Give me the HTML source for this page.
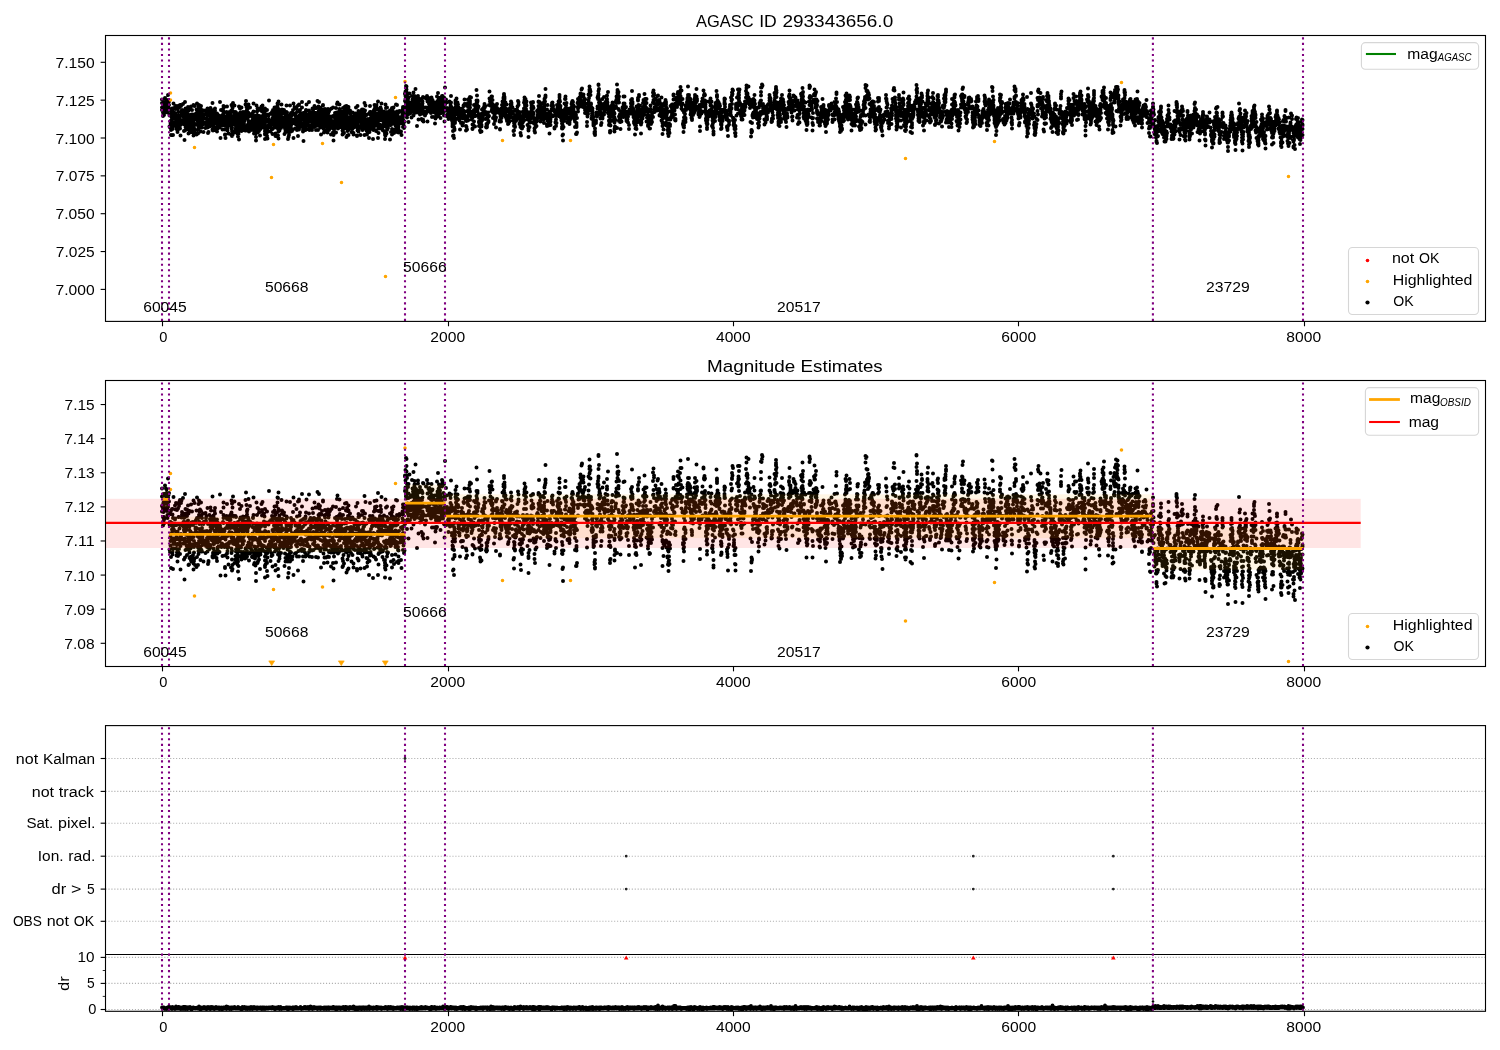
<!DOCTYPE html><html><head><meta charset="utf-8"><style>html,body{margin:0;padding:0;background:#fff;overflow:hidden}svg{display:block;will-change:transform}text{font-family:"Liberation Sans",sans-serif}</style></head><body>
<svg width="1500" height="1050" viewBox="0 0 1500 1050">
<rect width="1500" height="1050" fill="#fff"/>
<defs>
<clipPath id="ct"><rect x="105.5" y="35.5" width="1380" height="285.9"/></clipPath>
<clipPath id="cm"><rect x="105.5" y="380.5" width="1380" height="286"/></clipPath>
<clipPath id="cb"><rect x="105.5" y="725.6" width="1380" height="285.7"/></clipPath>
</defs>
<text x="696.03" y="26.9" font-size="16.67" textLength="57.56" lengthAdjust="spacingAndGlyphs">AGASC</text>
<text x="759.17" y="26.9" font-size="16.67" textLength="17.59" lengthAdjust="spacingAndGlyphs">ID</text>
<text x="782.48" y="26.9" font-size="16.67" textLength="110.71" lengthAdjust="spacingAndGlyphs">293343656.0</text>
<text x="707.03" y="372" font-size="16.67" textLength="88.16" lengthAdjust="spacingAndGlyphs">Magnitude</text>
<text x="800.64" y="372" font-size="16.67" textLength="82.06" lengthAdjust="spacingAndGlyphs">Estimates</text>
<path clip-path="url(#ct)" d="M162 103h0M162 110h0M162 107.5h0M162 99.5h0M162.5 107.5h0M162.5 107h0M162.5 107h0M163 112.5h0M163 116h0M163 109h0M163.5 110h0M163.5 106h0M163.5 102h0M163.5 114.5h0M163.5 112.5h0M164 106.5h0M164 113.5h0M164 115h0M164 112h0M164 108h0M164.5 102h0M164.5 105.5h0M164.5 106h0M164.5 105.5h0M165 98h0M165.5 106h0M165.5 105.5h0M165.5 103h0M165.5 105h0M165.5 105h0M165.5 109h0M165.5 104.5h0M165.5 106h0M166 99.5h0M166 101.5h0M166 104.5h0M166.5 101.5h0M166.5 106h0M166.5 100h0M166.5 104.5h0M166.5 102h0M167 109.5h0M167 103h0M167.5 111.5h0M167.5 112.5h0M167.5 105.5h0M167.5 108h0M168 103.5h0M168 95h0M168 108h0M168 107h0M168 103.5h0M168.5 102.5h0M168.5 105h0M169 105h0M169 101.5h0M169 109.5h0M169.5 126.5h0M169.5 115.5h0M170 110h0M170 127.5h0M170.5 114.5h0M170.5 125h0M170.5 111h0M170.5 121h0M170.5 123h0M171 130h0M171 135h0M171 116h0M171 109h0M172 115.5h0M172 108.5h0M172 122h0M172 119h0M172 118h0M172 115h0M172.5 129h0M172.5 111h0M172.5 108.5h0M172.5 126.5h0M172.5 127.5h0M172.5 115.5h0M173 123h0M173 135h0M173 112.5h0M173 117.5h0M173.5 122h0M173.5 103.5h0M173.5 117.5h0M173.5 124h0M174 118h0M174 126h0M174 124h0M174 116h0M174.5 123h0M174.5 122h0M175 107h0M175 113h0M175 113.5h0M175 115.5h0M175.5 115.5h0M175.5 109h0M176 119.5h0M176 106h0M176 126h0M176.5 121h0M176.5 129h0M176.5 122h0M176.5 115.5h0M177 109h0M177 124h0M177 119.5h0M177 122h0M177 124.5h0M177 128h0M177 119h0M177.5 132h0M177.5 118.5h0M177.5 119.5h0M177.5 124h0M177.5 127h0M178 129.5h0M178 106h0M178 129h0M178 108.5h0M178.5 115.5h0M178.5 122h0M178.5 128h0M178.5 112h0M179 107.5h0M179 126.5h0M179 122h0M179 112h0M179.5 117.5h0M179.5 105.5h0M180 124h0M180 116h0M180 128.5h0M180 105h0M180.5 125h0M180.5 135.5h0M180.5 120.5h0M181 121h0M181 106h0M181 122h0M181 120h0M181.5 115.5h0M181.5 105h0M181.5 112.5h0M182 111h0M182 110h0M182.5 112h0M182.5 115.5h0M182.5 112h0M182.5 116h0M182.5 111h0M182.5 122h0M183 104h0M183 112h0M183.5 115.5h0M183.5 124h0M183.5 116h0M183.5 116.5h0M183.5 114.5h0M184 118h0M184 113h0M184 124h0M184 118h0M184 131h0M184.5 114.5h0M184.5 119h0M184.5 123h0M184.5 111.5h0M184.5 115h0M184.5 140h0M184.5 119.5h0M185 130.5h0M185 112h0M185 102h0M185 123.5h0M185 119.5h0M185 121.5h0M185.5 117.5h0M185.5 115.5h0M185.5 110.5h0M185.5 127h0M185.5 108.5h0M186.5 126.5h0M186.5 118h0M186.5 111.5h0M186.5 115h0M186.5 126.5h0M186.5 125h0M187 123h0M187 120h0M187 111.5h0M187 129h0M187 116.5h0M187 115.5h0M187.5 116h0M187.5 116.5h0M187.5 109h0M188 116.5h0M188 114h0M188 116h0M188 107h0M188.5 133.5h0M188.5 110.5h0M188.5 121.5h0M189 122h0M189 127h0M189 133h0M189 122.5h0M189 125h0M189.5 116.5h0M189.5 130.5h0M189.5 109.5h0M189.5 118h0M189.5 121.5h0M189.5 125h0M189.5 125.5h0M189.5 128h0M189.5 124h0M190 120h0M190 121h0M190.5 130h0M190.5 122h0M190.5 126.5h0M190.5 118.5h0M191 106.5h0M191 115.5h0M191 122h0M191 131.5h0M191 130h0M191.5 132h0M191.5 114.5h0M191.5 125.5h0M192 119.5h0M192 124.5h0M192 119h0M192 110h0M192.5 125h0M192.5 130.5h0M192.5 130h0M193 114.5h0M193 129h0M193 115.5h0M193 125h0M193.5 133h0M193.5 121h0M193.5 105h0M193.5 135.5h0M194 125.5h0M194 123h0M194 128h0M194 131.5h0M194.5 130.5h0M194.5 125h0M194.5 106h0M195 133.5h0M195.5 117h0M195.5 117.5h0M195.5 124h0M195.5 119h0M196 113.5h0M196 119h0M196 117h0M196 115h0M196.5 134.5h0M196.5 109.5h0M197 103.5h0M197 113h0M197 112.5h0M197 130h0M197.5 120.5h0M198 125.5h0M198 124h0M198 113h0M198 125.5h0M198 121h0M198 133.5h0M198.5 121h0M198.5 119h0M198.5 125h0M198.5 125h0M198.5 106.5h0M198.5 128.5h0M198.5 127.5h0M199 125.5h0M199 111.5h0M199 105h0M199 117.5h0M199 125h0M199 123h0M199.5 112.5h0M199.5 126.5h0M199.5 109.5h0M199.5 110h0M199.5 119.5h0M199.5 115.5h0M199.5 114.5h0M200 109h0M200 127.5h0M200 111.5h0M200 122.5h0M200.5 125.5h0M200.5 119h0M200.5 121.5h0M200.5 127h0M200.5 131.5h0M201 126.5h0M201 109.5h0M201 106h0M201.5 115h0M201.5 111.5h0M201.5 123.5h0M201.5 120.5h0M201.5 118h0M201.5 127.5h0M201.5 127h0M201.5 119h0M201.5 122h0M202 127.5h0M202 117h0M202 122h0M202 112.5h0M202.5 120h0M202.5 122h0M202.5 119h0M202.5 121h0M202.5 124.5h0M203 123h0M203.5 114.5h0M203.5 115.5h0M203.5 110.5h0M203.5 132h0M204 122.5h0M204 123h0M204 118.5h0M205 123h0M205 123.5h0M205 114.5h0M205.5 118.5h0M205.5 128h0M205.5 110.5h0M206 113h0M206 124h0M206 114h0M206 125h0M206.5 112h0M207 121.5h0M207 125.5h0M207 122.5h0M207 125.5h0M207 118.5h0M207 118.5h0M207 119.5h0M207 124h0M207.5 108.5h0M207.5 127.5h0M208 123.5h0M208 121h0M208 115.5h0M208 133h0M208 124h0M208 124.5h0M208 133h0M208.5 132h0M208.5 132h0M209.5 126.5h0M209.5 111.5h0M209.5 120h0M210 113h0M210 121.5h0M210 119.5h0M210 121h0M210.5 116.5h0M210.5 114h0M210.5 118h0M210.5 124.5h0M210.5 125.5h0M210.5 108h0M211 122h0M211 122h0M211 109.5h0M211.5 112h0M211.5 116h0M212 122.5h0M212.5 103h0M212.5 117h0M212.5 116h0M212.5 121h0M212.5 130h0M212.5 129.5h0M212.5 117h0M212.5 117h0M213 121.5h0M213 128.5h0M213 130h0M213 122h0M213 130.5h0M213 113.5h0M213.5 111.5h0M213.5 112.5h0M213.5 113.5h0M213.5 124h0M213.5 126h0M213.5 128h0M214 124h0M214 121h0M214 113h0M214 115.5h0M214 115.5h0M214.5 118.5h0M214.5 115h0M214.5 109.5h0M215 127.5h0M215 123h0M215 130h0M215 108.5h0M215 110.5h0M215.5 114.5h0M215.5 128.5h0M215.5 118.5h0M215.5 121.5h0M215.5 119.5h0M215.5 121h0M215.5 116h0M215.5 122.5h0M216 114h0M216 118h0M216 122h0M216.5 120.5h0M216.5 123h0M216.5 114h0M216.5 122h0M216.5 118h0M216.5 122.5h0M216.5 130.5h0M217 113.5h0M217 127.5h0M217 115h0M217 117h0M217 131.5h0M217.5 126.5h0M217.5 123.5h0M217.5 126h0M217.5 128.5h0M217.5 114.5h0M218 121.5h0M218 117h0M218.5 123h0M218.5 117.5h0M218.5 125.5h0M218.5 120h0M219 115.5h0M219 119.5h0M219.5 123h0M219.5 127.5h0M219.5 118.5h0M219.5 117.5h0M219.5 121.5h0M220 125.5h0M220 116h0M220 102h0M220.5 122h0M220.5 117.5h0M220.5 117h0M220.5 138h0M221 119h0M221 125h0M221 110h0M221 121.5h0M221.5 125.5h0M221.5 121.5h0M221.5 118.5h0M222 124h0M222.5 120.5h0M222.5 129.5h0M223 121.5h0M223 114.5h0M223.5 106h0M223.5 115h0M223.5 118h0M223.5 111.5h0M223.5 112.5h0M223.5 108h0M224 112h0M224 120.5h0M224 118h0M224 118.5h0M224 117.5h0M224.5 118.5h0M224.5 125.5h0M225 135h0M225 124.5h0M225 134.5h0M225 129.5h0M225.5 122h0M225.5 138h0M226 117h0M226 121h0M226.5 124.5h0M226.5 112h0M227 106.5h0M227 128.5h0M227 112.5h0M227 116.5h0M227 117h0M227 113h0M227 125h0M227 124h0M227.5 126h0M227.5 125.5h0M227.5 120.5h0M227.5 130.5h0M227.5 127.5h0M227.5 116h0M228 120.5h0M228 117h0M228.5 133.5h0M228.5 125.5h0M228.5 124h0M228.5 119.5h0M229 124h0M229 113h0M229 120.5h0M229 120h0M229.5 120h0M229.5 115h0M229.5 123.5h0M229.5 112h0M229.5 116.5h0M229.5 119h0M229.5 119.5h0M230 116h0M230 112.5h0M230 113h0M230.5 117h0M230.5 113.5h0M230.5 119h0M231 111h0M231 120h0M231 134.5h0M231.5 110.5h0M231.5 119h0M231.5 128.5h0M231.5 121.5h0M231.5 126h0M231.5 105h0M231.5 116.5h0M232 131h0M232 116h0M232 122.5h0M232 106h0M232 127.5h0M232 136h0M232 119.5h0M232.5 122.5h0M232.5 123h0M232.5 135h0M232.5 117h0M232.5 108h0M232.5 133.5h0M233 111.5h0M233 124h0M233 103h0M233.5 117h0M233.5 121h0M233.5 112h0M234 116h0M234 124h0M234.5 115h0M234.5 123.5h0M234.5 132.5h0M234.5 105.5h0M235 122.5h0M235 124h0M235 117.5h0M235.5 131h0M235.5 129.5h0M235.5 123.5h0M235.5 123.5h0M235.5 119.5h0M235.5 112h0M236 123.5h0M236 116.5h0M236 115.5h0M236 127.5h0M236 118.5h0M236 126.5h0M236 112.5h0M236.5 116.5h0M237 120h0M237 129.5h0M237 119h0M237 125.5h0M237 117.5h0M237.5 133.5h0M237.5 128h0M237.5 126h0M237.5 127h0M237.5 131.5h0M237.5 118h0M237.5 122h0M238 136.5h0M238 125.5h0M238 130h0M238 132h0M238 121.5h0M238 118h0M238 114.5h0M238 123h0M238 124.5h0M238.5 134h0M238.5 121.5h0M238.5 121.5h0M238.5 126h0M239 106.5h0M239 118.5h0M239 139.5h0M239 120h0M239 127.5h0M239 129.5h0M239 116h0M239.5 125.5h0M239.5 118.5h0M239.5 123h0M239.5 115.5h0M240 108.5h0M240 120h0M240 113h0M240.5 125h0M240.5 122.5h0M240.5 112.5h0M240.5 117h0M241 129.5h0M241 117.5h0M241 121h0M241 125.5h0M241 117h0M241.5 123h0M241.5 131h0M241.5 128h0M241.5 107.5h0M241.5 130.5h0M242 118.5h0M242 115.5h0M242.5 115.5h0M242.5 128.5h0M242.5 122h0M242.5 119h0M242.5 114h0M242.5 124.5h0M243 128h0M243 112.5h0M243 112h0M243 117h0M243 124h0M243 117h0M243.5 119h0M243.5 114h0M243.5 129h0M243.5 119h0M243.5 121h0M243.5 128h0M244 118.5h0M244 119.5h0M244 123h0M244 117h0M244 130h0M244.5 120.5h0M244.5 117h0M245 118h0M245 112h0M245 128.5h0M245 130.5h0M245 118h0M245.5 116.5h0M245.5 104.5h0M245.5 115.5h0M245.5 126h0M246 114h0M246 126h0M246 130.5h0M246 101h0M246 117.5h0M246 115h0M246.5 116h0M246.5 107h0M246.5 118h0M247 111h0M247 127h0M247 130h0M247 109.5h0M247 109.5h0M247 116h0M247.5 118.5h0M247.5 118.5h0M247.5 125h0M247.5 109h0M247.5 115h0M248 116.5h0M248 117h0M248 112.5h0M248 116.5h0M248 114.5h0M248 128h0M248 116h0M248.5 104.5h0M248.5 123.5h0M248.5 121h0M248.5 113.5h0M248.5 113h0M249 115.5h0M249 131.5h0M249 116.5h0M249.5 128.5h0M249.5 126h0M249.5 116h0M250 122h0M250 114h0M250 107.5h0M250 114.5h0M250.5 114.5h0M251 126.5h0M251 124.5h0M251 127.5h0M251.5 123.5h0M251.5 127.5h0M251.5 124.5h0M251.5 121.5h0M252 127h0M252 130h0M252.5 129.5h0M252.5 116.5h0M252.5 119.5h0M253 112.5h0M253 112.5h0M253 122.5h0M253 115h0M253.5 130h0M253.5 103.5h0M253.5 111.5h0M254 121.5h0M254 128h0M254 117h0M254 133.5h0M254.5 129.5h0M254.5 118h0M254.5 125.5h0M254.5 132.5h0M255 116.5h0M255 128h0M255 130.5h0M255.5 126h0M255.5 133.5h0M255.5 121.5h0M256 137h0M256 122h0M256 140.5h0M256.5 105.5h0M256.5 127.5h0M256.5 115.5h0M256.5 128.5h0M256.5 129.5h0M257 119h0M257 115h0M257 129h0M257 111.5h0M257 125.5h0M257 119h0M257 117h0M257.5 115.5h0M257.5 132.5h0M257.5 108.5h0M258 116h0M258 123h0M258 127h0M258 132h0M258.5 129.5h0M258.5 116h0M258.5 122.5h0M258.5 128h0M258.5 123.5h0M258.5 108.5h0M259 122.5h0M259 124h0M259 110h0M259 116.5h0M259 119.5h0M259 124h0M259 131h0M259.5 128.5h0M259.5 123.5h0M259.5 121.5h0M259.5 117.5h0M259.5 116h0M259.5 118.5h0M259.5 118.5h0M260 127h0M260 135.5h0M260 123.5h0M260 126.5h0M260 124.5h0M260.5 122h0M260.5 129h0M260.5 128h0M260.5 120.5h0M260.5 119h0M261 124.5h0M261 116.5h0M261.5 121.5h0M261.5 127h0M261.5 119.5h0M261.5 106.5h0M262 124.5h0M262 111.5h0M262 110h0M262 109h0M262.5 126h0M262.5 105.5h0M262.5 119h0M262.5 121.5h0M263 121.5h0M263 115.5h0M263.5 119.5h0M264 121h0M264 110.5h0M264 125h0M264 127.5h0M264 114h0M264.5 115h0M264.5 112h0M265 133.5h0M265 123h0M265 116.5h0M265 118.5h0M265 108.5h0M265 130h0M265 131.5h0M265 134.5h0M265 139h0M265.5 129.5h0M265.5 127.5h0M265.5 133.5h0M265.5 118.5h0M266 115.5h0M266 121.5h0M266 128.5h0M266 132h0M266.5 126h0M267 136h0M267 132.5h0M267 114.5h0M267 110h0M267.5 128h0M267.5 138.5h0M267.5 130.5h0M268 127h0M268 121h0M268.5 115.5h0M268.5 121h0M268.5 125h0M268.5 119h0M268.5 127h0M269 120h0M269 124.5h0M269 100.5h0M270 114h0M270 126h0M270 127h0M270 123h0M270.5 131.5h0M270.5 125h0M270.5 125h0M271 113.5h0M271 123h0M271 125.5h0M271.5 129.5h0M271.5 128.5h0M271.5 120.5h0M271.5 121.5h0M272 112h0M272 124.5h0M272.5 112.5h0M272.5 118h0M272.5 120h0M272.5 134h0M272.5 129h0M273 114.5h0M273 110h0M273 118.5h0M273 114.5h0M273 123h0M273.5 122.5h0M273.5 124.5h0M273.5 113h0M274 117.5h0M274 121.5h0M274 122h0M274 116h0M274.5 117.5h0M274.5 126h0M274.5 107.5h0M274.5 118h0M274.5 120h0M274.5 109.5h0M275 112.5h0M275 120.5h0M275 116h0M275 127.5h0M275.5 124.5h0M275.5 136h0M275.5 111h0M275.5 133.5h0M276 115h0M276 126h0M276 127h0M276 121.5h0M276 118h0M276.5 115.5h0M276.5 107h0M276.5 117.5h0M276.5 113.5h0M276.5 115.5h0M277 110h0M277 118.5h0M277 122h0M277 114.5h0M277 118h0M277 115.5h0M277.5 116h0M277.5 106h0M277.5 122h0M277.5 103.5h0M278 129h0M278 123h0M278 104h0M278 135.5h0M278 115.5h0M278 113h0M278.5 131.5h0M278.5 101.5h0M278.5 138.5h0M278.5 109.5h0M278.5 109h0M278.5 113.5h0M278.5 121.5h0M278.5 117.5h0M279 126.5h0M279 114h0M279 128h0M279 122h0M279 113h0M279 128h0M279 122.5h0M279 118.5h0M279.5 129.5h0M279.5 111.5h0M279.5 117.5h0M279.5 130.5h0M280 120h0M280 125.5h0M280 124.5h0M280 119.5h0M280 125h0M280 113h0M280 125h0M280 113h0M280.5 120h0M280.5 114h0M281 124h0M281 123.5h0M281 128h0M281 116h0M281.5 113h0M281.5 104.5h0M282 110.5h0M282 118h0M282 121.5h0M282 117h0M282 120h0M282 109.5h0M282.5 113h0M283.5 126h0M283.5 125h0M284 110h0M284 117.5h0M284 121.5h0M284 111.5h0M284.5 122.5h0M284.5 122h0M284.5 123h0M284.5 134h0M284.5 113.5h0M285 128.5h0M285 124h0M285 125h0M285.5 114.5h0M285.5 120.5h0M285.5 120h0M285.5 132h0M285.5 120.5h0M285.5 130.5h0M286 117.5h0M286 117.5h0M286.5 120h0M286.5 105.5h0M286.5 116h0M286.5 115.5h0M286.5 119h0M286.5 121.5h0M286.5 113h0M286.5 112h0M287 129h0M287 112.5h0M287 130.5h0M287.5 125.5h0M287.5 126.5h0M287.5 131h0M288 132h0M288 116h0M288 125.5h0M288 124h0M288 123h0M288 123h0M288 120.5h0M288 139h0M288.5 137h0M288.5 118h0M288.5 120h0M288.5 121.5h0M289 118h0M289 115.5h0M289 135h0M289 122h0M289 126h0M289.5 128.5h0M289.5 124h0M289.5 121h0M289.5 122h0M290 130.5h0M290 123.5h0M290 105.5h0M290 127.5h0M290 132h0M290.5 118h0M290.5 115.5h0M291 116.5h0M291 128h0M291 113h0M291 125.5h0M291 128h0M291 124h0M291.5 120.5h0M291.5 115h0M291.5 115.5h0M291.5 120h0M292 113h0M292 119.5h0M292 113.5h0M292 130h0M292 131h0M292 114.5h0M292.5 130h0M292.5 122h0M292.5 120.5h0M292.5 123.5h0M293 123h0M293 110h0M293.5 138h0M293.5 113.5h0M293.5 103.5h0M294 119.5h0M294.5 120h0M294.5 114.5h0M294.5 107h0M295 128.5h0M295 119.5h0M295 121h0M295.5 116h0M295.5 119h0M295.5 115h0M295.5 123h0M295.5 119.5h0M296 124.5h0M296 124.5h0M296 121h0M296 121h0M296 128.5h0M296.5 108.5h0M296.5 121h0M297 130h0M297 112h0M297 125h0M297 116.5h0M297 120h0M297 118h0M297.5 118.5h0M298 124h0M298 119.5h0M298 105.5h0M298 136h0M298.5 119.5h0M298.5 117h0M298.5 127.5h0M299 129.5h0M299 104.5h0M299 122.5h0M299 105h0M299 116h0M299 119.5h0M299.5 116.5h0M299.5 115.5h0M299.5 111.5h0M300 117h0M300 119h0M300 118.5h0M300 110h0M300.5 114h0M300.5 127h0M300.5 124.5h0M301 117.5h0M301 124.5h0M301 122.5h0M301 126.5h0M301 122h0M301.5 117h0M302 113.5h0M302 127h0M302 107.5h0M302 127h0M302 102h0M302 126.5h0M302 117h0M303 130h0M303 119h0M303 131.5h0M303 123.5h0M303 116.5h0M303.5 141h0M303.5 113h0M304 126.5h0M304 119h0M304 124.5h0M304.5 119h0M304.5 122.5h0M304.5 115h0M304.5 119h0M305 128h0M305 113h0M305 115h0M305 115.5h0M305.5 112.5h0M305.5 112h0M305.5 120h0M305.5 129.5h0M305.5 130h0M306 110h0M306 115h0M306 119h0M306.5 123h0M306.5 119.5h0M306.5 119.5h0M306.5 122.5h0M306.5 125h0M306.5 104.5h0M307 118.5h0M307.5 124h0M307.5 129h0M307.5 125h0M308 114.5h0M308 114.5h0M308 121.5h0M308.5 119.5h0M308.5 122h0M309 128h0M309 110.5h0M309 117h0M309 102h0M309.5 125.5h0M309.5 121h0M309.5 113.5h0M309.5 121.5h0M309.5 130h0M310 126.5h0M310 119h0M310 117.5h0M310 120.5h0M310.5 112.5h0M310.5 113h0M310.5 117.5h0M311 119.5h0M311 121.5h0M311 116h0M311 113.5h0M311 119.5h0M311.5 116.5h0M311.5 122h0M312 130h0M312 127h0M312 114.5h0M312.5 116.5h0M312.5 108.5h0M312.5 119.5h0M313 113.5h0M313 110.5h0M313 113h0M313 124h0M313.5 121h0M313.5 119h0M313.5 127h0M314 116.5h0M314 112.5h0M314.5 123.5h0M314.5 106h0M314.5 122h0M315 121.5h0M315 121.5h0M315 125h0M315 117h0M315.5 119.5h0M315.5 108h0M315.5 115.5h0M315.5 116h0M315.5 121.5h0M316 130h0M316 120.5h0M316 126h0M316 113h0M316 120h0M316.5 108h0M316.5 114.5h0M317 114h0M317 118h0M317 118.5h0M317 115h0M317.5 113.5h0M317.5 125h0M317.5 116.5h0M317.5 101h0M318 120.5h0M318 121.5h0M318 125h0M318 130h0M318.5 111.5h0M318.5 119.5h0M318.5 118h0M318.5 106.5h0M319 102h0M319 126h0M319 112.5h0M319 115.5h0M319 117h0M319 116.5h0M319 120h0M319.5 108.5h0M319.5 115.5h0M319.5 117.5h0M319.5 111h0M320 113.5h0M320 116.5h0M320 117.5h0M320 107.5h0M320 116h0M320.5 120.5h0M320.5 126h0M320.5 122.5h0M320.5 127.5h0M321 119h0M321 118h0M321 134.5h0M321 119.5h0M321.5 115h0M321.5 113.5h0M321.5 111h0M322 109.5h0M322.5 123h0M322.5 116.5h0M322.5 122.5h0M322.5 117h0M323 105h0M323 105.5h0M323.5 116h0M323.5 128.5h0M323.5 124.5h0M324 126.5h0M324 121h0M324 132.5h0M324 119h0M324 115.5h0M324 121h0M324 116.5h0M324.5 126.5h0M324.5 130.5h0M324.5 124.5h0M324.5 111.5h0M325 112.5h0M325 123h0M325 111.5h0M325 122h0M325 109h0M325 116.5h0M325.5 123h0M325.5 114h0M325.5 125.5h0M326 126.5h0M326 130.5h0M326 118h0M326 120.5h0M326 120.5h0M326 123h0M326.5 109.5h0M327 123h0M327 125h0M327 111h0M327 109.5h0M327.5 117.5h0M327.5 132.5h0M327.5 124h0M328 115.5h0M328 120h0M328 109h0M328 129.5h0M328 115h0M328.5 124.5h0M328.5 110.5h0M328.5 120.5h0M328.5 112.5h0M329 124.5h0M329 130h0M329 128h0M329 124h0M329 127h0M329 111.5h0M329 110.5h0M329 118h0M329.5 127.5h0M329.5 120.5h0M330 125h0M330 109.5h0M330 117.5h0M330 116.5h0M330 122.5h0M331 134.5h0M331 125.5h0M331 128h0M331 117h0M331 119h0M331 125.5h0M331.5 122.5h0M331.5 108.5h0M332.5 126.5h0M332.5 126.5h0M332.5 121.5h0M332.5 125h0M332.5 123h0M333 116h0M333 107.5h0M333 132.5h0M333 122.5h0M333 122.5h0M333.5 135h0M333.5 124.5h0M333.5 128h0M333.5 123.5h0M333.5 140.5h0M334 129.5h0M334 125.5h0M334 123h0M334 128h0M335 113h0M335 120h0M335 118.5h0M335 120.5h0M335 127h0M335 126h0M335 127.5h0M335.5 118.5h0M335.5 125h0M336 127.5h0M336 118h0M336 116h0M336 132.5h0M336 108h0M336 119.5h0M336 120.5h0M336.5 112.5h0M337 119.5h0M337 124h0M337 104h0M337 127.5h0M337 120.5h0M337 114h0M337 127.5h0M337.5 120.5h0M337.5 117h0M337.5 102.5h0M337.5 126.5h0M337.5 120h0M338 115h0M338 119.5h0M338 128.5h0M338.5 117h0M338.5 119h0M338.5 116.5h0M338.5 112h0M339 112.5h0M339 117h0M339 117.5h0M339 127.5h0M339 121h0M339 118.5h0M339 123h0M339 119h0M339 126h0M339.5 109h0M339.5 104.5h0M339.5 122.5h0M340 117h0M340 121.5h0M340 111h0M340 117h0M340.5 119.5h0M340.5 121.5h0M340.5 119h0M341 127h0M341 115h0M341 125h0M341 116h0M341 119h0M341.5 112h0M341.5 120h0M341.5 112.5h0M341.5 126.5h0M341.5 115.5h0M342 121.5h0M342 118.5h0M342 119.5h0M342 113h0M342.5 134.5h0M342.5 117.5h0M342.5 130.5h0M343 111.5h0M343 134h0M343 127h0M343 132h0M343 108h0M343.5 129h0M343.5 119h0M344 123.5h0M344 133h0M344.5 122.5h0M344.5 115h0M344.5 121h0M345 113h0M345 122.5h0M345 120h0M345 122.5h0M345 117.5h0M345 106.5h0M345.5 117.5h0M345.5 118.5h0M345.5 124.5h0M346 125.5h0M346 109.5h0M346 128h0M346 126.5h0M346 120.5h0M346 123h0M346.5 106h0M346.5 137h0M346.5 117.5h0M346.5 115h0M347 128h0M347 124.5h0M347 117h0M347 108h0M347 126.5h0M347.5 131h0M347.5 113h0M347.5 109h0M347.5 122.5h0M347.5 135.5h0M347.5 109.5h0M348 121.5h0M348 112h0M348 120h0M348 122.5h0M348 123h0M348.5 109.5h0M348.5 109.5h0M348.5 135h0M348.5 126.5h0M348.5 107h0M348.5 122.5h0M348.5 129.5h0M348.5 120h0M348.5 120.5h0M349 120.5h0M349 123.5h0M349.5 122h0M349.5 123h0M349.5 117.5h0M349.5 125.5h0M349.5 122h0M350 121h0M350 110.5h0M350 117h0M350 127.5h0M350 117h0M350.5 123h0M350.5 112.5h0M350.5 126h0M350.5 118.5h0M350.5 113.5h0M351 123h0M351 124h0M351 116.5h0M351 128h0M351 124h0M351.5 132h0M352 120.5h0M352 118.5h0M352 125h0M352 123.5h0M352.5 129h0M352.5 112.5h0M352.5 123.5h0M353 117h0M353 117h0M353.5 125.5h0M353.5 124h0M353.5 134.5h0M353.5 126.5h0M353.5 133h0M353.5 117h0M353.5 119.5h0M354 113.5h0M354.5 117.5h0M354.5 124.5h0M354.5 117.5h0M354.5 122.5h0M354.5 115.5h0M355 117.5h0M355 127h0M355.5 120h0M355.5 119.5h0M355.5 122h0M355.5 113.5h0M356 107.5h0M356.5 122.5h0M357 122.5h0M357 136h0M357 121h0M357 123h0M357 135.5h0M357 118h0M357 115.5h0M357 125h0M357.5 122.5h0M357.5 127h0M357.5 114.5h0M357.5 130.5h0M357.5 122h0M357.5 106h0M358 119.5h0M358 116.5h0M358 121h0M358 128.5h0M358 120h0M358 117h0M358.5 127h0M358.5 117.5h0M358.5 111h0M358.5 112h0M358.5 131h0M358.5 127h0M358.5 131.5h0M359 112h0M359 115.5h0M359 115h0M359.5 126h0M359.5 128h0M359.5 119.5h0M359.5 119h0M359.5 126h0M359.5 119h0M360 115.5h0M360 118.5h0M360.5 127.5h0M360.5 135h0M360.5 121.5h0M360.5 118.5h0M361 122h0M361 123h0M361 125h0M361.5 115h0M361.5 120.5h0M361.5 119h0M362 127h0M362 124.5h0M362 118.5h0M362 127h0M362 129h0M362 122h0M362 111.5h0M362 118.5h0M362 109.5h0M362 121h0M362.5 122h0M362.5 130h0M362.5 124h0M363 109.5h0M363 117.5h0M363 114.5h0M363 115h0M363 120h0M363 121.5h0M363.5 119h0M363.5 115h0M363.5 116.5h0M364 116.5h0M364 119h0M364 125.5h0M364 122h0M364 126.5h0M364.5 112.5h0M364.5 135h0M364.5 121.5h0M364.5 103h0M365 122.5h0M365 128h0M365 120h0M365 110.5h0M365 121h0M365 115.5h0M365.5 119h0M365.5 122.5h0M365.5 105.5h0M365.5 119.5h0M366 124.5h0M366 126.5h0M366 121h0M366 123h0M366.5 115h0M366.5 124.5h0M366.5 130.5h0M367 119.5h0M367 128h0M367 124h0M367 134.5h0M367.5 124.5h0M367.5 130.5h0M367.5 120h0M367.5 132.5h0M368 119.5h0M368 119h0M368.5 128h0M368.5 124.5h0M369 126h0M369 113.5h0M369 138h0M369 122.5h0M369.5 132h0M369.5 123h0M369.5 114h0M370 124.5h0M370 119h0M370 126h0M370 106h0M370 113.5h0M370 112h0M370 129.5h0M370.5 128h0M370.5 112h0M370.5 121.5h0M370.5 121.5h0M371 117.5h0M371 129h0M371.5 114.5h0M371.5 120h0M372 116.5h0M372 124.5h0M372 116h0M372 125h0M372.5 113h0M372.5 112h0M372.5 113.5h0M372.5 116h0M373 115.5h0M373 139h0M373 114h0M373 122h0M373.5 119h0M373.5 122h0M373.5 130h0M373.5 123.5h0M374 115h0M374 110h0M374 124.5h0M374 126.5h0M374.5 109.5h0M374.5 126h0M374.5 105h0M374.5 119.5h0M374.5 126h0M375 113h0M375 108h0M375 130h0M375 109h0M375.5 122h0M376 109.5h0M376 122.5h0M376 131h0M376 116.5h0M376.5 113.5h0M376.5 105h0M376.5 107.5h0M376.5 115h0M377 121.5h0M377 123.5h0M377.5 122h0M377.5 126h0M377.5 122h0M378 138h0M378 118.5h0M378 120h0M378 101.5h0M378 114.5h0M378 123.5h0M378.5 116h0M378.5 128.5h0M378.5 124h0M378.5 133h0M378.5 109.5h0M378.5 115.5h0M379 128.5h0M379 120.5h0M379 113h0M379 116.5h0M379 117h0M379.5 126h0M379.5 124.5h0M379.5 119h0M380 113.5h0M380 126h0M380 128h0M380 111.5h0M380 126.5h0M380 112h0M380.5 118h0M380.5 113.5h0M380.5 107.5h0M380.5 115h0M381 114.5h0M381 126.5h0M381 125h0M381 115.5h0M381 109h0M381 110h0M381.5 103.5h0M381.5 117.5h0M381.5 118.5h0M381.5 112.5h0M381.5 120h0M382 120.5h0M382 127.5h0M382.5 113h0M382.5 127.5h0M382.5 116h0M382.5 130h0M383 112h0M383 127h0M383 114h0M384 131h0M384 123h0M384 111.5h0M384.5 125.5h0M384.5 119.5h0M385 131.5h0M385 139h0M385 118.5h0M385 126h0M385 132.5h0M385 116h0M385 133.5h0M385 132.5h0M385 124h0M385 135h0M385.5 104.5h0M385.5 133.5h0M385.5 116.5h0M385.5 115h0M385.5 135.5h0M386 108h0M386 123.5h0M386 124h0M386 123h0M386.5 122.5h0M386.5 126h0M386.5 133.5h0M386.5 125.5h0M386.5 124h0M387 128h0M387 120h0M387 118h0M387 130h0M387 107.5h0M387 112h0M387.5 114h0M387.5 128.5h0M387.5 123h0M388 124h0M388 123h0M388 128h0M388 117h0M388.5 118.5h0M389 117.5h0M389 123.5h0M390 110.5h0M390 118.5h0M390 139.5h0M390 124.5h0M390 120.5h0M390 113h0M390 122h0M390 121.5h0M390.5 124.5h0M390.5 115h0M390.5 123h0M390.5 124h0M390.5 125h0M390.5 116h0M391 123.5h0M391 132h0M391 115.5h0M391 125h0M391.5 117.5h0M391.5 117h0M391.5 111.5h0M391.5 112.5h0M391.5 124h0M392 121h0M392 129h0M392 108h0M392 116.5h0M392 110h0M392 122h0M392 134.5h0M392.5 109h0M392.5 119h0M392.5 119h0M392.5 119.5h0M393 115.5h0M393 116h0M393.5 131.5h0M393.5 112h0M393.5 123.5h0M393.5 123h0M393.5 107.5h0M393.5 113.5h0M394 122.5h0M394 133h0M394 118.5h0M394.5 116h0M395 120.5h0M395.5 129h0M395.5 125.5h0M395.5 129h0M395.5 118.5h0M395.5 114h0M395.5 112.5h0M395.5 125h0M395.5 118h0M396 116h0M396 123.5h0M396 121h0M396 104.5h0M396 118.5h0M396 113.5h0M396 123h0M396.5 119.5h0M397 132h0M397 120h0M397 111.5h0M397 105h0M397 111.5h0M397 115h0M397 119.5h0M397 124h0M397.5 121h0M397.5 115.5h0M398 125.5h0M398 113h0M398 127h0M398.5 132.5h0M398.5 127h0M398.5 132h0M398.5 129.5h0M399 112h0M399 121.5h0M399 118.5h0M399.5 111.5h0M399.5 111h0M399.5 123.5h0M400 121.5h0M400 123.5h0M400.5 122.5h0M401 117h0M401 131.5h0M401 131.5h0M401.5 135h0M402 120h0M402 122.5h0M402.5 121h0M402.5 113h0M402.5 110h0M402.5 114.5h0M402.5 111h0M402.5 123h0M402.5 122h0M402.5 117.5h0M403 122h0M403 123.5h0M403 108h0M403 121.5h0M403 127h0M403 116.5h0M403 107h0M403 119.5h0M403 111h0M403.5 123h0M403.5 123.5h0M403.5 125h0M403.5 121h0M404 107h0M404 128h0M404 108h0M404.5 127h0M404.5 121.5h0M405 114h0M405 115.5h0M405 108.5h0M405 94h0M405.5 96h0M405.5 99h0M406 102h0M406 103h0M406 110h0M406 107.5h0M406.5 100.5h0M406.5 104h0M407 97.5h0M407 117.5h0M407 94h0M407.5 108.5h0M407.5 107h0M407.5 109.5h0M407.5 106h0M407.5 113.5h0M408 99h0M408 111h0M408 114.5h0M408 108h0M408 113.5h0M408.5 97.5h0M408.5 122h0M408.5 111.5h0M408.5 103.5h0M408.5 108.5h0M408.5 102h0M409 107h0M409.5 109.5h0M409.5 93.5h0M410 108h0M410 107.5h0M410 113.5h0M410.5 111.5h0M410.5 103h0M410.5 103.5h0M410.5 107h0M411 111h0M411 102.5h0M411.5 117.5h0M411.5 109h0M411.5 108.5h0M411.5 112h0M411.5 106h0M412 111h0M412 112h0M412 96h0M412 102.5h0M412.5 99.5h0M413 106.5h0M413 101h0M413 102h0M413 99.5h0M413.5 92.5h0M413.5 108.5h0M413.5 105.5h0M413.5 107.5h0M413.5 103h0M413.5 115.5h0M414 107h0M414 103h0M414 110.5h0M414 100h0M414 99h0M414.5 109.5h0M414.5 98h0M414.5 96h0M414.5 104h0M414.5 113h0M414.5 98h0M414.5 108h0M414.5 109.5h0M414.5 106h0M414.5 110.5h0M415 100.5h0M415 102h0M415 99.5h0M415 103.5h0M415.5 112h0M415.5 108h0M415.5 101.5h0M415.5 109.5h0M415.5 89h0M416 108.5h0M416 110.5h0M416 100h0M416 102.5h0M416 107h0M416 108.5h0M416 104.5h0M416.5 102h0M416.5 102h0M416.5 109h0M416.5 104.5h0M417 101.5h0M417 102h0M417 126h0M417 112.5h0M417 111.5h0M417 108.5h0M417 106h0M417.5 101.5h0M417.5 103h0M417.5 107.5h0M418 107h0M418 96h0M418 110.5h0M418 105h0M418 97.5h0M418.5 105h0M418.5 119.5h0M418.5 104.5h0M418.5 109.5h0M418.5 107.5h0M418.5 100.5h0M419 104h0M419 108.5h0M419 101.5h0M419 104.5h0M419 106.5h0M419 105h0M419.5 105.5h0M419.5 109h0M419.5 110h0M420 107h0M420 113h0M420 114.5h0M420 99h0M420 108.5h0M420.5 107h0M420.5 108h0M421 107h0M421 107h0M421 106.5h0M421 112h0M421.5 101h0M421.5 111h0M421.5 100.5h0M421.5 119h0M422 113.5h0M422 101h0M422 108h0M422 111h0M422 104.5h0M422.5 113.5h0M422.5 106.5h0M422.5 120.5h0M422.5 110h0M422.5 111h0M422.5 103.5h0M422.5 101.5h0M422.5 112h0M423 97h0M423 110.5h0M423 119.5h0M423.5 121.5h0M423.5 97.5h0M424 107.5h0M425 115.5h0M426 111.5h0M426 113.5h0M426 98.5h0M426 107.5h0M427 96h0M427 108h0M427.5 121.5h0M427.5 101.5h0M427.5 109h0M428 108.5h0M428 97.5h0M428.5 108.5h0M428.5 100h0M429 107h0M429 111.5h0M429 104h0M429 110.5h0M429.5 99.5h0M429.5 101h0M429.5 106.5h0M430 103h0M430 103.5h0M430 108.5h0M430.5 101.5h0M430.5 108.5h0M430.5 103h0M431 113h0M431 106.5h0M431 104.5h0M431 112h0M431 109.5h0M431 110h0M431.5 102.5h0M431.5 111.5h0M431.5 104h0M431.5 97.5h0M432 104.5h0M432 117h0M432 106h0M432 100.5h0M432.5 108.5h0M432.5 100h0M433 103h0M433 104.5h0M433 108.5h0M433 110h0M433 108.5h0M433 106.5h0M433.5 103.5h0M433.5 104.5h0M433.5 109h0M434 106.5h0M434 104.5h0M434 117h0M434 111.5h0M434 112h0M434 108h0M434.5 108.5h0M434.5 108.5h0M434.5 112.5h0M434.5 102.5h0M435 110h0M435 123.5h0M435 111h0M435.5 118.5h0M435.5 107h0M436 117.5h0M436 117h0M436 116.5h0M436 113h0M436 113.5h0M436 107h0M436 106h0M436.5 105.5h0M436.5 109h0M437 116.5h0M437 96.5h0M437.5 102.5h0M437.5 101h0M437.5 112h0M437.5 102h0M437.5 104.5h0M438 110h0M438 93h0M438 103.5h0M438.5 108.5h0M438.5 105.5h0M438.5 101h0M438.5 100h0M438.5 103.5h0M439 99.5h0M439 98h0M439 114.5h0M439.5 110h0M439.5 112.5h0M439.5 106h0M439.5 98h0M439.5 103h0M439.5 113.5h0M440 108.5h0M440 100.5h0M440 110h0M440 107.5h0M440.5 105h0M440.5 118h0M440.5 102h0M441 104.5h0M441.5 103.5h0M441.5 113h0M441.5 111.5h0M441.5 110.5h0M441.5 105.5h0M441.5 106.5h0M441.5 106h0M442 96h0M442 99h0M442 111.5h0M442 111h0M442.5 96h0M442.5 109h0M442.5 98.5h0M442.5 97h0M442.5 110h0M442.5 108.5h0M443 106.5h0M443 112h0M443 113h0M443.5 109.5h0M443.5 101.5h0M444 109.5h0M444 108h0M444 109.5h0M444 115.5h0M444 97.5h0M444.5 121.5h0M444.5 111h0M444.5 103.5h0M444.5 115.5h0M444.5 103h0M445 104.5h0M445 87.5h0M445 104.5h0M446 99.5h0M446 108.5h0M446.5 109.5h0M446.5 116h0M446.5 102.5h0M446.5 110h0M447 108h0M447 115h0M448 111.5h0M448 113.5h0M448 115.5h0M448 111h0M448.5 112h0M448.5 113h0M448.5 119h0M448.5 113h0M448.5 108.5h0M448.5 114h0M449 109h0M449 111h0M449 115.5h0M449 114.5h0M449 113.5h0M449.5 110.5h0M449.5 110h0M449.5 101.5h0M449.5 112.5h0M450 116.5h0M450 102.5h0M450.5 106h0M450.5 104h0M451 96h0M451 102.5h0M451 107.5h0M451.5 107h0M451.5 112h0M451.5 108h0M451.5 116h0M452 119.5h0M452 119.5h0M452 109.5h0M452 109.5h0M452 120.5h0M452 112.5h0M452 119.5h0M452.5 115.5h0M452.5 123h0M452.5 119.5h0M452.5 125h0M452.5 126.5h0M453 125h0M453 126.5h0M453 131h0M453 136h0M453.5 121.5h0M453.5 135.5h0M453.5 122.5h0M454 108.5h0M454 138h0M454 127h0M454 116.5h0M454.5 129h0M454.5 122.5h0M454.5 130h0M454.5 115h0M454.5 118h0M454.5 117.5h0M454.5 112h0M455 109h0M455 111h0M455 118.5h0M455 122h0M455 120.5h0M455 123h0M455.5 102h0M455.5 112h0M455.5 110h0M455.5 109.5h0M455.5 100.5h0M455.5 113h0M455.5 103.5h0M456 104h0M456 106h0M456.5 112.5h0M456.5 98.5h0M456.5 107h0M457 107h0M457 104h0M457 105h0M457.5 102.5h0M457.5 111.5h0M457.5 108h0M458 108h0M458 110h0M458 107h0M458 112h0M458 104.5h0M458 115h0M458.5 119h0M458.5 112h0M458.5 107.5h0M458.5 116h0M458.5 117h0M459 117.5h0M459 116h0M459.5 119h0M459.5 120.5h0M460 129.5h0M460 113.5h0M460.5 117.5h0M461 123h0M461.5 111h0M461.5 115h0M461.5 110h0M461.5 123h0M462 108.5h0M462.5 115h0M462.5 125.5h0M462.5 111h0M463 115.5h0M463 118.5h0M463 114.5h0M463 123h0M463 110h0M463 114h0M463.5 114h0M463.5 105.5h0M463.5 112.5h0M463.5 115.5h0M463.5 117h0M463.5 112h0M464 106h0M464 114h0M464 116h0M464.5 99.5h0M464.5 104h0M465 111.5h0M465.5 104h0M466 126h0M466 120.5h0M466 130.5h0M466.5 127h0M466.5 121h0M466.5 117.5h0M467 129.5h0M467 117.5h0M467 116h0M467 118.5h0M467.5 105.5h0M467.5 117.5h0M467.5 118.5h0M467.5 111h0M468 120.5h0M468 103h0M468 105h0M468 111.5h0M468 106.5h0M468 107h0M468 99.5h0M468.5 110.5h0M468.5 113h0M468.5 116h0M469 103.5h0M469 109.5h0M469.5 99.5h0M469.5 98h0M469.5 103.5h0M470 107.5h0M470 97h0M470 104.5h0M470 103h0M470 101h0M470.5 115h0M471 114h0M471 97.5h0M471 111.5h0M471 116h0M471 113.5h0M471.5 116h0M471.5 119.5h0M471.5 116.5h0M472 117h0M472 118.5h0M472 116.5h0M472.5 129h0M472.5 128.5h0M472.5 117.5h0M472.5 124.5h0M472.5 116.5h0M473.5 116.5h0M473.5 125h0M473.5 115h0M474 121.5h0M474 115h0M474 110h0M474 105h0M474 116h0M474.5 111.5h0M474.5 112.5h0M475 110h0M475 126.5h0M475 115.5h0M475 112h0M475 111h0M475.5 116h0M475.5 107.5h0M475.5 105.5h0M476 110h0M476 111h0M476 111.5h0M476.5 108.5h0M476.5 103h0M476.5 90h0M476.5 100.5h0M477 104.5h0M477 104h0M477 95.5h0M477 101h0M477.5 101.5h0M477.5 100.5h0M477.5 101.5h0M477.5 106h0M477.5 111.5h0M477.5 109.5h0M478 108h0M478 108h0M478.5 114.5h0M478.5 115h0M478.5 106.5h0M478.5 116h0M479 114h0M479 118h0M479 122.5h0M479 126h0M479 121.5h0M479.5 123h0M480 120.5h0M480 130.5h0M480.5 132h0M480.5 127h0M480.5 131h0M481 122.5h0M481.5 120h0M481.5 131.5h0M481.5 125h0M481.5 126.5h0M482 113.5h0M482 120.5h0M482 116.5h0M482 109.5h0M482.5 118.5h0M482.5 116.5h0M482.5 114h0M482.5 117h0M482.5 109h0M483 109.5h0M483 109h0M483.5 111h0M484 107h0M484 107.5h0M484 108.5h0M484 115h0M484.5 105.5h0M484.5 104h0M484.5 108h0M485 113h0M485.5 113h0M485.5 112h0M485.5 112h0M485.5 106h0M485.5 119h0M486 127h0M486.5 124h0M486.5 126h0M486.5 127.5h0M487 127h0M487 125h0M487.5 117.5h0M487.5 113.5h0M487.5 123.5h0M487.5 118h0M487.5 116h0M487.5 113h0M488 116h0M488 115h0M488 112.5h0M488 122.5h0M488 115h0M488.5 121h0M488.5 122h0M488.5 116.5h0M489 116h0M489 105h0M489.5 91.5h0M489.5 98.5h0M489.5 98.5h0M490 100h0M490 101.5h0M490.5 99.5h0M490.5 99h0M490.5 103h0M491 106h0M491 105h0M491 99h0M491 105h0M491.5 96.5h0M491.5 105.5h0M491.5 98.5h0M491.5 111h0M492 109h0M492 104h0M492 104h0M492 107h0M492 96.5h0M492 106.5h0M492.5 106h0M492.5 111h0M492.5 100h0M492.5 104h0M492.5 106.5h0M493 118h0M493 108.5h0M493 112.5h0M493.5 109.5h0M494 117h0M494 124h0M494.5 118.5h0M494.5 115h0M494.5 117.5h0M495 118.5h0M495 121h0M495 118.5h0M495 121h0M495.5 109h0M495.5 113h0M495.5 119.5h0M495.5 112.5h0M495.5 118.5h0M496 127.5h0M496 105.5h0M496 105h0M496 117.5h0M497 109.5h0M497 104h0M497 108h0M497 111h0M497.5 110h0M497.5 110h0M498 112.5h0M498 109h0M498 111.5h0M499.5 121.5h0M500 120.5h0M500 129h0M500 113.5h0M500 129.5h0M500 121.5h0M500 120h0M500.5 115.5h0M500.5 116.5h0M501 110.5h0M501 121.5h0M501.5 115.5h0M501.5 114h0M501.5 117h0M501.5 117.5h0M501.5 108.5h0M501.5 118h0M501.5 116.5h0M501.5 115h0M501.5 114.5h0M501.5 112.5h0M501.5 114.5h0M502 111h0M502 111.5h0M502 109.5h0M502 105h0M502 115.5h0M502.5 101.5h0M502.5 111.5h0M502.5 105.5h0M502.5 107.5h0M503 108h0M503.5 115h0M503.5 97.5h0M503.5 107.5h0M503.5 108h0M503.5 98.5h0M504 103h0M504 94h0M504 95h0M504 98.5h0M504 100.5h0M504.5 97h0M504.5 106.5h0M504.5 99h0M504.5 98.5h0M504.5 101.5h0M504.5 98h0M505 113h0M505.5 104.5h0M505.5 102.5h0M505.5 116.5h0M506 110h0M506 104.5h0M506 110h0M506 117.5h0M506.5 118h0M506.5 109h0M506.5 104.5h0M506.5 119h0M507 115.5h0M507 121h0M507 118.5h0M507.5 116.5h0M507.5 118h0M508 124h0M508 111.5h0M508.5 123.5h0M508.5 117.5h0M508.5 111h0M508.5 116h0M509 116.5h0M509 110.5h0M509 119h0M509.5 110.5h0M509.5 109h0M509.5 110.5h0M509.5 114.5h0M509.5 113.5h0M509.5 121.5h0M509.5 114h0M509.5 111.5h0M510 108h0M510 111.5h0M510 113h0M510 115h0M510 111.5h0M510.5 110h0M510.5 104.5h0M510.5 110h0M511 111.5h0M511 101.5h0M511 104.5h0M511 104.5h0M511 115h0M511.5 112.5h0M511.5 111.5h0M511.5 105h0M511.5 108h0M511.5 107.5h0M511.5 103h0M512 117.5h0M512.5 107.5h0M512.5 111.5h0M513 120.5h0M513 113h0M513.5 131h0M514 130.5h0M514 126h0M514 123h0M514 126h0M514 135h0M514.5 124.5h0M514.5 123.5h0M515 110h0M515 115.5h0M515 121.5h0M515 127h0M515 120h0M515 126.5h0M515 120h0M515.5 118h0M515.5 121h0M516 118h0M516 120h0M516 121h0M516 110.5h0M516 115h0M516.5 118h0M516.5 119.5h0M517 114h0M517 112h0M517 109.5h0M517.5 106.5h0M517.5 111.5h0M518 116.5h0M518 101h0M518.5 104.5h0M518.5 105h0M518.5 102h0M519.5 118.5h0M519.5 114.5h0M519.5 119h0M519.5 112h0M519.5 124h0M520 122.5h0M520 117.5h0M520.5 127h0M520.5 133h0M520.5 124.5h0M521 135.5h0M521 127h0M521.5 127h0M521.5 123.5h0M521.5 126h0M521.5 128h0M522 122.5h0M522 128.5h0M522 119.5h0M522 123.5h0M522.5 116.5h0M522.5 122.5h0M522.5 122h0M523 116h0M523 111.5h0M523 126.5h0M523 115.5h0M523 112.5h0M523 122h0M523.5 117.5h0M524 108.5h0M524 115.5h0M524 114h0M524 102.5h0M524 114.5h0M524 114h0M524 120.5h0M524 114h0M524.5 114.5h0M524.5 100h0M524.5 101h0M524.5 113h0M524.5 97.5h0M524.5 102.5h0M525 106h0M525 101h0M525 102.5h0M525 99.5h0M525 104.5h0M525.5 101h0M525.5 99h0M526 103.5h0M526 109h0M526.5 101.5h0M526.5 112h0M526.5 105.5h0M527 113.5h0M527 111.5h0M527 117.5h0M527 113.5h0M527.5 119.5h0M527.5 125h0M527.5 118h0M527.5 118.5h0M528 116h0M528 118.5h0M528.5 130.5h0M528.5 128.5h0M528.5 137h0M528.5 130h0M528.5 118h0M529 115.5h0M529 118.5h0M529.5 119.5h0M529.5 116.5h0M529.5 117h0M529.5 127h0M529.5 122.5h0M530 112.5h0M530 112.5h0M530 116.5h0M530 119h0M530 118h0M530.5 118h0M530.5 119h0M530.5 122.5h0M531 111.5h0M531 114h0M531 113h0M531 102.5h0M531.5 107.5h0M531.5 113.5h0M531.5 107.5h0M531.5 117h0M531.5 105h0M531.5 108.5h0M532 108.5h0M533 106.5h0M533 102.5h0M533 112h0M533 115.5h0M533 102h0M533.5 113.5h0M533.5 108h0M533.5 122h0M534 118h0M534 123.5h0M534 118.5h0M534.5 128.5h0M534.5 131h0M534.5 122.5h0M534.5 123.5h0M535 132.5h0M535.5 123.5h0M535.5 126.5h0M535.5 127h0M536 122h0M536 121.5h0M536 119h0M536.5 121.5h0M536.5 126h0M536.5 118.5h0M537 111h0M537 121h0M537.5 110.5h0M537.5 111h0M537.5 115h0M537.5 110.5h0M537.5 115.5h0M538 112.5h0M538 114h0M538.5 106h0M538.5 101.5h0M538.5 111.5h0M538.5 102h0M538.5 118h0M538.5 111.5h0M538.5 109h0M539 96h0M539 107h0M539.5 102h0M539.5 116.5h0M540 107h0M540 105h0M540 108.5h0M540.5 121.5h0M540.5 108h0M540.5 105h0M540.5 103.5h0M540.5 108h0M541 119h0M541.5 112.5h0M541.5 107.5h0M541.5 116h0M541.5 109.5h0M541.5 114.5h0M542.5 114.5h0M542.5 111.5h0M542.5 119h0M543 103h0M543 116h0M543 115.5h0M543.5 119h0M543.5 113.5h0M543.5 114.5h0M543.5 119.5h0M543.5 119h0M543.5 109.5h0M544 111h0M544 123h0M544 117.5h0M544 108.5h0M544 107h0M544 103.5h0M544 112.5h0M544 103.5h0M544 107.5h0M544 108h0M544.5 106h0M544.5 99h0M544.5 101h0M544.5 99h0M545 101.5h0M545 98h0M545 101.5h0M545.5 97h0M545.5 96h0M545.5 95.5h0M545.5 89h0M545.5 116.5h0M546 115h0M546 118h0M546.5 113.5h0M546.5 118h0M546.5 114h0M546.5 116.5h0M546.5 115.5h0M547 119h0M547 125h0M547 126h0M547 109.5h0M547 117h0M547.5 117h0M547.5 119.5h0M547.5 121h0M547.5 105h0M547.5 124.5h0M548 119.5h0M548 119.5h0M548.5 124.5h0M548.5 125.5h0M549 122.5h0M549 121h0M549 121.5h0M549 115h0M549 125h0M549.5 117h0M549.5 112h0M549.5 115h0M549.5 125h0M549.5 133.5h0M549.5 115h0M550 117h0M550 122h0M550 113h0M550.5 121.5h0M550.5 119h0M550.5 125h0M550.5 118h0M551 117h0M551.5 115h0M551.5 106h0M551.5 109.5h0M552 115.5h0M552 104.5h0M552 103h0M552 110.5h0M552.5 105.5h0M552.5 102.5h0M553 106.5h0M553 105.5h0M553.5 109.5h0M553.5 116h0M554 109.5h0M554.5 128.5h0M554.5 127.5h0M554.5 115.5h0M555 112.5h0M555.5 122h0M555.5 122.5h0M556 126h0M556 115h0M556 119.5h0M556.5 123h0M556.5 116h0M556.5 111h0M556.5 114.5h0M557 105h0M557 110.5h0M557 113h0M557.5 114h0M557.5 110.5h0M557.5 107.5h0M558 108h0M558 106.5h0M558.5 110h0M558.5 107h0M558.5 104h0M558.5 110.5h0M558.5 116h0M558.5 101.5h0M558.5 106.5h0M558.5 111h0M559 107.5h0M559 110h0M559 116h0M559 108.5h0M559 104h0M559.5 97h0M559.5 99.5h0M559.5 95h0M559.5 101.5h0M560 101.5h0M560 106h0M560.5 109h0M560.5 117h0M560.5 106h0M561 111h0M561 116h0M561 112.5h0M561 115.5h0M561 118h0M561.5 114.5h0M561.5 110.5h0M561.5 120.5h0M562 127h0M562 123.5h0M562 112.5h0M562 128.5h0M562.5 120.5h0M562.5 128.5h0M562.5 124.5h0M562.5 135.5h0M563 140.5h0M563 134.5h0M563 117.5h0M563.5 127h0M564 118.5h0M564 121h0M564 119.5h0M564 115.5h0M564.5 112h0M564.5 103.5h0M564.5 113.5h0M564.5 113.5h0M564.5 115h0M564.5 116h0M565 109h0M565 99h0M565.5 111.5h0M565.5 96.5h0M565.5 99h0M565.5 104.5h0M566 111h0M566 105.5h0M566 107.5h0M566.5 103h0M566.5 112h0M566.5 112.5h0M567 112h0M567 114h0M567 116.5h0M567.5 122.5h0M567.5 122h0M567.5 119h0M568 119h0M568 113.5h0M568.5 109.5h0M568.5 113.5h0M569 120h0M569 112h0M569 121.5h0M569.5 122.5h0M569.5 108.5h0M569.5 124h0M570 120h0M570 118.5h0M570 109.5h0M570 118.5h0M570.5 112h0M570.5 117h0M570.5 119h0M571 110h0M571 110h0M571 116h0M571 114h0M571.5 112.5h0M571.5 104h0M572 103.5h0M572 104h0M572 102h0M572 106.5h0M572.5 101h0M572.5 106.5h0M572.5 111h0M572.5 108.5h0M572.5 104.5h0M573 106h0M573 102h0M573 116h0M573.5 110h0M573.5 107.5h0M573.5 114.5h0M573.5 108.5h0M573.5 112h0M573.5 116h0M573.5 105.5h0M574 118h0M574 106.5h0M574 113.5h0M574 116h0M574.5 118.5h0M574.5 119.5h0M575 121.5h0M575 116h0M575 127h0M575 112.5h0M576 117.5h0M576 115h0M576 126.5h0M576 134h0M576.5 127h0M576.5 125h0M576.5 123h0M576.5 127h0M576.5 126h0M576.5 125h0M576.5 134h0M577 118h0M577 132.5h0M577.5 107h0M577.5 103h0M578 111.5h0M578 107h0M578 99h0M578 108.5h0M578 102h0M578.5 104.5h0M579 103.5h0M579 100h0M579.5 104h0M579.5 103.5h0M579.5 97.5h0M579.5 100.5h0M580 98.5h0M580 106.5h0M580 100h0M580.5 93.5h0M580.5 95h0M580.5 97h0M581 100.5h0M581 100.5h0M581.5 94h0M581.5 89.5h0M581.5 96h0M582 88.5h0M582 96h0M582 88.5h0M582 101h0M582.5 96.5h0M582.5 103h0M582.5 95h0M583 95.5h0M583 104h0M583 103h0M583 102h0M583 107h0M583.5 104.5h0M583.5 104.5h0M583.5 97h0M583.5 94.5h0M583.5 103.5h0M583.5 103.5h0M583.5 101h0M583.5 104.5h0M584 105h0M584.5 100h0M584.5 103h0M584.5 105h0M584.5 107.5h0M585 99h0M585 110h0M585 106.5h0M585 113h0M585.5 112h0M586 109.5h0M586 112.5h0M586.5 110.5h0M587 114h0M587 122h0M587 126h0M587 109.5h0M587.5 116.5h0M587.5 103.5h0M588 110h0M588 114h0M588 107h0M588 111h0M588 109.5h0M588.5 110.5h0M588.5 102.5h0M588.5 100.5h0M588.5 106.5h0M588.5 94.5h0M589 105h0M589 98h0M589.5 106h0M589.5 107h0M589.5 86.5h0M589.5 89.5h0M589.5 91h0M589.5 104.5h0M589.5 95h0M589.5 93h0M590 91.5h0M590 89.5h0M590.5 95h0M590.5 91.5h0M590.5 110h0M591 108h0M591 104.5h0M591 110.5h0M591 108h0M591 109h0M591 107h0M591 103.5h0M591.5 107.5h0M591.5 108h0M591.5 118.5h0M592 113.5h0M592 108h0M592 117h0M592 115.5h0M592 119h0M592.5 108.5h0M592.5 117h0M592.5 118.5h0M592.5 113h0M592.5 111h0M592.5 114h0M592.5 112.5h0M593 118h0M593.5 122h0M593.5 124h0M593.5 124.5h0M593.5 125.5h0M593.5 121h0M593.5 123.5h0M593.5 122.5h0M594 121.5h0M594 125h0M594.5 133.5h0M594.5 132h0M595 135h0M595 123h0M595 128.5h0M595 134.5h0M595 133h0M595 131.5h0M595.5 121h0M596 123h0M596 116h0M596 120.5h0M596 121h0M596.5 114.5h0M596.5 113h0M596.5 112.5h0M597 116.5h0M597 113h0M597 116h0M597.5 108.5h0M597.5 106.5h0M597.5 97.5h0M598 96h0M598 99h0M598 97.5h0M598.5 98h0M598.5 85h0M598.5 91h0M598.5 84.5h0M598.5 95h0M598.5 94h0M599 89h0M599 102.5h0M599.5 102h0M599.5 109.5h0M599.5 100h0M599.5 104h0M599.5 101h0M599.5 107h0M599.5 114.5h0M599.5 104h0M600 102h0M600 115h0M600 114h0M600 111h0M600 111.5h0M600.5 118.5h0M600.5 103h0M600.5 107h0M601 117.5h0M601 125h0M601 115h0M601 108h0M601.5 114h0M601.5 113h0M601.5 123h0M602 108.5h0M602 116.5h0M602.5 99h0M602.5 106h0M602.5 118.5h0M602.5 117h0M603 105.5h0M603.5 106.5h0M603.5 109h0M603.5 104h0M604 97h0M604 104h0M604 114.5h0M604.5 106.5h0M604.5 112h0M604.5 109.5h0M604.5 104h0M604.5 106h0M604.5 110.5h0M605 105h0M605 108.5h0M605.5 102h0M605.5 105h0M607 95.5h0M607 99h0M607 95.5h0M607 100h0M607 99.5h0M607.5 105h0M607.5 102.5h0M608 113h0M608 92h0M608 109h0M608 106.5h0M608 110h0M608.5 113.5h0M609 111.5h0M609 116.5h0M609 116.5h0M609 121h0M609 120.5h0M609 125h0M609.5 123h0M610 132.5h0M610 131h0M610 125h0M610 117.5h0M610.5 131h0M610.5 125.5h0M611 116h0M611 114.5h0M611 121h0M611.5 120.5h0M611.5 116.5h0M611.5 107.5h0M611.5 111h0M611.5 106h0M611.5 109.5h0M611.5 109h0M612 105h0M612.5 102.5h0M613 105.5h0M613 111.5h0M613.5 114.5h0M613.5 109.5h0M614 114.5h0M614 119h0M614 112.5h0M614 114h0M614.5 117.5h0M614.5 122h0M614.5 122.5h0M614.5 113.5h0M614.5 129h0M614.5 131.5h0M615 127h0M615 126.5h0M615 127h0M615.5 120h0M615.5 108h0M615.5 107.5h0M616 101h0M616 103h0M616 106.5h0M616.5 96.5h0M616.5 102.5h0M616.5 99.5h0M616.5 103h0M617 128h0M617 84.5h0M617.5 92.5h0M617.5 93h0M617.5 93h0M617.5 92h0M617.5 90h0M617.5 95h0M618 93.5h0M618 102.5h0M618 101.5h0M618.5 109h0M618.5 92h0M618.5 96h0M618.5 99.5h0M618.5 98.5h0M619 96.5h0M619 102.5h0M619 116.5h0M619 110h0M619 121h0M619.5 115.5h0M619.5 119h0M620 116h0M620 114h0M620 122h0M620 120h0M620 117h0M620.5 122h0M620.5 118.5h0M620.5 129h0M620.5 119.5h0M621 113h0M621 115h0M621.5 121.5h0M621.5 115.5h0M621.5 112h0M622 116h0M622.5 107.5h0M622.5 113.5h0M622.5 111h0M623 109.5h0M623.5 96.5h0M623.5 109h0M623.5 110h0M623.5 103.5h0M623.5 109h0M623.5 105.5h0M623.5 117h0M624 104h0M624 105.5h0M624.5 110h0M624.5 96.5h0M624.5 104h0M624.5 103.5h0M625.5 115h0M625.5 116.5h0M625.5 112h0M625.5 117h0M625.5 107.5h0M626 107h0M626.5 116h0M626.5 121h0M626.5 115.5h0M626.5 119.5h0M627 114h0M627 115h0M627.5 119.5h0M627.5 117.5h0M628 114h0M628 111.5h0M628 122.5h0M628 116.5h0M629 125h0M629 129h0M629.5 109.5h0M629.5 112.5h0M630 113.5h0M630 111h0M630.5 112h0M631 113.5h0M631 100h0M631 103.5h0M631 106.5h0M631 103h0M631.5 101h0M631.5 108h0M631.5 104h0M631.5 107.5h0M632 99h0M632 103.5h0M632 91h0M632 107h0M632.5 103.5h0M632.5 104h0M632.5 108h0M632.5 102h0M633 109h0M633.5 115h0M633.5 113h0M633.5 117h0M633.5 109h0M633.5 112.5h0M634 111h0M634 123h0M634 115.5h0M634 121.5h0M634 118h0M634.5 114.5h0M635 122.5h0M635 125h0M635 119h0M635 120h0M635 116h0M635 134.5h0M635 124.5h0M635.5 128.5h0M636 128h0M636 120h0M636 125.5h0M636.5 129h0M636.5 120h0M636.5 117h0M636.5 106.5h0M637 117h0M637 119h0M637 122.5h0M637 114h0M637.5 111h0M637.5 109h0M637.5 116h0M637.5 112h0M637.5 119h0M637.5 106.5h0M637.5 114.5h0M637.5 119h0M638 98h0M638 99.5h0M638 100.5h0M638 100h0M638.5 105h0M639 96.5h0M639 107h0M639 95h0M640 111h0M640 121.5h0M640 110h0M640 105.5h0M640.5 117h0M640.5 113.5h0M640.5 120.5h0M640.5 123h0M641 133.5h0M641 116h0M641 124.5h0M641 115.5h0M641.5 122.5h0M641.5 119.5h0M642 109.5h0M642 115.5h0M642.5 115h0M642.5 118.5h0M642.5 111h0M643 107.5h0M643 113.5h0M643 111h0M643 116h0M643 103h0M643.5 112.5h0M643.5 109.5h0M643.5 100h0M643.5 109h0M644 114.5h0M644 105.5h0M644.5 104h0M644.5 94h0M644.5 102.5h0M645 105h0M645 101.5h0M645 99h0M645.5 110h0M645.5 99.5h0M645.5 102.5h0M646 107.5h0M646.5 121.5h0M646.5 109h0M646.5 103h0M646.5 111.5h0M646.5 99h0M647 112h0M647 117.5h0M647 110.5h0M647 112h0M647.5 110h0M647.5 115.5h0M647.5 109h0M648 118.5h0M648 115h0M648 122h0M648 120h0M648 115h0M648 126h0M648 125h0M648.5 123.5h0M648.5 121h0M648.5 118h0M649 118h0M649 116h0M649 120h0M649.5 123.5h0M649.5 128.5h0M649.5 122h0M649.5 124h0M649.5 128.5h0M650 111.5h0M650 128.5h0M650 117.5h0M650.5 116h0M650.5 119.5h0M650.5 105.5h0M650.5 118h0M650.5 121.5h0M650.5 109h0M651 121h0M651 124h0M651.5 121h0M651.5 119h0M652 115h0M652 113h0M652 122h0M652.5 112.5h0M653 102.5h0M653 117h0M653 96h0M653 92.5h0M653.5 90.5h0M653.5 100h0M653.5 102.5h0M654 103.5h0M654 93.5h0M654 94.5h0M654 110h0M654.5 112h0M654.5 107.5h0M655 109.5h0M655 107.5h0M655.5 107h0M655.5 98.5h0M655.5 104h0M656.5 105h0M656.5 100h0M656.5 109h0M657 110.5h0M657.5 101.5h0M657.5 96h0M657.5 108.5h0M658 95.5h0M658 95.5h0M658 102h0M658 102h0M658 104.5h0M658.5 103h0M659 100.5h0M659 108.5h0M659 100h0M659.5 101.5h0M659.5 101h0M659.5 115.5h0M659.5 115h0M660 103h0M660 109.5h0M660 110.5h0M660.5 112h0M660.5 115h0M661 110.5h0M661 112.5h0M661 112.5h0M661 107h0M661.5 115.5h0M661.5 104h0M661.5 120.5h0M661.5 97.5h0M661.5 116.5h0M662 108h0M662 106.5h0M662 111h0M662.5 122.5h0M662.5 126h0M662.5 134h0M662.5 123h0M662.5 119h0M663.5 124h0M663.5 129.5h0M663.5 123.5h0M663.5 118h0M664 117h0M664 111.5h0M664.5 113h0M664.5 113h0M664.5 124.5h0M664.5 103h0M664.5 113.5h0M664.5 109.5h0M665 114.5h0M665 113.5h0M665 112h0M665 104h0M665 104.5h0M665 109h0M665.5 100h0M665.5 110.5h0M665.5 105.5h0M666 112.5h0M666 104.5h0M666 111h0M666 106.5h0M666 103h0M666 122.5h0M666 102h0M666.5 111.5h0M666.5 115h0M666.5 123.5h0M666.5 115.5h0M666.5 125.5h0M666.5 114h0M666.5 116h0M667 108.5h0M667 119.5h0M667 113.5h0M667 113.5h0M667.5 111.5h0M667.5 123.5h0M667.5 118.5h0M667.5 130h0M667.5 130h0M668 127h0M668 126h0M668 133.5h0M668 129.5h0M668.5 127.5h0M668.5 133.5h0M668.5 132h0M668.5 136h0M669 125.5h0M669 123.5h0M669 131.5h0M669 133h0M669 119h0M669 124.5h0M669 129.5h0M669.5 133h0M670 126h0M670 111.5h0M670 124.5h0M670.5 106h0M670.5 119.5h0M671 117h0M672 104.5h0M672 112h0M672 108h0M672 114.5h0M672 115.5h0M672 113h0M672 108.5h0M672.5 111.5h0M672.5 117h0M672.5 104.5h0M672.5 107h0M672.5 107.5h0M672.5 109h0M673 116h0M673.5 94.5h0M673.5 104.5h0M673.5 99.5h0M673.5 95.5h0M673.5 99.5h0M674 108h0M674 110h0M674.5 110.5h0M674.5 110h0M675 114.5h0M675 120h0M675.5 119h0M675.5 120.5h0M675.5 103.5h0M676 105.5h0M676 98h0M676 104h0M676.5 100h0M677 103h0M677 106h0M677 107h0M677.5 102h0M677.5 98h0M677.5 94h0M677.5 100.5h0M678 101.5h0M678 101h0M678 92h0M678.5 97.5h0M678.5 100.5h0M678.5 94h0M678.5 104h0M679 95h0M680 93h0M680 92.5h0M680.5 100h0M680.5 90.5h0M680.5 87h0M680.5 102.5h0M680.5 96h0M681 98h0M681.5 90.5h0M681.5 105.5h0M681.5 108.5h0M681.5 104h0M682.5 99h0M682.5 110h0M682.5 110h0M682.5 103.5h0M683 123.5h0M683 124.5h0M683 110h0M683.5 121h0M683.5 132h0M683.5 122h0M683.5 124h0M683.5 122h0M683.5 126.5h0M684 123.5h0M684 125.5h0M684 121h0M684 122h0M684 112.5h0M684 117.5h0M684 127.5h0M684.5 117h0M684.5 111.5h0M684.5 117h0M685 110h0M685 114h0M685 110.5h0M685.5 118h0M685.5 109h0M685.5 119h0M685.5 105.5h0M685.5 119.5h0M685.5 122h0M686 106.5h0M686 110h0M686 108h0M687 102h0M687 103h0M687.5 106h0M687.5 99.5h0M687.5 98.5h0M687.5 98h0M688 86.5h0M688 100h0M688 97h0M688 95h0M688 100h0M688.5 105h0M688.5 102h0M689 95h0M689 102h0M689 97.5h0M689 104.5h0M689.5 100.5h0M689.5 107h0M689.5 108.5h0M690 104.5h0M690 105.5h0M690 98.5h0M690.5 114.5h0M690.5 104.5h0M690.5 99.5h0M690.5 101h0M690.5 110h0M691 112.5h0M691.5 113.5h0M691.5 109.5h0M691.5 111h0M691.5 110.5h0M691.5 109.5h0M691.5 118h0M692 118.5h0M692 119h0M692 120h0M692 114h0M692 113.5h0M692 102.5h0M692.5 111.5h0M692.5 113.5h0M692.5 105.5h0M693 115h0M693 109h0M693 105.5h0M693.5 104h0M693.5 105.5h0M694 109h0M694 113h0M694 107h0M694 108.5h0M694.5 101.5h0M694.5 105.5h0M694.5 102h0M694.5 112h0M694.5 99h0M694.5 108h0M695 109.5h0M695 108h0M695 103.5h0M695 95h0M695 97h0M695.5 106h0M695.5 99.5h0M695.5 99.5h0M695.5 106h0M696 102.5h0M696 108h0M696 101.5h0M696 110h0M696 101h0M696 101.5h0M696 100.5h0M696 100.5h0M696.5 89h0M696.5 96.5h0M697 101h0M697 99h0M697 99h0M697 100.5h0M697.5 107h0M698.5 114.5h0M698.5 113.5h0M699 114.5h0M699 112.5h0M699 113.5h0M699 108h0M699 114h0M699.5 105h0M699.5 109.5h0M699.5 117h0M699.5 112h0M700 131h0M700 109.5h0M700 115h0M700 115.5h0M700 126.5h0M700 106h0M700.5 113.5h0M701 112.5h0M701 106h0M701 112.5h0M701.5 113.5h0M701.5 106h0M702 112.5h0M702 103.5h0M702 106.5h0M702 101.5h0M702.5 111.5h0M702.5 98.5h0M703 101.5h0M703.5 90.5h0M703.5 103.5h0M703.5 90.5h0M704 95.5h0M704 95h0M704 101.5h0M704.5 94h0M704.5 95.5h0M704.5 103h0M704.5 105.5h0M704.5 104h0M705 95h0M705 102.5h0M705 100.5h0M705.5 107h0M705.5 108h0M705.5 108h0M705.5 112h0M705.5 104.5h0M705.5 110.5h0M706 112h0M706 120.5h0M706 114h0M706 119h0M706 118.5h0M706.5 112h0M706.5 123h0M706.5 119h0M706.5 116h0M706.5 114.5h0M707 122h0M707 117.5h0M707 117.5h0M707 124.5h0M707 129h0M707 127.5h0M707 115h0M707 117h0M707.5 124h0M707.5 120h0M708 117h0M708.5 115h0M708.5 113h0M708.5 101.5h0M708.5 116.5h0M708.5 111.5h0M709 115.5h0M709 113.5h0M709 114.5h0M709.5 110.5h0M710 110.5h0M710.5 103.5h0M710.5 105.5h0M710.5 111h0M710.5 98.5h0M710.5 114h0M711 109.5h0M711.5 101.5h0M711.5 116h0M711.5 106h0M711.5 109h0M711.5 114.5h0M712 126h0M712 111h0M712.5 120.5h0M712.5 125h0M712.5 116h0M712.5 126.5h0M712.5 117.5h0M713 128h0M713 123h0M713.5 133.5h0M713.5 131.5h0M713.5 134.5h0M714 118h0M714 113.5h0M714 115h0M714.5 112.5h0M714.5 107h0M714.5 113h0M715 121h0M715 113h0M715.5 110.5h0M715.5 105.5h0M715.5 105h0M715.5 105.5h0M715.5 111h0M715.5 106.5h0M715.5 117h0M715.5 103h0M716 107h0M716 106.5h0M716 110h0M716.5 107.5h0M716.5 111h0M716.5 104.5h0M716.5 114h0M716.5 102.5h0M716.5 91h0M716.5 111h0M717 95.5h0M717 96.5h0M717 95h0M717 96h0M717 97h0M717 102.5h0M717.5 104h0M717.5 101.5h0M717.5 100.5h0M717.5 105.5h0M718 107.5h0M718 103h0M718.5 102h0M718.5 107h0M718.5 102.5h0M719 104h0M719.5 106.5h0M719.5 112.5h0M719.5 112.5h0M719.5 120h0M719.5 114.5h0M719.5 108.5h0M719.5 116.5h0M719.5 104.5h0M719.5 104h0M719.5 113.5h0M719.5 108.5h0M720 120.5h0M720 118.5h0M720 116h0M720 115h0M720 116h0M720 119.5h0M720 106h0M720.5 115.5h0M720.5 116h0M720.5 114h0M720.5 117h0M721 123h0M721 124.5h0M721 129h0M721 113.5h0M721.5 125h0M721.5 128.5h0M721.5 124h0M721.5 128h0M721.5 110h0M721.5 118h0M721.5 112.5h0M721.5 112h0M722 116h0M722 116h0M722.5 121h0M722.5 117.5h0M722.5 120h0M722.5 116.5h0M722.5 120h0M723 110h0M723 112h0M724.5 103h0M724.5 110.5h0M724.5 99h0M724.5 98.5h0M724.5 104h0M724.5 110h0M724.5 102h0M724.5 100h0M725 116h0M725 104h0M725 116h0M725 107h0M725 99h0M725.5 113h0M726 112.5h0M726 118h0M726.5 119.5h0M726.5 111h0M727 118h0M727 126.5h0M727 127.5h0M727.5 129h0M727.5 120h0M727.5 130h0M728 126h0M728 136h0M728 114h0M728.5 114.5h0M728.5 120.5h0M729 122h0M729 121.5h0M729 121h0M729 120.5h0M729 124.5h0M729 110h0M729.5 114h0M729.5 109h0M730 114h0M730 110h0M730 111h0M730 105h0M730 106.5h0M730 109h0M730 113h0M730.5 115h0M730.5 112.5h0M730.5 111.5h0M730.5 110.5h0M730.5 114h0M731 97.5h0M731 104.5h0M731 115.5h0M731.5 108h0M731.5 108.5h0M731.5 100.5h0M732 95h0M732 104h0M732 95.5h0M732 99.5h0M732 92.5h0M732.5 89.5h0M732.5 94h0M733 90.5h0M733 118h0M733 120.5h0M733.5 125h0M733.5 118h0M734 122.5h0M734 124.5h0M734 123.5h0M734 124h0M734.5 129h0M734.5 127h0M734.5 120h0M734.5 127h0M735 120h0M735 133h0M735.5 136h0M735.5 129h0M735.5 126h0M735.5 133h0M736 107h0M736 105h0M736 104h0M736 109h0M736 109h0M736.5 115.5h0M737 105h0M737 103.5h0M737 97.5h0M737.5 109h0M737.5 107h0M737.5 107h0M738 96.5h0M738 113.5h0M738 105.5h0M738 89.5h0M738.5 95.5h0M738.5 105h0M738.5 98.5h0M738.5 94h0M738.5 95h0M739 98h0M739 100.5h0M739 92h0M739 95h0M739.5 89.5h0M739.5 105h0M740 110.5h0M740 103h0M740.5 112.5h0M741 110.5h0M741 116h0M741 114.5h0M741 116h0M741.5 119.5h0M741.5 117h0M741.5 112h0M742 107.5h0M742 108.5h0M742.5 115.5h0M742.5 107h0M742.5 112h0M742.5 105h0M742.5 119.5h0M742.5 106h0M743 115.5h0M743 106.5h0M743.5 113h0M743.5 105.5h0M743.5 110h0M744.5 115h0M744.5 110.5h0M744.5 105.5h0M744.5 104.5h0M744.5 115h0M744.5 110h0M745 106.5h0M745 103.5h0M745 101.5h0M745.5 104h0M745.5 107h0M746 97.5h0M746 91h0M746.5 85.5h0M746.5 94h0M746.5 88h0M747 96.5h0M747 93h0M747.5 95h0M747.5 93.5h0M747.5 100.5h0M747.5 97h0M747.5 101h0M748 100h0M748.5 97.5h0M748.5 86.5h0M748.5 101.5h0M748.5 98.5h0M749 103.5h0M749.5 101h0M749.5 104.5h0M750 103.5h0M750 108h0M750 99.5h0M750.5 105h0M750.5 122h0M751 136.5h0M751.5 132h0M751.5 102h0M751.5 132.5h0M751.5 130h0M752 131h0M752 123h0M752 131.5h0M752.5 115h0M752.5 115h0M752.5 116h0M753 117.5h0M753 113.5h0M753.5 112.5h0M753.5 104h0M753.5 106.5h0M753.5 99h0M754 107.5h0M754.5 95h0M754.5 104h0M754.5 100.5h0M754.5 103h0M755 108h0M755 111.5h0M755 108h0M755 104h0M755 112h0M755 110h0M755 107.5h0M755 112h0M755.5 115h0M755.5 110.5h0M756 111h0M756 110h0M756 110h0M756 117.5h0M756 112h0M756.5 109h0M756.5 117.5h0M756.5 114h0M757 119h0M757 115h0M757 108h0M757.5 117h0M758 123.5h0M758.5 118h0M758.5 119.5h0M758.5 115h0M758.5 127.5h0M759 125.5h0M759 114.5h0M759 122h0M759 107.5h0M759 122h0M759 116h0M759.5 118.5h0M759.5 113h0M759.5 105.5h0M759.5 105.5h0M759.5 103h0M760 104.5h0M760 115.5h0M760 104h0M760.5 112h0M760.5 102.5h0M760.5 101h0M761 100.5h0M761 95.5h0M761 100.5h0M761 87.5h0M761 92h0M761.5 87.5h0M762 86.5h0M762 84.5h0M762.5 85.5h0M762.5 113.5h0M763 110.5h0M763 104h0M763 106.5h0M763 108h0M763.5 107h0M763.5 113h0M764 106.5h0M764 107.5h0M764 111h0M764 108h0M764.5 119.5h0M764.5 124.5h0M765 119.5h0M765.5 121h0M765.5 110.5h0M765.5 122.5h0M766 114h0M766.5 114.5h0M766.5 107.5h0M766.5 117h0M766.5 114h0M767 116.5h0M767 119.5h0M767 119h0M767 118h0M767.5 105h0M768 109h0M768 111h0M768 110h0M768 112.5h0M768 109.5h0M768 109.5h0M768.5 104h0M769.5 98h0M769.5 110.5h0M769.5 100.5h0M769.5 95h0M769.5 105h0M770 97.5h0M770 97.5h0M770.5 98.5h0M770.5 101.5h0M770.5 106.5h0M771 106.5h0M771 105h0M771 108.5h0M771 102.5h0M771.5 110h0M771.5 122h0M771.5 121.5h0M772 118.5h0M772 120h0M772 119h0M772 121.5h0M772.5 109.5h0M772.5 112.5h0M772.5 108.5h0M773 118.5h0M773 115.5h0M773.5 106h0M774.5 103h0M774.5 100.5h0M774.5 100.5h0M774.5 104.5h0M774.5 93h0M775 95.5h0M775 108h0M775 101.5h0M775 98h0M775.5 94h0M775.5 97h0M775.5 103h0M776 89h0M776 94h0M776 87h0M776 91h0M776 88.5h0M776 89.5h0M776.5 90.5h0M776.5 97h0M776.5 92.5h0M777 102.5h0M777 109.5h0M777.5 107.5h0M777.5 107.5h0M777.5 104.5h0M777.5 105.5h0M777.5 115h0M778 107.5h0M778 112.5h0M778 118h0M778 110h0M778.5 123h0M778.5 125h0M778.5 114.5h0M778.5 114h0M778.5 121.5h0M778.5 113h0M779 112.5h0M779 118.5h0M779 106.5h0M779.5 115h0M779.5 113.5h0M779.5 126h0M779.5 111h0M780 115.5h0M780 110h0M780 120h0M780.5 104.5h0M780.5 101.5h0M781 98.5h0M781 122h0M781 104h0M781.5 102.5h0M781.5 119h0M782 107h0M782 102.5h0M782 95h0M782.5 104.5h0M782.5 99h0M783 103.5h0M783 102h0M783 106h0M783 99.5h0M783 99.5h0M783.5 113.5h0M783.5 102h0M783.5 111.5h0M783.5 109h0M784 105h0M784 110.5h0M784 108.5h0M784.5 108.5h0M784.5 109.5h0M784.5 116.5h0M784.5 118.5h0M784.5 111h0M785 112.5h0M785 115.5h0M785.5 120h0M786 118.5h0M786 122h0M786.5 127h0M787 115h0M787 113.5h0M787.5 109.5h0M787.5 117.5h0M787.5 116.5h0M788 108h0M788.5 109.5h0M788.5 107.5h0M788.5 102h0M789 104h0M789 96.5h0M789 104h0M789 96h0M789.5 98h0M789.5 90.5h0M789.5 102h0M789.5 101.5h0M789.5 94.5h0M790.5 99.5h0M790.5 100.5h0M790.5 98.5h0M790.5 98h0M790.5 107h0M790.5 100.5h0M790.5 103h0M790.5 102.5h0M791 106.5h0M791 110h0M791.5 108.5h0M791.5 112.5h0M792 117h0M792 117h0M792.5 116.5h0M792.5 120.5h0M793 101.5h0M793 107.5h0M793 105.5h0M793.5 95.5h0M793.5 105h0M794 96.5h0M794 100.5h0M794 106h0M794 110.5h0M794 100.5h0M794.5 106h0M794.5 105.5h0M794.5 110.5h0M794.5 96.5h0M795.5 99.5h0M795.5 99.5h0M795.5 97.5h0M796 101h0M796.5 102.5h0M796.5 102h0M796.5 106h0M797 117.5h0M797 102h0M797 104.5h0M797 107h0M797.5 100.5h0M797.5 115h0M798 124h0M798 103.5h0M798 109.5h0M799 122h0M799 118h0M799.5 113.5h0M799.5 122.5h0M799.5 114h0M799.5 107h0M799.5 110.5h0M799.5 107h0M800 103.5h0M800 109.5h0M800.5 104h0M800.5 106h0M801 108h0M801 109.5h0M801 94h0M801 102.5h0M801 107.5h0M801 104h0M801.5 94.5h0M801.5 93.5h0M801.5 104h0M801.5 99.5h0M801.5 96h0M802 100.5h0M802 104.5h0M802 103.5h0M802 98.5h0M802 102h0M802.5 104.5h0M802.5 99h0M802.5 93.5h0M802.5 94.5h0M802.5 98.5h0M802.5 88h0M803 100h0M803 96.5h0M803 102.5h0M803 92h0M803.5 109.5h0M803.5 117h0M803.5 113h0M804 101.5h0M804 106.5h0M804 110h0M804 106.5h0M804 118.5h0M804 115.5h0M804.5 118.5h0M804.5 116.5h0M804.5 115h0M804.5 110.5h0M805.5 110h0M805.5 110.5h0M805.5 102.5h0M805.5 118h0M805.5 116h0M805.5 113.5h0M805.5 120.5h0M805.5 118h0M806 114.5h0M806 121.5h0M806 115h0M806 112h0M806.5 123.5h0M806.5 130h0M806.5 119.5h0M807 125h0M807 119.5h0M807 122.5h0M807 119h0M807 115.5h0M807 117h0M807.5 114.5h0M807.5 118h0M807.5 124h0M807.5 122h0M808 114.5h0M808 109.5h0M808 113h0M808 112.5h0M808 117.5h0M808.5 115.5h0M808.5 114.5h0M809 101.5h0M809.5 110.5h0M809.5 97.5h0M809.5 105h0M809.5 86h0M809.5 88h0M809.5 85.5h0M810 86.5h0M810 96h0M810 98h0M810.5 97h0M810.5 101.5h0M811 97h0M811 103.5h0M811.5 105.5h0M811.5 104.5h0M811.5 109.5h0M811.5 102.5h0M811.5 117.5h0M811.5 108h0M812 109.5h0M812.5 118.5h0M812.5 118.5h0M812.5 118h0M812.5 123h0M812.5 130.5h0M813 125h0M813 113h0M813 118h0M813.5 101.5h0M813.5 100h0M814 102h0M814 94.5h0M814 100h0M814.5 95h0M814.5 95.5h0M814.5 89.5h0M814.5 94h0M815 93.5h0M815 95.5h0M815.5 93.5h0M815.5 106.5h0M815.5 107.5h0M815.5 103.5h0M815.5 100.5h0M816 99.5h0M816 100.5h0M816 92h0M816.5 100.5h0M816.5 101.5h0M816.5 107h0M816.5 101.5h0M816.5 102h0M816.5 102h0M816.5 106.5h0M816.5 103.5h0M816.5 99.5h0M817 111.5h0M817 118.5h0M817 105h0M817 105.5h0M817 110.5h0M817 113h0M817.5 101h0M818 118.5h0M818 122h0M818 119h0M818 114.5h0M818 120h0M818 119h0M818.5 120h0M819 122.5h0M819 120h0M819.5 120.5h0M819.5 125.5h0M819.5 119.5h0M820 123h0M820 113h0M820 122h0M820 118.5h0M820 125.5h0M820.5 117.5h0M821 120.5h0M821 107h0M821 114h0M821.5 110h0M821.5 121h0M821.5 117.5h0M821.5 112h0M822 117.5h0M822.5 99h0M822.5 107h0M823 106h0M823 106.5h0M823 109h0M823.5 106h0M823.5 113.5h0M823.5 109h0M823.5 105h0M824 110.5h0M824 111.5h0M824 114h0M824 112.5h0M824 110h0M824 114.5h0M824.5 122h0M824.5 114h0M824.5 116.5h0M825 114h0M825 117h0M825 109.5h0M825 124h0M825 123.5h0M825.5 116.5h0M825.5 126h0M825.5 119.5h0M826 121.5h0M826 132h0M826.5 121.5h0M826.5 118.5h0M826.5 124h0M826.5 124h0M826.5 113.5h0M827 122h0M827 117h0M827 114h0M827 119.5h0M827 123.5h0M827 116h0M827.5 115.5h0M827.5 119.5h0M827.5 118.5h0M827.5 111h0M827.5 115h0M827.5 117h0M827.5 117.5h0M827.5 113.5h0M828 113.5h0M828 114.5h0M828 119.5h0M828.5 114h0M828.5 115h0M828.5 111h0M829 105h0M829 106h0M829.5 106h0M829.5 108.5h0M830 110h0M830 106.5h0M830 110h0M830 109h0M830.5 110.5h0M831.5 103.5h0M831.5 106.5h0M832.5 108.5h0M832.5 115h0M832.5 119.5h0M832.5 114.5h0M832.5 122h0M834 115.5h0M834.5 112.5h0M834.5 102h0M834.5 119.5h0M835 112.5h0M835 111.5h0M835 108.5h0M835 105.5h0M835.5 113h0M835.5 111h0M835.5 105h0M836 98.5h0M836 106h0M836.5 107h0M836.5 92.5h0M836.5 94h0M837 102h0M837.5 115h0M838 112h0M838 110h0M838 109h0M838 114h0M838 114h0M838.5 109.5h0M838.5 117.5h0M838.5 118.5h0M838.5 118h0M838.5 119h0M839 116.5h0M839 118.5h0M839 119.5h0M839 111.5h0M839 117h0M839 121h0M839.5 114h0M839.5 122.5h0M839.5 121.5h0M839.5 122h0M840 126h0M840 126.5h0M840 124.5h0M840 132h0M840.5 128h0M840.5 125h0M840.5 125h0M840.5 125.5h0M840.5 117h0M840.5 125.5h0M840.5 129h0M841 130.5h0M841 131h0M841.5 125.5h0M841.5 128h0M841.5 118.5h0M842 129.5h0M842 121.5h0M842 121h0M842 128.5h0M842 119.5h0M842.5 119.5h0M843 121.5h0M843 107h0M843 114.5h0M843 118.5h0M843 118.5h0M843.5 118.5h0M843.5 114h0M843.5 114.5h0M843.5 121h0M843.5 119h0M843.5 117.5h0M843.5 115.5h0M844 115h0M844 116h0M844 109h0M844 107h0M844 110.5h0M844 120.5h0M844.5 111h0M844.5 107.5h0M844.5 109.5h0M844.5 106.5h0M845 107h0M845 113h0M845 117h0M845 102h0M845 107h0M845.5 102h0M845.5 105h0M845.5 104.5h0M845.5 95.5h0M845.5 107h0M846 101.5h0M846 106h0M846 100h0M846 96.5h0M846 96h0M846 99.5h0M846 107h0M846.5 101h0M846.5 98h0M846.5 98.5h0M846.5 93.5h0M846.5 101.5h0M846.5 110h0M847 110.5h0M847 109h0M847 105h0M847.5 116h0M847.5 107.5h0M847.5 110h0M847.5 117h0M847.5 111.5h0M848 118.5h0M848 117h0M848 119.5h0M848.5 107.5h0M848.5 114h0M848.5 106h0M849 118h0M849 110h0M849 110.5h0M849 100h0M849 104.5h0M849.5 109h0M849.5 111h0M849.5 106h0M849.5 108.5h0M849.5 95.5h0M850 118.5h0M850 105h0M850 116.5h0M850 100h0M850 108h0M850 97h0M850.5 106.5h0M850.5 110.5h0M851 114.5h0M851 110h0M851 116h0M851.5 130.5h0M851.5 120h0M851.5 124h0M851.5 113h0M852 115h0M852 118h0M852 116h0M852 117h0M852.5 121h0M852.5 109.5h0M852.5 117.5h0M852.5 119.5h0M853 125.5h0M853 122.5h0M853.5 120h0M854 123h0M854 123h0M854.5 120h0M854.5 125h0M854.5 118.5h0M855 125.5h0M855 121.5h0M855 120.5h0M855 113h0M855 114.5h0M855 116h0M855 121.5h0M855.5 117.5h0M855.5 112h0M855.5 109.5h0M855.5 121.5h0M855.5 116h0M855.5 113.5h0M855.5 112.5h0M855.5 113.5h0M856 110h0M856 119h0M856 104.5h0M856 116.5h0M856.5 110.5h0M856.5 107h0M857 103h0M857 104h0M857 104h0M857 102h0M857 107.5h0M857.5 102.5h0M857.5 98.5h0M857.5 109h0M857.5 112h0M857.5 109h0M857.5 98h0M858 97.5h0M858 104.5h0M858.5 107.5h0M858.5 107h0M859 111.5h0M859 126.5h0M859 121.5h0M859.5 121h0M859.5 120h0M859.5 121.5h0M860 130h0M860 128.5h0M860.5 110.5h0M860.5 117h0M860.5 125.5h0M860.5 124.5h0M861 129.5h0M861 124.5h0M861 115h0M861 116h0M861 123.5h0M861.5 128h0M861.5 121h0M862 121.5h0M862 115h0M862.5 122h0M863 115h0M863 112h0M863 113.5h0M863.5 105h0M863.5 115h0M863.5 115.5h0M863.5 110h0M864 103.5h0M864 107.5h0M864 108.5h0M864 101.5h0M864 104h0M864 107.5h0M864.5 104h0M864.5 104.5h0M864.5 100.5h0M864.5 101.5h0M864.5 106h0M864.5 104.5h0M865 102.5h0M865 98.5h0M865 97h0M865.5 88h0M865.5 85h0M865.5 108h0M865.5 124.5h0M865.5 115.5h0M865.5 97.5h0M866 86h0M866.5 85.5h0M866.5 91h0M867 95.5h0M867 91h0M867.5 91h0M868 93.5h0M868 94.5h0M868 97h0M868 99.5h0M868 97.5h0M868.5 95h0M868.5 93h0M868.5 114.5h0M868.5 96h0M869 95h0M869 95h0M869 99h0M869.5 98.5h0M869.5 104h0M869.5 121.5h0M869.5 116.5h0M870 122h0M870 120h0M870.5 111.5h0M870.5 117h0M870.5 109.5h0M871 112.5h0M871 103h0M871.5 102.5h0M871.5 103.5h0M871.5 106h0M872 104.5h0M872 115h0M872 106.5h0M872.5 105h0M872.5 101.5h0M873 110h0M873 109h0M873 102h0M873 101.5h0M873 112h0M873 105.5h0M873.5 106h0M873.5 109h0M873.5 117h0M873.5 116.5h0M873.5 110h0M874 102h0M874 114.5h0M874 107.5h0M874 106h0M874.5 121.5h0M874.5 119h0M874.5 111h0M875 114.5h0M875 116.5h0M875 119.5h0M875 117.5h0M875 124h0M875 109.5h0M875.5 127.5h0M875.5 130.5h0M875.5 122.5h0M876 121h0M876 129.5h0M876 125h0M877 124.5h0M877 119h0M877 121.5h0M877 121.5h0M877 122.5h0M877 118h0M878 101.5h0M878 109.5h0M878 108h0M878 98h0M878 110.5h0M878.5 110.5h0M878.5 99.5h0M879 107h0M879 98h0M879 101h0M879 111.5h0M879 109.5h0M879 99h0M880 117h0M880 116h0M880 111.5h0M880 115h0M880 120h0M880.5 109.5h0M880.5 120h0M880.5 118.5h0M881 122.5h0M881 122h0M881 127.5h0M881 117h0M881 123.5h0M881 115.5h0M881 127.5h0M881 126h0M881 122h0M881.5 126h0M881.5 129.5h0M881.5 126.5h0M882 131h0M882.5 123h0M882.5 135.5h0M883 122h0M883 116h0M883.5 116.5h0M884 114.5h0M884 120h0M884 115.5h0M884.5 119.5h0M885.5 115h0M885.5 114.5h0M885.5 112h0M886 95h0M886 98.5h0M886.5 99h0M886.5 107.5h0M886.5 101h0M887 103h0M887 116h0M887 115.5h0M887 107.5h0M887.5 113.5h0M887.5 111.5h0M887.5 114.5h0M887.5 104.5h0M888 123h0M888 121h0M888.5 120.5h0M889 126.5h0M889 123.5h0M889 122h0M889 128.5h0M889 121h0M889.5 117h0M889.5 119h0M889.5 115h0M890 118h0M890 123.5h0M890 114h0M890.5 116.5h0M891 108.5h0M891 117.5h0M891.5 124h0M891.5 119h0M891.5 112.5h0M891.5 110.5h0M891.5 113h0M892 106h0M892 115.5h0M892 113.5h0M892 105.5h0M892.5 106.5h0M892.5 106h0M892.5 99h0M893 99.5h0M893 108h0M893 102h0M893.5 109.5h0M893.5 100.5h0M893.5 90h0M893.5 100.5h0M894 88h0M894.5 90.5h0M894.5 98h0M895 100h0M895 97.5h0M895 106.5h0M895.5 103h0M895.5 106h0M896 118.5h0M896 116h0M896 114.5h0M896 107h0M896 112h0M896 108h0M896.5 126.5h0M896.5 129.5h0M896.5 113.5h0M896.5 110h0M896.5 121h0M897 123.5h0M897 116h0M897 126h0M897 121.5h0M897.5 127h0M897.5 118h0M897.5 119h0M897.5 122h0M897.5 122.5h0M897.5 125.5h0M897.5 122h0M897.5 112.5h0M898 120h0M898 111h0M898.5 120h0M899 113.5h0M899 115.5h0M899 99.5h0M899 95h0M899 110h0M899 97.5h0M899.5 99h0M899.5 103.5h0M899.5 103.5h0M899.5 106.5h0M900 107.5h0M900 110.5h0M900.5 115h0M900.5 111.5h0M900.5 110h0M900.5 113.5h0M901 116h0M901 115.5h0M901 120.5h0M901 120.5h0M901 127.5h0M901.5 107h0M902 101h0M902 107h0M902.5 108.5h0M902.5 99.5h0M902.5 103h0M903 102h0M903 100h0M903 98.5h0M903 102h0M903.5 105h0M903.5 92.5h0M903.5 100h0M903.5 104h0M903.5 117h0M904 112.5h0M904 125h0M904 112.5h0M904 119.5h0M904.5 110h0M904.5 116.5h0M904.5 120h0M904.5 114h0M904.5 114h0M905 121.5h0M905 118.5h0M905 122.5h0M905 116h0M905 126.5h0M905 121h0M905 130.5h0M905.5 118h0M905.5 131h0M905.5 126h0M906 120.5h0M906 123.5h0M906 124h0M906 126.5h0M906 124.5h0M906 130h0M906 120.5h0M906.5 119h0M906.5 119h0M906.5 123h0M906.5 117.5h0M907 113h0M907 109.5h0M907.5 110h0M907.5 110.5h0M908 113h0M908 121.5h0M908 106h0M908 108.5h0M908 98.5h0M908 116h0M908 103h0M908.5 110.5h0M908.5 106h0M908.5 108h0M909 101.5h0M909 103h0M909 96.5h0M909.5 99.5h0M910 109h0M910 105.5h0M910 109.5h0M910 114.5h0M910.5 110h0M910.5 116.5h0M910.5 115h0M910.5 119h0M910.5 121h0M910.5 132h0M911 118.5h0M911 127h0M911 118.5h0M911.5 117.5h0M912 133h0M912 123h0M912 127.5h0M912 118.5h0M912 125h0M912 119h0M912.5 117.5h0M912.5 111h0M912.5 107h0M912.5 115.5h0M912.5 118h0M912.5 106h0M913 116.5h0M913 116h0M913 115h0M913 113h0M913 112h0M913 117h0M913 115h0M913 105.5h0M913 106.5h0M913 111.5h0M913 112.5h0M913 114.5h0M913 108.5h0M913.5 115h0M913.5 111h0M913.5 113.5h0M913.5 113h0M914 107.5h0M914.5 107h0M914.5 108.5h0M915 103.5h0M915 102h0M915.5 103.5h0M916 100h0M916.5 96.5h0M916.5 85h0M916.5 85h0M916.5 90h0M917 93h0M917 92h0M917 91.5h0M917 88.5h0M917 101h0M917.5 98.5h0M917.5 101h0M917.5 100.5h0M917.5 109.5h0M917.5 102.5h0M917.5 110h0M918 109.5h0M918 100h0M918 103h0M918 112h0M918 115h0M918 114.5h0M918.5 120.5h0M918.5 118.5h0M918.5 116h0M918.5 121h0M918.5 112.5h0M918.5 116.5h0M919 120h0M919 111.5h0M919 116.5h0M919 119h0M919 110.5h0M919.5 112h0M919.5 120.5h0M919.5 115.5h0M919.5 118.5h0M919.5 122h0M919.5 106h0M920 107h0M920 116.5h0M920 108h0M920.5 116.5h0M920.5 101.5h0M920.5 106h0M920.5 107h0M920.5 99h0M921 103.5h0M921 104h0M921 97.5h0M921.5 98h0M921.5 93.5h0M921.5 98h0M922 95.5h0M922 97.5h0M922 97.5h0M922 109h0M922 96h0M922.5 108h0M922.5 101.5h0M922.5 113.5h0M922.5 112h0M923 115h0M923 108.5h0M923 116.5h0M923 112.5h0M923 125.5h0M923.5 122h0M924 121.5h0M924 122.5h0M924 130.5h0M924 118h0M924.5 123h0M925 107.5h0M925 116.5h0M925.5 103.5h0M925.5 111h0M925.5 111.5h0M925.5 115.5h0M926 113h0M926 110h0M926 120.5h0M926 106h0M926.5 115h0M926.5 110h0M926.5 120.5h0M927 105.5h0M927 103.5h0M927 105.5h0M927.5 95.5h0M927.5 99h0M927.5 96.5h0M927.5 93h0M927.5 100.5h0M927.5 96.5h0M927.5 95.5h0M927.5 100.5h0M928 99.5h0M928 99.5h0M928 103.5h0M928 90.5h0M928 104.5h0M928.5 97.5h0M928.5 101h0M929 116.5h0M929.5 110.5h0M929.5 108h0M929.5 109h0M929.5 117.5h0M930 114.5h0M930 122.5h0M930 121.5h0M930.5 119h0M931 121h0M931 114.5h0M931 108.5h0M931.5 103.5h0M931.5 114h0M931.5 112.5h0M932 109h0M932 97.5h0M932 112h0M932 112.5h0M932 105h0M932.5 97h0M933 109.5h0M933 102h0M933 107.5h0M933 93h0M933.5 98.5h0M933.5 102.5h0M934 105h0M934 107.5h0M934 107.5h0M934 111.5h0M934.5 114.5h0M934.5 116h0M934.5 111h0M934.5 117h0M934.5 109h0M935 124.5h0M935 112h0M935 112.5h0M935 111h0M935 118h0M935 125h0M935.5 124h0M935.5 116h0M936 121h0M936 121h0M936 120.5h0M936 116.5h0M936.5 115h0M936.5 120h0M936.5 115.5h0M936.5 107.5h0M936.5 105.5h0M936.5 112.5h0M937 113h0M937 103.5h0M937 109.5h0M937.5 112h0M937.5 106h0M937.5 100h0M937.5 96h0M938 102h0M938 97h0M938 101.5h0M938 95h0M938.5 100.5h0M938.5 101h0M938.5 107h0M938.5 104.5h0M938.5 105h0M939 123.5h0M939 103h0M939.5 108.5h0M939.5 110h0M939.5 111h0M939.5 109.5h0M939.5 108.5h0M940 117.5h0M940 111h0M940 111.5h0M940.5 114h0M940.5 121.5h0M940.5 115.5h0M940.5 121.5h0M940.5 114h0M941 111.5h0M941 114h0M941 120.5h0M941 121.5h0M941.5 120h0M941.5 115h0M941.5 119h0M942 117.5h0M942 126.5h0M942 118.5h0M942 117h0M942.5 115.5h0M942.5 106.5h0M942.5 117.5h0M943 116h0M943 105.5h0M943.5 112h0M943.5 108h0M943.5 106h0M943.5 105.5h0M944 107.5h0M944 98.5h0M944.5 95h0M944.5 105.5h0M944.5 101.5h0M944.5 95.5h0M945 100.5h0M945 102.5h0M945.5 99.5h0M945.5 93.5h0M945.5 102h0M945.5 95.5h0M945.5 94h0M945.5 98.5h0M946 92h0M946 91h0M946 89.5h0M946 111.5h0M946 122.5h0M946 111.5h0M946.5 113h0M946.5 111.5h0M946.5 120h0M946.5 112h0M946.5 114.5h0M946.5 122h0M947 111h0M947 120.5h0M947 121.5h0M947 115h0M947 120h0M947 115.5h0M947 118.5h0M947.5 116h0M947.5 114h0M948 118.5h0M948 114h0M948 114.5h0M948 122.5h0M948.5 115h0M948.5 116.5h0M948.5 119h0M948.5 114.5h0M949 112h0M949 116.5h0M949 127h0M949 118h0M949 121h0M949.5 121.5h0M950 119.5h0M950 122.5h0M950 114h0M950.5 120.5h0M950.5 120.5h0M951 116h0M951 115h0M951 113.5h0M951 116h0M951 118.5h0M951 117.5h0M951.5 127h0M951.5 123.5h0M951.5 110h0M952 116h0M952 104.5h0M952 104.5h0M952 119h0M952 111h0M952 99h0M952.5 115.5h0M952.5 109.5h0M952.5 112h0M953 109.5h0M953.5 108.5h0M953.5 106.5h0M953.5 103h0M953.5 109.5h0M953.5 103h0M953.5 108h0M954 102h0M954 102.5h0M954 106.5h0M954.5 101.5h0M954.5 105.5h0M954.5 106h0M954.5 95h0M954.5 108.5h0M954.5 97.5h0M954.5 96.5h0M955 102.5h0M955 94.5h0M955 102.5h0M955.5 114h0M955.5 105.5h0M955.5 105.5h0M955.5 111.5h0M955.5 105.5h0M955.5 105h0M955.5 112.5h0M956.5 121h0M957 111.5h0M957 117h0M957 122h0M957.5 116h0M957.5 125.5h0M958 118h0M958 110h0M958.5 130.5h0M958.5 115h0M958.5 121.5h0M958.5 119.5h0M959 123.5h0M959 116.5h0M959 119.5h0M959 123.5h0M959.5 127h0M959.5 121h0M960 112.5h0M960 123.5h0M960 115.5h0M960.5 112.5h0M960.5 119.5h0M961 104.5h0M961 107.5h0M961 96h0M961.5 97.5h0M961.5 106.5h0M961.5 104.5h0M962 106h0M962 107h0M962 96.5h0M962 101h0M962 101h0M962 99.5h0M962 94.5h0M962.5 89h0M962.5 94.5h0M962.5 96.5h0M962.5 95.5h0M963 87.5h0M963 107.5h0M963 104h0M963.5 97h0M963.5 101.5h0M964 96.5h0M964 97.5h0M964.5 96h0M964.5 109h0M964.5 104.5h0M964.5 109h0M965 105h0M965 110h0M965.5 108.5h0M965.5 116.5h0M965.5 112.5h0M966 117h0M966 117h0M966 118h0M966.5 123h0M966.5 111h0M966.5 114.5h0M966.5 110.5h0M967 119.5h0M967 122h0M968 112h0M968 109h0M968 104.5h0M968 102.5h0M968.5 100.5h0M968.5 98h0M968.5 102h0M968.5 104.5h0M969 106h0M969.5 97.5h0M970 99.5h0M970 101.5h0M970.5 99h0M971 101.5h0M971 99h0M971 108.5h0M971.5 101h0M972 107.5h0M972.5 112.5h0M972.5 115.5h0M972.5 117.5h0M972.5 119.5h0M972.5 106.5h0M973 127.5h0M973 118h0M973 121.5h0M973 122.5h0M973 122h0M973.5 120h0M973.5 115h0M973.5 116h0M973.5 118.5h0M973.5 125h0M974 126.5h0M974 108.5h0M974 122.5h0M974 124.5h0M974 112h0M974 124h0M974.5 113h0M974.5 112h0M974.5 115h0M974.5 111.5h0M975 121.5h0M975 120.5h0M975 115.5h0M975 114.5h0M975 115h0M975 112h0M975 117.5h0M975.5 124h0M975.5 111.5h0M975.5 114h0M976 108h0M976 101.5h0M976.5 110h0M976.5 108h0M976.5 114.5h0M976.5 105.5h0M977 108h0M977 99h0M977 97h0M977 107h0M977.5 100h0M977.5 100.5h0M977.5 97.5h0M977.5 114h0M977.5 106.5h0M978 96h0M978 110h0M978 110.5h0M978.5 101h0M978.5 99h0M978.5 110.5h0M978.5 115h0M979 116.5h0M979 117.5h0M979.5 120.5h0M979.5 122h0M979.5 118h0M979.5 118.5h0M979.5 116.5h0M979.5 119h0M979.5 125h0M980 117.5h0M980 120h0M980 124h0M980.5 126h0M980.5 124h0M980.5 123h0M981 122.5h0M981 118h0M981 116.5h0M981.5 121.5h0M981.5 120.5h0M982 123h0M982.5 117h0M982.5 113h0M982.5 111h0M982.5 114h0M982.5 115h0M982.5 118h0M983 111.5h0M983 117.5h0M983.5 111h0M983.5 110.5h0M983.5 115h0M983.5 109h0M984 111h0M984.5 95.5h0M984.5 101.5h0M985 99h0M985 97.5h0M985 104h0M985.5 105.5h0M986 114h0M986 113h0M986.5 123h0M986.5 117.5h0M986.5 123h0M987 119h0M987 130h0M987 125.5h0M987 114.5h0M987.5 113h0M987.5 122.5h0M987.5 116.5h0M987.5 102h0M988 110h0M988 113h0M988.5 125.5h0M988.5 117h0M988.5 110h0M988.5 111h0M988.5 110h0M989 107.5h0M989 111h0M989 107.5h0M989 120h0M989 99.5h0M989 113h0M989 114.5h0M989 104h0M989 108h0M989.5 105.5h0M990 112h0M990 108h0M990 105.5h0M990 114.5h0M990 110h0M990.5 110h0M990.5 110h0M991 111h0M991 113.5h0M991 105.5h0M991 106.5h0M991 101.5h0M991.5 106.5h0M991.5 109.5h0M992 112.5h0M992 105h0M992 107h0M992 87h0M992.5 87.5h0M992.5 91h0M992.5 105h0M993 108h0M993 102.5h0M993 107h0M993 96.5h0M993 104.5h0M993.5 108h0M993.5 106h0M993.5 100h0M993.5 111.5h0M993.5 105.5h0M994 116h0M994 111h0M994 116h0M994.5 112h0M994.5 113.5h0M994.5 110h0M994.5 112.5h0M994.5 119h0M994.5 123h0M994.5 120.5h0M994.5 119h0M995 120.5h0M995 123.5h0M995.5 116.5h0M995.5 117.5h0M995.5 124h0M995.5 125.5h0M995.5 124.5h0M996 126h0M996 127h0M996 135h0M996.5 124.5h0M996.5 131h0M996.5 121h0M996.5 118h0M997 125h0M997 118.5h0M997 122h0M997 122.5h0M997 110h0M997.5 114.5h0M997.5 116h0M997.5 120.5h0M997.5 116h0M997.5 118.5h0M997.5 115.5h0M998 121h0M998 117h0M998 118.5h0M998 123h0M998 108h0M998 112h0M998.5 119h0M998.5 122h0M998.5 117.5h0M999 117.5h0M999 116h0M999 119.5h0M999.5 115h0M999.5 111h0M999.5 109h0M999.5 120.5h0M1000 110.5h0M1000 115h0M1000 101h0M1000 98h0M1000 100h0M1000 94.5h0M1000.5 97.5h0M1001 103.5h0M1001 106h0M1001 95h0M1001 95h0M1001 103h0M1001.5 108h0M1001.5 103.5h0M1002 102h0M1002 111.5h0M1002 102.5h0M1002 113h0M1003 111.5h0M1003 120.5h0M1003 119h0M1003.5 122h0M1003.5 122.5h0M1004 120.5h0M1004.5 124.5h0M1005 120.5h0M1005 116h0M1005 121h0M1005.5 107.5h0M1005.5 123h0M1005.5 104h0M1005.5 119h0M1006 109.5h0M1006 106.5h0M1006.5 111h0M1006.5 120.5h0M1006.5 115h0M1006.5 113h0M1006.5 110.5h0M1007 106h0M1007 105.5h0M1007 103.5h0M1007 115h0M1007 105.5h0M1007.5 118h0M1007.5 109h0M1007.5 115h0M1007.5 118h0M1007.5 105h0M1007.5 108.5h0M1008 103h0M1008 114h0M1008.5 112.5h0M1008.5 106.5h0M1008.5 108h0M1009 103.5h0M1009.5 103.5h0M1009.5 103.5h0M1010 110h0M1010 99.5h0M1010 108.5h0M1010 113.5h0M1010.5 109.5h0M1010.5 111h0M1011 113.5h0M1011.5 117.5h0M1011.5 122.5h0M1012 120h0M1012 128.5h0M1012 124.5h0M1012 123h0M1012.5 113.5h0M1013 106.5h0M1013 112h0M1013.5 110h0M1013.5 102.5h0M1013.5 109.5h0M1013.5 104.5h0M1013.5 105h0M1013.5 113.5h0M1013.5 105.5h0M1014 104.5h0M1014 108.5h0M1014.5 97h0M1014.5 98.5h0M1014.5 86.5h0M1014.5 111h0M1014.5 90h0M1015 89h0M1015 103.5h0M1015.5 91.5h0M1015.5 89h0M1015.5 91h0M1016 104.5h0M1016 95.5h0M1016 102h0M1016 96h0M1016 105h0M1017 106h0M1017 109.5h0M1017 104.5h0M1017 107.5h0M1017.5 103h0M1017.5 105.5h0M1018 109h0M1018 112.5h0M1018 114h0M1018 113h0M1018 109.5h0M1018.5 113.5h0M1018.5 112.5h0M1018.5 115h0M1018.5 115.5h0M1018.5 118.5h0M1019 125.5h0M1019 114.5h0M1019 115h0M1019 125h0M1019 111h0M1019.5 123h0M1020 112h0M1020 115h0M1020 114h0M1020 110h0M1020 111h0M1020.5 113h0M1020.5 117h0M1020.5 117.5h0M1021 110.5h0M1021 103h0M1021 106h0M1021 109.5h0M1021 108h0M1021.5 105.5h0M1021.5 100h0M1022 108h0M1022.5 99.5h0M1022.5 100.5h0M1022.5 105h0M1022.5 106h0M1023 94.5h0M1023 98h0M1023 100.5h0M1023 103.5h0M1023.5 100h0M1023.5 104.5h0M1023.5 99h0M1023.5 108.5h0M1023.5 111.5h0M1024 109h0M1024.5 116h0M1024.5 113.5h0M1024.5 106.5h0M1024.5 104h0M1024.5 109.5h0M1024.5 113h0M1025 121.5h0M1025 122.5h0M1025.5 116.5h0M1025.5 118h0M1025.5 122h0M1025.5 121.5h0M1025.5 112h0M1025.5 116h0M1026 121.5h0M1026 121h0M1026 116.5h0M1026.5 124h0M1026.5 126h0M1027 136.5h0M1027 118h0M1027 97h0M1027.5 109h0M1027.5 133h0M1027.5 131h0M1027.5 128.5h0M1028 133.5h0M1028 119.5h0M1028.5 121h0M1028.5 128h0M1028.5 113h0M1028.5 113h0M1028.5 122h0M1028.5 109.5h0M1028.5 118h0M1029 120.5h0M1029 118h0M1029 124h0M1029 114.5h0M1030.5 111h0M1031 93h0M1031 103.5h0M1031 112h0M1031.5 105h0M1032 117.5h0M1032 109h0M1032 107.5h0M1032 111h0M1032.5 118.5h0M1032.5 114h0M1032.5 115.5h0M1033 115h0M1033 109h0M1033 108.5h0M1034 113.5h0M1034 125h0M1034.5 126.5h0M1034.5 123h0M1034.5 122.5h0M1034.5 134.5h0M1034.5 128h0M1034.5 116.5h0M1035 132h0M1035 129.5h0M1035 129.5h0M1035 123.5h0M1035 127h0M1035 128.5h0M1035 135h0M1035 125h0M1035.5 129h0M1035.5 133h0M1035.5 130h0M1036 127h0M1036 127.5h0M1036.5 124h0M1036.5 119h0M1037.5 111h0M1037.5 120h0M1037.5 106.5h0M1037.5 98h0M1037.5 105h0M1038 98h0M1038 114.5h0M1038 100h0M1038 91h0M1038.5 89.5h0M1038.5 98.5h0M1038.5 99.5h0M1038.5 92h0M1039.5 102h0M1039.5 98.5h0M1039.5 105h0M1039.5 97.5h0M1040.5 100.5h0M1040.5 93h0M1040.5 99h0M1041 105h0M1041 102h0M1041 108.5h0M1041 102h0M1042 106h0M1042 104h0M1042 101.5h0M1042 116.5h0M1042.5 105.5h0M1042.5 103.5h0M1042.5 114h0M1042.5 99h0M1042.5 111.5h0M1043 97h0M1043 105.5h0M1043 105h0M1043 108.5h0M1043 105h0M1043.5 115.5h0M1043.5 129.5h0M1044 131.5h0M1044.5 118.5h0M1044.5 123.5h0M1045 114.5h0M1045 115h0M1045 124h0M1045 113.5h0M1045 115.5h0M1045 115.5h0M1045 113h0M1045.5 113.5h0M1045.5 113h0M1045.5 107h0M1045.5 117h0M1046 117.5h0M1046 115h0M1046 106h0M1046 112.5h0M1046 100h0M1046 123.5h0M1046.5 110.5h0M1047 106.5h0M1047 101.5h0M1047 96h0M1047.5 102h0M1047.5 106h0M1047.5 96.5h0M1047.5 93h0M1048 107.5h0M1048.5 96h0M1048.5 98h0M1049 105h0M1049 104h0M1049 101h0M1049 103h0M1049.5 106.5h0M1049.5 111.5h0M1049.5 105.5h0M1050 112h0M1050 109h0M1050 112.5h0M1050.5 110h0M1050.5 108.5h0M1050.5 111h0M1050.5 109h0M1050.5 119h0M1050.5 110.5h0M1051 112h0M1051 117h0M1051 115h0M1051 128h0M1051 114.5h0M1051 117.5h0M1051.5 127h0M1051.5 114h0M1051.5 121.5h0M1051.5 117.5h0M1052 123h0M1052 119.5h0M1052 121.5h0M1052 123h0M1052 119h0M1052 117.5h0M1052.5 132h0M1052.5 120.5h0M1053 122.5h0M1053 124.5h0M1053 112.5h0M1053 114h0M1053 123.5h0M1053 124h0M1053.5 114.5h0M1053.5 121.5h0M1053.5 119.5h0M1054 125.5h0M1054.5 116h0M1054.5 109h0M1054.5 116.5h0M1054.5 114.5h0M1055 105h0M1055 109h0M1055 103.5h0M1055 107.5h0M1055 105h0M1055.5 119h0M1055.5 117h0M1055.5 122h0M1056 105.5h0M1056 116.5h0M1056 118.5h0M1056.5 122h0M1056.5 123.5h0M1056.5 132.5h0M1056.5 109.5h0M1056.5 120.5h0M1056.5 120h0M1056.5 127.5h0M1056.5 121.5h0M1057 120.5h0M1057 123.5h0M1057 120h0M1057 129h0M1057.5 124.5h0M1057.5 122h0M1057.5 124h0M1057.5 126h0M1058 129.5h0M1058 134h0M1058 127h0M1058 133h0M1058.5 124h0M1058.5 119h0M1058.5 130.5h0M1059 122.5h0M1059.5 113h0M1059.5 112h0M1059.5 118h0M1059.5 113.5h0M1060 109h0M1060 111h0M1060 114h0M1060.5 106h0M1060.5 106h0M1060.5 106h0M1061 98.5h0M1061 94h0M1061 98h0M1061 96.5h0M1061.5 91.5h0M1062 112h0M1062 112.5h0M1062 115.5h0M1062 113.5h0M1062.5 124h0M1062.5 118.5h0M1063 121.5h0M1063 132h0M1063 133h0M1063.5 133.5h0M1063.5 126h0M1063.5 131h0M1063.5 128.5h0M1063.5 127.5h0M1064.5 126h0M1064.5 118h0M1064.5 114h0M1065 130.5h0M1065 124h0M1065 118.5h0M1065.5 124h0M1065.5 121h0M1065.5 117.5h0M1065.5 111.5h0M1065.5 112.5h0M1065.5 119.5h0M1065.5 117h0M1066 119h0M1066 117.5h0M1066 122h0M1066.5 123.5h0M1066.5 116.5h0M1067 108h0M1067.5 108.5h0M1067.5 121h0M1067.5 113h0M1067.5 114.5h0M1068.5 100.5h0M1068.5 107.5h0M1068.5 98.5h0M1068.5 104h0M1068.5 101h0M1069 100h0M1069 114h0M1069 106.5h0M1069.5 100h0M1069.5 109h0M1070 104.5h0M1070 108h0M1070 113h0M1070.5 112h0M1070.5 108.5h0M1070.5 107.5h0M1070.5 107.5h0M1070.5 120h0M1070.5 111h0M1071 122.5h0M1071 116.5h0M1071 118h0M1071.5 115h0M1071.5 116.5h0M1071.5 112.5h0M1071.5 121.5h0M1071.5 116h0M1072 119h0M1072 120.5h0M1072 125h0M1072.5 112.5h0M1073 110h0M1073 107.5h0M1073 111.5h0M1073 111.5h0M1073 108h0M1073 106.5h0M1073 104.5h0M1073.5 98h0M1073.5 109.5h0M1073.5 94h0M1074 115.5h0M1074.5 101h0M1075 110h0M1075 96.5h0M1075 110.5h0M1075.5 101.5h0M1075.5 111.5h0M1075.5 112.5h0M1076 104h0M1076 104h0M1076 111.5h0M1076 96.5h0M1076 109.5h0M1076.5 101h0M1076.5 113.5h0M1076.5 113.5h0M1076.5 108.5h0M1077 114h0M1077 107.5h0M1077 120h0M1077.5 109h0M1078 114h0M1078 119.5h0M1078 114h0M1078.5 114h0M1078.5 115h0M1078.5 108h0M1078.5 110h0M1079 106h0M1079.5 96h0M1079.5 102.5h0M1080 93h0M1080 99.5h0M1080 94h0M1080 93h0M1080 98h0M1080.5 102h0M1080.5 100.5h0M1080.5 99h0M1080.5 91.5h0M1080.5 94.5h0M1081 102h0M1081 99h0M1081 98.5h0M1081.5 95.5h0M1081.5 105.5h0M1081.5 100.5h0M1081.5 99.5h0M1081.5 107.5h0M1081.5 102.5h0M1082 108.5h0M1082.5 106.5h0M1082.5 104h0M1082.5 114.5h0M1082.5 110.5h0M1082.5 110.5h0M1083 107h0M1083 111.5h0M1083.5 106.5h0M1083.5 113.5h0M1083.5 111.5h0M1083.5 106.5h0M1084 108h0M1084 109.5h0M1084 111h0M1084.5 106.5h0M1084.5 105h0M1084.5 113.5h0M1084.5 115.5h0M1084.5 117h0M1084.5 104h0M1084.5 117h0M1084.5 119h0M1085 111.5h0M1085 108h0M1085 119.5h0M1085 114.5h0M1085.5 135.5h0M1085.5 130.5h0M1085.5 119h0M1085.5 126h0M1086 122.5h0M1086 119.5h0M1086.5 116h0M1086.5 116h0M1087 118h0M1087 116.5h0M1087 99.5h0M1087.5 111.5h0M1087.5 101.5h0M1088 106h0M1088 96h0M1088 95h0M1088 99.5h0M1088 88.5h0M1088.5 102h0M1088.5 97h0M1088.5 102.5h0M1089 107h0M1089 105h0M1089 113h0M1089 110.5h0M1089 101.5h0M1089.5 118.5h0M1089.5 116.5h0M1089.5 116h0M1089.5 115h0M1089.5 109.5h0M1089.5 113.5h0M1089.5 115.5h0M1090 119h0M1090.5 115.5h0M1090.5 124.5h0M1090.5 124.5h0M1090.5 118.5h0M1090.5 116.5h0M1090.5 118.5h0M1091 121h0M1091 123h0M1091 117.5h0M1091 118.5h0M1091.5 116.5h0M1091.5 119h0M1091.5 107h0M1091.5 111h0M1091.5 103.5h0M1091.5 114.5h0M1092 111h0M1092 112.5h0M1092 110.5h0M1092 112h0M1092.5 110h0M1092.5 117h0M1093 107h0M1093 101.5h0M1093.5 112.5h0M1093.5 104h0M1093.5 99.5h0M1094 95h0M1094 101h0M1094 98h0M1094 91h0M1094 93h0M1094.5 114.5h0M1094.5 115.5h0M1094.5 108h0M1094.5 112h0M1094.5 115.5h0M1094.5 114h0M1095 112h0M1095 115h0M1095 115h0M1095 115h0M1095.5 121.5h0M1095.5 106h0M1095.5 108.5h0M1095.5 107.5h0M1096 115.5h0M1096 114.5h0M1096 112.5h0M1096 111.5h0M1096.5 125h0M1096.5 114.5h0M1096.5 121h0M1097 117h0M1097 120h0M1097 109h0M1097 114.5h0M1097.5 118h0M1097.5 111.5h0M1097.5 118.5h0M1097.5 122h0M1097.5 119.5h0M1097.5 120h0M1098 118.5h0M1098 115h0M1098 120h0M1098 119.5h0M1098.5 114.5h0M1098.5 118.5h0M1098.5 115.5h0M1099 119.5h0M1099 126.5h0M1099 126.5h0M1099.5 129.5h0M1099.5 116h0M1099.5 114h0M1099.5 118.5h0M1099.5 120.5h0M1099.5 113.5h0M1099.5 115.5h0M1099.5 113.5h0M1099.5 119h0M1100 119.5h0M1100 105.5h0M1100 117h0M1100 112h0M1100.5 104h0M1100.5 119h0M1100.5 106.5h0M1100.5 109h0M1100.5 110h0M1101 106.5h0M1101 113h0M1101 118h0M1101.5 96.5h0M1101.5 105h0M1102 97.5h0M1102 96h0M1102.5 99.5h0M1102.5 97.5h0M1102.5 95.5h0M1102.5 91h0M1102.5 96h0M1102.5 92.5h0M1102.5 100h0M1103 99h0M1103 95h0M1103.5 93.5h0M1103.5 92.5h0M1103.5 106.5h0M1103.5 90.5h0M1104 97h0M1104 87.5h0M1104 96h0M1104 96h0M1104 96h0M1104.5 101.5h0M1104.5 105h0M1104.5 99.5h0M1104.5 102.5h0M1105 108h0M1105 103.5h0M1105.5 105h0M1105.5 107.5h0M1105.5 113h0M1105.5 106.5h0M1106 98h0M1106 104h0M1106 103h0M1107 111h0M1107 106h0M1107 114.5h0M1107 113.5h0M1107 109h0M1107 118.5h0M1107 112h0M1107 111h0M1107.5 106h0M1107.5 118h0M1108 113.5h0M1108 119h0M1108 118.5h0M1108 129.5h0M1108 122h0M1108 112.5h0M1108.5 122h0M1108.5 123h0M1109 111h0M1109 116.5h0M1109 125h0M1109 119.5h0M1109 118.5h0M1109 109.5h0M1109 121.5h0M1109.5 113h0M1110 105.5h0M1110 112h0M1110 106.5h0M1110 116.5h0M1110 106h0M1110 116.5h0M1110.5 105.5h0M1110.5 92.5h0M1110.5 98.5h0M1110.5 100h0M1111 105.5h0M1111 96h0M1111 104h0M1111 104h0M1111.5 111h0M1111.5 112h0M1111.5 116h0M1111.5 112h0M1111.5 115.5h0M1112 108h0M1112 109.5h0M1112 114h0M1112 116.5h0M1112.5 130.5h0M1112.5 119.5h0M1112.5 116h0M1112.5 114.5h0M1112.5 133h0M1112.5 130h0M1113 119h0M1113 125h0M1113 122h0M1113 124h0M1113.5 120.5h0M1113.5 132.5h0M1113.5 126.5h0M1113.5 94.5h0M1114 97.5h0M1114 102.5h0M1114 96h0M1114 97h0M1114 102.5h0M1114 94.5h0M1114 94h0M1114.5 98h0M1114.5 92.5h0M1114.5 102.5h0M1114.5 93.5h0M1114.5 97.5h0M1114.5 101h0M1115 98.5h0M1115 90h0M1115 98.5h0M1115 97.5h0M1115 98.5h0M1115 98.5h0M1115.5 90h0M1115.5 126.5h0M1116 87h0M1116 90.5h0M1116 89h0M1116 93.5h0M1116 94.5h0M1116 97.5h0M1116.5 111h0M1116.5 93h0M1116.5 94.5h0M1116.5 93.5h0M1116.5 89.5h0M1117 93h0M1117 90h0M1117 89h0M1117 94h0M1117 95h0M1117.5 87h0M1117.5 91.5h0M1118 89.5h0M1118 111.5h0M1118 95h0M1118.5 102h0M1118.5 98.5h0M1118.5 101h0M1118.5 95.5h0M1118.5 103.5h0M1118.5 99.5h0M1119 104h0M1119 103.5h0M1119 105.5h0M1119 108.5h0M1119.5 105.5h0M1119.5 101.5h0M1119.5 110h0M1119.5 110h0M1120.5 111h0M1120.5 116.5h0M1120.5 109.5h0M1120.5 110.5h0M1120.5 125.5h0M1121 118h0M1121 121h0M1121 112h0M1121 112.5h0M1121.5 119.5h0M1121.5 117h0M1121.5 113.5h0M1121.5 114.5h0M1122 108h0M1122 106.5h0M1122 108.5h0M1122 105h0M1122.5 104.5h0M1122.5 108h0M1122.5 109.5h0M1123 110h0M1123 102h0M1123 101h0M1123 99.5h0M1123 105.5h0M1123.5 105h0M1124 114h0M1124 100.5h0M1124.5 90h0M1124.5 91h0M1124.5 98h0M1124.5 92.5h0M1125 95h0M1125 102.5h0M1125 92.5h0M1125.5 108h0M1125.5 101.5h0M1125.5 107h0M1125.5 106h0M1126 113h0M1126 114h0M1126.5 113h0M1126.5 117.5h0M1126.5 119h0M1127 109.5h0M1127 110.5h0M1127.5 112.5h0M1127.5 112h0M1127.5 104.5h0M1127.5 113h0M1127.5 110h0M1127.5 109.5h0M1128 117h0M1128 119h0M1128 108.5h0M1128 104.5h0M1128 107h0M1128.5 109.5h0M1128.5 109.5h0M1128.5 102h0M1129 104h0M1130 111h0M1130 100.5h0M1130 103h0M1130 102.5h0M1130 99.5h0M1130.5 99h0M1130.5 102.5h0M1130.5 107.5h0M1131 117.5h0M1131 106h0M1131 109h0M1131 102h0M1131 102.5h0M1131.5 107h0M1131.5 102.5h0M1131.5 110h0M1131.5 110.5h0M1131.5 114.5h0M1131.5 112h0M1132 111h0M1132 107h0M1132 116h0M1132 109h0M1132.5 102h0M1132.5 119.5h0M1132.5 115h0M1132.5 114h0M1132.5 109h0M1132.5 105.5h0M1133 109h0M1133 115.5h0M1133 120.5h0M1133.5 117.5h0M1133.5 117.5h0M1133.5 116.5h0M1133.5 122h0M1133.5 111h0M1133.5 122h0M1134 115.5h0M1134 117.5h0M1134 123h0M1134 117.5h0M1134 117.5h0M1134 118.5h0M1134.5 111.5h0M1135 117h0M1135 101.5h0M1135 108h0M1135 118h0M1135 125.5h0M1135 107h0M1135 112h0M1135 112h0M1135.5 117h0M1135.5 119.5h0M1135.5 121h0M1135.5 99.5h0M1135.5 103.5h0M1135.5 113.5h0M1135.5 101.5h0M1136 119h0M1136 106h0M1136 105.5h0M1136 113h0M1136 111h0M1136 113.5h0M1136.5 107.5h0M1136.5 101h0M1136.5 101.5h0M1136.5 103.5h0M1137 99h0M1137 112h0M1137.5 91.5h0M1137.5 101h0M1138 106h0M1138 101.5h0M1138 102.5h0M1138 111h0M1138.5 110h0M1138.5 123h0M1138.5 106h0M1138.5 103.5h0M1138.5 117h0M1138.5 105.5h0M1138.5 106.5h0M1138.5 108h0M1139 105.5h0M1139 120h0M1139 110.5h0M1139 119h0M1139.5 103h0M1139.5 120h0M1140 121.5h0M1140 110.5h0M1140 113.5h0M1141 119h0M1141 119h0M1141.5 117h0M1141.5 111.5h0M1141.5 123.5h0M1141.5 123h0M1141.5 123.5h0M1141.5 121h0M1141.5 121h0M1142 127.5h0M1142 120h0M1142 127.5h0M1142 123h0M1142 123h0M1142 123.5h0M1142.5 115.5h0M1142.5 109.5h0M1143 110.5h0M1143 107.5h0M1143 116h0M1143.5 105.5h0M1143.5 112.5h0M1144 110h0M1144.5 108h0M1144.5 115.5h0M1145 110h0M1145 108h0M1145 104.5h0M1145.5 105.5h0M1145.5 108h0M1146 107h0M1146.5 100h0M1146.5 117h0M1146.5 117h0M1146.5 112.5h0M1147 111h0M1147 117h0M1147.5 123h0M1147.5 113.5h0M1147.5 112h0M1148.5 122.5h0M1148.5 122.5h0M1149 133h0M1149 118.5h0M1149 128.5h0M1149 120h0M1149.5 127h0M1149.5 126.5h0M1150 128h0M1150 136.5h0M1150.5 115h0M1150.5 136.5h0M1151 118h0M1151 122.5h0M1151 119.5h0M1151 110.5h0M1151 126h0M1151.5 117h0M1151.5 113.5h0M1151.5 115.5h0M1151.5 114h0M1151.5 119h0M1152 122.5h0M1152 121h0M1152 116.5h0M1152 110h0M1152.5 112h0M1153 103.5h0M1153 115h0M1153 107.5h0M1153 115.5h0M1153 106.5h0M1153.5 109.5h0M1153.5 121.5h0M1153.5 112.5h0M1153.5 123.5h0M1154 114.5h0M1154.5 120.5h0M1154.5 128.5h0M1154.5 134h0M1154.5 126.5h0M1155 131h0M1155 120h0M1155 131.5h0M1155.5 129.5h0M1155.5 126.5h0M1155.5 130h0M1155.5 129h0M1155.5 132.5h0M1156 129h0M1156 137.5h0M1156 131h0M1156.5 141h0M1156.5 136h0M1156.5 142h0M1156.5 137h0M1156.5 133h0M1156.5 129h0M1157 143h0M1157 136h0M1157.5 136.5h0M1157.5 126h0M1157.5 136h0M1157.5 127h0M1158 131.5h0M1158 136h0M1158 126.5h0M1158.5 131h0M1158.5 122h0M1158.5 121.5h0M1158.5 118h0M1158.5 129h0M1158.5 117h0M1159 119.5h0M1159 130.5h0M1159 112h0M1159.5 112h0M1159.5 124h0M1159.5 117h0M1160 124.5h0M1160 118.5h0M1160 117h0M1160 114.5h0M1160 120.5h0M1160.5 115h0M1160.5 119.5h0M1160.5 112h0M1160.5 110.5h0M1161 112h0M1161 106.5h0M1161 108h0M1161 120h0M1161.5 117.5h0M1161.5 129h0M1161.5 123.5h0M1161.5 132h0M1161.5 123.5h0M1161.5 126h0M1162 120.5h0M1162 127h0M1162 127.5h0M1162 125.5h0M1162 125.5h0M1162 123h0M1162.5 130h0M1162.5 133.5h0M1162.5 134h0M1162.5 121.5h0M1162.5 133h0M1163 129.5h0M1163 132.5h0M1163 124h0M1163.5 132h0M1163.5 123.5h0M1163.5 133.5h0M1164 129.5h0M1164 128h0M1164 127h0M1164 137.5h0M1164.5 133.5h0M1164.5 133.5h0M1164.5 141.5h0M1165 130.5h0M1165 132.5h0M1165 131.5h0M1165.5 141.5h0M1165.5 134.5h0M1165.5 133.5h0M1165.5 131h0M1165.5 138.5h0M1165.5 133h0M1166 126.5h0M1166.5 136h0M1166.5 135h0M1166.5 134.5h0M1166.5 139h0M1166.5 131.5h0M1166.5 122h0M1167 133h0M1167 126.5h0M1167 119h0M1167 121.5h0M1167.5 121h0M1167.5 123.5h0M1167.5 122h0M1167.5 120h0M1167.5 115.5h0M1168 115h0M1168.5 105.5h0M1168.5 120h0M1168.5 110h0M1168.5 116.5h0M1168.5 114h0M1169 117.5h0M1169 113h0M1169.5 119.5h0M1169.5 117.5h0M1169.5 124.5h0M1170.5 128h0M1170.5 124.5h0M1171.5 131.5h0M1171.5 139h0M1171.5 139h0M1172 138.5h0M1172 137h0M1172 135.5h0M1172 129.5h0M1172.5 132h0M1172.5 126.5h0M1172.5 126h0M1173 139h0M1173 131.5h0M1173 134h0M1173.5 138.5h0M1173.5 135.5h0M1173.5 132h0M1174 121.5h0M1174 128.5h0M1174 129.5h0M1174 128.5h0M1174 131.5h0M1174 127h0M1174.5 127.5h0M1174.5 134.5h0M1174.5 129h0M1174.5 111h0M1174.5 123.5h0M1174.5 126.5h0M1175 122.5h0M1175 130h0M1175 125h0M1175 120.5h0M1175.5 131.5h0M1175.5 127h0M1175.5 125h0M1175.5 124h0M1176 124h0M1176.5 105h0M1176.5 102h0M1176.5 105h0M1176.5 102.5h0M1176.5 103h0M1176.5 111h0M1177 107.5h0M1177 110.5h0M1177 106h0M1177 111h0M1177 111.5h0M1177 104h0M1177 112.5h0M1177.5 119h0M1177.5 112h0M1177.5 111.5h0M1177.5 116h0M1178 115h0M1178 111.5h0M1178 118.5h0M1178 117.5h0M1178 120h0M1178 115.5h0M1178 118h0M1178.5 122.5h0M1178.5 119.5h0M1178.5 112h0M1179 130.5h0M1179 129h0M1179 121.5h0M1179.5 131h0M1179.5 116h0M1179.5 132h0M1179.5 131h0M1179.5 139.5h0M1179.5 132h0M1180 130h0M1180 129h0M1180.5 129h0M1180.5 124h0M1180.5 135h0M1180.5 125h0M1181 114.5h0M1181.5 123.5h0M1181.5 115h0M1181.5 110h0M1182 109.5h0M1182 115.5h0M1182 106.5h0M1182 111.5h0M1182.5 109h0M1182.5 119.5h0M1182.5 119h0M1183 121.5h0M1183 111h0M1183 129.5h0M1183 127.5h0M1183 115.5h0M1183.5 120.5h0M1183.5 136h0M1184 126.5h0M1184 127.5h0M1184 121h0M1184 136h0M1184.5 132h0M1184.5 125h0M1184.5 127h0M1184.5 135.5h0M1184.5 132.5h0M1185 139.5h0M1185 128.5h0M1185 136.5h0M1185 129h0M1185.5 132.5h0M1185.5 140.5h0M1185.5 136h0M1185.5 131h0M1186 130.5h0M1186 123.5h0M1186.5 119.5h0M1186.5 122h0M1186.5 119h0M1187 122.5h0M1187.5 118h0M1187.5 111h0M1187.5 112h0M1187.5 122.5h0M1188 118.5h0M1188 122h0M1188 122.5h0M1188 115.5h0M1188 126h0M1188.5 127.5h0M1189 124h0M1189 126.5h0M1189.5 131.5h0M1189.5 139.5h0M1189.5 133h0M1189.5 135h0M1189.5 137.5h0M1189.5 136.5h0M1190 136h0M1190 123.5h0M1190 118.5h0M1190 126.5h0M1190 120.5h0M1190.5 126h0M1190.5 133h0M1190.5 126h0M1190.5 120h0M1191 119.5h0M1191 129.5h0M1191 115.5h0M1191 129h0M1191 128.5h0M1191.5 127h0M1191.5 118h0M1191.5 122.5h0M1191.5 120h0M1192 133.5h0M1192 123h0M1192.5 122h0M1193 118h0M1193 123.5h0M1193 115.5h0M1193 124h0M1193 127h0M1193.5 127.5h0M1193.5 114.5h0M1193.5 116h0M1193.5 123h0M1193.5 114.5h0M1194 119h0M1194 119h0M1194.5 125h0M1194.5 120.5h0M1194.5 117h0M1194.5 116.5h0M1194.5 111h0M1194.5 104h0M1195 102.5h0M1195 113h0M1195 108h0M1195 117h0M1195 109h0M1195.5 117h0M1195.5 114h0M1195.5 113h0M1196 115h0M1196 109.5h0M1196 119.5h0M1196.5 118.5h0M1196.5 115h0M1196.5 117h0M1196.5 115.5h0M1196.5 118h0M1196.5 121h0M1196.5 115h0M1196.5 118h0M1197 116h0M1197 114.5h0M1197 122h0M1197.5 124.5h0M1197.5 123.5h0M1197.5 125.5h0M1197.5 132h0M1198 116h0M1198 122h0M1198.5 116.5h0M1198.5 129.5h0M1199 125.5h0M1199 128.5h0M1199 130h0M1199.5 127h0M1199.5 131h0M1199.5 131h0M1199.5 129.5h0M1199.5 140.5h0M1200 133.5h0M1200 133h0M1200.5 121h0M1200.5 126h0M1200.5 124.5h0M1201 124.5h0M1201 127.5h0M1201 119h0M1201.5 127h0M1201.5 131.5h0M1201.5 122.5h0M1201.5 119.5h0M1202 124h0M1202 121.5h0M1202.5 118.5h0M1202.5 116h0M1202.5 120h0M1203 114h0M1203 120h0M1203 112h0M1203 127.5h0M1203 117h0M1203 119.5h0M1203.5 120h0M1203.5 126h0M1203.5 115h0M1204 122.5h0M1204 127.5h0M1204 126.5h0M1204 125.5h0M1204 124h0M1204.5 130.5h0M1204.5 131.5h0M1204.5 126h0M1204.5 129.5h0M1205 122.5h0M1205 133.5h0M1205 129h0M1205 125h0M1205 134.5h0M1205 129.5h0M1205 133h0M1205 134.5h0M1205 128h0M1205 139.5h0M1205.5 140h0M1205.5 145.5h0M1205.5 140.5h0M1206 120h0M1206 125.5h0M1206.5 120.5h0M1206.5 127.5h0M1206.5 119h0M1206.5 124.5h0M1207 126h0M1207 116.5h0M1207 123.5h0M1207 121h0M1207.5 122.5h0M1208 119h0M1208.5 121.5h0M1209 127h0M1209 120.5h0M1209 119.5h0M1209.5 119.5h0M1209.5 122h0M1209.5 112.5h0M1209.5 122.5h0M1210 121.5h0M1210.5 127.5h0M1211 134.5h0M1211 135.5h0M1211 131h0M1211.5 131.5h0M1211.5 136.5h0M1212 147.5h0M1212 141.5h0M1212 140.5h0M1212 139.5h0M1212 137.5h0M1212 140.5h0M1212.5 140h0M1212.5 138.5h0M1212.5 121.5h0M1213 137.5h0M1213 143.5h0M1213 139.5h0M1213.5 139h0M1213.5 143.5h0M1213.5 143h0M1213.5 135h0M1213.5 137.5h0M1213.5 133h0M1214 137h0M1214 125h0M1214 135.5h0M1214 124h0M1214 137h0M1214 130.5h0M1214.5 126.5h0M1214.5 136.5h0M1214.5 134.5h0M1214.5 127.5h0M1214.5 123.5h0M1214.5 122.5h0M1215 122.5h0M1215 120h0M1215 130h0M1215 126.5h0M1215 117h0M1215.5 124.5h0M1215.5 121.5h0M1215.5 128h0M1215.5 121h0M1215.5 126.5h0M1215.5 117.5h0M1216 108.5h0M1216.5 112.5h0M1216.5 113h0M1216.5 112.5h0M1216.5 107.5h0M1217 113h0M1217 116h0M1217.5 107h0M1217.5 122.5h0M1217.5 119.5h0M1218 127h0M1218.5 119h0M1218.5 126h0M1218.5 131h0M1218.5 131h0M1218.5 120.5h0M1218.5 123h0M1218.5 122.5h0M1218.5 127.5h0M1218.5 123.5h0M1219 122h0M1219 129h0M1219.5 140h0M1219.5 143h0M1219.5 142h0M1219.5 134.5h0M1219.5 142h0M1220 142.5h0M1220 138h0M1220.5 134h0M1220.5 135h0M1220.5 124.5h0M1220.5 126h0M1220.5 124.5h0M1221 124h0M1221 120h0M1221 126h0M1221.5 126h0M1221.5 132h0M1221.5 124h0M1222 124h0M1222.5 115.5h0M1222.5 117h0M1222.5 113h0M1222.5 113.5h0M1222.5 112.5h0M1222.5 115.5h0M1223 116.5h0M1223 125h0M1223 123.5h0M1223 127.5h0M1223.5 123h0M1223.5 125.5h0M1224 136h0M1224 139h0M1224.5 132.5h0M1225 133.5h0M1225 133h0M1225 126h0M1225 134.5h0M1225.5 138h0M1225.5 131h0M1225.5 128h0M1225.5 125.5h0M1225.5 138h0M1225.5 135h0M1226 136.5h0M1226 128h0M1226 131.5h0M1226 135h0M1226 132.5h0M1226 137.5h0M1226.5 137.5h0M1226.5 137.5h0M1227 140.5h0M1227 140h0M1227 138h0M1227.5 139.5h0M1227.5 135h0M1227.5 138h0M1227.5 142.5h0M1228 151h0M1228 147h0M1228 142.5h0M1228 140h0M1229 140.5h0M1229 135.5h0M1229 133.5h0M1229 136.5h0M1229 133.5h0M1229.5 129h0M1229.5 131.5h0M1230 131h0M1230 126h0M1230.5 123h0M1230.5 128h0M1230.5 131.5h0M1230.5 126.5h0M1230.5 120h0M1231 128h0M1231 115.5h0M1231 121.5h0M1231 117.5h0M1231 121h0M1231.5 113.5h0M1231.5 115h0M1231.5 112.5h0M1232 122.5h0M1232 115h0M1232 126h0M1232 120.5h0M1232 117h0M1232.5 122.5h0M1232.5 119.5h0M1232.5 121.5h0M1232.5 122.5h0M1232.5 126.5h0M1232.5 119h0M1232.5 118.5h0M1232.5 125.5h0M1233 128h0M1233 124h0M1233 129h0M1233 126h0M1233 123h0M1233.5 125.5h0M1233.5 123.5h0M1234 128.5h0M1234 135.5h0M1234 135h0M1234 129h0M1234 123.5h0M1234 134h0M1234 137h0M1234 127.5h0M1234.5 135h0M1234.5 132.5h0M1235 133.5h0M1235 143h0M1235 140.5h0M1235 142h0M1235 138h0M1235.5 138h0M1235.5 144h0M1235.5 139.5h0M1235.5 150h0M1235.5 141h0M1236 135h0M1236.5 133h0M1236.5 139h0M1236.5 133h0M1237 136h0M1237 124.5h0M1237 132.5h0M1237 130.5h0M1237.5 128.5h0M1238 123.5h0M1238 125h0M1238 123h0M1238.5 129h0M1238.5 118.5h0M1238.5 125.5h0M1239 117h0M1239 119.5h0M1239 103.5h0M1239.5 110.5h0M1239.5 116.5h0M1240 119.5h0M1240 116h0M1240 109h0M1240 119.5h0M1240 117.5h0M1240.5 113.5h0M1240.5 122.5h0M1240.5 120.5h0M1240.5 121h0M1240.5 126.5h0M1241 123h0M1241 119.5h0M1241 121.5h0M1241 129.5h0M1241.5 117.5h0M1241.5 131.5h0M1242 137.5h0M1242 140.5h0M1242 142h0M1242 134.5h0M1242.5 150.5h0M1242.5 138h0M1242.5 143.5h0M1242.5 136.5h0M1243 134.5h0M1243 139.5h0M1243 136.5h0M1243.5 125h0M1243.5 132h0M1243.5 127.5h0M1244 126.5h0M1244 121h0M1244.5 117h0M1244.5 117.5h0M1244.5 119h0M1245 114.5h0M1245 122.5h0M1245 110.5h0M1245.5 117h0M1245.5 118h0M1245.5 116h0M1246 121h0M1246 116.5h0M1246 116h0M1246 114h0M1246 120.5h0M1246 122.5h0M1246.5 122.5h0M1246.5 126.5h0M1246.5 125h0M1246.5 113h0M1246.5 126h0M1246.5 125h0M1247 121h0M1247 123h0M1247 122h0M1247.5 130.5h0M1247.5 131.5h0M1247.5 121h0M1247.5 130h0M1247.5 128h0M1248.5 130.5h0M1248.5 141h0M1248.5 134h0M1248.5 136h0M1249 132h0M1249 136h0M1249 144.5h0M1249 132h0M1249 147h0M1249 138h0M1249 139.5h0M1249.5 141h0M1249.5 139h0M1249.5 135h0M1249.5 143h0M1250 142.5h0M1250 137h0M1250 138h0M1250.5 126h0M1250.5 127.5h0M1250.5 128.5h0M1251 129h0M1251 127.5h0M1251.5 121h0M1251.5 118.5h0M1251.5 116h0M1252 127.5h0M1252 124h0M1252 122.5h0M1252 123h0M1252 126.5h0M1252.5 111h0M1252.5 113h0M1253 118h0M1253.5 119h0M1253.5 116h0M1253.5 121h0M1253.5 117h0M1254 111h0M1254 106.5h0M1254 109h0M1254 107.5h0M1254.5 116.5h0M1254.5 126h0M1254.5 105.5h0M1254.5 111h0M1254.5 116h0M1255 112h0M1255 124.5h0M1255 124.5h0M1255.5 125h0M1255.5 114.5h0M1255.5 118h0M1255.5 130.5h0M1255.5 115.5h0M1256 127h0M1256 126.5h0M1256 132.5h0M1256.5 122h0M1256.5 130h0M1256.5 127.5h0M1256.5 138h0M1257.5 139h0M1257.5 141h0M1258 141h0M1258 143h0M1258 142.5h0M1258 144.5h0M1258 142h0M1258 139h0M1258.5 136h0M1258.5 145.5h0M1258.5 143h0M1258.5 140.5h0M1258.5 144h0M1259 137h0M1259 136.5h0M1259.5 135h0M1259.5 132h0M1260 128.5h0M1260 129h0M1260 131h0M1260 129h0M1260.5 134.5h0M1260.5 135.5h0M1260.5 127h0M1261 126.5h0M1261 119.5h0M1261 129h0M1261 132h0M1261 126.5h0M1261.5 129.5h0M1261.5 124.5h0M1262 117h0M1262 114.5h0M1262 121.5h0M1262 127h0M1262.5 124h0M1262.5 126h0M1262.5 132h0M1262.5 122h0M1262.5 125h0M1262.5 121.5h0M1262.5 129.5h0M1262.5 127.5h0M1263 128.5h0M1263 137h0M1263 118.5h0M1263 139h0M1263.5 136h0M1263.5 134.5h0M1264 140.5h0M1264 132h0M1264 137h0M1264 135h0M1264 134.5h0M1264 135.5h0M1264.5 136h0M1264.5 138h0M1264.5 136.5h0M1265 135.5h0M1265 141h0M1265 142h0M1265 142h0M1265 139.5h0M1265 143h0M1265.5 143.5h0M1265.5 148.5h0M1265.5 122.5h0M1265.5 136h0M1266 122h0M1266 126h0M1266 124h0M1266.5 126h0M1266.5 124.5h0M1267 125h0M1267 123h0M1267 121.5h0M1267 118.5h0M1267 129.5h0M1267.5 121h0M1267.5 116h0M1268 115h0M1268 125h0M1268 119h0M1268.5 118h0M1268.5 118.5h0M1268.5 129h0M1269 113.5h0M1269 124h0M1269 106.5h0M1269.5 109.5h0M1269.5 113.5h0M1270 113h0M1270.5 118h0M1270.5 122h0M1270.5 121h0M1270.5 121h0M1271 127.5h0M1271 121h0M1271 119h0M1271 120.5h0M1271 122.5h0M1271 122h0M1271 125h0M1271.5 124h0M1271.5 131h0M1271.5 130h0M1271.5 126h0M1272 125.5h0M1272 137.5h0M1272 144.5h0M1272 128.5h0M1272 133h0M1272.5 126.5h0M1272.5 131h0M1272.5 133h0M1272.5 136.5h0M1273 137.5h0M1273 125.5h0M1273 127h0M1273 130h0M1273 136.5h0M1273.5 133.5h0M1273.5 133.5h0M1273.5 131.5h0M1273.5 143h0M1273.5 128.5h0M1273.5 122h0M1273.5 131.5h0M1274 128h0M1274 126h0M1274.5 131h0M1274.5 124.5h0M1274.5 129h0M1274.5 126.5h0M1274.5 123h0M1275 123h0M1275 121.5h0M1275.5 125.5h0M1275.5 117h0M1275.5 125.5h0M1276 115h0M1276 120h0M1276.5 123h0M1276.5 117.5h0M1276.5 121.5h0M1276.5 118.5h0M1276.5 116.5h0M1277 111h0M1277 110.5h0M1277 112h0M1277 114.5h0M1277 120.5h0M1277.5 115.5h0M1277.5 117h0M1277.5 117h0M1277.5 119h0M1278 120h0M1278.5 118h0M1278.5 128.5h0M1279 125h0M1279 119.5h0M1279 129.5h0M1279.5 132h0M1279.5 129h0M1279.5 129.5h0M1279.5 127.5h0M1279.5 122.5h0M1279.5 129.5h0M1279.5 126.5h0M1279.5 132h0M1280 133.5h0M1280.5 132.5h0M1280.5 137.5h0M1280.5 129.5h0M1281 143.5h0M1281 142h0M1281 146h0M1281 143h0M1281.5 143.5h0M1281.5 141h0M1281.5 147h0M1281.5 138.5h0M1282 127h0M1282.5 142.5h0M1282.5 125.5h0M1282.5 133.5h0M1282.5 128h0M1283 135h0M1283 121h0M1283.5 134h0M1283.5 128.5h0M1283.5 120h0M1284 131.5h0M1284 136h0M1284 125.5h0M1284 128.5h0M1284 129h0M1284 128.5h0M1284 130.5h0M1284.5 116h0M1284.5 116.5h0M1284.5 128h0M1285 121.5h0M1285.5 117.5h0M1285.5 111h0M1285.5 120.5h0M1285.5 110h0M1286 121.5h0M1286.5 128.5h0M1286.5 126.5h0M1286.5 129h0M1286.5 118h0M1286.5 128.5h0M1287 135h0M1287.5 137h0M1287.5 130h0M1287.5 141h0M1288 143.5h0M1288 129.5h0M1288 133h0M1288 137.5h0M1288 135.5h0M1288.5 129.5h0M1288.5 146h0M1288.5 127.5h0M1289 133h0M1289 129h0M1289 132.5h0M1289 117.5h0M1289 135h0M1289.5 126h0M1289.5 143h0M1289.5 130h0M1290 126h0M1290 136.5h0M1290 138h0M1290 128h0M1290.5 123.5h0M1290.5 122.5h0M1291 130h0M1291 113.5h0M1292 129.5h0M1292 115.5h0M1292 126.5h0M1292 119h0M1292 129h0M1293 136.5h0M1293 127.5h0M1293 140h0M1293.5 133h0M1293.5 141.5h0M1293.5 146.5h0M1293.5 147.5h0M1294 134.5h0M1294 139h0M1294 140h0M1294.5 145h0M1294.5 132h0M1294.5 131h0M1294.5 133h0M1295 130h0M1295 149h0M1295 136h0M1295 132.5h0M1295 132.5h0M1295 134.5h0M1295.5 130h0M1295.5 133.5h0M1295.5 133h0M1295.5 134.5h0M1295.5 127h0M1295.5 131h0M1296 129h0M1296 119h0M1296 125h0M1296.5 124.5h0M1296.5 130.5h0M1296.5 124.5h0M1296.5 117.5h0M1297 119.5h0M1297.5 122.5h0M1297.5 124.5h0M1297.5 125h0M1297.5 123.5h0M1297.5 126.5h0M1298 137.5h0M1298 118h0M1298 122h0M1298.5 129.5h0M1298.5 122h0M1298.5 135h0M1298.5 123.5h0M1298.5 130h0M1299 127h0M1299 133h0M1299 131h0M1299 131h0M1299 129h0M1299.5 132h0M1299.5 132.5h0M1299.5 139h0M1299.5 128.5h0M1299.5 136h0M1300 139h0M1300 139.5h0M1300 144h0M1300.5 137h0M1300.5 140h0M1300.5 131.5h0M1300.5 132.5h0M1301 130.5h0M1301 137h0M1301 133h0M1301 134h0M1301 126h0M1301 137.5h0M1301.5 136.5h0M1301.5 122h0M1301.5 126.5h0M1302 135h0M1302 121h0M1302 119.5h0M1302.5 120h0M1302.5 135h0M1302.5 124.5h0M1302.5 129h0M1302.5 125.5h0M405.5 91.5h0M405.5 100h0M405 93.5h0M405.5 99.5h0M405.5 100h0M405 101h0M407 95h0M406.5 89.5h0M406.5 92h0M407 101.5h0M406 103h0M406 86h0M406.5 86.5h0M406.5 102.5h0" stroke="#000" stroke-width="4" stroke-linecap="round" fill="none"/>
<path clip-path="url(#ct)" d="M170.5 93h0M170.5 100h0M194.5 147.5h0M273.5 144.5h0M271.5 177.5h0M322.5 143.5h0M341.5 182.5h0M385.5 276.5h0M395.5 97.5h0M405 81.5h0M502.5 140.5h0M570.5 140.5h0M905.5 158.5h0M994.5 141.5h0M1121.5 82.5h0M1288.5 176.5h0" stroke="#ffa500" stroke-width="3.6" stroke-linecap="round" fill="none"/>
<line x1="162" y1="321.4" x2="162" y2="35.5" stroke="#800080" stroke-width="2.08" stroke-dasharray="2.08 3.44" stroke-dashoffset="5.06"/>
<line x1="169" y1="321.4" x2="169" y2="35.5" stroke="#800080" stroke-width="2.08" stroke-dasharray="2.08 3.44" stroke-dashoffset="5.06"/>
<line x1="405" y1="321.4" x2="405" y2="35.5" stroke="#800080" stroke-width="2.08" stroke-dasharray="2.08 3.44" stroke-dashoffset="5.06"/>
<line x1="445" y1="321.4" x2="445" y2="35.5" stroke="#800080" stroke-width="2.08" stroke-dasharray="2.08 3.44" stroke-dashoffset="5.06"/>
<line x1="1152.9" y1="321.4" x2="1152.9" y2="35.5" stroke="#800080" stroke-width="2.08" stroke-dasharray="2.08 3.44" stroke-dashoffset="5.06"/>
<line x1="1303" y1="321.4" x2="1303" y2="35.5" stroke="#800080" stroke-width="2.08" stroke-dasharray="2.08 3.44" stroke-dashoffset="5.06"/>
<text x="143.21" y="311.9" font-size="14.72" textLength="43.45" lengthAdjust="spacingAndGlyphs">60045</text>
<text x="264.99" y="292" font-size="14.72" textLength="43.47" lengthAdjust="spacingAndGlyphs">50668</text>
<text x="403.05" y="272.2" font-size="14.72" textLength="43.55" lengthAdjust="spacingAndGlyphs">50666</text>
<text x="777.12" y="311.9" font-size="14.72" textLength="43.55" lengthAdjust="spacingAndGlyphs">20517</text>
<text x="1206.11" y="292" font-size="14.72" textLength="43.72" lengthAdjust="spacingAndGlyphs">23729</text>
<rect x="105.5" y="35.5" width="1380" height="285.9" fill="none" stroke="#000" stroke-width="1.11"/>
<line x1="162.5" y1="321.4" x2="162.5" y2="326.26" stroke="#000" stroke-width="1.11"/>
<text x="159.33" y="341.6" font-size="14.72" textLength="8.14" lengthAdjust="spacingAndGlyphs">0</text>
<line x1="448.5" y1="321.4" x2="448.5" y2="326.26" stroke="#000" stroke-width="1.11"/>
<text x="430.31" y="341.6" font-size="14.72" textLength="34.8" lengthAdjust="spacingAndGlyphs">2000</text>
<line x1="733.5" y1="321.4" x2="733.5" y2="326.26" stroke="#000" stroke-width="1.11"/>
<text x="715.97" y="341.6" font-size="14.72" textLength="34.71" lengthAdjust="spacingAndGlyphs">4000</text>
<line x1="1018.5" y1="321.4" x2="1018.5" y2="326.26" stroke="#000" stroke-width="1.11"/>
<text x="1001.38" y="341.6" font-size="14.72" textLength="34.86" lengthAdjust="spacingAndGlyphs">6000</text>
<line x1="1304.5" y1="321.4" x2="1304.5" y2="326.26" stroke="#000" stroke-width="1.11"/>
<text x="1286.38" y="341.6" font-size="14.72" textLength="34.77" lengthAdjust="spacingAndGlyphs">8000</text>
<line x1="100.64" y1="289.4" x2="105.5" y2="289.4" stroke="#000" stroke-width="1.11"/>
<text x="55.5" y="294.9" font-size="14.72" textLength="39.11" lengthAdjust="spacingAndGlyphs">7.000</text>
<line x1="100.64" y1="251.55" x2="105.5" y2="251.55" stroke="#000" stroke-width="1.11"/>
<text x="55.8" y="257.05" font-size="14.72" textLength="38.86" lengthAdjust="spacingAndGlyphs">7.025</text>
<line x1="100.64" y1="213.7" x2="105.5" y2="213.7" stroke="#000" stroke-width="1.11"/>
<text x="55.5" y="219.2" font-size="14.72" textLength="39.11" lengthAdjust="spacingAndGlyphs">7.050</text>
<line x1="100.64" y1="175.85" x2="105.5" y2="175.85" stroke="#000" stroke-width="1.11"/>
<text x="55.8" y="181.35" font-size="14.72" textLength="38.86" lengthAdjust="spacingAndGlyphs">7.075</text>
<line x1="100.64" y1="138" x2="105.5" y2="138" stroke="#000" stroke-width="1.11"/>
<text x="55.5" y="143.5" font-size="14.72" textLength="39.11" lengthAdjust="spacingAndGlyphs">7.100</text>
<line x1="100.64" y1="100.15" x2="105.5" y2="100.15" stroke="#000" stroke-width="1.11"/>
<text x="55.8" y="105.65" font-size="14.72" textLength="38.86" lengthAdjust="spacingAndGlyphs">7.125</text>
<line x1="100.64" y1="62.3" x2="105.5" y2="62.3" stroke="#000" stroke-width="1.11"/>
<text x="55.5" y="67.8" font-size="14.72" textLength="39.11" lengthAdjust="spacingAndGlyphs">7.150</text>
<rect x="1361.4" y="42.6" width="117.2" height="26.6" rx="4" ry="4" fill="#fff" fill-opacity="0.8" stroke="#d6d6d6" stroke-width="1.1"/>
<line x1="1365.9" y1="54" x2="1396" y2="54" stroke="#008000" stroke-width="2.08"/>
<text x="1407.36" y="59" font-size="14.72" textLength="30.38" lengthAdjust="spacingAndGlyphs">mag</text>
<text x="1437.78" y="61.1" font-size="10.31" textLength="33.75" lengthAdjust="spacingAndGlyphs" font-style="italic">AGASC</text>
<rect x="1348.5" y="247.5" width="130" height="67" rx="4" ry="4" fill="#fff" fill-opacity="0.8" stroke="#d6d6d6" stroke-width="1.1"/>
<path clip-path="url(#ct)" d="M1367.5 260.5h0" stroke="#ff0000" stroke-width="3.6" stroke-linecap="round" fill="none"/>
<path clip-path="url(#ct)" d="M1367.5 281.5h0" stroke="#ffa500" stroke-width="3.6" stroke-linecap="round" fill="none"/>
<path clip-path="url(#ct)" d="M1367.5 302.5h0" stroke="#000" stroke-width="4.2" stroke-linecap="round" fill="none"/>
<text x="1391.93" y="263.4" font-size="14.72" textLength="22.34" lengthAdjust="spacingAndGlyphs">not</text>
<text x="1419.01" y="263.4" font-size="14.72" textLength="20.38" lengthAdjust="spacingAndGlyphs">OK</text>
<text x="1392.69" y="285.1" font-size="14.72" textLength="79.78" lengthAdjust="spacingAndGlyphs">Highlighted</text>
<text x="1393.33" y="306.4" font-size="14.72" textLength="20.38" lengthAdjust="spacingAndGlyphs">OK</text>
<path clip-path="url(#cm)" d="M162 496.5h0M162 511.5h0M162 506h0M162 488.5h0M162.5 507h0M162.5 505.5h0M162.5 505h0M163 517h0M163 525.5h0M163 509.5h0M163.5 512h0M163.5 502.5h0M163.5 494h0M163.5 521.5h0M163.5 518h0M164 504h0M164 519.5h0M164 523.5h0M164 517h0M164 507h0M164.5 494h0M164.5 502.5h0M164.5 503h0M164.5 501.5h0M165 485.5h0M165.5 503.5h0M165.5 502h0M165.5 496h0M165.5 500.5h0M165.5 501h0M165.5 509.5h0M165.5 499.5h0M165.5 503.5h0M166 488.5h0M166 493.5h0M166 499.5h0M166.5 493h0M166.5 502.5h0M166.5 489.5h0M166.5 499.5h0M166.5 494h0M167 511h0M167 496h0M167.5 515h0M167.5 518h0M167.5 502h0M167.5 507.5h0M168 498h0M168 478.5h0M168 507h0M168 505h0M168 497.5h0M168.5 495h0M168.5 501h0M169 501.5h0M169 493h0M169 511h0M169.5 549.5h0M169.5 524.5h0M170 512h0M170 552h0M170.5 522h0M170.5 545.5h0M170.5 514h0M170.5 536.5h0M170.5 541h0M171 557h0M171 568h0M171 525.5h0M171 510.5h0M172 524h0M172 509h0M172 539h0M172 532.5h0M172 529.5h0M172 523h0M172.5 554.5h0M172.5 514.5h0M172.5 509h0M172.5 548.5h0M172.5 552h0M172.5 524.5h0M173 541h0M173 569h0M173 518h0M173 528.5h0M173.5 538.5h0M173.5 497h0M173.5 529h0M173.5 543.5h0M174 530h0M174 548.5h0M174 544h0M174 525.5h0M174.5 541h0M174.5 539.5h0M175 505.5h0M175 518.5h0M175 519.5h0M175 524h0M175.5 525h0M175.5 509.5h0M176 533h0M176 503h0M176 548.5h0M176.5 537h0M176.5 555.5h0M176.5 539h0M176.5 525h0M177 510h0M177 544h0M177 533h0M177 539h0M177 545h0M177 552.5h0M177 532.5h0M177.5 561.5h0M177.5 531.5h0M177.5 533h0M177.5 544h0M177.5 550h0M178 556h0M178 503.5h0M178 555.5h0M178 508.5h0M178.5 524h0M178.5 539.5h0M178.5 552.5h0M178.5 517h0M179 506h0M179 549h0M179 538.5h0M179 517h0M179.5 528.5h0M179.5 501.5h0M180 543h0M180 525h0M180 554h0M180 500h0M180.5 546h0M180.5 569.5h0M180.5 536h0M181 536.5h0M181 503h0M181 539.5h0M181 534h0M181.5 524.5h0M181.5 500.5h0M181.5 517.5h0M182 514.5h0M182 512h0M182.5 517h0M182.5 524h0M182.5 516.5h0M182.5 525.5h0M182.5 513.5h0M182.5 539h0M183 498h0M183 516h0M183.5 524.5h0M183.5 543.5h0M183.5 525.5h0M183.5 526.5h0M183.5 522h0M184 529.5h0M184 518h0M184 543h0M184 530.5h0M184 559.5h0M184.5 522h0M184.5 531.5h0M184.5 541h0M184.5 515.5h0M184.5 523h0M184.5 579.5h0M184.5 533.5h0M185 557.5h0M185 517h0M185 494h0M185 542.5h0M185 533h0M185 538.5h0M185.5 528.5h0M185.5 524h0M185.5 513.5h0M185.5 550h0M185.5 509h0M186.5 549h0M186.5 530h0M186.5 515.5h0M186.5 523h0M186.5 549.5h0M186.5 545.5h0M187 541.5h0M187 535h0M187 516h0M187 555h0M187 526.5h0M187 524.5h0M187.5 525.5h0M187.5 526.5h0M187.5 510h0M188 526.5h0M188 520.5h0M188 525h0M188 505.5h0M188.5 565h0M188.5 513.5h0M188.5 538.5h0M189 539h0M189 550h0M189 564.5h0M189 540.5h0M189 545.5h0M189.5 526.5h0M189.5 558h0M189.5 511h0M189.5 530h0M189.5 538.5h0M189.5 545.5h0M189.5 547h0M189.5 552.5h0M189.5 543h0M190 534h0M190 537h0M190.5 557h0M190.5 538.5h0M190.5 548.5h0M190.5 531.5h0M191 504.5h0M191 524h0M191 539.5h0M191 560.5h0M191 557h0M191.5 561.5h0M191.5 522.5h0M191.5 546.5h0M192 533.5h0M192 544.5h0M192 533h0M192 511.5h0M192.5 546h0M192.5 558h0M192.5 557h0M193 522h0M193 555h0M193 525h0M193 546h0M193.5 563.5h0M193.5 537h0M193.5 500.5h0M193.5 569.5h0M194 547h0M194 541h0M194 552.5h0M194 561h0M194.5 558.5h0M194.5 545.5h0M194.5 503h0M195 565h0M195.5 528h0M195.5 529h0M195.5 543.5h0M195.5 532h0M196 520h0M196 532h0M196 527.5h0M196 523h0M196.5 567h0M196.5 510.5h0M197 497.5h0M197 518.5h0M197 518h0M197 557h0M197.5 536h0M198 547.5h0M198 543.5h0M198 518.5h0M198 547h0M198 536.5h0M198 565h0M198.5 537h0M198.5 533h0M198.5 545.5h0M198.5 546h0M198.5 504h0M198.5 554h0M198.5 551h0M199 547.5h0M199 515h0M199 500.5h0M199 529h0M199 546h0M199 541h0M199.5 517h0M199.5 549h0M199.5 511h0M199.5 511.5h0M199.5 533h0M199.5 524h0M199.5 522h0M200 509.5h0M200 551h0M200 515.5h0M200 540.5h0M200.5 546.5h0M200.5 532.5h0M200.5 537.5h0M200.5 550h0M200.5 560h0M201 549.5h0M201 511h0M201 502.5h0M201.5 524h0M201.5 515h0M201.5 542.5h0M201.5 535.5h0M201.5 529.5h0M201.5 551.5h0M201.5 550h0M201.5 532.5h0M201.5 539.5h0M202 551.5h0M202 528h0M202 538.5h0M202 518h0M202.5 534.5h0M202.5 539h0M202.5 532h0M202.5 537h0M202.5 545h0M203 541h0M203.5 522h0M203.5 524h0M203.5 513.5h0M203.5 561.5h0M204 540.5h0M204 541h0M204 531.5h0M205 541.5h0M205 542.5h0M205 521.5h0M205.5 531.5h0M205.5 553h0M205.5 513h0M206 518h0M206 543.5h0M206 521h0M206 546h0M206.5 516h0M207 538h0M207 547h0M207 540.5h0M207 546.5h0M207 531h0M207 531.5h0M207 533.5h0M207 543h0M207.5 508h0M207.5 551.5h0M208 542h0M208 537h0M208 524h0M208 564h0M208 544h0M208 544.5h0M208 564h0M208.5 562h0M208.5 561h0M209.5 549h0M209.5 515h0M209.5 534.5h0M210 519h0M210 538.5h0M210 533h0M210 537h0M210.5 527h0M210.5 521h0M210.5 530.5h0M210.5 545h0M210.5 547h0M210.5 507.5h0M211 539h0M211 539h0M211 510.5h0M211.5 517h0M211.5 525.5h0M212 540.5h0M212.5 496.5h0M212.5 528h0M212.5 525.5h0M212.5 537h0M212.5 557h0M212.5 556h0M212.5 527.5h0M212.5 528h0M213 538h0M213 553h0M213 557.5h0M213 539.5h0M213 557.5h0M213 520h0M213.5 515.5h0M213.5 517h0M213.5 520h0M213.5 544h0M213.5 548.5h0M213.5 552h0M214 544h0M214 537h0M214 518.5h0M214 524.5h0M214 525h0M214.5 531h0M214.5 523.5h0M214.5 511h0M215 551.5h0M215 541.5h0M215 556.5h0M215 508h0M215 513.5h0M215.5 522h0M215.5 553.5h0M215.5 531.5h0M215.5 538h0M215.5 533h0M215.5 537.5h0M215.5 526h0M215.5 540.5h0M216 520.5h0M216 530.5h0M216 539h0M216.5 536h0M216.5 541.5h0M216.5 521h0M216.5 538.5h0M216.5 529.5h0M216.5 540.5h0M216.5 558h0M217 519.5h0M217 551.5h0M217 523.5h0M217 527.5h0M217 561h0M217.5 549.5h0M217.5 542.5h0M217.5 547.5h0M217.5 553.5h0M217.5 522.5h0M218 538h0M218 528h0M218.5 541h0M218.5 529.5h0M218.5 546.5h0M218.5 534.5h0M219 525h0M219 533.5h0M219.5 541.5h0M219.5 552h0M219.5 531.5h0M219.5 528.5h0M219.5 538.5h0M220 546.5h0M220 525.5h0M220 494.5h0M220.5 539h0M220.5 529h0M220.5 528h0M220.5 575.5h0M221 532.5h0M221 545.5h0M221 512h0M221 538.5h0M221.5 547h0M221.5 538h0M221.5 531.5h0M222 543.5h0M222.5 535h0M222.5 556h0M223 538h0M223 522h0M223.5 502.5h0M223.5 523h0M223.5 530h0M223.5 515h0M223.5 518h0M223.5 507.5h0M224 517h0M224 536h0M224 530h0M224 531.5h0M224 529.5h0M224.5 531h0M224.5 547h0M225 568h0M225 545h0M225 567h0M225 555.5h0M225.5 539.5h0M225.5 575.5h0M226 528h0M226 537h0M226.5 545h0M226.5 516h0M227 504h0M227 553.5h0M227 517.5h0M227 527h0M227 527.5h0M227 519h0M227 546h0M227 544h0M227.5 547.5h0M227.5 546.5h0M227.5 536h0M227.5 557.5h0M227.5 551h0M227.5 525h0M228 535.5h0M228 528h0M228.5 564.5h0M228.5 547h0M228.5 543h0M228.5 534h0M229 543.5h0M229 519.5h0M229 535h0M229 534h0M229.5 534h0M229.5 523h0M229.5 542h0M229.5 516h0M229.5 527h0M229.5 532h0M229.5 533.5h0M230 526h0M230 518h0M230 519h0M230.5 528h0M230.5 520h0M230.5 532.5h0M231 514h0M231 534.5h0M231 567.5h0M231.5 512.5h0M231.5 532.5h0M231.5 553h0M231.5 537.5h0M231.5 548.5h0M231.5 500.5h0M231.5 526.5h0M232 559.5h0M232 525.5h0M232 540.5h0M232 503.5h0M232 551h0M232 570.5h0M232 533h0M232.5 540h0M232.5 541h0M232.5 569h0M232.5 527.5h0M232.5 507.5h0M232.5 565h0M233 515.5h0M233 543.5h0M233 496.5h0M233.5 527.5h0M233.5 537.5h0M233.5 516.5h0M234 526h0M234 544h0M234.5 523h0M234.5 542.5h0M234.5 563h0M234.5 501.5h0M235 540h0M235 544h0M235 529h0M235.5 559.5h0M235.5 556h0M235.5 542.5h0M235.5 542.5h0M235.5 533h0M235.5 516h0M236 542h0M236 526.5h0M236 524.5h0M236 551.5h0M236 530.5h0M236 549.5h0M236 517h0M236.5 527h0M237 534h0M237 556h0M237 532.5h0M237 546.5h0M237 529h0M237.5 564.5h0M237.5 553h0M237.5 548h0M237.5 550.5h0M237.5 560h0M237.5 530.5h0M237.5 539.5h0M238 571.5h0M238 547h0M238 557h0M238 561.5h0M238 537.5h0M238 529.5h0M238 522h0M238 541.5h0M238 545h0M238.5 566h0M238.5 538.5h0M238.5 538h0M238.5 548.5h0M239 504h0M239 531h0M239 579h0M239 534.5h0M239 551.5h0M239 556h0M239 525h0M239.5 547.5h0M239.5 530.5h0M239.5 540.5h0M239.5 524.5h0M240 509h0M240 535h0M240 519h0M240.5 546.5h0M240.5 540h0M240.5 517.5h0M240.5 528h0M241 556h0M241 528.5h0M241 537h0M241 547.5h0M241 527.5h0M241.5 541h0M241.5 559.5h0M241.5 552h0M241.5 506h0M241.5 558.5h0M242 530.5h0M242 524.5h0M242.5 524h0M242.5 554h0M242.5 539.5h0M242.5 532h0M242.5 521.5h0M242.5 544.5h0M243 553h0M243 518h0M243 516.5h0M243 528.5h0M243 544h0M243 527.5h0M243.5 532.5h0M243.5 521h0M243.5 554.5h0M243.5 532.5h0M243.5 537h0M243.5 552h0M244 531h0M244 533.5h0M244 541h0M244 528h0M244 557h0M244.5 535h0M244.5 527.5h0M245 529.5h0M245 517h0M245 553.5h0M245 558.5h0M245 530.5h0M245.5 527h0M245.5 500h0M245.5 524.5h0M245.5 548.5h0M246 521.5h0M246 548h0M246 558h0M246 492.5h0M246 529h0M246 523h0M246.5 525h0M246.5 505h0M246.5 529.5h0M247 514.5h0M247 551h0M247 556.5h0M247 511.5h0M247 510.5h0M247 526h0M247.5 530.5h0M247.5 531.5h0M247.5 545.5h0M247.5 509.5h0M247.5 523.5h0M248 526h0M248 528h0M248 517.5h0M248 526h0M248 522.5h0M248 553h0M248 526h0M248.5 499h0M248.5 542.5h0M248.5 536.5h0M248.5 520h0M248.5 519h0M249 524h0M249 560.5h0M249 526h0M249.5 553.5h0M249.5 547.5h0M249.5 525.5h0M250 539h0M250 521.5h0M250 506h0M250 522h0M250.5 522.5h0M251 548.5h0M251 544.5h0M251 551.5h0M251.5 543h0M251.5 552h0M251.5 545h0M251.5 537.5h0M252 550.5h0M252 557h0M252.5 556h0M252.5 527h0M252.5 533.5h0M253 518h0M253 517.5h0M253 540h0M253 523.5h0M253.5 557.5h0M253.5 497.5h0M253.5 515h0M254 537.5h0M254 553h0M254 528h0M254 564.5h0M254.5 556h0M254.5 530.5h0M254.5 546.5h0M254.5 563h0M255 527h0M255 552h0M255 558.5h0M255.5 548.5h0M255.5 565.5h0M255.5 538h0M256 573h0M256 539.5h0M256 581h0M256.5 502.5h0M256.5 552h0M256.5 524.5h0M256.5 553.5h0M256.5 556h0M257 531.5h0M257 523.5h0M257 555h0M257 515h0M257 547h0M257 532h0M257 528h0M257.5 524.5h0M257.5 563h0M257.5 508h0M258 525h0M258 541h0M258 551h0M258 561.5h0M258.5 556h0M258.5 525.5h0M258.5 540h0M258.5 552.5h0M258.5 543h0M258.5 509h0M259 539.5h0M259 543.5h0M259 512.5h0M259 527h0M259 533.5h0M259 544h0M259 559.5h0M259.5 553h0M259.5 542h0M259.5 538h0M259.5 528.5h0M259.5 525.5h0M259.5 530.5h0M259.5 530.5h0M260 550.5h0M260 569h0M260 542.5h0M260 549.5h0M260 545h0M260.5 538.5h0M260.5 554.5h0M260.5 552h0M260.5 536h0M260.5 532.5h0M261 545h0M261 526.5h0M261.5 538h0M261.5 550.5h0M261.5 533.5h0M261.5 504h0M262 545h0M262 515.5h0M262 512h0M262 510h0M262.5 547.5h0M262.5 502h0M262.5 532.5h0M262.5 538.5h0M263 538h0M263 524.5h0M263.5 533.5h0M264 537h0M264 513.5h0M264 546h0M264 551h0M264 521.5h0M264.5 523h0M264.5 516.5h0M265 565.5h0M265 541h0M265 526.5h0M265 531h0M265 509h0M265 556.5h0M265 560.5h0M265 567h0M265 577.5h0M265.5 556h0M265.5 551.5h0M265.5 564.5h0M265.5 531.5h0M266 524h0M266 538h0M266 553.5h0M266 561h0M266.5 547.5h0M267 571h0M267 563h0M267 522.5h0M267 511.5h0M267.5 553h0M267.5 576h0M267.5 557.5h0M268 550.5h0M268 536.5h0M268.5 524.5h0M268.5 536.5h0M268.5 545.5h0M268.5 532h0M268.5 550h0M269 535h0M269 544.5h0M269 491h0M270 521h0M270 547.5h0M270 550.5h0M270 541.5h0M270.5 561h0M270.5 546h0M270.5 546h0M271 520h0M271 541h0M271 547h0M271.5 556h0M271.5 553h0M271.5 535.5h0M271.5 537.5h0M272 516h0M272 544.5h0M272.5 517h0M272.5 530h0M272.5 534.5h0M272.5 566.5h0M272.5 555h0M273 522.5h0M273 512h0M273 531h0M273 522h0M273 541h0M273.5 540.5h0M273.5 545h0M273.5 518.5h0M274 529h0M274 538h0M274 539.5h0M274 525.5h0M274.5 529h0M274.5 547.5h0M274.5 506.5h0M274.5 530h0M274.5 534h0M274.5 510.5h0M275 518h0M275 535.5h0M275 525.5h0M275 551.5h0M275.5 544.5h0M275.5 570.5h0M275.5 514.5h0M275.5 565h0M276 523.5h0M276 547.5h0M276 550h0M276 537.5h0M276 530h0M276.5 524.5h0M276.5 506h0M276.5 528.5h0M276.5 520h0M276.5 525h0M277 512.5h0M277 531h0M277 539.5h0M277 522h0M277 530h0M277 524h0M277.5 525.5h0M277.5 502.5h0M277.5 539h0M277.5 497.5h0M278 554.5h0M278 541.5h0M278 498h0M278 569h0M278 525h0M278 518.5h0M278.5 561h0M278.5 492.5h0M278.5 576h0M278.5 511h0M278.5 509h0M278.5 519.5h0M278.5 538h0M278.5 528.5h0M279 548.5h0M279 521.5h0M279 552.5h0M279 538.5h0M279 518h0M279 552h0M279 540h0M279 531.5h0M279.5 556h0M279.5 515.5h0M279.5 529h0M279.5 558.5h0M280 535h0M280 547h0M280 545h0M280 533h0M280 545.5h0M280 519h0M280 545.5h0M280 518.5h0M280.5 535h0M280.5 520.5h0M281 543h0M281 542.5h0M281 553h0M281 525h0M281.5 519h0M281.5 500h0M282 513.5h0M282 530.5h0M282 537.5h0M282 528h0M282 534.5h0M282 510.5h0M282.5 519h0M283.5 548h0M283.5 545.5h0M284 512.5h0M284 529.5h0M284 538h0M284 515h0M284.5 540.5h0M284.5 539h0M284.5 541.5h0M284.5 566h0M284.5 520.5h0M285 553.5h0M285 543.5h0M285 546.5h0M285.5 522.5h0M285.5 535.5h0M285.5 534h0M285.5 561.5h0M285.5 535.5h0M285.5 558h0M286 529.5h0M286 528.5h0M286.5 534.5h0M286.5 501.5h0M286.5 526h0M286.5 524.5h0M286.5 532h0M286.5 537.5h0M286.5 518.5h0M286.5 516.5h0M287 555h0M287 517.5h0M287 558h0M287.5 546.5h0M287.5 549.5h0M287.5 559h0M288 561.5h0M288 525.5h0M288 547.5h0M288 543.5h0M288 541h0M288 541h0M288 535.5h0M288 577.5h0M288.5 573h0M288.5 530h0M288.5 535h0M288.5 538.5h0M289 529.5h0M289 524.5h0M289 568h0M289 539h0M289 547.5h0M289.5 554h0M289.5 543h0M289.5 536.5h0M289.5 538.5h0M290 557.5h0M290 542h0M290 502h0M290 551.5h0M290 561.5h0M290.5 530h0M290.5 524.5h0M291 527h0M291 552.5h0M291 518h0M291 547h0M291 552.5h0M291 544h0M291.5 536h0M291.5 523h0M291.5 524h0M291.5 534.5h0M292 519.5h0M292 533h0M292 520h0M292 557h0M292 559.5h0M292 522h0M292.5 556.5h0M292.5 539h0M292.5 536h0M292.5 542h0M293 541.5h0M293 512h0M293.5 575h0M293.5 520h0M293.5 497.5h0M294 534h0M294.5 534.5h0M294.5 522.5h0M294.5 505h0M295 553.5h0M295 533h0M295 537.5h0M295.5 525.5h0M295.5 531.5h0M295.5 523.5h0M295.5 541h0M295.5 533.5h0M296 545h0M296 545h0M296 536.5h0M296 536.5h0M296 553h0M296.5 509h0M296.5 536.5h0M297 556.5h0M297 516.5h0M297 546.5h0M297 526h0M297 534.5h0M297 530h0M297.5 531.5h0M298 543.5h0M298 533.5h0M298 501.5h0M298 570.5h0M298.5 533h0M298.5 527.5h0M298.5 551h0M299 556.5h0M299 499.5h0M299 540.5h0M299 501h0M299 525.5h0M299 533h0M299.5 526.5h0M299.5 524h0M299.5 515.5h0M300 527.5h0M300 532h0M300 531.5h0M300 512.5h0M300.5 521h0M300.5 550.5h0M300.5 544.5h0M301 529h0M301 544.5h0M301 540.5h0M301 549.5h0M301 538.5h0M301.5 528h0M302 520h0M302 550h0M302 506.5h0M302 551h0M302 494h0M302 549h0M302 527.5h0M303 556.5h0M303 532h0M303 561h0M303 542h0M303 526.5h0M303.5 581.5h0M303.5 519h0M304 549.5h0M304 532h0M304 545h0M304.5 532h0M304.5 540h0M304.5 523.5h0M304.5 533h0M305 552.5h0M305 519h0M305 523h0M305 524.5h0M305.5 518h0M305.5 516.5h0M305.5 534.5h0M305.5 556h0M305.5 556.5h0M306 512.5h0M306 523h0M306 532.5h0M306.5 541.5h0M306.5 534h0M306.5 534h0M306.5 539.5h0M306.5 545.5h0M306.5 499.5h0M307 530.5h0M307.5 544h0M307.5 555h0M307.5 546h0M308 522.5h0M308 522h0M308 538h0M308.5 533.5h0M308.5 539h0M309 552h0M309 513.5h0M309 528.5h0M309 494.5h0M309.5 546.5h0M309.5 536.5h0M309.5 520h0M309.5 538h0M309.5 556.5h0M310 549.5h0M310 532.5h0M310 529h0M310 536h0M310.5 518h0M310.5 518.5h0M310.5 529h0M311 534h0M311 538.5h0M311 525.5h0M311 519.5h0M311 533.5h0M311.5 527h0M311.5 539.5h0M312 557h0M312 550.5h0M312 522h0M312.5 527h0M312.5 508.5h0M312.5 533.5h0M313 520.5h0M313 513h0M313 518.5h0M313 544h0M313.5 537.5h0M313.5 532h0M313.5 550h0M314 526.5h0M314 518h0M314.5 542h0M314.5 502.5h0M314.5 539h0M315 537.5h0M315 538h0M315 545.5h0M315 527.5h0M315.5 534h0M315.5 507.5h0M315.5 524.5h0M315.5 525.5h0M315.5 538h0M316 557h0M316 535.5h0M316 548h0M316 519h0M316 535h0M316.5 507.5h0M316.5 522.5h0M317 521h0M317 530.5h0M317 531h0M317 524h0M317.5 519.5h0M317.5 545.5h0M317.5 526.5h0M317.5 492h0M318 535.5h0M318 538.5h0M318 545.5h0M318 557.5h0M318.5 515h0M318.5 533.5h0M318.5 529.5h0M318.5 504.5h0M319 494h0M319 548.5h0M319 517.5h0M319 524h0M319 528h0M319 526.5h0M319 534.5h0M319.5 508.5h0M319.5 524.5h0M319.5 528.5h0M319.5 514h0M320 520h0M320 527h0M320 529h0M320 506h0M320 526h0M320.5 535.5h0M320.5 548h0M320.5 540h0M320.5 551h0M321 532.5h0M321 530h0M321 567.5h0M321 534h0M321.5 524h0M321.5 520.5h0M321.5 514.5h0M322 511h0M322.5 541h0M322.5 526h0M322.5 540.5h0M322.5 528h0M323 500.5h0M323 501.5h0M323.5 525.5h0M323.5 553.5h0M323.5 545h0M324 548.5h0M324 537h0M324 563h0M324 532.5h0M324 524h0M324 536.5h0M324 527h0M324.5 549.5h0M324.5 557.5h0M324.5 544.5h0M324.5 515.5h0M325 517.5h0M325 541.5h0M325 515h0M325 539.5h0M325 510h0M325 526.5h0M325.5 541.5h0M325.5 521.5h0M325.5 546.5h0M326 549.5h0M326 557.5h0M326 530h0M326 535h0M326 535.5h0M326 541h0M326.5 511h0M327 541h0M327 546h0M327 514h0M327 511.5h0M327.5 529h0M327.5 562.5h0M327.5 544h0M328 524.5h0M328 534h0M328 509.5h0M328 556.5h0M328 523.5h0M328.5 544.5h0M328.5 513h0M328.5 535.5h0M328.5 517.5h0M329 544.5h0M329 557h0M329 552h0M329 544h0M329 551h0M329 515h0M329 512.5h0M329 530h0M329.5 551h0M329.5 536h0M330 545.5h0M330 511h0M330 529h0M330 526.5h0M330 540.5h0M331 566.5h0M331 546.5h0M331 552.5h0M331 528.5h0M331 532.5h0M331 547h0M331.5 540.5h0M331.5 509h0M332.5 549.5h0M332.5 549h0M332.5 538h0M332.5 545.5h0M332.5 541h0M333 525.5h0M333 506.5h0M333 563h0M333 540h0M333 540h0M333.5 568.5h0M333.5 545h0M333.5 552.5h0M333.5 542.5h0M333.5 580.5h0M334 556.5h0M334 546.5h0M334 541h0M334 552.5h0M335 518h0M335 534.5h0M335 531.5h0M335 535h0M335 550.5h0M335 547.5h0M335 551h0M335.5 531h0M335.5 546h0M336 551.5h0M336 530.5h0M336 526h0M336 562.5h0M336 507h0M336 534h0M336 536h0M336.5 517h0M337 533h0M337 544h0M337 499h0M337 551.5h0M337 536h0M337 520.5h0M337 551.5h0M337.5 536h0M337.5 528h0M337.5 495.5h0M337.5 548.5h0M337.5 535h0M338 523.5h0M338 533h0M338 553.5h0M338.5 527.5h0M338.5 532.5h0M338.5 527h0M338.5 516h0M339 518h0M339 527.5h0M339 529.5h0M339 552h0M339 536.5h0M339 530.5h0M339 540.5h0M339 532.5h0M339 547.5h0M339.5 509.5h0M339.5 499.5h0M339.5 540.5h0M340 528h0M340 538h0M340 514h0M340 527.5h0M340.5 533h0M340.5 538h0M340.5 532.5h0M341 550.5h0M341 523.5h0M341 546h0M341 525.5h0M341 532h0M341.5 516.5h0M341.5 534.5h0M341.5 518h0M341.5 549h0M341.5 524.5h0M342 538h0M342 531h0M342 533h0M342 519h0M342.5 567h0M342.5 529h0M342.5 558.5h0M343 515h0M343 566h0M343 550.5h0M343 561h0M343 508h0M343.5 555h0M343.5 532.5h0M344 543h0M344 563.5h0M344.5 539.5h0M344.5 523.5h0M344.5 537.5h0M345 519h0M345 540h0M345 534h0M345 540.5h0M345 529h0M345 503.5h0M345.5 528.5h0M345.5 531h0M345.5 544h0M346 546.5h0M346 510.5h0M346 552h0M346 549h0M346 536h0M346 541h0M346.5 503h0M346.5 572.5h0M346.5 528.5h0M346.5 523h0M347 552.5h0M347 544.5h0M347 527.5h0M347 508h0M347 549h0M347.5 559.5h0M347.5 518.5h0M347.5 510h0M347.5 539.5h0M347.5 570h0M347.5 511h0M348 537.5h0M348 516h0M348 535h0M348 540.5h0M348 541.5h0M348.5 510.5h0M348.5 511h0M348.5 568.5h0M348.5 549.5h0M348.5 505.5h0M348.5 540h0M348.5 556h0M348.5 534h0M348.5 536h0M349 536h0M349 542h0M349.5 539.5h0M349.5 541.5h0M349.5 529h0M349.5 547.5h0M349.5 539h0M350 536.5h0M350 513.5h0M350 528.5h0M350 551.5h0M350 527.5h0M350.5 541.5h0M350.5 517.5h0M350.5 548h0M350.5 531.5h0M350.5 519.5h0M351 541.5h0M351 543.5h0M351 527h0M351 553h0M351 544h0M351.5 561.5h0M352 535.5h0M352 531.5h0M352 545.5h0M352 542.5h0M352.5 555h0M352.5 517.5h0M352.5 543h0M353 528h0M353 527.5h0M353.5 547h0M353.5 544h0M353.5 567.5h0M353.5 549h0M353.5 563.5h0M353.5 527h0M353.5 533.5h0M354 519.5h0M354.5 528.5h0M354.5 544.5h0M354.5 528.5h0M354.5 540.5h0M354.5 524.5h0M355 529h0M355 550h0M355.5 534h0M355.5 533.5h0M355.5 539h0M355.5 520h0M356 506.5h0M356.5 540h0M357 540h0M357 570.5h0M357 536.5h0M357 541.5h0M357 569h0M357 529.5h0M357 525h0M357 546h0M357.5 540.5h0M357.5 550h0M357.5 522h0M357.5 558.5h0M357.5 539.5h0M357.5 503h0M358 533.5h0M358 527h0M358 536.5h0M358 553h0M358 535h0M358 527.5h0M358.5 550.5h0M358.5 529h0M358.5 514h0M358.5 517h0M358.5 560h0M358.5 550h0M358.5 560.5h0M359 517h0M359 524.5h0M359 523h0M359.5 548.5h0M359.5 553h0M359.5 533h0M359.5 532.5h0M359.5 548h0M359.5 532h0M360 524h0M360 530.5h0M360.5 551h0M360.5 568.5h0M360.5 538.5h0M360.5 531.5h0M361 538.5h0M361 541h0M361 545.5h0M361.5 523h0M361.5 535h0M361.5 532.5h0M362 550h0M362 544.5h0M362 531.5h0M362 550.5h0M362 554.5h0M362 539.5h0M362 515h0M362 531h0M362 511h0M362 536.5h0M362.5 539.5h0M362.5 556.5h0M362.5 543.5h0M363 511h0M363 529h0M363 522.5h0M363 523h0M363 534.5h0M363 537.5h0M363.5 532.5h0M363.5 523.5h0M363.5 527h0M364 526.5h0M364 532h0M364 546.5h0M364 538.5h0M364 549.5h0M364.5 518h0M364.5 568h0M364.5 538h0M364.5 496h0M365 540h0M365 552.5h0M365 534.5h0M365 513.5h0M365 537h0M365 524.5h0M365.5 532.5h0M365.5 540.5h0M365.5 502h0M365.5 533h0M366 544.5h0M366 549h0M366 536.5h0M366 541.5h0M366.5 523.5h0M366.5 544h0M366.5 558h0M367 533h0M367 552h0M367 543.5h0M367 566.5h0M367.5 544h0M367.5 558.5h0M367.5 535h0M367.5 562.5h0M368 533.5h0M368 532.5h0M368.5 552.5h0M368.5 544.5h0M369 548h0M369 519.5h0M369 575h0M369 540h0M369.5 561h0M369.5 541h0M369.5 520.5h0M370 544.5h0M370 532h0M370 548h0M370 503h0M370 519.5h0M370 516h0M370 555.5h0M370.5 552h0M370.5 517h0M370.5 537.5h0M370.5 538.5h0M371 529h0M371 554.5h0M371.5 522h0M371.5 534h0M372 526.5h0M372 545h0M372 526h0M372 545.5h0M372.5 519h0M372.5 516h0M372.5 519.5h0M372.5 526h0M373 524h0M373 578h0M373 521h0M373 538.5h0M373.5 533h0M373.5 539h0M373.5 556.5h0M373.5 543h0M374 523.5h0M374 511.5h0M374 544.5h0M374 549h0M374.5 511h0M374.5 548.5h0M374.5 501h0M374.5 533.5h0M374.5 548.5h0M375 518.5h0M375 507h0M375 557.5h0M375 509h0M375.5 539h0M376 510.5h0M376 540.5h0M376 559.5h0M376 526h0M376.5 519.5h0M376.5 500.5h0M376.5 506.5h0M376.5 523h0M377 538h0M377 542.5h0M377.5 539h0M377.5 547.5h0M377.5 538.5h0M378 575h0M378 531.5h0M378 535h0M378 493h0M378 522h0M378 542h0M378.5 525h0M378.5 554h0M378.5 544h0M378.5 564.5h0M378.5 511h0M378.5 524.5h0M379 553h0M379 535.5h0M379 519h0M379 526.5h0M379 528h0M379.5 548h0M379.5 544.5h0M379.5 533h0M380 519.5h0M380 547.5h0M380 552.5h0M380 516h0M380 549.5h0M380 517h0M380.5 530.5h0M380.5 520h0M380.5 506h0M380.5 523h0M381 522h0M381 549h0M381 545.5h0M381 524h0M381 509.5h0M381 512h0M381.5 497h0M381.5 529.5h0M381.5 531h0M381.5 518h0M381.5 534h0M382 535.5h0M382 551h0M382.5 518.5h0M382.5 551.5h0M382.5 526h0M382.5 557h0M383 516.5h0M383 551h0M383 520.5h0M384 560h0M384 541.5h0M384 515.5h0M384.5 547h0M384.5 533h0M385 560h0M385 577.5h0M385 530.5h0M385 548h0M385 563h0M385 525.5h0M385 565.5h0M385 562.5h0M385 543h0M385 568h0M385.5 499.5h0M385.5 564.5h0M385.5 526.5h0M385.5 522.5h0M385.5 569.5h0M386 507.5h0M386 542.5h0M386 544h0M386 541h0M386.5 540.5h0M386.5 548h0M386.5 565.5h0M386.5 547.5h0M386.5 543.5h0M387 552h0M387 534h0M387 530.5h0M387 556.5h0M387 506.5h0M387 517h0M387.5 520.5h0M387.5 553.5h0M387.5 541h0M388 543h0M388 541h0M388 552.5h0M388 527.5h0M388.5 530.5h0M389 528.5h0M389 542.5h0M390 513.5h0M390 531.5h0M390 578.5h0M390 544.5h0M390 535h0M390 518.5h0M390 539h0M390 538.5h0M390.5 545h0M390.5 523.5h0M390.5 541.5h0M390.5 544h0M390.5 546h0M390.5 525.5h0M391 543h0M391 561.5h0M391 524.5h0M391 545.5h0M391.5 528.5h0M391.5 528.5h0M391.5 515h0M391.5 517.5h0M391.5 543.5h0M392 537h0M392 555h0M392 507.5h0M392 527h0M392 512h0M392 539.5h0M392 567.5h0M392.5 509.5h0M392.5 533h0M392.5 532h0M392.5 533.5h0M393 524h0M393 525.5h0M393.5 560h0M393.5 517h0M393.5 543h0M393.5 542h0M393.5 506.5h0M393.5 519.5h0M394 539.5h0M394 564h0M394 531.5h0M394.5 525.5h0M395 535.5h0M395.5 554.5h0M395.5 547h0M395.5 554.5h0M395.5 531h0M395.5 521h0M395.5 518h0M395.5 546h0M395.5 530.5h0M396 525.5h0M396 542.5h0M396 536.5h0M396 500h0M396 531h0M396 520h0M396 541.5h0M396.5 533.5h0M397 562h0M397 534.5h0M397 515h0M397 500.5h0M397 515h0M397 523h0M397 533.5h0M397 544h0M397.5 537h0M397.5 524.5h0M398 547h0M398 519.5h0M398 550h0M398.5 563h0M398.5 550.5h0M398.5 561h0M398.5 556.5h0M399 516h0M399 537.5h0M399 531h0M399.5 515.5h0M399.5 514h0M399.5 542.5h0M400 538h0M400 542.5h0M400.5 540h0M401 527.5h0M401 560h0M401 560h0M401.5 568h0M402 535h0M402 540.5h0M402.5 536.5h0M402.5 518.5h0M402.5 511.5h0M402.5 522h0M402.5 514h0M402.5 541h0M402.5 539h0M402.5 529h0M403 539h0M403 542.5h0M403 507.5h0M403 537.5h0M403 550h0M403 526.5h0M403 504.5h0M403 533h0M403 514.5h0M403.5 541.5h0M403.5 542h0M403.5 545.5h0M403.5 536.5h0M404 504.5h0M404 553h0M404 508h0M404.5 550.5h0M404.5 538h0M405 521h0M405 524h0M405 508h0M405 476.5h0M405.5 480.5h0M405.5 487.5h0M406 493.5h0M406 496h0M406 511.5h0M406 507h0M406.5 490h0M406.5 498.5h0M407 484h0M407 529h0M407 475.5h0M407.5 508.5h0M407.5 504.5h0M407.5 511h0M407.5 503.5h0M407.5 519.5h0M408 487h0M408 514h0M408 521.5h0M408 507.5h0M408 520h0M408.5 484h0M408.5 538.5h0M408.5 515.5h0M408.5 498h0M408.5 509h0M408.5 493.5h0M409 505.5h0M409.5 510.5h0M409.5 474.5h0M410 507.5h0M410 507h0M410 520h0M410.5 515h0M410.5 496h0M410.5 497h0M410.5 505h0M411 514.5h0M411 495.5h0M411.5 528.5h0M411.5 510h0M411.5 508.5h0M411.5 517h0M411.5 503h0M412 514.5h0M412 516.5h0M412 480h0M412 495h0M412.5 488.5h0M413 504.5h0M413 491.5h0M413 494.5h0M413 488.5h0M413.5 472h0M413.5 508.5h0M413.5 501.5h0M413.5 506h0M413.5 496.5h0M413.5 524.5h0M414 505h0M414 496.5h0M414 513h0M414 489.5h0M414 487.5h0M414.5 511h0M414.5 485.5h0M414.5 481h0M414.5 498.5h0M414.5 519h0M414.5 484.5h0M414.5 507.5h0M414.5 510.5h0M414.5 503.5h0M414.5 512.5h0M415 490h0M415 494.5h0M415 488h0M415 497h0M415.5 516h0M415.5 507.5h0M415.5 493h0M415.5 511h0M415.5 464.5h0M416 508.5h0M416 513.5h0M416 489h0M416 494.5h0M416 505.5h0M416 508.5h0M416 499h0M416.5 493.5h0M416.5 494.5h0M416.5 509.5h0M416.5 499h0M417 493.5h0M417 494.5h0M417 548h0M417 517.5h0M417 516h0M417 508.5h0M417 502.5h0M417.5 492.5h0M417.5 496.5h0M417.5 507h0M418 505h0M418 480.5h0M418 513.5h0M418 501h0M418 483.5h0M418.5 500.5h0M418.5 533.5h0M418.5 500h0M418.5 510.5h0M418.5 506.5h0M418.5 490.5h0M419 498.5h0M419 509h0M419 492.5h0M419 499h0M419 503.5h0M419 501h0M419.5 501.5h0M419.5 510h0M419.5 511.5h0M420 505h0M420 518.5h0M420 522.5h0M420 487h0M420 508.5h0M420.5 505.5h0M420.5 507h0M421 505h0M421 505h0M421 504h0M421 516.5h0M421.5 492h0M421.5 515h0M421.5 490.5h0M421.5 532h0M422 520h0M422 491.5h0M422 507h0M422 514.5h0M422 500h0M422.5 519.5h0M422.5 504h0M422.5 536h0M422.5 511.5h0M422.5 514h0M422.5 497.5h0M422.5 493h0M422.5 517h0M423 483h0M423 513.5h0M423 534h0M423.5 538.5h0M423.5 483.5h0M424 506.5h0M425 524.5h0M426 515.5h0M426 520.5h0M426 486.5h0M426 506.5h0M427 480h0M427 508h0M427.5 538h0M427.5 493.5h0M427.5 510.5h0M428 508.5h0M428 483.5h0M428.5 509h0M428.5 489h0M429 505h0M429 515.5h0M429 498h0M429 513.5h0M429.5 488h0M429.5 492h0M429.5 504.5h0M430 496.5h0M430 497.5h0M430 509h0M430.5 492.5h0M430.5 508.5h0M430.5 496.5h0M431 518.5h0M431 503.5h0M431 499.5h0M431 516h0M431 511h0M431 512.5h0M431.5 495h0M431.5 515h0M431.5 499h0M431.5 484h0M432 500h0M432 527.5h0M432 503.5h0M432 490.5h0M432.5 509h0M432.5 489.5h0M433 496.5h0M433 499h0M433 508.5h0M433 512h0M433 508.5h0M433 504h0M433.5 498h0M433.5 499h0M433.5 509h0M434 504h0M434 499.5h0M434 527.5h0M434 515.5h0M434 516h0M434 508h0M434.5 509h0M434.5 508.5h0M434.5 517h0M434.5 495.5h0M435 511.5h0M435 542.5h0M435 514h0M435.5 531.5h0M435.5 505.5h0M436 528.5h0M436 528h0M436 527h0M436 519h0M436 520.5h0M436 505.5h0M436 503.5h0M436.5 502h0M436.5 509.5h0M437 527h0M437 481.5h0M437.5 495.5h0M437.5 491.5h0M437.5 517h0M437.5 493.5h0M437.5 499h0M438 512.5h0M438 473h0M438 497h0M438.5 508h0M438.5 502h0M438.5 492h0M438.5 489h0M438.5 497h0M439 488h0M439 484.5h0M439 522h0M439.5 511.5h0M439.5 518h0M439.5 503.5h0M439.5 485h0M439.5 496h0M439.5 519.5h0M440 509h0M440 490.5h0M440 512.5h0M440 506h0M440.5 500.5h0M440.5 530h0M440.5 494h0M441 500h0M441.5 497h0M441.5 518.5h0M441.5 515.5h0M441.5 513h0M441.5 501.5h0M441.5 504h0M441.5 503h0M442 480h0M442 486.5h0M442 515h0M442 514h0M442.5 481h0M442.5 509.5h0M442.5 485.5h0M442.5 482.5h0M442.5 512.5h0M442.5 508.5h0M443 503.5h0M443 517h0M443 518.5h0M443.5 510.5h0M443.5 493h0M444 511h0M444 507.5h0M444 511.5h0M444 524h0M444 484h0M444.5 537.5h0M444.5 514h0M444.5 497h0M444.5 524.5h0M444.5 496.5h0M445 499.5h0M445 461h0M445 499h0M446 488h0M446 508.5h0M446.5 511.5h0M446.5 525h0M446.5 495.5h0M446.5 512h0M447 507h0M447 523.5h0M448 515.5h0M448 520h0M448 524h0M448 514h0M448.5 516h0M448.5 519h0M448.5 532h0M448.5 519.5h0M448.5 509h0M448.5 520.5h0M449 509.5h0M449 514.5h0M449 524.5h0M449 522.5h0M449 520h0M449.5 513h0M449.5 512.5h0M449.5 493.5h0M449.5 517.5h0M450 526.5h0M450 495.5h0M450.5 503h0M450.5 498h0M451 480.5h0M451 494.5h0M451 507h0M451.5 505h0M451.5 517h0M451.5 507.5h0M451.5 525.5h0M452 533.5h0M452 533h0M452 510.5h0M452 511h0M452 535.5h0M452 517.5h0M452 533.5h0M452.5 524.5h0M452.5 541.5h0M452.5 533.5h0M452.5 545.5h0M452.5 549h0M453 546.5h0M453 548.5h0M453 559h0M453 570.5h0M453.5 538.5h0M453.5 569.5h0M453.5 540.5h0M454 508h0M454 575h0M454 550h0M454 527h0M454.5 555h0M454.5 540h0M454.5 556.5h0M454.5 523h0M454.5 530h0M454.5 528.5h0M454.5 517h0M455 510h0M455 514.5h0M455 531.5h0M455 538.5h0M455 535h0M455 541.5h0M455.5 494h0M455.5 516h0M455.5 512h0M455.5 511h0M455.5 490h0M455.5 518.5h0M455.5 497h0M456 499h0M456 502.5h0M456.5 518h0M456.5 486.5h0M456.5 505.5h0M457 505h0M457 498.5h0M457 500.5h0M457.5 494.5h0M457.5 515.5h0M457.5 507h0M458 507h0M458 511.5h0M458 505h0M458 516h0M458 499.5h0M458 523.5h0M458.5 532.5h0M458.5 516.5h0M458.5 507h0M458.5 526h0M458.5 528.5h0M459 528.5h0M459 525.5h0M459.5 533h0M459.5 535.5h0M460 556.5h0M460 519.5h0M460.5 529h0M461 541.5h0M461.5 514h0M461.5 523h0M461.5 511.5h0M461.5 541h0M462 508h0M462.5 524h0M462.5 547h0M462.5 514.5h0M463 524h0M463 530.5h0M463 521.5h0M463 541h0M463 512.5h0M463 521h0M463.5 521h0M463.5 502h0M463.5 517.5h0M463.5 525h0M463.5 528h0M463.5 517h0M464 503h0M464 521.5h0M464 525.5h0M464.5 488.5h0M464.5 498.5h0M465 515h0M465.5 498h0M466 548.5h0M466 535.5h0M466 558h0M466.5 550.5h0M466.5 537h0M466.5 529h0M467 555.5h0M467 529.5h0M467 525h0M467 531.5h0M467.5 501.5h0M467.5 528.5h0M467.5 530.5h0M467.5 514.5h0M468 536h0M468 496.5h0M468 500.5h0M468 516h0M468 504h0M468 505h0M468 488.5h0M468.5 513h0M468.5 519h0M468.5 525.5h0M469 497.5h0M469 511h0M469.5 489h0M469.5 485h0M469.5 497.5h0M470 506.5h0M470 482.5h0M470 500h0M470 496.5h0M470 491.5h0M470.5 524h0M471 520.5h0M471 483.5h0M471 515h0M471 525h0M471 520h0M471.5 525h0M471.5 533h0M471.5 527h0M472 527.5h0M472 531h0M472 526.5h0M472.5 554.5h0M472.5 554h0M472.5 529.5h0M472.5 545h0M472.5 527h0M473.5 526.5h0M473.5 546h0M473.5 522.5h0M474 538.5h0M474 523.5h0M474 512.5h0M474 501h0M474 525.5h0M474.5 515.5h0M474.5 518h0M475 512h0M475 548.5h0M475 524.5h0M475 516h0M475 514h0M475.5 525.5h0M475.5 507h0M475.5 502.5h0M476 512h0M476 514.5h0M476 516h0M476.5 508.5h0M476.5 496h0M476.5 467.5h0M476.5 491h0M477 499.5h0M477 498.5h0M477 479.5h0M477 492h0M477.5 493h0M477.5 491h0M477.5 493h0M477.5 503h0M477.5 515.5h0M477.5 511h0M478 507h0M478 507.5h0M478.5 522h0M478.5 523h0M478.5 504h0M478.5 525h0M479 520.5h0M479 530h0M479 540h0M479 548h0M479 537.5h0M479.5 542h0M480 535.5h0M480 557.5h0M480.5 561.5h0M480.5 550h0M480.5 559.5h0M481 540h0M481.5 534.5h0M481.5 560.5h0M481.5 545.5h0M481.5 549.5h0M482 520.5h0M482 535h0M482 526.5h0M482 511.5h0M482.5 531.5h0M482.5 526h0M482.5 521h0M482.5 527.5h0M482.5 509h0M483 511.5h0M483 509.5h0M483.5 514h0M484 505.5h0M484 506h0M484 508.5h0M484 523h0M484.5 502h0M484.5 498h0M484.5 508h0M485 519h0M485.5 518.5h0M485.5 516.5h0M485.5 516h0M485.5 502.5h0M485.5 532.5h0M486 550.5h0M486.5 543h0M486.5 548.5h0M486.5 551.5h0M487 550.5h0M487 546h0M487.5 528.5h0M487.5 520h0M487.5 542.5h0M487.5 530h0M487.5 526h0M487.5 519h0M488 526h0M488 523h0M488 517.5h0M488 540h0M488 524h0M488.5 537h0M488.5 539h0M488.5 526h0M489 525.5h0M489 500.5h0M489.5 471h0M489.5 486.5h0M489.5 486h0M490 489.5h0M490 492.5h0M490.5 488h0M490.5 487h0M490.5 496.5h0M491 503.5h0M491 500.5h0M491 487.5h0M491 501.5h0M491.5 482h0M491.5 502h0M491.5 486h0M491.5 515h0M492 510h0M492 498h0M492 498h0M492 505.5h0M492 481.5h0M492 504.5h0M492.5 503.5h0M492.5 514h0M492.5 489.5h0M492.5 498.5h0M492.5 504h0M493 530h0M493 508.5h0M493 518h0M493.5 510.5h0M494 528h0M494 543.5h0M494.5 531h0M494.5 523h0M494.5 528.5h0M495 531h0M495 537h0M495 531h0M495 537h0M495.5 510h0M495.5 518.5h0M495.5 533h0M495.5 518h0M495.5 531.5h0M496 551h0M496 501.5h0M496 500.5h0M496 528.5h0M497 511.5h0M497 499h0M497 508h0M497 514h0M497.5 512h0M497.5 512h0M498 518h0M498 510.5h0M498 515h0M499.5 538.5h0M500 535.5h0M500 554.5h0M500 520.5h0M500 555.5h0M500 538.5h0M500 534h0M500.5 525h0M500.5 526.5h0M501 513.5h0M501 538h0M501.5 524.5h0M501.5 521h0M501.5 528h0M501.5 529h0M501.5 508.5h0M501.5 530h0M501.5 527h0M501.5 523h0M501.5 522h0M501.5 518h0M501.5 522h0M502 514h0M502 515.5h0M502 511h0M502 501h0M502 524.5h0M502.5 492.5h0M502.5 515h0M502.5 501.5h0M502.5 506.5h0M503 507.5h0M503.5 523.5h0M503.5 484.5h0M503.5 507h0M503.5 507h0M503.5 486.5h0M504 496h0M504 476h0M504 478h0M504 486.5h0M504 490.5h0M504.5 482.5h0M504.5 504.5h0M504.5 487.5h0M504.5 486.5h0M504.5 493h0M504.5 485h0M505 518h0M505.5 499h0M505.5 495.5h0M505.5 526.5h0M506 512.5h0M506 499h0M506 511.5h0M506 528.5h0M506.5 529.5h0M506.5 510h0M506.5 499.5h0M506.5 532.5h0M507 524h0M507 536.5h0M507 531h0M507.5 526.5h0M507.5 530.5h0M508 544h0M508 515h0M508.5 542h0M508.5 529h0M508.5 514h0M508.5 525h0M509 526.5h0M509 513h0M509 533h0M509.5 513h0M509.5 509.5h0M509.5 513.5h0M509.5 522h0M509.5 520h0M509.5 538.5h0M509.5 521h0M509.5 515.5h0M510 508h0M510 515h0M510 519h0M510 524h0M510 515h0M510.5 511.5h0M510.5 499h0M510.5 511.5h0M511 515.5h0M511 492.5h0M511 499.5h0M511 499.5h0M511 523.5h0M511.5 518h0M511.5 515.5h0M511.5 500.5h0M511.5 508h0M511.5 506h0M511.5 496.5h0M512 529h0M512.5 506.5h0M512.5 515h0M513 536h0M513 519.5h0M513.5 559.5h0M514 558h0M514 548.5h0M514 542h0M514 548h0M514 568.5h0M514.5 545h0M514.5 542.5h0M515 512.5h0M515 524.5h0M515 537.5h0M515 550.5h0M515 534.5h0M515 549.5h0M515 534.5h0M515.5 530h0M515.5 537.5h0M516 529.5h0M516 534.5h0M516 536.5h0M516 513.5h0M516 523h0M516.5 530h0M516.5 533.5h0M517 521.5h0M517 516.5h0M517 511.5h0M517.5 504h0M517.5 515h0M518 526h0M518 491.5h0M518.5 499.5h0M518.5 501.5h0M518.5 494.5h0M519.5 531h0M519.5 522h0M519.5 532h0M519.5 516.5h0M519.5 544h0M520 539.5h0M520 528.5h0M520.5 550.5h0M520.5 564.5h0M520.5 544.5h0M521 570h0M521 550h0M521.5 551h0M521.5 542h0M521.5 548.5h0M521.5 552.5h0M522 540h0M522 554h0M522 534h0M522 543h0M522.5 526h0M522.5 540h0M522.5 539h0M523 525h0M523 515h0M523 549.5h0M523 525h0M523 518h0M523 539.5h0M523.5 529.5h0M524 509h0M524 524h0M524 521h0M524 495h0M524 522.5h0M524 520.5h0M524 536h0M524 521h0M524.5 521.5h0M524.5 489.5h0M524.5 492h0M524.5 518.5h0M524.5 483.5h0M524.5 495h0M525 503.5h0M525 492h0M525 495.5h0M525 488.5h0M525 500h0M525.5 492h0M525.5 487h0M526 497h0M526 509h0M526.5 492.5h0M526.5 517h0M526.5 502.5h0M527 520h0M527 515h0M527 529h0M527 520h0M527.5 533h0M527.5 546h0M527.5 529.5h0M527.5 531h0M528 525.5h0M528 531.5h0M528.5 558h0M528.5 553h0M528.5 573h0M528.5 556.5h0M528.5 529.5h0M529 525h0M529 531.5h0M529.5 533.5h0M529.5 527h0M529.5 527.5h0M529.5 550h0M529.5 540.5h0M530 518h0M530 517.5h0M530 527h0M530 532.5h0M530 530.5h0M530.5 529.5h0M530.5 532h0M530.5 540.5h0M531 515.5h0M531 521.5h0M531 518.5h0M531 495.5h0M531.5 506.5h0M531.5 520h0M531.5 506h0M531.5 528h0M531.5 500.5h0M531.5 508h0M532 508.5h0M533 504h0M533 494.5h0M533 516.5h0M533 524h0M533 494h0M533.5 520h0M533.5 507.5h0M533.5 538.5h0M534 530h0M534 542.5h0M534 531.5h0M534.5 554h0M534.5 559h0M534.5 540.5h0M534.5 542.5h0M535 563h0M535.5 542h0M535.5 549h0M535.5 549.5h0M536 539.5h0M536 538.5h0M536 532h0M536.5 537.5h0M536.5 547.5h0M536.5 531.5h0M537 514h0M537 537h0M537.5 513h0M537.5 514.5h0M537.5 523h0M537.5 513.5h0M537.5 524.5h0M538 518h0M538 521h0M538.5 503.5h0M538.5 493h0M538.5 515h0M538.5 494.5h0M538.5 530h0M538.5 515.5h0M538.5 509h0M539 480h0M539 505.5h0M539.5 494.5h0M539.5 526.5h0M540 504.5h0M540 500.5h0M540 508.5h0M540.5 538h0M540.5 507.5h0M540.5 501h0M540.5 497h0M540.5 507.5h0M541 532h0M541.5 517.5h0M541.5 506h0M541.5 525.5h0M541.5 511h0M541.5 522.5h0M542.5 522.5h0M542.5 515.5h0M542.5 533h0M543 496h0M543 526h0M543 524h0M543.5 532h0M543.5 520h0M543.5 521.5h0M543.5 534h0M543.5 532h0M543.5 511.5h0M544 514h0M544 541h0M544 529.5h0M544 508.5h0M544 505.5h0M544 497.5h0M544 517.5h0M544 497.5h0M544 506.5h0M544 507.5h0M544.5 502.5h0M544.5 487.5h0M544.5 492h0M544.5 487h0M545 493h0M545 485h0M545 492.5h0M545.5 483h0M545.5 480.5h0M545.5 479.5h0M545.5 465h0M545.5 527h0M546 523.5h0M546 530.5h0M546.5 520h0M546.5 530.5h0M546.5 521.5h0M546.5 526.5h0M546.5 524h0M547 532.5h0M547 545.5h0M547 548h0M547 510.5h0M547 528h0M547.5 527.5h0M547.5 534h0M547.5 537h0M547.5 501h0M547.5 544.5h0M548 533h0M548 533h0M548.5 545h0M548.5 546.5h0M549 540h0M549 536.5h0M549 538h0M549 524h0M549 545.5h0M549.5 528.5h0M549.5 516.5h0M549.5 523h0M549.5 545.5h0M549.5 565h0M549.5 523.5h0M550 527.5h0M550 539.5h0M550 519h0M550.5 537.5h0M550.5 532h0M550.5 546h0M550.5 530.5h0M551 527.5h0M551.5 523h0M551.5 502.5h0M551.5 511h0M552 525h0M552 499.5h0M552 496.5h0M552 513h0M552.5 502h0M552.5 495.5h0M553 504.5h0M553 502h0M553.5 511h0M553.5 526h0M554 511h0M554.5 553.5h0M554.5 551.5h0M554.5 524.5h0M555 517.5h0M555.5 539h0M555.5 540.5h0M556 548h0M556 523h0M556 533h0M556.5 541.5h0M556.5 525h0M556.5 514.5h0M556.5 522h0M557 501h0M557 512.5h0M557 519h0M557.5 521h0M557.5 513.5h0M557.5 506h0M558 507h0M558 504h0M558.5 511.5h0M558.5 505h0M558.5 498.5h0M558.5 513.5h0M558.5 525.5h0M558.5 492.5h0M558.5 504.5h0M558.5 515h0M559 506.5h0M559 511.5h0M559 526h0M559 509h0M559 499h0M559.5 482.5h0M559.5 488h0M559.5 478.5h0M559.5 493.5h0M560 493h0M560 503.5h0M560.5 510h0M560.5 527.5h0M560.5 503h0M561 514.5h0M561 525h0M561 517.5h0M561 524.5h0M561 530.5h0M561.5 522.5h0M561.5 513.5h0M561.5 535.5h0M562 550.5h0M562 542h0M562 517.5h0M562 553.5h0M562.5 535h0M562.5 554h0M562.5 545h0M562.5 569h0M563 581h0M563 567.5h0M563 529.5h0M563.5 550.5h0M564 531h0M564 536.5h0M564 533h0M564 524.5h0M564.5 517h0M564.5 498h0M564.5 519.5h0M564.5 519.5h0M564.5 524h0M564.5 525h0M565 509.5h0M565 487h0M565.5 516h0M565.5 481h0M565.5 487h0M565.5 500h0M566 514.5h0M566 502h0M566 506h0M566.5 496.5h0M566.5 517h0M566.5 518h0M567 517h0M567 521h0M567 527h0M567.5 540h0M567.5 539.5h0M567.5 532.5h0M568 532h0M568 520h0M568.5 511h0M568.5 520h0M569 534h0M569 517h0M569 538.5h0M569.5 540h0M569.5 508.5h0M569.5 543h0M570 534.5h0M570 530.5h0M570 510.5h0M570 531.5h0M570.5 516h0M570.5 528h0M570.5 533h0M571 512.5h0M571 512h0M571 526h0M571 521.5h0M571.5 518h0M571.5 498h0M572 498h0M572 498.5h0M572 494h0M572 504h0M572.5 492h0M572.5 504.5h0M572.5 514h0M572.5 509h0M572.5 500h0M573 503h0M573 494h0M573 526h0M573.5 511.5h0M573.5 506.5h0M573.5 522h0M573.5 509h0M573.5 516.5h0M573.5 525.5h0M573.5 502h0M574 530h0M574 504.5h0M574 520h0M574 526h0M574.5 531h0M574.5 533.5h0M575 538h0M575 526h0M575 550h0M575 517.5h0M576 528.5h0M576 523h0M576 549.5h0M576 566h0M576.5 550.5h0M576.5 546h0M576.5 541h0M576.5 550.5h0M576.5 547.5h0M576.5 546h0M576.5 566h0M577 530h0M577 563h0M577.5 505h0M577.5 495.5h0M578 515.5h0M578 505.5h0M578 487.5h0M578 508h0M578 493.5h0M578.5 499.5h0M579 497h0M579 489h0M579.5 499h0M579.5 497.5h0M579.5 484h0M579.5 490.5h0M580 486.5h0M580 504.5h0M580 489.5h0M580.5 474.5h0M580.5 477.5h0M580.5 483h0M581 490h0M581 491h0M581.5 476.5h0M581.5 465.5h0M581.5 480h0M582 463.5h0M582 481h0M582 464h0M582 492h0M582.5 481h0M582.5 496.5h0M582.5 478.5h0M583 479.5h0M583 498h0M583 496h0M583 493.5h0M583 505h0M583.5 500h0M583.5 500h0M583.5 482.5h0M583.5 476.5h0M583.5 497h0M583.5 497h0M583.5 491.5h0M583.5 500h0M584 500.5h0M584.5 489.5h0M584.5 497h0M584.5 500.5h0M584.5 506.5h0M585 487h0M585 512.5h0M585 504.5h0M585 518.5h0M585.5 516h0M586 511h0M586 517.5h0M586.5 512.5h0M587 520.5h0M587 539h0M587 547.5h0M587 510.5h0M587.5 526h0M587.5 497.5h0M588 512h0M588 520.5h0M588 505h0M588 514h0M588 510.5h0M588.5 513h0M588.5 495.5h0M588.5 490.5h0M588.5 504h0M588.5 476.5h0M589 500.5h0M589 484.5h0M589.5 503h0M589.5 505.5h0M589.5 459.5h0M589.5 466.5h0M589.5 469h0M589.5 499.5h0M589.5 478h0M589.5 473.5h0M590 471h0M590 466.5h0M590.5 478.5h0M590.5 470h0M590.5 512.5h0M591 507.5h0M591 499.5h0M591 513h0M591 508h0M591 509.5h0M591 505.5h0M591 497h0M591.5 506.5h0M591.5 507.5h0M591.5 530.5h0M592 519.5h0M592 507h0M592 528h0M592 524h0M592 532h0M592.5 508.5h0M592.5 528h0M592.5 531.5h0M592.5 518.5h0M592.5 514h0M592.5 521.5h0M592.5 517h0M593 530h0M593.5 539.5h0M593.5 543h0M593.5 545h0M593.5 547h0M593.5 536.5h0M593.5 542h0M593.5 540h0M594 537.5h0M594 546h0M594.5 564.5h0M594.5 562h0M595 568.5h0M595 542h0M595 553h0M595 567.5h0M595 563.5h0M595 560h0M595.5 537h0M596 541.5h0M596 525.5h0M596 535h0M596 537h0M596.5 522h0M596.5 518.5h0M596.5 517.5h0M597 526.5h0M597 518h0M597 525h0M597.5 508.5h0M597.5 504h0M597.5 484h0M598 481h0M598 487h0M598 484h0M598.5 485h0M598.5 456h0M598.5 469h0M598.5 455h0M598.5 478h0M598.5 476.5h0M599 465h0M599 495h0M599.5 494.5h0M599.5 510.5h0M599.5 489.5h0M599.5 498.5h0M599.5 492h0M599.5 505h0M599.5 522.5h0M599.5 498.5h0M600 493.5h0M600 523.5h0M600 521h0M600 514.5h0M600 515h0M600.5 531.5h0M600.5 496h0M600.5 505h0M601 528.5h0M601 546h0M601 523.5h0M601 507h0M601.5 521.5h0M601.5 518.5h0M601.5 541h0M602 508h0M602 526.5h0M602.5 487.5h0M602.5 502.5h0M602.5 531.5h0M602.5 528h0M603 502h0M603.5 504.5h0M603.5 509.5h0M603.5 498.5h0M604 482.5h0M604 499h0M604 522.5h0M604.5 504.5h0M604.5 516.5h0M604.5 511h0M604.5 498h0M604.5 503.5h0M604.5 513h0M605 501h0M605 509h0M605.5 494h0M605.5 501h0M607 479h0M607 486.5h0M607 479h0M607 489.5h0M607 488.5h0M607.5 500.5h0M607.5 495h0M608 519h0M608 471.5h0M608 510h0M608 504.5h0M608 511.5h0M608.5 520h0M609 516h0M609 526.5h0M609 526h0M609 537h0M609 535.5h0M609 546h0M609.5 541.5h0M610 563h0M610 560h0M610 545.5h0M610 529.5h0M610.5 559h0M610.5 547h0M611 525.5h0M611 522h0M611 536.5h0M611.5 536h0M611.5 526.5h0M611.5 507h0M611.5 514.5h0M611.5 502.5h0M611.5 511h0M611.5 510h0M612 501h0M612.5 495h0M613 501.5h0M613 516h0M613.5 522.5h0M613.5 511h0M614 522h0M614 531.5h0M614 517.5h0M614 521h0M614.5 529h0M614.5 538.5h0M614.5 540h0M614.5 519.5h0M614.5 555h0M614.5 560.5h0M615 551h0M615 549.5h0M615 550.5h0M615.5 534.5h0M615.5 508h0M615.5 506h0M616 492h0M616 496.5h0M616 503.5h0M616.5 481.5h0M616.5 495h0M616.5 488.5h0M616.5 496h0M617 553h0M617 454h0M617.5 473h0M617.5 473.5h0M617.5 473.5h0M617.5 472h0M617.5 466.5h0M617.5 478h0M618 474.5h0M618 495.5h0M618 493.5h0M618.5 510h0M618.5 471.5h0M618.5 480h0M618.5 488.5h0M618.5 486h0M619 481h0M619 495.5h0M619 526.5h0M619 512.5h0M619 537h0M619.5 524.5h0M619.5 532.5h0M620 525.5h0M620 521.5h0M620 539.5h0M620 534h0M620 528h0M620.5 539h0M620.5 531h0M620.5 554.5h0M620.5 533h0M621 518h0M621 523h0M621.5 538h0M621.5 525h0M621.5 516.5h0M622 526h0M622.5 506h0M622.5 520h0M622.5 514.5h0M623 510.5h0M623.5 482h0M623.5 509.5h0M623.5 512h0M623.5 497.5h0M623.5 510h0M623.5 502h0M623.5 528h0M624 499h0M624 502h0M624.5 512h0M624.5 481.5h0M624.5 498.5h0M624.5 498h0M625.5 523.5h0M625.5 527h0M625.5 517h0M625.5 527.5h0M625.5 506.5h0M626 505.5h0M626.5 525.5h0M626.5 536h0M626.5 524.5h0M626.5 533.5h0M627 521h0M627 522.5h0M627.5 533h0M627.5 528.5h0M628 521.5h0M628 515.5h0M628 540h0M628 527h0M629 546h0M629 555h0M629.5 511h0M629.5 517.5h0M630 520h0M630 514h0M630.5 516h0M631 520h0M631 489h0M631 497.5h0M631 504.5h0M631 496.5h0M631.5 492h0M631.5 508h0M631.5 499h0M631.5 506h0M632 487h0M632 498h0M632 469.5h0M632 505h0M632.5 497h0M632.5 498.5h0M632.5 507h0M632.5 494.5h0M633 510h0M633.5 523h0M633.5 518.5h0M633.5 527.5h0M633.5 510h0M633.5 517.5h0M634 514.5h0M634 541h0M634 524.5h0M634 538h0M634 530h0M634.5 522h0M635 540h0M635 546.5h0M635 532.5h0M635 534h0M635 525h0M635 567.5h0M635 544.5h0M635.5 554h0M636 553h0M636 534h0M636 547h0M636.5 555h0M636.5 535h0M636.5 527.5h0M636.5 503.5h0M637 528h0M637 532.5h0M637 540.5h0M637 521h0M637.5 514.5h0M637.5 510h0M637.5 525h0M637.5 516h0M637.5 532h0M637.5 504h0M637.5 522.5h0M637.5 532.5h0M638 485h0M638 489h0M638 490.5h0M638 489.5h0M638.5 500.5h0M639 482h0M639 505.5h0M639 478h0M640 514h0M640 537.5h0M640 512h0M640 502.5h0M640.5 527.5h0M640.5 520h0M640.5 536h0M640.5 541h0M641 565h0M641 525.5h0M641 545h0M641 524.5h0M641.5 539.5h0M641.5 534h0M642 511h0M642 524h0M642.5 523h0M642.5 531h0M642.5 514h0M643 506h0M643 519.5h0M643 514h0M643 525h0M643 496h0M643.5 517h0M643.5 511h0M643.5 489.5h0M643.5 510h0M644 522.5h0M644 502h0M644.5 498h0M644.5 475.5h0M644.5 494.5h0M645 500.5h0M645 492.5h0M645 487.5h0M645.5 512h0M645.5 488h0M645.5 495.5h0M646 506h0M646.5 537.5h0M646.5 510h0M646.5 496.5h0M646.5 515.5h0M646.5 487.5h0M647 516.5h0M647 529h0M647 513h0M647 516.5h0M647.5 511.5h0M647.5 524.5h0M647.5 510h0M648 531h0M648 523.5h0M648 539h0M648 534h0M648 524h0M648 548.5h0M648 546h0M648.5 542.5h0M648.5 536.5h0M648.5 530.5h0M649 529.5h0M649 526h0M649 534.5h0M649.5 542h0M649.5 553h0M649.5 538.5h0M649.5 543h0M649.5 554h0M650 515.5h0M650 553.5h0M650 528.5h0M650.5 525.5h0M650.5 533.5h0M650.5 502h0M650.5 530h0M650.5 538h0M650.5 510h0M651 537h0M651 543h0M651.5 537h0M651.5 532h0M652 523h0M652 519h0M652 539.5h0M652.5 517h0M653 495h0M653 527.5h0M653 481h0M653 472.5h0M653.5 468.5h0M653.5 490h0M653.5 494.5h0M654 498h0M654 475.5h0M654 477.5h0M654 512h0M654.5 516h0M654.5 506.5h0M655 510.5h0M655 506.5h0M655.5 506h0M655.5 485.5h0M655.5 498.5h0M656.5 501h0M656.5 489h0M656.5 510h0M657 513.5h0M657.5 493h0M657.5 480.5h0M657.5 508.5h0M658 479h0M658 479h0M658 493.5h0M658 494.5h0M658 499.5h0M658.5 496.5h0M659 490.5h0M659 508.5h0M659 489h0M659.5 492.5h0M659.5 492h0M659.5 524.5h0M659.5 523.5h0M660 496.5h0M660 510.5h0M660 513h0M660.5 516h0M660.5 523h0M661 513h0M661 518h0M661 517.5h0M661 505h0M661.5 524h0M661.5 499h0M661.5 536h0M661.5 484h0M661.5 527h0M662 507h0M662 503.5h0M662 514h0M662.5 540h0M662.5 548h0M662.5 566h0M662.5 541.5h0M662.5 532h0M663.5 544h0M663.5 556h0M663.5 542h0M663.5 530.5h0M664 528h0M664 515h0M664.5 518.5h0M664.5 518.5h0M664.5 545h0M664.5 496h0M664.5 520h0M664.5 510.5h0M665 522.5h0M665 520h0M665 516.5h0M665 499h0M665 499.5h0M665 509.5h0M665.5 489.5h0M665.5 513.5h0M665.5 502h0M666 517h0M666 499h0M666 514h0M666 504.5h0M666 496h0M666 540.5h0M666 493.5h0M666.5 515.5h0M666.5 523.5h0M666.5 542.5h0M666.5 525h0M666.5 547.5h0M666.5 521.5h0M666.5 525h0M667 508h0M667 534h0M667 520h0M667 519.5h0M667.5 515.5h0M667.5 542.5h0M667.5 531.5h0M667.5 557.5h0M667.5 556.5h0M668 550.5h0M668 547.5h0M668 564.5h0M668 556.5h0M668.5 551.5h0M668.5 565h0M668.5 562h0M668.5 571h0M669 546.5h0M669 542.5h0M669 560.5h0M669 564h0M669 532.5h0M669 545h0M669 556.5h0M669.5 564h0M670 548.5h0M670 515.5h0M670 545h0M670.5 503h0M670.5 534h0M671 528h0M672 500h0M672 516.5h0M672 507.5h0M672 522.5h0M672 524.5h0M672 519h0M672 508h0M672.5 515.5h0M672.5 528.5h0M672.5 499h0M672.5 505.5h0M672.5 507h0M672.5 509.5h0M673 525h0M673.5 477h0M673.5 499.5h0M673.5 488.5h0M673.5 479h0M673.5 488h0M674 507h0M674 512h0M674.5 513h0M674.5 512.5h0M675 521.5h0M675 534.5h0M675.5 531.5h0M675.5 535h0M675.5 497h0M676 501.5h0M676 485h0M676 498h0M676.5 489.5h0M677 496h0M677 502.5h0M677 506h0M677.5 494h0M677.5 485h0M677.5 476h0M677.5 491h0M678 492.5h0M678 492h0M678 471.5h0M678.5 483.5h0M678.5 490h0M678.5 476h0M678.5 498.5h0M679 478h0M680 473h0M680 473h0M680.5 489h0M680.5 468h0M680.5 460.5h0M680.5 495h0M680.5 480.5h0M681 485h0M681.5 468h0M681.5 502h0M681.5 508.5h0M681.5 498.5h0M682.5 487.5h0M682.5 512.5h0M682.5 512h0M682.5 497h0M683 543h0M683 544.5h0M683 511.5h0M683.5 537h0M683.5 561h0M683.5 539h0M683.5 543h0M683.5 539h0M683.5 548.5h0M684 543h0M684 547h0M684 536.5h0M684 539.5h0M684 518h0M684 529h0M684 551.5h0M684.5 528h0M684.5 516h0M684.5 527.5h0M685 512.5h0M685 521h0M685 512.5h0M685.5 530h0M685.5 509.5h0M685.5 532.5h0M685.5 502h0M685.5 533h0M685.5 539h0M686 504h0M686 512h0M686 507.5h0M687 494.5h0M687 497h0M687.5 503h0M687.5 488.5h0M687.5 486.5h0M687.5 484.5h0M688 459h0M688 490h0M688 483h0M688 478h0M688 489.5h0M688.5 501h0M688.5 494h0M689 478h0M689 494h0M689 484h0M689 500h0M689.5 491h0M689.5 505h0M689.5 508.5h0M690 499.5h0M690 501.5h0M690 486h0M690.5 522.5h0M690.5 499.5h0M690.5 488h0M690.5 492h0M690.5 512h0M691 517.5h0M691.5 519.5h0M691.5 511.5h0M691.5 514h0M691.5 513h0M691.5 510.5h0M691.5 530h0M692 531h0M692 532.5h0M692 535h0M692 521h0M692 520h0M692 494.5h0M692.5 515h0M692.5 519.5h0M692.5 501.5h0M693 523.5h0M693 509.5h0M693 502h0M693.5 498h0M693.5 502h0M694 509.5h0M694 519h0M694 505.5h0M694 509h0M694.5 493h0M694.5 502h0M694.5 493.5h0M694.5 516.5h0M694.5 487.5h0M694.5 507h0M695 511h0M695 507.5h0M695 498h0M695 478h0M695 482.5h0M695.5 503h0M695.5 488.5h0M695.5 488.5h0M695.5 503.5h0M696 495.5h0M696 507h0M696 493h0M696 512h0M696 491h0M696 492.5h0M696 490h0M696 490h0M696.5 464.5h0M696.5 481h0M697 491h0M697 487h0M697 487.5h0M697 490h0M697.5 505.5h0M698.5 522.5h0M698.5 519.5h0M699 522h0M699 517.5h0M699 520.5h0M699 507.5h0M699 521h0M699.5 501h0M699.5 510.5h0M699.5 528h0M699.5 517h0M700 559h0M700 511.5h0M700 523.5h0M700 524h0M700 549h0M700 503.5h0M700.5 519.5h0M701 517.5h0M701 503h0M701 517.5h0M701.5 519.5h0M701.5 502.5h0M702 517.5h0M702 498h0M702 504h0M702 492.5h0M702.5 515.5h0M702.5 486.5h0M703 493h0M703.5 467.5h0M703.5 497h0M703.5 468.5h0M704 479h0M704 478h0M704 493h0M704.5 476h0M704.5 479.5h0M704.5 497h0M704.5 501.5h0M704.5 498.5h0M705 478.5h0M705 495h0M705 491h0M705.5 505h0M705.5 508h0M705.5 508h0M705.5 516.5h0M705.5 500h0M705.5 513h0M706 517h0M706 536h0M706 521h0M706 532.5h0M706 531.5h0M706.5 517h0M706.5 541h0M706.5 532.5h0M706.5 526h0M706.5 521.5h0M707 539h0M707 529.5h0M707 529h0M707 544.5h0M707 554.5h0M707 551h0M707 522.5h0M707 528h0M707.5 544h0M707.5 534h0M708 528.5h0M708.5 522.5h0M708.5 519h0M708.5 493h0M708.5 526h0M708.5 515.5h0M709 524h0M709 520h0M709 522h0M709.5 513h0M710 513.5h0M710.5 497h0M710.5 501.5h0M710.5 514h0M710.5 486.5h0M710.5 521.5h0M711 510.5h0M711.5 493.5h0M711.5 525.5h0M711.5 503.5h0M711.5 509.5h0M711.5 522h0M712 548h0M712 514.5h0M712.5 535h0M712.5 545.5h0M712.5 526h0M712.5 548.5h0M712.5 529h0M713 552h0M713 541h0M713.5 565.5h0M713.5 560h0M713.5 567.5h0M714 530.5h0M714 520h0M714 523.5h0M714.5 518h0M714.5 504.5h0M714.5 519h0M715 537.5h0M715 518.5h0M715.5 513h0M715.5 501.5h0M715.5 501h0M715.5 501.5h0M715.5 514.5h0M715.5 504.5h0M715.5 527h0M715.5 496.5h0M716 505.5h0M716 504h0M716 512h0M716.5 506h0M716.5 514h0M716.5 499.5h0M716.5 521h0M716.5 495h0M716.5 469.5h0M716.5 514.5h0M717 479.5h0M717 481.5h0M717 478.5h0M717 480h0M717 483h0M717 494.5h0M717.5 498h0M717.5 492.5h0M717.5 490.5h0M717.5 502.5h0M718 506h0M718 496.5h0M718.5 493.5h0M718.5 505h0M718.5 495.5h0M719 499h0M719.5 503.5h0M719.5 517.5h0M719.5 518h0M719.5 534.5h0M719.5 521.5h0M719.5 509h0M719.5 526.5h0M719.5 499.5h0M719.5 498.5h0M719.5 520h0M719.5 508.5h0M720 535.5h0M720 531.5h0M720 525.5h0M720 523h0M720 525h0M720 533.5h0M720 502.5h0M720.5 524.5h0M720.5 525h0M720.5 521.5h0M720.5 528.5h0M721 541.5h0M721 544.5h0M721 555h0M721 520h0M721.5 546h0M721.5 554h0M721.5 543.5h0M721.5 552.5h0M721.5 512h0M721.5 530h0M721.5 518h0M721.5 516.5h0M722 526h0M722 525.5h0M722.5 537h0M722.5 529h0M722.5 534.5h0M722.5 527h0M722.5 534.5h0M723 511.5h0M723 516h0M724.5 496h0M724.5 513.5h0M724.5 487.5h0M724.5 486.5h0M724.5 498h0M724.5 512h0M724.5 494h0M724.5 490h0M725 525.5h0M725 498h0M725 525.5h0M725 505.5h0M725 487.5h0M725.5 519h0M726 517.5h0M726 530h0M726.5 533h0M726.5 514.5h0M727 529.5h0M727 549.5h0M727 551.5h0M727.5 554h0M727.5 534h0M727.5 557h0M728 547.5h0M728 570.5h0M728 520.5h0M728.5 522.5h0M728.5 536h0M729 539h0M729 537.5h0M729 537h0M729 535.5h0M729 544.5h0M729 512h0M729.5 520.5h0M729.5 510h0M730 520.5h0M730 512.5h0M730 514h0M730 501h0M730 504.5h0M730 509.5h0M730 519h0M730.5 523h0M730.5 518h0M730.5 515.5h0M730.5 513.5h0M730.5 521h0M731 484h0M731 499.5h0M731 524.5h0M731.5 508h0M731.5 509h0M731.5 490.5h0M732 478h0M732 498.5h0M732 479h0M732 488.5h0M732 473h0M732.5 466h0M732.5 475.5h0M733 468h0M733 529.5h0M733 536h0M733.5 546h0M733.5 530.5h0M734 540h0M734 545h0M734 542.5h0M734 544h0M734.5 555h0M734.5 550.5h0M734.5 534.5h0M734.5 550h0M735 534.5h0M735 564h0M735.5 570.5h0M735.5 555h0M735.5 548h0M735.5 564.5h0M736 504.5h0M736 501h0M736 498.5h0M736 510.5h0M736 509.5h0M736.5 524h0M737 500h0M737 497h0M737 483.5h0M737.5 510h0M737.5 505h0M737.5 506h0M738 482h0M738 519.5h0M738 501.5h0M738 466h0M738.5 479.5h0M738.5 501h0M738.5 486.5h0M738.5 476.5h0M738.5 478.5h0M739 485h0M739 491h0M739 471h0M739 479h0M739.5 466h0M739.5 501h0M740 512.5h0M740 496h0M740.5 518h0M741 513.5h0M741 526h0M741 522.5h0M741 525.5h0M741.5 533.5h0M741.5 528h0M741.5 516h0M742 506.5h0M742 509h0M742.5 525h0M742.5 505.5h0M742.5 516.5h0M742.5 500.5h0M742.5 533.5h0M742.5 503.5h0M743 524.5h0M743 503.5h0M743.5 518.5h0M743.5 501.5h0M743.5 511.5h0M744.5 523.5h0M744.5 513h0M744.5 502.5h0M744.5 499.5h0M744.5 523.5h0M744.5 511.5h0M745 504h0M745 497.5h0M745 492.5h0M745.5 499h0M745.5 505.5h0M746 483.5h0M746 469h0M746.5 457.5h0M746.5 475.5h0M746.5 462.5h0M747 482h0M747 473.5h0M747.5 478h0M747.5 475h0M747.5 490h0M747.5 482.5h0M747.5 492h0M748 489.5h0M748.5 483.5h0M748.5 459h0M748.5 493h0M748.5 486.5h0M749 497h0M749.5 491.5h0M749.5 499h0M750 497.5h0M750 507.5h0M750 488.5h0M750.5 500.5h0M750.5 538.5h0M751 571h0M751.5 561.5h0M751.5 494.5h0M751.5 562.5h0M751.5 557.5h0M752 559h0M752 542h0M752 560h0M752.5 524h0M752.5 523h0M752.5 525h0M753 529h0M753 519.5h0M753.5 518h0M753.5 499h0M753.5 504h0M753.5 487h0M754 506h0M754.5 478h0M754.5 498.5h0M754.5 490.5h0M754.5 496.5h0M755 508h0M755 515h0M755 507.5h0M755 498h0M755 516h0M755 512h0M755 506h0M755 517h0M755.5 523.5h0M755.5 513.5h0M756 514h0M756 512h0M756 511.5h0M756 528.5h0M756 516.5h0M756.5 510h0M756.5 529h0M756.5 520.5h0M757 532h0M757 524h0M757 507h0M757.5 528h0M758 542.5h0M758.5 530h0M758.5 533h0M758.5 523.5h0M758.5 551.5h0M759 546.5h0M759 522.5h0M759 538.5h0M759 506.5h0M759 539.5h0M759 525h0M759.5 531h0M759.5 519h0M759.5 502h0M759.5 501.5h0M759.5 495.5h0M760 499h0M760 524.5h0M760 498.5h0M760.5 516h0M760.5 494.5h0M760.5 491h0M761 490.5h0M761 479h0M761 491h0M761 461.5h0M761 472h0M761.5 462h0M762 459h0M762 455h0M762.5 456.5h0M762.5 519.5h0M763 513.5h0M763 498.5h0M763 504h0M763 508h0M763.5 505.5h0M763.5 519h0M764 504.5h0M764 506h0M764 514.5h0M764 508h0M764.5 534h0M764.5 544.5h0M765 533.5h0M765.5 536.5h0M765.5 513h0M765.5 540.5h0M766 521h0M766.5 522h0M766.5 506h0M766.5 527.5h0M766.5 521.5h0M767 527h0M767 533h0M767 532h0M767 529.5h0M767.5 501h0M768 510h0M768 514h0M768 512h0M768 517.5h0M768 510.5h0M768 510.5h0M768.5 499h0M769.5 485h0M769.5 513h0M769.5 490.5h0M769.5 477.5h0M769.5 501h0M770 484h0M770 484h0M770.5 486h0M770.5 492.5h0M770.5 504.5h0M771 504.5h0M771 500.5h0M771 508.5h0M771 495.5h0M771.5 512h0M771.5 538.5h0M771.5 537.5h0M772 531h0M772 534.5h0M772 532h0M772 538h0M772.5 510.5h0M772.5 517.5h0M772.5 508.5h0M773 531h0M773 524.5h0M773.5 502.5h0M774.5 496.5h0M774.5 490.5h0M774.5 490h0M774.5 499.5h0M774.5 474h0M775 479h0M775 507.5h0M775 492.5h0M775 484.5h0M775.5 475.5h0M775.5 483h0M775.5 496h0M776 464.5h0M776 476h0M776 460h0M776 469.5h0M776 463h0M776 465.5h0M776.5 467.5h0M776.5 483h0M776.5 473h0M777 495h0M777 511.5h0M777.5 506.5h0M777.5 506h0M777.5 500h0M777.5 502.5h0M777.5 523h0M778 506h0M778 517.5h0M778 529.5h0M778 512h0M778.5 541.5h0M778.5 546h0M778.5 522.5h0M778.5 521h0M778.5 538h0M778.5 518.5h0M779 517.5h0M779 531.5h0M779 504h0M779.5 523.5h0M779.5 520.5h0M779.5 548.5h0M779.5 514h0M780 524.5h0M780 512h0M780 534.5h0M780.5 500h0M780.5 493h0M781 486.5h0M781 539h0M781 498h0M781.5 495.5h0M781.5 532h0M782 505h0M782 494.5h0M782 478h0M782.5 499.5h0M782.5 487.5h0M783 497.5h0M783 493.5h0M783 502.5h0M783 488.5h0M783 488.5h0M783.5 520.5h0M783.5 494.5h0M783.5 515h0M783.5 510h0M784 500.5h0M784 513h0M784 509h0M784.5 509h0M784.5 511.5h0M784.5 526.5h0M784.5 531.5h0M784.5 514h0M785 518h0M785 524h0M785.5 535h0M786 531h0M786 539h0M786.5 550h0M787 523h0M787 519.5h0M787.5 511h0M787.5 529h0M787.5 527h0M788 508h0M788.5 511h0M788.5 507h0M788.5 494.5h0M789 498h0M789 482h0M789 498h0M789 481h0M789.5 485h0M789.5 468h0M789.5 494h0M789.5 493h0M789.5 477h0M790.5 488h0M790.5 490.5h0M790.5 486h0M790.5 485.5h0M790.5 505.5h0M790.5 490h0M790.5 496.5h0M790.5 495h0M791 504h0M791 512h0M791.5 508.5h0M791.5 517h0M792 527.5h0M792 527h0M792.5 526.5h0M792.5 535.5h0M793 493h0M793 506.5h0M793 502.5h0M793.5 479h0M793.5 501h0M794 482h0M794 490.5h0M794 503h0M794 513.5h0M794 490.5h0M794.5 502.5h0M794.5 502.5h0M794.5 513.5h0M794.5 481.5h0M795.5 488h0M795.5 488.5h0M795.5 484h0M796 492h0M796.5 495.5h0M796.5 494h0M796.5 502.5h0M797 529.5h0M797 494h0M797 499h0M797 505.5h0M797.5 490.5h0M797.5 523.5h0M798 543h0M798 497.5h0M798 510.5h0M799 539.5h0M799 530h0M799.5 520h0M799.5 540.5h0M799.5 521.5h0M799.5 505h0M799.5 513.5h0M799.5 505h0M800 498h0M800 511.5h0M800.5 498h0M800.5 503h0M801 507.5h0M801 511.5h0M801 475.5h0M801 495h0M801 506.5h0M801 498.5h0M801.5 476.5h0M801.5 475h0M801.5 498h0M801.5 488h0M801.5 480h0M802 491h0M802 499.5h0M802 497.5h0M802 486.5h0M802 494h0M802.5 499h0M802.5 487.5h0M802.5 474.5h0M802.5 477h0M802.5 486h0M802.5 462.5h0M803 489h0M803 481.5h0M803 494.5h0M803 471h0M803.5 510.5h0M803.5 527.5h0M803.5 519h0M804 492.5h0M804 504.5h0M804 511.5h0M804 504h0M804 531.5h0M804 524.5h0M804.5 531.5h0M804.5 526.5h0M804.5 522.5h0M804.5 513.5h0M805.5 512.5h0M805.5 513h0M805.5 494.5h0M805.5 529.5h0M805.5 525.5h0M805.5 520h0M805.5 535.5h0M805.5 529.5h0M806 522.5h0M806 538.5h0M806 524h0M806 516h0M806.5 542.5h0M806.5 557.5h0M806.5 533h0M807 545.5h0M807 533.5h0M807 540.5h0M807 533h0M807 524h0M807 527.5h0M807.5 522.5h0M807.5 529.5h0M807.5 544h0M807.5 539h0M808 522.5h0M808 511h0M808 519h0M808 518h0M808 528.5h0M808.5 524.5h0M808.5 522.5h0M809 493h0M809.5 513.5h0M809.5 484h0M809.5 501h0M809.5 457.5h0M809.5 462h0M809.5 456.5h0M810 459h0M810 481h0M810 485h0M810.5 482.5h0M810.5 493h0M811 483h0M811 497h0M811.5 502h0M811.5 499.5h0M811.5 511h0M811.5 495.5h0M811.5 529h0M811.5 507h0M812 511h0M812.5 531.5h0M812.5 531.5h0M812.5 530h0M812.5 541h0M812.5 557.5h0M813 546h0M813 518h0M813 530.5h0M813.5 493h0M813.5 489.5h0M814 493.5h0M814 476.5h0M814 489.5h0M814.5 478.5h0M814.5 479.5h0M814.5 465.5h0M814.5 476.5h0M815 475.5h0M815 479.5h0M815.5 475h0M815.5 504.5h0M815.5 507h0M815.5 497h0M815.5 491h0M816 488h0M816 490.5h0M816 471h0M816.5 490.5h0M816.5 493h0M816.5 505h0M816.5 493h0M816.5 494.5h0M816.5 494.5h0M816.5 504h0M816.5 497.5h0M816.5 488.5h0M817 515.5h0M817 531h0M817 500.5h0M817 502h0M817 513h0M817 518.5h0M817.5 491.5h0M818 530.5h0M818 539.5h0M818 532h0M818 522h0M818 534h0M818 532h0M818.5 535h0M819 540.5h0M819 534h0M819.5 535.5h0M819.5 546.5h0M819.5 533.5h0M820 541.5h0M820 518.5h0M820 539h0M820 531h0M820 547.5h0M820.5 528.5h0M821 535.5h0M821 505.5h0M821 521.5h0M821.5 512.5h0M821.5 536.5h0M821.5 529h0M821.5 517h0M822 528.5h0M822.5 487h0M822.5 505.5h0M823 503h0M823 504h0M823 509.5h0M823.5 503.5h0M823.5 519.5h0M823.5 509h0M823.5 500.5h0M824 512.5h0M824 515.5h0M824 520.5h0M824 517h0M824 511.5h0M824 522.5h0M824.5 539.5h0M824.5 521h0M824.5 526.5h0M825 521h0M825 527h0M825 511.5h0M825 544h0M825 542h0M825.5 526h0M825.5 548h0M825.5 533.5h0M826 538.5h0M826 561.5h0M826.5 538h0M826.5 530.5h0M826.5 543.5h0M826.5 544h0M826.5 520h0M827 538.5h0M827 528h0M827 521h0M827 533.5h0M827 543h0M827 526h0M827.5 524.5h0M827.5 533h0M827.5 531.5h0M827.5 514.5h0M827.5 523.5h0M827.5 527.5h0M827.5 528.5h0M827.5 520h0M828 520h0M828 522h0M828 534h0M828.5 521h0M828.5 523h0M828.5 514.5h0M829 500.5h0M829 502.5h0M829.5 503.5h0M829.5 508.5h0M830 511.5h0M830 504h0M830 512h0M830 510h0M830.5 513.5h0M831.5 497.5h0M831.5 503.5h0M832.5 508h0M832.5 523.5h0M832.5 533.5h0M832.5 521.5h0M832.5 539h0M834 525h0M834.5 517.5h0M834.5 494h0M834.5 534h0M835 518h0M835 515.5h0M835 509h0M835 502h0M835.5 518.5h0M835.5 514.5h0M835.5 501.5h0M836 486h0M836 503.5h0M836.5 505.5h0M836.5 472h0M836.5 475.5h0M837 493.5h0M837.5 523.5h0M838 516.5h0M838 512.5h0M838 510h0M838 520.5h0M838 521h0M838.5 511h0M838.5 528.5h0M838.5 531h0M838.5 530.5h0M838.5 532.5h0M839 526.5h0M839 531h0M839 534h0M839 515.5h0M839 527.5h0M839 536.5h0M839.5 521h0M839.5 540.5h0M839.5 537.5h0M839.5 539h0M840 548h0M840 549h0M840 544h0M840 562h0M840.5 552.5h0M840.5 546h0M840.5 546h0M840.5 546.5h0M840.5 527.5h0M840.5 546.5h0M840.5 555.5h0M841 558.5h0M841 559h0M841.5 546.5h0M841.5 552.5h0M841.5 530.5h0M842 556h0M842 537.5h0M842 537h0M842 553.5h0M842 533.5h0M842.5 533h0M843 538.5h0M843 505.5h0M843 522h0M843 531.5h0M843 531h0M843.5 531.5h0M843.5 521h0M843.5 522.5h0M843.5 537h0M843.5 532h0M843.5 528.5h0M843.5 524h0M844 523h0M844 525h0M844 509.5h0M844 505h0M844 512.5h0M844 536h0M844.5 514h0M844.5 506h0M844.5 511h0M844.5 504h0M845 504.5h0M845 518.5h0M845 528h0M845 494.5h0M845 505.5h0M845.5 493.5h0M845.5 501h0M845.5 499.5h0M845.5 479h0M845.5 505h0M846 492.5h0M846 502.5h0M846 490h0M846 481h0M846 480h0M846 489h0M846 505.5h0M846.5 491.5h0M846.5 485.5h0M846.5 486.5h0M846.5 475.5h0M846.5 493h0M846.5 512.5h0M847 513.5h0M847 509.5h0M847 501h0M847.5 526h0M847.5 506.5h0M847.5 512h0M847.5 528h0M847.5 515.5h0M848 531h0M848 528h0M848 533.5h0M848.5 507h0M848.5 521.5h0M848.5 503.5h0M849 530h0M849 512h0M849 513h0M849 489.5h0M849 500h0M849.5 510h0M849.5 514h0M849.5 503.5h0M849.5 509h0M849.5 479h0M850 530.5h0M850 501h0M850 526.5h0M850 489h0M850 508h0M850 483h0M850.5 504h0M850.5 512.5h0M851 522.5h0M851 512.5h0M851 525.5h0M851.5 558h0M851.5 534.5h0M851.5 543.5h0M851.5 518.5h0M852 522.5h0M852 529.5h0M852 525h0M852 528h0M852.5 536.5h0M852.5 511h0M852.5 529h0M852.5 533.5h0M853 547.5h0M853 539.5h0M853.5 534h0M854 541h0M854 541h0M854.5 534h0M854.5 545.5h0M854.5 531h0M855 546.5h0M855 538h0M855 536h0M855 518.5h0M855 521.5h0M855 526h0M855 538h0M855.5 529h0M855.5 516.5h0M855.5 510.5h0M855.5 538h0M855.5 525.5h0M855.5 519.5h0M855.5 517h0M855.5 520.5h0M856 512h0M856 532h0M856 499.5h0M856 527h0M856.5 513h0M856.5 505.5h0M857 496.5h0M857 498.5h0M857 498h0M857 494h0M857 507h0M857.5 494.5h0M857.5 486.5h0M857.5 510h0M857.5 516.5h0M857.5 510h0M857.5 484.5h0M858 484h0M858 499.5h0M858.5 506.5h0M858.5 505.5h0M859 515h0M859 549.5h0M859 538h0M859.5 537h0M859.5 534.5h0M859.5 538h0M860 557h0M860 553h0M860.5 513h0M860.5 527.5h0M860.5 546.5h0M860.5 545h0M861 556h0M861 544.5h0M861 523.5h0M861 525.5h0M861 542.5h0M861.5 553h0M861.5 536.5h0M862 538.5h0M862 523.5h0M862.5 538.5h0M863 523.5h0M863 516h0M863 519.5h0M863.5 501h0M863.5 523.5h0M863.5 524h0M863.5 512h0M864 497h0M864 506.5h0M864 508.5h0M864 493h0M864 498.5h0M864 506h0M864.5 498h0M864.5 500h0M864.5 490.5h0M864.5 493.5h0M864.5 503h0M864.5 499h0M865 495h0M865 486h0M865 482.5h0M865.5 462.5h0M865.5 456h0M865.5 507.5h0M865.5 544.5h0M865.5 524.5h0M865.5 484.5h0M866 458h0M866.5 457h0M866.5 469h0M867 479.5h0M867 469.5h0M867.5 469.5h0M868 474.5h0M868 477.5h0M868 482.5h0M868 489h0M868 484h0M868.5 478h0M868.5 474h0M868.5 521.5h0M868.5 481h0M869 478.5h0M869 477.5h0M869 487.5h0M869.5 486.5h0M869.5 498.5h0M869.5 538h0M869.5 526h0M870 539h0M870 534.5h0M870.5 515.5h0M870.5 527.5h0M870.5 511h0M871 518h0M871 496.5h0M871.5 495h0M871.5 497.5h0M871.5 503h0M872 499.5h0M872 523h0M872 504h0M872.5 501h0M872.5 493h0M873 512h0M873 510h0M873 494h0M873 493h0M873 517h0M873 501.5h0M873.5 502.5h0M873.5 510h0M873.5 527.5h0M873.5 527h0M873.5 512h0M874 494.5h0M874 522h0M874 506h0M874 502.5h0M874.5 538.5h0M874.5 532h0M874.5 514.5h0M875 521.5h0M875 526.5h0M875 533.5h0M875 529.5h0M875 543.5h0M875 511h0M875.5 551.5h0M875.5 558.5h0M875.5 539.5h0M876 536.5h0M876 555.5h0M876 545.5h0M877 544.5h0M877 533h0M877 538h0M877 538h0M877 540h0M877 530h0M878 493.5h0M878 510.5h0M878 507.5h0M878 485h0M878 512.5h0M878.5 513h0M878.5 488.5h0M879 505.5h0M879 485h0M879 492h0M879 516h0M879 511h0M879 487.5h0M880 528h0M880 525h0M880 515.5h0M880 523h0M880 534.5h0M880.5 511h0M880.5 534.5h0M880.5 531.5h0M881 540.5h0M881 539h0M881 551.5h0M881 527.5h0M881 542h0M881 525h0M881 552h0M881 548h0M881 538.5h0M881.5 548h0M881.5 556.5h0M881.5 549h0M882 559h0M882.5 541.5h0M882.5 569h0M883 538.5h0M883 525.5h0M883.5 526.5h0M884 522h0M884 535h0M884 524.5h0M884.5 533h0M885.5 523h0M885.5 522.5h0M885.5 516.5h0M886 478.5h0M886 486h0M886.5 487h0M886.5 507h0M886.5 491.5h0M887 496.5h0M887 525h0M887 524h0M887 506h0M887.5 519.5h0M887.5 515.5h0M887.5 522h0M887.5 499.5h0M888 541.5h0M888 537h0M888.5 535h0M889 548.5h0M889 542h0M889 538.5h0M889 554h0M889 536.5h0M889.5 527.5h0M889.5 532h0M889.5 523h0M890 530.5h0M890 542.5h0M890 521.5h0M890.5 527h0M891 509h0M891 528.5h0M891.5 543h0M891.5 532.5h0M891.5 517h0M891.5 512.5h0M891.5 518.5h0M892 503.5h0M892 524.5h0M892 519.5h0M892 501.5h0M892.5 504.5h0M892.5 503h0M892.5 487h0M893 489h0M893 507h0M893 494.5h0M893.5 510.5h0M893.5 490.5h0M893.5 467.5h0M893.5 490.5h0M894 463h0M894.5 468h0M894.5 485h0M895 489h0M895 484.5h0M895 504h0M895.5 496h0M895.5 503.5h0M896 531h0M896 525.5h0M896 522.5h0M896 505.5h0M896 517h0M896 507.5h0M896.5 549h0M896.5 556h0M896.5 520.5h0M896.5 512h0M896.5 536.5h0M897 542.5h0M897 525h0M897 548h0M897 538.5h0M897.5 550.5h0M897.5 530h0M897.5 532h0M897.5 539h0M897.5 540h0M897.5 547h0M897.5 539.5h0M897.5 517.5h0M898 534h0M898 514h0M898.5 534.5h0M899 520.5h0M899 524h0M899 488.5h0M899 478h0M899 512h0M899 484.5h0M899.5 487h0M899.5 497.5h0M899.5 498h0M899.5 503.5h0M900 507h0M900 513.5h0M900.5 523.5h0M900.5 515.5h0M900.5 511.5h0M900.5 520h0M901 526h0M901 525h0M901 536h0M901 536h0M901 552h0M901.5 505.5h0M902 491.5h0M902 505h0M902.5 508h0M902.5 488.5h0M902.5 496h0M903 493.5h0M903 489.5h0M903 486.5h0M903 494.5h0M903.5 500.5h0M903.5 472h0M903.5 489.5h0M903.5 498h0M903.5 527.5h0M904 518h0M904 545.5h0M904 517h0M904 533h0M904.5 511.5h0M904.5 526.5h0M904.5 535h0M904.5 520.5h0M904.5 520.5h0M905 537.5h0M905 531.5h0M905 540h0M905 525h0M905 549.5h0M905 536.5h0M905 557.5h0M905.5 530h0M905.5 559.5h0M905.5 547.5h0M906 535.5h0M906 542.5h0M906 543.5h0M906 549.5h0M906 544h0M906 557.5h0M906 536h0M906.5 532h0M906.5 533h0M906.5 541.5h0M906.5 528.5h0M907 519h0M907 510.5h0M907.5 512.5h0M907.5 513.5h0M908 519h0M908 538h0M908 503h0M908 509h0M908 486.5h0M908 526h0M908 496.5h0M908.5 513.5h0M908.5 503h0M908.5 507.5h0M909 493.5h0M909 496h0M909 481.5h0M909.5 488.5h0M910 509.5h0M910 501.5h0M910 511h0M910 522.5h0M910.5 512.5h0M910.5 527h0M910.5 523.5h0M910.5 532h0M910.5 537h0M910.5 562h0M911 531h0M911 550h0M911 531.5h0M911.5 529h0M912 563.5h0M912 541h0M912 551h0M912 530.5h0M912 545.5h0M912 532.5h0M912.5 528.5h0M912.5 514h0M912.5 505.5h0M912.5 524h0M912.5 530h0M912.5 503h0M913 526.5h0M913 525.5h0M913 523.5h0M913 519h0M913 516h0M913 528h0M913 522.5h0M913 501.5h0M913 504.5h0M913 515.5h0M913 517h0M913 521.5h0M913 508.5h0M913.5 523.5h0M913.5 514.5h0M913.5 519.5h0M913.5 519h0M914 506.5h0M914.5 504.5h0M914.5 509h0M915 497h0M915 494h0M915.5 497.5h0M916 489.5h0M916.5 481h0M916.5 455h0M916.5 455.5h0M916.5 467h0M917 474h0M917 471.5h0M917 471h0M917 463.5h0M917 491.5h0M917.5 486.5h0M917.5 492h0M917.5 490.5h0M917.5 511.5h0M917.5 495.5h0M917.5 511.5h0M918 511h0M918 489.5h0M918 496.5h0M918 516h0M918 523h0M918 522h0M918.5 536h0M918.5 530.5h0M918.5 525.5h0M918.5 536.5h0M918.5 518h0M918.5 527h0M919 534h0M919 515h0M919 526.5h0M919 533h0M919 512.5h0M919.5 517h0M919.5 536h0M919.5 524h0M919.5 531h0M919.5 538.5h0M919.5 503h0M920 505h0M920 526.5h0M920 508h0M920.5 527h0M920.5 493h0M920.5 502.5h0M920.5 505h0M920.5 487h0M921 497h0M921 498.5h0M921 484h0M921.5 484.5h0M921.5 474.5h0M921.5 484.5h0M922 479h0M922 484.5h0M922 484.5h0M922 509.5h0M922 480h0M922.5 507.5h0M922.5 493h0M922.5 519.5h0M922.5 516.5h0M923 523h0M923 508.5h0M923 526h0M923 517.5h0M923 547h0M923.5 539h0M924 537.5h0M924 540h0M924 558h0M924 530h0M924.5 541.5h0M925 506.5h0M925 527h0M925.5 498h0M925.5 514h0M925.5 515.5h0M925.5 524.5h0M926 519.5h0M926 512h0M926 536h0M926 503.5h0M926.5 523h0M926.5 511.5h0M926.5 536h0M927 501.5h0M927 497h0M927 502h0M927.5 479.5h0M927.5 487h0M927.5 482h0M927.5 473h0M927.5 491h0M927.5 481.5h0M927.5 479h0M927.5 490.5h0M928 488h0M928 488.5h0M928 497h0M928 467.5h0M928 500h0M928.5 484h0M928.5 491.5h0M929 527h0M929.5 513h0M929.5 508h0M929.5 510h0M929.5 529h0M930 522h0M930 540h0M930 538.5h0M930.5 532h0M931 536.5h0M931 522.5h0M931 509h0M931.5 498h0M931.5 520.5h0M931.5 518h0M932 509.5h0M932 484h0M932 516.5h0M932 518h0M932 501h0M932.5 483h0M933 511h0M933 494.5h0M933 506h0M933 473.5h0M933.5 486.5h0M933.5 495.5h0M934 501h0M934 506h0M934 506.5h0M934 515h0M934.5 522h0M934.5 525h0M934.5 514h0M934.5 527.5h0M934.5 510h0M935 544.5h0M935 516.5h0M935 517.5h0M935 514h0M935 530h0M935 546h0M935.5 544h0M935.5 525.5h0M936 537h0M936 537h0M936 535h0M936 526.5h0M936.5 523.5h0M936.5 534.5h0M936.5 524.5h0M936.5 506.5h0M936.5 501.5h0M936.5 517.5h0M937 519h0M937 497.5h0M937 510.5h0M937.5 516h0M937.5 503h0M937.5 489.5h0M937.5 480h0M938 493.5h0M938 483h0M938 493h0M938 478.5h0M938.5 490.5h0M938.5 491.5h0M938.5 505h0M938.5 499.5h0M938.5 500.5h0M939 542.5h0M939 496h0M939.5 509h0M939.5 512.5h0M939.5 514.5h0M939.5 511h0M939.5 509h0M940 528.5h0M940 514.5h0M940 515.5h0M940.5 520.5h0M940.5 538h0M940.5 524.5h0M940.5 538h0M940.5 521h0M941 515h0M941 521h0M941 536h0M941 537.5h0M941.5 534.5h0M941.5 523.5h0M941.5 532h0M942 528.5h0M942 549.5h0M942 531h0M942 528.5h0M942.5 524.5h0M942.5 504.5h0M942.5 529h0M943 525.5h0M943 501.5h0M943.5 517h0M943.5 508h0M943.5 503.5h0M943.5 502h0M944 506.5h0M944 486h0M944.5 478.5h0M944.5 502h0M944.5 493h0M944.5 480h0M945 490.5h0M945 495h0M945.5 488h0M945.5 474.5h0M945.5 493.5h0M945.5 479.5h0M945.5 476.5h0M945.5 486.5h0M946 471h0M946 469.5h0M946 466h0M946 515h0M946 540.5h0M946 516h0M946.5 519.5h0M946.5 515.5h0M946.5 535h0M946.5 516.5h0M946.5 522h0M946.5 538.5h0M947 514h0M947 536h0M947 538.5h0M947 523.5h0M947 534h0M947 524h0M947 531h0M947.5 525.5h0M947.5 521h0M948 530.5h0M948 521.5h0M948 522h0M948 540.5h0M948.5 523.5h0M948.5 527h0M948.5 532h0M948.5 521.5h0M949 516.5h0M949 526.5h0M949 550h0M949 530h0M949 536.5h0M949.5 538.5h0M950 533h0M950 540.5h0M950 521h0M950.5 535.5h0M950.5 536h0M951 525h0M951 523.5h0M951 519.5h0M951 525h0M951 531h0M951 528.5h0M951.5 550.5h0M951.5 542.5h0M951.5 512h0M952 525.5h0M952 499.5h0M952 499.5h0M952 531.5h0M952 514.5h0M952 486.5h0M952.5 524h0M952.5 510.5h0M952.5 516.5h0M953 511h0M953.5 508.5h0M953.5 504.5h0M953.5 496h0M953.5 510.5h0M953.5 496.5h0M953.5 508h0M954 494h0M954 494.5h0M954 504.5h0M954.5 493h0M954.5 502.5h0M954.5 503h0M954.5 478.5h0M954.5 509h0M954.5 483.5h0M954.5 482h0M955 494.5h0M955 476.5h0M955 495h0M955.5 521h0M955.5 502h0M955.5 502.5h0M955.5 515.5h0M955.5 501.5h0M955.5 500.5h0M955.5 517h0M956.5 537h0M957 515h0M957 528h0M957 538.5h0M957.5 525.5h0M957.5 547h0M958 530h0M958 512h0M958.5 558.5h0M958.5 523.5h0M958.5 538.5h0M958.5 533h0M959 542.5h0M959 526h0M959 533.5h0M959 542.5h0M959.5 550.5h0M959.5 536.5h0M960 517.5h0M960 542h0M960 524h0M960.5 517.5h0M960.5 533.5h0M961 500h0M961 506h0M961 480.5h0M961.5 484h0M961.5 504.5h0M961.5 499.5h0M962 503.5h0M962 505h0M962 482h0M962 492h0M962 491.5h0M962 488.5h0M962 476.5h0M962.5 465h0M962.5 477h0M962.5 482h0M962.5 479h0M963 461.5h0M963 506.5h0M963 499h0M963.5 483h0M963.5 492.5h0M964 481.5h0M964 484h0M964.5 480.5h0M964.5 510.5h0M964.5 499.5h0M964.5 509.5h0M965 501.5h0M965 512.5h0M965.5 508.5h0M965.5 526.5h0M965.5 518h0M966 528h0M966 528h0M966 530h0M966.5 541h0M966.5 514h0M966.5 522.5h0M966.5 512.5h0M967 533.5h0M967 539h0M968 516h0M968 510h0M968 500h0M968 495h0M968.5 490.5h0M968.5 485.5h0M968.5 493.5h0M968.5 499.5h0M969 503h0M969.5 484h0M970 488h0M970 492.5h0M970.5 487.5h0M971 492.5h0M971 487h0M971 508.5h0M971.5 492h0M972 506h0M972.5 517.5h0M972.5 524.5h0M972.5 529h0M972.5 533h0M972.5 504h0M973 551.5h0M973 529.5h0M973 538.5h0M973 540h0M973 539h0M973.5 534h0M973.5 522.5h0M973.5 526h0M973.5 531.5h0M973.5 545.5h0M974 548.5h0M974 509h0M974 539.5h0M974 545h0M974 516h0M974 544h0M974.5 518.5h0M974.5 516h0M974.5 523h0M974.5 515h0M975 537.5h0M975 535.5h0M975 524h0M975 522h0M975 523h0M975 516.5h0M975 529h0M975.5 543h0M975.5 515.5h0M975.5 521h0M976 507.5h0M976 492.5h0M976.5 512.5h0M976.5 507h0M976.5 522.5h0M976.5 502h0M977 507h0M977 487.5h0M977 482.5h0M977 505.5h0M977.5 490h0M977.5 491h0M977.5 484h0M977.5 521.5h0M977.5 503.5h0M978 480h0M978 511.5h0M978 513.5h0M978.5 491.5h0M978.5 487.5h0M978.5 513h0M978.5 523h0M979 526.5h0M979 529h0M979.5 536h0M979.5 539h0M979.5 530h0M979.5 531.5h0M979.5 527h0M979.5 532.5h0M979.5 546h0M980 528.5h0M980 535h0M980 544h0M980.5 547.5h0M980.5 543h0M980.5 541h0M981 540.5h0M981 530h0M981 526.5h0M981.5 538.5h0M981.5 535.5h0M982 541h0M982.5 528h0M982.5 519h0M982.5 514h0M982.5 521h0M982.5 523.5h0M982.5 530h0M983 515.5h0M983 529h0M983.5 514.5h0M983.5 513.5h0M983.5 523h0M983.5 509.5h0M984 514h0M984.5 479.5h0M984.5 492.5h0M985 487.5h0M985 484h0M985 499h0M985.5 502h0M986 521h0M986 519h0M986.5 541.5h0M986.5 528.5h0M986.5 541h0M987 532h0M987 557h0M987 547h0M987 522.5h0M987.5 518.5h0M987.5 540h0M987.5 526.5h0M987.5 493.5h0M988 512h0M988 518.5h0M988.5 547.5h0M988.5 527.5h0M988.5 512h0M988.5 514.5h0M988.5 512h0M989 506h0M989 514.5h0M989 506.5h0M989 534.5h0M989 488.5h0M989 518.5h0M989 522h0M989 499h0M989 508h0M989.5 502h0M990 517h0M990 507h0M990 502h0M990 521.5h0M990 512h0M990.5 511.5h0M990.5 512h0M991 514.5h0M991 520h0M991 502h0M991 503.5h0M991 492.5h0M991.5 504.5h0M991.5 510.5h0M992 517.5h0M992 500.5h0M992 504.5h0M992 460.5h0M992.5 461h0M992.5 469.5h0M992.5 500h0M993 507.5h0M993 495h0M993 505h0M993 481h0M993 499.5h0M993.5 507h0M993.5 503h0M993.5 490h0M993.5 515h0M993.5 501.5h0M994 525.5h0M994 514.5h0M994 525h0M994.5 516.5h0M994.5 520h0M994.5 511.5h0M994.5 518h0M994.5 532.5h0M994.5 541h0M994.5 535.5h0M994.5 533h0M995 535.5h0M995 542.5h0M995.5 526.5h0M995.5 529h0M995.5 544h0M995.5 547h0M995.5 545h0M996 548.5h0M996 549.5h0M996 568h0M996.5 544h0M996.5 559.5h0M996.5 537h0M996.5 530h0M997 546h0M997 531.5h0M997 539.5h0M997 540.5h0M997 511.5h0M997.5 522h0M997.5 526h0M997.5 535h0M997.5 525.5h0M997.5 531.5h0M997.5 524h0M998 536.5h0M998 527.5h0M998 530.5h0M998 541h0M998 508h0M998 516h0M998.5 532.5h0M998.5 539.5h0M998.5 529h0M999 529.5h0M999 525.5h0M999 534h0M999.5 523.5h0M999.5 514h0M999.5 510h0M999.5 535h0M1000 513h0M1000 523.5h0M1000 491.5h0M1000 485h0M1000 489.5h0M1000 477h0M1000.5 483.5h0M1001 497h0M1001 502.5h0M1001 478.5h0M1001 478h0M1001 496.5h0M1001.5 508h0M1001.5 497h0M1002 494.5h0M1002 516h0M1002 495h0M1002 518.5h0M1003 516h0M1003 536h0M1003 532.5h0M1003.5 539h0M1003.5 540.5h0M1004 536h0M1004.5 545h0M1005 536h0M1005 526h0M1005 536.5h0M1005.5 506h0M1005.5 541.5h0M1005.5 498.5h0M1005.5 532.5h0M1006 511h0M1006 504h0M1006.5 514.5h0M1006.5 535.5h0M1006.5 523.5h0M1006.5 519h0M1006.5 513h0M1007 503h0M1007 501.5h0M1007 497h0M1007 523h0M1007 502h0M1007.5 530.5h0M1007.5 510h0M1007.5 523h0M1007.5 530.5h0M1007.5 501h0M1007.5 508.5h0M1008 496.5h0M1008 521h0M1008.5 517h0M1008.5 504.5h0M1008.5 508h0M1009 498h0M1009.5 497.5h0M1009.5 497.5h0M1010 512.5h0M1010 489h0M1010 508.5h0M1010 520h0M1010.5 510.5h0M1010.5 514h0M1011 519.5h0M1011.5 529h0M1011.5 540.5h0M1012 534.5h0M1012 553.5h0M1012 544.5h0M1012 541h0M1012.5 519.5h0M1013 504.5h0M1013 517h0M1013.5 512h0M1013.5 495h0M1013.5 510.5h0M1013.5 499h0M1013.5 500.5h0M1013.5 519.5h0M1013.5 501.5h0M1014 499h0M1014 509h0M1014.5 483h0M1014.5 486h0M1014.5 459h0M1014.5 514.5h0M1014.5 467.5h0M1015 464.5h0M1015 497h0M1015.5 470h0M1015.5 464.5h0M1015.5 469.5h0M1016 499.5h0M1016 479h0M1016 494h0M1016 481h0M1016 500.5h0M1017 503h0M1017 510.5h0M1017 500h0M1017 506.5h0M1017.5 496h0M1017.5 502h0M1018 509.5h0M1018 517.5h0M1018 521h0M1018 519h0M1018 511h0M1018.5 519.5h0M1018.5 518h0M1018.5 523.5h0M1018.5 524h0M1018.5 531h0M1019 546.5h0M1019 521.5h0M1019 523.5h0M1019 545.5h0M1019 514h0M1019.5 541h0M1020 517h0M1020 523h0M1020 521h0M1020 512h0M1020 513.5h0M1020.5 518.5h0M1020.5 528h0M1020.5 529.5h0M1021 513.5h0M1021 496.5h0M1021 503h0M1021 511h0M1021 507h0M1021.5 502.5h0M1021.5 489h0M1022 507.5h0M1022.5 488h0M1022.5 491h0M1022.5 500.5h0M1022.5 503.5h0M1023 477h0M1023 485h0M1023 490.5h0M1023 497.5h0M1023.5 489.5h0M1023.5 499.5h0M1023.5 487.5h0M1023.5 509h0M1023.5 515.5h0M1024 509.5h0M1024.5 525h0M1024.5 520h0M1024.5 503.5h0M1024.5 499h0M1024.5 510.5h0M1024.5 519h0M1025 538h0M1025 540.5h0M1025.5 526.5h0M1025.5 530h0M1025.5 539.5h0M1025.5 538h0M1025.5 516.5h0M1025.5 526h0M1026 538h0M1026 537h0M1026 526.5h0M1026.5 543.5h0M1026.5 547.5h0M1027 571.5h0M1027 530h0M1027 482.5h0M1027.5 509.5h0M1027.5 563.5h0M1027.5 560h0M1027.5 553.5h0M1028 564.5h0M1028 533.5h0M1028.5 537h0M1028.5 552h0M1028.5 519h0M1028.5 518.5h0M1028.5 539h0M1028.5 511h0M1028.5 529.5h0M1029 535.5h0M1029 529.5h0M1029 543.5h0M1029 522h0M1030.5 514h0M1031 473.5h0M1031 497h0M1031 516h0M1031.5 500.5h0M1032 529.5h0M1032 509.5h0M1032 506h0M1032 514h0M1032.5 531.5h0M1032.5 520.5h0M1032.5 524h0M1033 523h0M1033 509.5h0M1033 508h0M1034 519.5h0M1034 546h0M1034.5 549.5h0M1034.5 541.5h0M1034.5 540h0M1034.5 567h0M1034.5 552.5h0M1034.5 526.5h0M1035 561.5h0M1035 556h0M1035 556h0M1035 543h0M1035 550.5h0M1035 553.5h0M1035 568.5h0M1035 546h0M1035.5 554.5h0M1035.5 564h0M1035.5 557h0M1036 550.5h0M1036 551h0M1036.5 543h0M1036.5 532.5h0M1037.5 514.5h0M1037.5 534h0M1037.5 504.5h0M1037.5 485h0M1037.5 500h0M1038 484.5h0M1038 521.5h0M1038 490h0M1038 469.5h0M1038.5 466h0M1038.5 486h0M1038.5 488.5h0M1038.5 471.5h0M1039.5 494.5h0M1039.5 486h0M1039.5 501h0M1039.5 483.5h0M1040.5 490h0M1040.5 473.5h0M1040.5 487.5h0M1041 500.5h0M1041 494.5h0M1041 508.5h0M1041 494h0M1042 503.5h0M1042 498h0M1042 493h0M1042 526h0M1042.5 501.5h0M1042.5 497.5h0M1042.5 520.5h0M1042.5 487h0M1042.5 516h0M1043 483h0M1043 501.5h0M1043 500.5h0M1043 508.5h0M1043 501h0M1043.5 525h0M1043.5 555.5h0M1044 560h0M1044.5 531h0M1044.5 542.5h0M1045 522.5h0M1045 523h0M1045 544h0M1045 520h0M1045 524h0M1045 524.5h0M1045 519h0M1045.5 519.5h0M1045.5 518.5h0M1045.5 505.5h0M1045.5 527.5h0M1046 529h0M1046 523.5h0M1046 503.5h0M1046 518h0M1046 489h0M1046 542.5h0M1046.5 513h0M1047 504h0M1047 493h0M1047 480h0M1047.5 494h0M1047.5 503h0M1047.5 482h0M1047.5 473.5h0M1048 506.5h0M1048.5 480.5h0M1048.5 484.5h0M1049 501h0M1049 498.5h0M1049 491.5h0M1049 495.5h0M1049.5 504h0M1049.5 515.5h0M1049.5 501.5h0M1050 516h0M1050 509.5h0M1050 517.5h0M1050.5 512h0M1050.5 508h0M1050.5 514h0M1050.5 509h0M1050.5 532h0M1050.5 513.5h0M1051 516.5h0M1051 527.5h0M1051 523.5h0M1051 553h0M1051 522h0M1051 528.5h0M1051.5 551h0M1051.5 521h0M1051.5 538h0M1051.5 529h0M1052 541.5h0M1052 533.5h0M1052 537.5h0M1052 541h0M1052 532.5h0M1052 528.5h0M1052.5 561.5h0M1052.5 535.5h0M1053 540.5h0M1053 545h0M1053 518h0M1053 521.5h0M1053 543h0M1053 543h0M1053.5 521.5h0M1053.5 537.5h0M1053.5 533h0M1054 546.5h0M1054.5 525.5h0M1054.5 510h0M1054.5 527h0M1054.5 522.5h0M1055 500.5h0M1055 509.5h0M1055 497h0M1055 506h0M1055 500.5h0M1055.5 532.5h0M1055.5 528h0M1055.5 539h0M1056 502.5h0M1056 526h0M1056 531h0M1056.5 538.5h0M1056.5 542.5h0M1056.5 563h0M1056.5 510.5h0M1056.5 536h0M1056.5 534.5h0M1056.5 551h0M1056.5 537.5h0M1057 535.5h0M1057 542.5h0M1057 534.5h0M1057 555h0M1057.5 544.5h0M1057.5 538.5h0M1057.5 544h0M1057.5 548h0M1058 555.5h0M1058 566h0M1058 550.5h0M1058 563.5h0M1058.5 543h0M1058.5 532.5h0M1058.5 558.5h0M1059 539.5h0M1059.5 519h0M1059.5 516.5h0M1059.5 530h0M1059.5 520h0M1060 510h0M1060 514h0M1060 521h0M1060.5 503.5h0M1060.5 503h0M1060.5 503h0M1061 486h0M1061 476h0M1061 484.5h0M1061 482h0M1061.5 470h0M1062 516h0M1062 518h0M1062 524.5h0M1062 520h0M1062.5 543.5h0M1062.5 531.5h0M1063 538h0M1063 561.5h0M1063 563.5h0M1063.5 564.5h0M1063.5 547.5h0M1063.5 559.5h0M1063.5 554h0M1063.5 551h0M1064.5 548h0M1064.5 530.5h0M1064.5 521h0M1065 558.5h0M1065 543h0M1065 531.5h0M1065.5 543.5h0M1065.5 537h0M1065.5 528.5h0M1065.5 515h0M1065.5 517h0M1065.5 533h0M1065.5 528h0M1066 532.5h0M1066 528.5h0M1066 538.5h0M1066.5 543h0M1066.5 526.5h0M1067 508h0M1067.5 509h0M1067.5 537h0M1067.5 518.5h0M1067.5 522h0M1068.5 490.5h0M1068.5 506.5h0M1068.5 486h0M1068.5 499h0M1068.5 491.5h0M1069 489.5h0M1069 521h0M1069 504.5h0M1069.5 489h0M1069.5 509.5h0M1070 500h0M1070 507.5h0M1070 518.5h0M1070.5 516.5h0M1070.5 508.5h0M1070.5 506h0M1070.5 506h0M1070.5 534h0M1070.5 514h0M1071 540h0M1071 527h0M1071 530h0M1071.5 523h0M1071.5 527h0M1071.5 517.5h0M1071.5 538.5h0M1071.5 526h0M1072 532h0M1072 535.5h0M1072 546.5h0M1072.5 517h0M1073 512.5h0M1073 506.5h0M1073 515.5h0M1073 515h0M1073 507.5h0M1073 503.5h0M1073 500h0M1073.5 484.5h0M1073.5 510.5h0M1073.5 476.5h0M1074 524.5h0M1074.5 492h0M1075 512h0M1075 481.5h0M1075 513.5h0M1075.5 493h0M1075.5 515.5h0M1075.5 517.5h0M1076 498h0M1076 498h0M1076 515.5h0M1076 481.5h0M1076 511.5h0M1076.5 492h0M1076.5 520h0M1076.5 520h0M1076.5 509h0M1077 521h0M1077 506h0M1077 534.5h0M1077.5 510h0M1078 520.5h0M1078 534h0M1078 521h0M1078.5 521.5h0M1078.5 523.5h0M1078.5 507.5h0M1078.5 512.5h0M1079 503h0M1079.5 480h0M1079.5 495h0M1080 474h0M1080 488h0M1080 476h0M1080 473.5h0M1080 485h0M1080.5 494.5h0M1080.5 491h0M1080.5 487.5h0M1080.5 470.5h0M1080.5 477h0M1081 494.5h0M1081 487.5h0M1081 486h0M1081.5 480h0M1081.5 502.5h0M1081.5 490h0M1081.5 488.5h0M1081.5 506.5h0M1081.5 495h0M1082 509h0M1082.5 504h0M1082.5 498h0M1082.5 522h0M1082.5 513h0M1082.5 512.5h0M1083 505.5h0M1083 515.5h0M1083.5 504h0M1083.5 519.5h0M1083.5 516h0M1083.5 504.5h0M1084 508h0M1084 511h0M1084 514h0M1084.5 504.5h0M1084.5 500.5h0M1084.5 519.5h0M1084.5 524h0M1084.5 527.5h0M1084.5 498h0M1084.5 527.5h0M1084.5 532.5h0M1085 515.5h0M1085 508h0M1085 533h0M1085 522h0M1085.5 569.5h0M1085.5 558.5h0M1085.5 533h0M1085.5 547.5h0M1086 540h0M1086 534h0M1086.5 525.5h0M1086.5 525.5h0M1087 529.5h0M1087 526.5h0M1087 488h0M1087.5 516h0M1087.5 492.5h0M1088 503h0M1088 480h0M1088 478.5h0M1088 488h0M1088 463.5h0M1088.5 494h0M1088.5 482.5h0M1088.5 494.5h0M1089 504.5h0M1089 500.5h0M1089 518.5h0M1089 513h0M1089 492.5h0M1089.5 531h0M1089.5 526.5h0M1089.5 525h0M1089.5 523.5h0M1089.5 511h0M1089.5 520.5h0M1089.5 524h0M1090 532h0M1090.5 525h0M1090.5 544.5h0M1090.5 544.5h0M1090.5 530.5h0M1090.5 526.5h0M1090.5 531h0M1091 536.5h0M1091 541h0M1091 529h0M1091 531h0M1091.5 527h0M1091.5 531.5h0M1091.5 505.5h0M1091.5 514h0M1091.5 498h0M1091.5 522h0M1092 514h0M1092 517h0M1092 513.5h0M1092 516h0M1092.5 512h0M1092.5 527.5h0M1093 505h0M1093 493h0M1093.5 518h0M1093.5 498.5h0M1093.5 488.5h0M1094 478h0M1094 492h0M1094 485h0M1094 469h0M1094 474h0M1094.5 522.5h0M1094.5 525h0M1094.5 507.5h0M1094.5 516h0M1094.5 524.5h0M1094.5 521h0M1095 516h0M1095 522.5h0M1095 523.5h0M1095 523.5h0M1095.5 537.5h0M1095.5 503h0M1095.5 508.5h0M1095.5 506.5h0M1096 525h0M1096 522h0M1096 517.5h0M1096 515h0M1096.5 545.5h0M1096.5 522h0M1096.5 537h0M1097 528h0M1097 534.5h0M1097 509.5h0M1097 522.5h0M1097.5 530.5h0M1097.5 515.5h0M1097.5 531.5h0M1097.5 538.5h0M1097.5 533h0M1097.5 535h0M1098 531h0M1098 523h0M1098 534h0M1098 533.5h0M1098.5 522.5h0M1098.5 531.5h0M1098.5 525h0M1099 534h0M1099 549.5h0M1099 549h0M1099.5 555.5h0M1099.5 525h0M1099.5 521.5h0M1099.5 530.5h0M1099.5 535.5h0M1099.5 519.5h0M1099.5 524.5h0M1099.5 519.5h0M1099.5 532h0M1100 533.5h0M1100 501.5h0M1100 527.5h0M1100 516.5h0M1100.5 498.5h0M1100.5 532h0M1100.5 504.5h0M1100.5 510h0M1100.5 511.5h0M1101 503.5h0M1101 519h0M1101 530h0M1101.5 481.5h0M1101.5 501h0M1102 484h0M1102 480.5h0M1102.5 488.5h0M1102.5 483.5h0M1102.5 479h0M1102.5 469.5h0M1102.5 481h0M1102.5 472.5h0M1102.5 489h0M1103 487h0M1103 478.5h0M1103.5 475h0M1103.5 473h0M1103.5 504h0M1103.5 467.5h0M1104 482.5h0M1104 461.5h0M1104 481h0M1104 480.5h0M1104 480.5h0M1104.5 492.5h0M1104.5 501h0M1104.5 488h0M1104.5 494.5h0M1105 507h0M1105 497h0M1105.5 501h0M1105.5 506h0M1105.5 519.5h0M1105.5 504h0M1106 485h0M1106 498h0M1106 496h0M1107 515h0M1107 503h0M1107 522h0M1107 520.5h0M1107 510h0M1107 531.5h0M1107 516h0M1107 514.5h0M1107.5 503h0M1107.5 530.5h0M1108 520.5h0M1108 532h0M1108 531.5h0M1108 555.5h0M1108 538.5h0M1108 517.5h0M1108.5 539.5h0M1108.5 541.5h0M1109 514h0M1109 527h0M1109 545.5h0M1109 534h0M1109 530.5h0M1109 511h0M1109 537.5h0M1109.5 519h0M1110 502.5h0M1110 516.5h0M1110 504.5h0M1110 526.5h0M1110 503h0M1110 526.5h0M1110.5 502h0M1110.5 473h0M1110.5 486.5h0M1110.5 489h0M1111 502h0M1111 480.5h0M1111 498.5h0M1111 498h0M1111.5 514.5h0M1111.5 516.5h0M1111.5 525h0M1111.5 516h0M1111.5 524h0M1112 507h0M1112 511.5h0M1112 521h0M1112 527h0M1112.5 557.5h0M1112.5 533.5h0M1112.5 525.5h0M1112.5 522.5h0M1112.5 563.5h0M1112.5 557h0M1113 533h0M1113 546h0M1113 539h0M1113 543h0M1113.5 536h0M1113.5 562.5h0M1113.5 549.5h0M1113.5 477h0M1114 484h0M1114 495h0M1114 481h0M1114 482.5h0M1114 494.5h0M1114 476.5h0M1114 476.5h0M1114.5 485h0M1114.5 473h0M1114.5 495.5h0M1114.5 474.5h0M1114.5 484.5h0M1114.5 492h0M1115 486.5h0M1115 467.5h0M1115 485.5h0M1115 483.5h0M1115 486.5h0M1115 486h0M1115.5 466.5h0M1115.5 549.5h0M1116 459.5h0M1116 468h0M1116 464.5h0M1116 475h0M1116 476.5h0M1116 484h0M1116.5 514h0M1116.5 473.5h0M1116.5 477.5h0M1116.5 475.5h0M1116.5 466h0M1117 473.5h0M1117 467.5h0M1117 464.5h0M1117 476h0M1117 478.5h0M1117.5 460.5h0M1117.5 470h0M1118 465.5h0M1118 515h0M1118 478h0M1118.5 494.5h0M1118.5 485.5h0M1118.5 492h0M1118.5 479.5h0M1118.5 497h0M1118.5 488h0M1119 499h0M1119 497h0M1119 501.5h0M1119 508.5h0M1119.5 502.5h0M1119.5 493h0M1119.5 512.5h0M1119.5 512.5h0M1120.5 514h0M1120.5 527h0M1120.5 510.5h0M1120.5 513.5h0M1120.5 547h0M1121 529.5h0M1121 537h0M1121 517h0M1121 518h0M1121.5 533.5h0M1121.5 527.5h0M1121.5 520h0M1121.5 522.5h0M1122 508h0M1122 504.5h0M1122 508.5h0M1122 500.5h0M1122.5 499h0M1122.5 508h0M1122.5 510.5h0M1123 512h0M1123 494h0M1123 492h0M1123 488.5h0M1123 502h0M1123.5 500.5h0M1124 521h0M1124 490.5h0M1124.5 466.5h0M1124.5 469.5h0M1124.5 485.5h0M1124.5 473h0M1125 478.5h0M1125 495.5h0M1125 472h0M1125.5 508h0M1125.5 492.5h0M1125.5 506h0M1125.5 502.5h0M1126 519h0M1126 521h0M1126.5 518.5h0M1126.5 529h0M1126.5 532.5h0M1127 511.5h0M1127 513h0M1127.5 517h0M1127.5 516.5h0M1127.5 500h0M1127.5 519h0M1127.5 511.5h0M1127.5 510.5h0M1128 527.5h0M1128 532h0M1128 508h0M1128 500h0M1128 505h0M1128.5 511h0M1128.5 510.5h0M1128.5 493.5h0M1129 498h0M1130 514.5h0M1130 490h0M1130 496.5h0M1130 495h0M1130 488h0M1130.5 487.5h0M1130.5 495.5h0M1130.5 506.5h0M1131 529h0M1131 503.5h0M1131 509.5h0M1131 494.5h0M1131 495h0M1131.5 505h0M1131.5 495.5h0M1131.5 512h0M1131.5 513h0M1131.5 522h0M1131.5 516h0M1132 514h0M1132 505.5h0M1132 525.5h0M1132 510h0M1132.5 494h0M1132.5 534h0M1132.5 523.5h0M1132.5 520.5h0M1132.5 510.5h0M1132.5 501.5h0M1133 510h0M1133 525h0M1133 535.5h0M1133.5 528.5h0M1133.5 528.5h0M1133.5 527h0M1133.5 539.5h0M1133.5 514.5h0M1133.5 539h0M1134 524.5h0M1134 529h0M1134 541h0M1134 528.5h0M1134 529h0M1134 530.5h0M1134.5 515h0M1135 527.5h0M1135 493.5h0M1135 508h0M1135 529.5h0M1135 546.5h0M1135 505.5h0M1135 516h0M1135 517h0M1135.5 528h0M1135.5 533h0M1135.5 536.5h0M1135.5 488.5h0M1135.5 497.5h0M1135.5 520.5h0M1135.5 492.5h0M1136 532h0M1136 502.5h0M1136 502h0M1136 519h0M1136 514h0M1136 520.5h0M1136.5 506h0M1136.5 491.5h0M1136.5 492.5h0M1136.5 497h0M1137 487.5h0M1137 516h0M1137.5 470.5h0M1137.5 491.5h0M1138 503.5h0M1138 493.5h0M1138 495.5h0M1138 514h0M1138.5 512h0M1138.5 541.5h0M1138.5 502.5h0M1138.5 497.5h0M1138.5 528h0M1138.5 502h0M1138.5 504.5h0M1138.5 507h0M1139 501.5h0M1139 534h0M1139 512.5h0M1139 532h0M1139.5 496h0M1139.5 534.5h0M1140 538h0M1140 513.5h0M1140 519.5h0M1141 532h0M1141 532h0M1141.5 527.5h0M1141.5 516h0M1141.5 542.5h0M1141.5 541.5h0M1141.5 542.5h0M1141.5 537h0M1141.5 536.5h0M1142 551.5h0M1142 534.5h0M1142 552h0M1142 541.5h0M1142 541.5h0M1142 542.5h0M1142.5 524h0M1142.5 511.5h0M1143 512.5h0M1143 506.5h0M1143 525.5h0M1143.5 501.5h0M1143.5 517.5h0M1144 511.5h0M1144.5 507.5h0M1144.5 524.5h0M1145 512h0M1145 507h0M1145 500h0M1145.5 501.5h0M1145.5 507.5h0M1146 505.5h0M1146.5 489.5h0M1146.5 527.5h0M1146.5 528.5h0M1146.5 517h0M1147 514.5h0M1147 528h0M1147.5 541.5h0M1147.5 520h0M1147.5 516.5h0M1148.5 540h0M1148.5 540h0M1149 564h0M1149 531h0M1149 554h0M1149 534.5h0M1149.5 550.5h0M1149.5 549h0M1150 552h0M1150 571.5h0M1150.5 524h0M1150.5 572h0M1151 530.5h0M1151 540.5h0M1151 533.5h0M1151 513.5h0M1151 548h0M1151.5 527.5h0M1151.5 520h0M1151.5 524h0M1151.5 520.5h0M1151.5 532h0M1152 540.5h0M1152 537h0M1152 527h0M1152 511.5h0M1152.5 516.5h0M1153 497.5h0M1153 523h0M1153 506h0M1153 524.5h0M1153 504h0M1153.5 511h0M1153.5 537.5h0M1153.5 517.5h0M1153.5 543h0M1154 522h0M1154.5 535.5h0M1154.5 553h0M1154.5 566.5h0M1154.5 549h0M1155 560h0M1155 535h0M1155 561h0M1155.5 556.5h0M1155.5 549.5h0M1155.5 556.5h0M1155.5 555h0M1155.5 562h0M1156 555h0M1156 573.5h0M1156 559.5h0M1156.5 582h0M1156.5 570.5h0M1156.5 583.5h0M1156.5 573.5h0M1156.5 564h0M1156.5 555.5h0M1157 586.5h0M1157 570.5h0M1157.5 572h0M1157.5 548.5h0M1157.5 570h0M1157.5 551h0M1158 560.5h0M1158 570h0M1158 549h0M1158.5 560h0M1158.5 539.5h0M1158.5 538.5h0M1158.5 530.5h0M1158.5 554.5h0M1158.5 527.5h0M1159 533.5h0M1159 558.5h0M1159 516h0M1159.5 516h0M1159.5 543h0M1159.5 528h0M1160 544.5h0M1160 531h0M1160 527.5h0M1160 522.5h0M1160 535.5h0M1160.5 523.5h0M1160.5 533h0M1160.5 517h0M1160.5 513.5h0M1161 516.5h0M1161 503.5h0M1161 507.5h0M1161 534.5h0M1161.5 529h0M1161.5 555h0M1161.5 542.5h0M1161.5 561h0M1161.5 543h0M1161.5 547.5h0M1162 535.5h0M1162 550h0M1162 552h0M1162 546.5h0M1162 547.5h0M1162 541.5h0M1162.5 557h0M1162.5 564.5h0M1162.5 566h0M1162.5 538.5h0M1162.5 564h0M1163 556h0M1163 563h0M1163 544h0M1163.5 561h0M1163.5 542.5h0M1163.5 564.5h0M1164 555.5h0M1164 552h0M1164 550h0M1164 573.5h0M1164.5 565.5h0M1164.5 564.5h0M1164.5 583.5h0M1165 558.5h0M1165 562h0M1165 561h0M1165.5 583h0M1165.5 567h0M1165.5 564.5h0M1165.5 559.5h0M1165.5 576h0M1165.5 563.5h0M1166 549.5h0M1166.5 570.5h0M1166.5 568.5h0M1166.5 567.5h0M1166.5 577h0M1166.5 560.5h0M1166.5 539.5h0M1167 563.5h0M1167 548.5h0M1167 532.5h0M1167 538h0M1167.5 537h0M1167.5 542.5h0M1167.5 539h0M1167.5 534h0M1167.5 524h0M1168 523.5h0M1168.5 502h0M1168.5 534h0M1168.5 511.5h0M1168.5 526h0M1168.5 520.5h0M1169 529.5h0M1169 519h0M1169.5 533h0M1169.5 529h0M1169.5 545h0M1170.5 552h0M1170.5 545h0M1171.5 561h0M1171.5 577.5h0M1171.5 577h0M1172 576h0M1172 572.5h0M1172 569h0M1172 556.5h0M1172.5 561.5h0M1172.5 549.5h0M1172.5 548h0M1173 577.5h0M1173 561h0M1173 566h0M1173.5 576h0M1173.5 569.5h0M1173.5 561.5h0M1174 538h0M1174 553.5h0M1174 556h0M1174 554h0M1174 560.5h0M1174 550.5h0M1174.5 551.5h0M1174.5 567.5h0M1174.5 555h0M1174.5 514h0M1174.5 542h0M1174.5 549.5h0M1175 540.5h0M1175 557.5h0M1175 546h0M1175 535.5h0M1175.5 560.5h0M1175.5 550.5h0M1175.5 546h0M1175.5 544h0M1176 544h0M1176.5 501h0M1176.5 494h0M1176.5 501.5h0M1176.5 495h0M1176.5 496.5h0M1176.5 514h0M1177 506.5h0M1177 513.5h0M1177 503h0M1177 514.5h0M1177 515h0M1177 498h0M1177 517.5h0M1177.5 533h0M1177.5 516.5h0M1177.5 515h0M1177.5 526h0M1178 523h0M1178 515h0M1178 531.5h0M1178 528.5h0M1178 534.5h0M1178 525h0M1178 530.5h0M1178.5 540.5h0M1178.5 533h0M1178.5 516h0M1179 558h0M1179 555h0M1179 538h0M1179.5 559h0M1179.5 525.5h0M1179.5 561h0M1179.5 559.5h0M1179.5 578.5h0M1179.5 561.5h0M1180 557h0M1180 554.5h0M1180.5 554.5h0M1180.5 543.5h0M1180.5 569h0M1180.5 546h0M1181 521.5h0M1181.5 542.5h0M1181.5 524h0M1181.5 512h0M1182 510.5h0M1182 524.5h0M1182 504h0M1182 515.5h0M1182.5 509.5h0M1182.5 533h0M1182.5 533h0M1183 537.5h0M1183 514h0M1183 556h0M1183 551h0M1183 524h0M1183.5 536h0M1183.5 570.5h0M1184 549h0M1184 551h0M1184 537.5h0M1184 571h0M1184.5 561h0M1184.5 546h0M1184.5 550h0M1184.5 569.5h0M1184.5 563h0M1185 578.5h0M1185 553.5h0M1185 572h0M1185 555h0M1185.5 563h0M1185.5 580.5h0M1185.5 571h0M1185.5 559h0M1186 558.5h0M1186 542h0M1186.5 533.5h0M1186.5 539h0M1186.5 532h0M1187 540h0M1187.5 530.5h0M1187.5 514.5h0M1187.5 516.5h0M1187.5 540h0M1188 531.5h0M1188 539h0M1188 540.5h0M1188 524h0M1188 547.5h0M1188.5 551h0M1189 544h0M1189 549h0M1189.5 560h0M1189.5 578.5h0M1189.5 564h0M1189.5 568.5h0M1189.5 574h0M1189.5 571.5h0M1190 570h0M1190 542h0M1190 531.5h0M1190 549.5h0M1190 535.5h0M1190.5 548h0M1190.5 564h0M1190.5 548h0M1190.5 534.5h0M1191 533h0M1191 556.5h0M1191 524h0M1191 554.5h0M1191 553h0M1191.5 550.5h0M1191.5 530h0M1191.5 540.5h0M1191.5 534h0M1192 565.5h0M1192 541.5h0M1192.5 539h0M1193 530.5h0M1193 542h0M1193 524.5h0M1193 543h0M1193 550h0M1193.5 551.5h0M1193.5 521.5h0M1193.5 526h0M1193.5 541.5h0M1193.5 522h0M1194 532.5h0M1194 532h0M1194.5 545.5h0M1194.5 535.5h0M1194.5 528h0M1194.5 527h0M1194.5 514.5h0M1194.5 499h0M1195 495h0M1195 519.5h0M1195 507h0M1195 528h0M1195 510h0M1195.5 528h0M1195.5 521.5h0M1195.5 518.5h0M1196 523.5h0M1196 511h0M1196 533.5h0M1196.5 531h0M1196.5 523.5h0M1196.5 527.5h0M1196.5 525h0M1196.5 530.5h0M1196.5 537.5h0M1196.5 523h0M1196.5 530h0M1197 526h0M1197 522h0M1197 539h0M1197.5 545h0M1197.5 542h0M1197.5 547h0M1197.5 561.5h0M1198 526h0M1198 539h0M1198.5 526.5h0M1198.5 556.5h0M1199 547h0M1199 553.5h0M1199 557.5h0M1199.5 550.5h0M1199.5 560h0M1199.5 559.5h0M1199.5 556.5h0M1199.5 580h0M1200 564.5h0M1200 563.5h0M1200.5 537h0M1200.5 547.5h0M1200.5 545h0M1201 544.5h0M1201 551.5h0M1201 532h0M1201.5 550h0M1201.5 560.5h0M1201.5 539.5h0M1201.5 533.5h0M1202 543.5h0M1202 538.5h0M1202.5 531.5h0M1202.5 525h0M1202.5 534.5h0M1203 520.5h0M1203 535h0M1203 516.5h0M1203 551.5h0M1203 527.5h0M1203 533.5h0M1203.5 534.5h0M1203.5 548h0M1203.5 523.5h0M1204 539.5h0M1204 551h0M1204 549h0M1204 546.5h0M1204 543.5h0M1204.5 558.5h0M1204.5 561h0M1204.5 548.5h0M1204.5 556h0M1205 540.5h0M1205 565h0M1205 554.5h0M1205 545.5h0M1205 567h0M1205 556h0M1205 563.5h0M1205 566.5h0M1205 552h0M1205 579h0M1205.5 579.5h0M1205.5 592h0M1205.5 581h0M1206 535h0M1206 547h0M1206.5 535.5h0M1206.5 551.5h0M1206.5 532h0M1206.5 544.5h0M1207 548h0M1207 526.5h0M1207 542.5h0M1207 536.5h0M1207.5 540.5h0M1208 532.5h0M1208.5 538.5h0M1209 550.5h0M1209 535.5h0M1209 533h0M1209.5 533.5h0M1209.5 539h0M1209.5 518h0M1209.5 540.5h0M1210 538h0M1210.5 552h0M1211 567h0M1211 569h0M1211 560h0M1211.5 561h0M1211.5 572h0M1212 596.5h0M1212 583.5h0M1212 580.5h0M1212 578h0M1212 573.5h0M1212 581h0M1212.5 579.5h0M1212.5 576h0M1212.5 538.5h0M1213 574.5h0M1213 587.5h0M1213 578h0M1213.5 577.5h0M1213.5 587.5h0M1213.5 586h0M1213.5 568h0M1213.5 574h0M1213.5 564.5h0M1214 573h0M1214 545.5h0M1214 569.5h0M1214 544h0M1214 572.5h0M1214 558.5h0M1214.5 549h0M1214.5 572h0M1214.5 566.5h0M1214.5 551h0M1214.5 543h0M1214.5 540.5h0M1215 540h0M1215 535h0M1215 557h0M1215 548.5h0M1215 527.5h0M1215.5 544h0M1215.5 538h0M1215.5 552.5h0M1215.5 536.5h0M1215.5 549h0M1215.5 529h0M1216 509h0M1216.5 517h0M1216.5 518.5h0M1216.5 518h0M1216.5 506.5h0M1217 519h0M1217 525.5h0M1217.5 505h0M1217.5 540h0M1217.5 533.5h0M1218 550h0M1218.5 532h0M1218.5 548h0M1218.5 559h0M1218.5 559h0M1218.5 535.5h0M1218.5 540.5h0M1218.5 540.5h0M1218.5 551h0M1218.5 542.5h0M1219 539.5h0M1219 554.5h0M1219.5 579h0M1219.5 586h0M1219.5 584h0M1219.5 566.5h0M1219.5 584.5h0M1220 585h0M1220 575.5h0M1220.5 566h0M1220.5 568.5h0M1220.5 544.5h0M1220.5 548.5h0M1220.5 545h0M1221 543.5h0M1221 535h0M1221 548h0M1221.5 548.5h0M1221.5 561.5h0M1221.5 543.5h0M1222 543.5h0M1222.5 524.5h0M1222.5 527.5h0M1222.5 518.5h0M1222.5 520.5h0M1222.5 518h0M1222.5 524h0M1223 526.5h0M1223 545.5h0M1223 542h0M1223 551.5h0M1223.5 541.5h0M1223.5 547.5h0M1224 571h0M1224 577.5h0M1224.5 562h0M1225 564.5h0M1225 564h0M1225 548h0M1225 567.5h0M1225.5 575.5h0M1225.5 559h0M1225.5 553h0M1225.5 546.5h0M1225.5 575h0M1225.5 568h0M1226 571.5h0M1226 552.5h0M1226 561h0M1226 568h0M1226 563h0M1226 574h0M1226.5 574h0M1226.5 574.5h0M1227 581.5h0M1227 580h0M1227 575h0M1227.5 578.5h0M1227.5 568h0M1227.5 575h0M1227.5 584.5h0M1228 604h0M1228 595h0M1228 584.5h0M1228 580h0M1229 580.5h0M1229 569.5h0M1229 564.5h0M1229 571.5h0M1229 565h0M1229.5 554.5h0M1229.5 560.5h0M1230 559h0M1230 548.5h0M1230.5 541h0M1230.5 552.5h0M1230.5 560.5h0M1230.5 549.5h0M1230.5 535h0M1231 552h0M1231 524h0M1231 537.5h0M1231 529h0M1231 537.5h0M1231.5 520h0M1231.5 523.5h0M1231.5 518h0M1232 540.5h0M1232 523.5h0M1232 548.5h0M1232 535.5h0M1232 528h0M1232.5 539.5h0M1232.5 534h0M1232.5 538h0M1232.5 540h0M1232.5 549h0M1232.5 531.5h0M1232.5 530.5h0M1232.5 547.5h0M1233 552h0M1233 543.5h0M1233 555.5h0M1233 547.5h0M1233 542h0M1233.5 546.5h0M1233.5 542h0M1234 554h0M1234 570h0M1234 568h0M1234 555h0M1234 542h0M1234 566h0M1234 572.5h0M1234 551h0M1234.5 568h0M1234.5 562.5h0M1235 565h0M1235 587h0M1235 581h0M1235 584h0M1235 575h0M1235.5 575.5h0M1235.5 588h0M1235.5 578h0M1235.5 602h0M1235.5 582h0M1236 568h0M1236.5 563.5h0M1236.5 577.5h0M1236.5 563.5h0M1237 571h0M1237 545h0M1237 562.5h0M1237 558h0M1237.5 553h0M1238 542.5h0M1238 546.5h0M1238 541.5h0M1238.5 554.5h0M1238.5 531.5h0M1238.5 547h0M1239 528h0M1239 533h0M1239 497h0M1239.5 512.5h0M1239.5 527h0M1240 534h0M1240 525.5h0M1240 509.5h0M1240 533h0M1240 529.5h0M1240.5 519.5h0M1240.5 540.5h0M1240.5 536h0M1240.5 536.5h0M1240.5 549h0M1241 541h0M1241 533.5h0M1241 538h0M1241 556.5h0M1241.5 528.5h0M1241.5 561h0M1242 574.5h0M1242 581h0M1242 584.5h0M1242 567h0M1242.5 603h0M1242.5 575.5h0M1242.5 587h0M1242.5 571.5h0M1243 566.5h0M1243 578h0M1243 571.5h0M1243.5 545.5h0M1243.5 561h0M1243.5 551.5h0M1244 549h0M1244 536h0M1244.5 528h0M1244.5 529h0M1244.5 532.5h0M1245 522.5h0M1245 539.5h0M1245 513.5h0M1245.5 527.5h0M1245.5 530.5h0M1245.5 525h0M1246 537.5h0M1246 527h0M1246 525h0M1246 520.5h0M1246 535h0M1246 540h0M1246.5 540h0M1246.5 549h0M1246.5 546h0M1246.5 519h0M1246.5 548h0M1246.5 546h0M1247 536.5h0M1247 541h0M1247 539h0M1247.5 558h0M1247.5 560h0M1247.5 537.5h0M1247.5 557.5h0M1247.5 553h0M1248.5 558.5h0M1248.5 581.5h0M1248.5 565.5h0M1248.5 571h0M1249 561.5h0M1249 570.5h0M1249 590h0M1249 561.5h0M1249 596h0M1249 575.5h0M1249 578.5h0M1249.5 582.5h0M1249.5 577h0M1249.5 568.5h0M1249.5 587h0M1250 585h0M1250 572.5h0M1250 575h0M1250.5 548h0M1250.5 551.5h0M1250.5 554h0M1251 554.5h0M1251 552h0M1251.5 536.5h0M1251.5 530.5h0M1251.5 525h0M1252 551.5h0M1252 543h0M1252 540.5h0M1252 541.5h0M1252 549h0M1252.5 513.5h0M1252.5 519h0M1253 530h0M1253.5 532h0M1253.5 525.5h0M1253.5 536.5h0M1253.5 527.5h0M1254 514h0M1254 504h0M1254 510h0M1254 506h0M1254.5 526.5h0M1254.5 548.5h0M1254.5 502h0M1254.5 514h0M1254.5 526h0M1255 516h0M1255 544.5h0M1255 544.5h0M1255.5 545.5h0M1255.5 522.5h0M1255.5 530h0M1255.5 558.5h0M1255.5 525h0M1256 550.5h0M1256 548.5h0M1256 562h0M1256.5 538.5h0M1256.5 557h0M1256.5 551h0M1256.5 575h0M1257.5 577.5h0M1257.5 582.5h0M1258 581.5h0M1258 586.5h0M1258 585h0M1258 589.5h0M1258 584h0M1258 577.5h0M1258.5 570h0M1258.5 591.5h0M1258.5 586h0M1258.5 581.5h0M1258.5 589h0M1259 572.5h0M1259 571.5h0M1259.5 568.5h0M1259.5 561h0M1260 553.5h0M1260 555h0M1260 559h0M1260 555.5h0M1260.5 567.5h0M1260.5 569h0M1260.5 550.5h0M1261 549.5h0M1261 533h0M1261 554.5h0M1261 562h0M1261 549h0M1261.5 555.5h0M1261.5 545h0M1262 527.5h0M1262 522h0M1262 538h0M1262 550h0M1262.5 544h0M1262.5 547.5h0M1262.5 561h0M1262.5 539h0M1262.5 545.5h0M1262.5 538h0M1262.5 556.5h0M1262.5 551.5h0M1263 554h0M1263 572.5h0M1263 531h0M1263 577.5h0M1263.5 571h0M1263.5 567.5h0M1264 580.5h0M1264 561.5h0M1264 572.5h0M1264 568.5h0M1264 567.5h0M1264 569.5h0M1264.5 570h0M1264.5 574.5h0M1264.5 571.5h0M1265 569h0M1265 581.5h0M1265 584.5h0M1265 584.5h0M1265 578h0M1265 586.5h0M1265.5 587.5h0M1265.5 599h0M1265.5 540.5h0M1265.5 571h0M1266 539h0M1266 548h0M1266 544h0M1266.5 548h0M1266.5 545h0M1267 545.5h0M1267 541.5h0M1267 538h0M1267 531h0M1267 555.5h0M1267.5 536.5h0M1267.5 525h0M1268 523.5h0M1268 546h0M1268 532h0M1268.5 530.5h0M1268.5 530.5h0M1268.5 555h0M1269 519.5h0M1269 544h0M1269 504h0M1269.5 511h0M1269.5 520h0M1270 518.5h0M1270.5 530.5h0M1270.5 539.5h0M1270.5 536.5h0M1270.5 536.5h0M1271 551.5h0M1271 536.5h0M1271 532.5h0M1271 536h0M1271 540h0M1271 539h0M1271 545.5h0M1271.5 543.5h0M1271.5 559h0M1271.5 557.5h0M1271.5 548.5h0M1272 547h0M1272 574.5h0M1272 589.5h0M1272 553.5h0M1272 564h0M1272.5 549.5h0M1272.5 559h0M1272.5 564.5h0M1272.5 572h0M1273 574.5h0M1273 547h0M1273 551h0M1273 557.5h0M1273 572h0M1273.5 565h0M1273.5 565.5h0M1273.5 561h0M1273.5 586h0M1273.5 553h0M1273.5 539.5h0M1273.5 561h0M1274 552h0M1274 548h0M1274.5 559.5h0M1274.5 544.5h0M1274.5 555h0M1274.5 549.5h0M1274.5 542h0M1275 541h0M1275 538.5h0M1275.5 546.5h0M1275.5 528.5h0M1275.5 547h0M1276 523h0M1276 535h0M1276.5 541h0M1276.5 528.5h0M1276.5 538.5h0M1276.5 531.5h0M1276.5 527h0M1277 514.5h0M1277 513.5h0M1277 516.5h0M1277 522.5h0M1277 535.5h0M1277.5 524h0M1277.5 528h0M1277.5 527.5h0M1277.5 531.5h0M1278 535h0M1278.5 530.5h0M1278.5 554h0M1279 546.5h0M1279 533.5h0M1279 556.5h0M1279.5 561.5h0M1279.5 554.5h0M1279.5 556h0M1279.5 551.5h0M1279.5 540.5h0M1279.5 556h0M1279.5 549h0M1279.5 561.5h0M1280 565.5h0M1280.5 563h0M1280.5 574.5h0M1280.5 556h0M1281 587.5h0M1281 584h0M1281 593h0M1281 586h0M1281.5 587.5h0M1281.5 581.5h0M1281.5 595h0M1281.5 576.5h0M1282 550h0M1282.5 585h0M1282.5 546.5h0M1282.5 565h0M1282.5 552h0M1283 568.5h0M1283 536.5h0M1283.5 565.5h0M1283.5 553.5h0M1283.5 535h0M1284 560.5h0M1284 571h0M1284 546.5h0M1284 553.5h0M1284 555.5h0M1284 553.5h0M1284 558.5h0M1284.5 526h0M1284.5 527h0M1284.5 553h0M1285 537.5h0M1285.5 529.5h0M1285.5 514h0M1285.5 535.5h0M1285.5 512h0M1286 537.5h0M1286.5 553h0M1286.5 549h0M1286.5 555h0M1286.5 529.5h0M1286.5 553.5h0M1287 568.5h0M1287.5 572.5h0M1287.5 557h0M1287.5 581.5h0M1288 587.5h0M1288 556.5h0M1288 563.5h0M1288 574.5h0M1288 569.5h0M1288.5 555.5h0M1288.5 593h0M1288.5 551.5h0M1289 564h0M1289 555h0M1289 562.5h0M1289 529.5h0M1289 568h0M1289.5 547.5h0M1289.5 586.5h0M1289.5 557.5h0M1290 547.5h0M1290 572h0M1290 575h0M1290 552.5h0M1290.5 543h0M1290.5 540h0M1291 557h0M1291 519.5h0M1292 555.5h0M1292 524.5h0M1292 549h0M1292 532h0M1292 554.5h0M1293 572h0M1293 551.5h0M1293 579.5h0M1293.5 564h0M1293.5 583.5h0M1293.5 594h0M1293.5 596.5h0M1294 567h0M1294 577h0M1294 579.5h0M1294.5 590.5h0M1294.5 562h0M1294.5 559.5h0M1294.5 564.5h0M1295 557.5h0M1295 600h0M1295 570.5h0M1295 563h0M1295 563h0M1295 567h0M1295.5 557h0M1295.5 565h0M1295.5 563.5h0M1295.5 567.5h0M1295.5 550.5h0M1295.5 560h0M1296 555h0M1296 532h0M1296 546h0M1296.5 544.5h0M1296.5 558h0M1296.5 545h0M1296.5 528.5h0M1297 533h0M1297.5 540h0M1297.5 544.5h0M1297.5 545.5h0M1297.5 542h0M1297.5 549.5h0M1298 574h0M1298 530h0M1298 539h0M1298.5 556h0M1298.5 539.5h0M1298.5 568.5h0M1298.5 542.5h0M1298.5 557h0M1299 550.5h0M1299 564h0M1299 560h0M1299 559h0M1299 554.5h0M1299.5 562h0M1299.5 563h0M1299.5 577.5h0M1299.5 554h0M1299.5 570h0M1300 577h0M1300 578.5h0M1300 588h0M1300.5 573h0M1300.5 579.5h0M1300.5 560.5h0M1300.5 562.5h0M1301 558h0M1301 573h0M1301 564h0M1301 566.5h0M1301 548.5h0M1301 573.5h0M1301.5 572h0M1301.5 539h0M1301.5 549h0M1302 568.5h0M1302 537h0M1302 533.5h0M1302.5 534.5h0M1302.5 568.5h0M1302.5 545h0M1302.5 554.5h0M1302.5 546.5h0M405.5 470h0M405.5 489h0M405 475.5h0M405.5 488h0M405.5 489.5h0M405 491h0M407 478h0M406.5 466h0M406.5 471.5h0M407 493h0M406 496.5h0M406 458h0M406.5 459h0M406.5 494.5h0" stroke="#000" stroke-width="4" stroke-linecap="round" fill="none"/>
<path clip-path="url(#cm)" d="M170.5 473.5h0M170.5 489.5h0M194.5 596h0M273.5 589.5h0M322.5 587h0M395.5 483.5h0M405 448h0M502.5 580.5h0M570.5 580.5h0M905.5 621h0M994.5 582.5h0M1121.5 450h0M1288.5 661.5h0" stroke="#ffa500" stroke-width="3.6" stroke-linecap="round" fill="none"/>
<path clip-path="url(#cm)" d="M268.8 660.9L274.6 660.9L271.7 665.6Z" fill="#ffa500" stroke="#ffa500" stroke-width="0.7" stroke-linejoin="round"/>
<path clip-path="url(#cm)" d="M338.4 660.9L344.2 660.9L341.3 665.6Z" fill="#ffa500" stroke="#ffa500" stroke-width="0.7" stroke-linejoin="round"/>
<path clip-path="url(#cm)" d="M382.4 660.9L388.2 660.9L385.3 665.6Z" fill="#ffa500" stroke="#ffa500" stroke-width="0.7" stroke-linejoin="round"/>
<g clip-path="url(#cm)">
<rect x="105" y="498.8" width="1255.7" height="49.2" fill="#ff0000" fill-opacity="0.1"/>
<rect x="162" y="491.3" width="7" height="16" fill="#ffa500" fill-opacity="0.1"/>
<rect x="169" y="516.7" width="236.5" height="35.2" fill="#ffa500" fill-opacity="0.1"/>
<rect x="405" y="484.7" width="40.5" height="36.8" fill="#ffa500" fill-opacity="0.1"/>
<rect x="445" y="494.3" width="708.3" height="43.8" fill="#ffa500" fill-opacity="0.1"/>
<rect x="1152.9" y="527.4" width="150.6" height="42.2" fill="#ffa500" fill-opacity="0.1"/>
<line x1="162" y1="499.3" x2="169" y2="499.3" stroke="#ffa500" stroke-width="2.78"/>
<line x1="169" y1="534.3" x2="405.5" y2="534.3" stroke="#ffa500" stroke-width="2.78"/>
<line x1="405" y1="503.1" x2="445.5" y2="503.1" stroke="#ffa500" stroke-width="2.78"/>
<line x1="445" y1="516.2" x2="1153.3" y2="516.2" stroke="#ffa500" stroke-width="2.78"/>
<line x1="1152.9" y1="548.5" x2="1303.5" y2="548.5" stroke="#ffa500" stroke-width="2.78"/>
<line x1="105" y1="522.9" x2="1360.7" y2="522.9" stroke="#ff0000" stroke-width="2.08"/>
</g>
<line x1="162" y1="666.5" x2="162" y2="380.5" stroke="#800080" stroke-width="2.08" stroke-dasharray="2.08 3.44" stroke-dashoffset="5.06"/>
<line x1="169" y1="666.5" x2="169" y2="380.5" stroke="#800080" stroke-width="2.08" stroke-dasharray="2.08 3.44" stroke-dashoffset="5.06"/>
<line x1="405" y1="666.5" x2="405" y2="380.5" stroke="#800080" stroke-width="2.08" stroke-dasharray="2.08 3.44" stroke-dashoffset="5.06"/>
<line x1="445" y1="666.5" x2="445" y2="380.5" stroke="#800080" stroke-width="2.08" stroke-dasharray="2.08 3.44" stroke-dashoffset="5.06"/>
<line x1="1152.9" y1="666.5" x2="1152.9" y2="380.5" stroke="#800080" stroke-width="2.08" stroke-dasharray="2.08 3.44" stroke-dashoffset="5.06"/>
<line x1="1303" y1="666.5" x2="1303" y2="380.5" stroke="#800080" stroke-width="2.08" stroke-dasharray="2.08 3.44" stroke-dashoffset="5.06"/>
<text x="143.21" y="657" font-size="14.72" textLength="43.45" lengthAdjust="spacingAndGlyphs">60045</text>
<text x="264.99" y="637.1" font-size="14.72" textLength="43.47" lengthAdjust="spacingAndGlyphs">50668</text>
<text x="403.05" y="617.3" font-size="14.72" textLength="43.55" lengthAdjust="spacingAndGlyphs">50666</text>
<text x="777.12" y="657" font-size="14.72" textLength="43.55" lengthAdjust="spacingAndGlyphs">20517</text>
<text x="1206.11" y="637.1" font-size="14.72" textLength="43.72" lengthAdjust="spacingAndGlyphs">23729</text>
<rect x="105.5" y="380.5" width="1380" height="286" fill="none" stroke="#000" stroke-width="1.11"/>
<line x1="162.5" y1="666.5" x2="162.5" y2="671.36" stroke="#000" stroke-width="1.11"/>
<text x="159.33" y="686.7" font-size="14.72" textLength="8.14" lengthAdjust="spacingAndGlyphs">0</text>
<line x1="448.5" y1="666.5" x2="448.5" y2="671.36" stroke="#000" stroke-width="1.11"/>
<text x="430.31" y="686.7" font-size="14.72" textLength="34.8" lengthAdjust="spacingAndGlyphs">2000</text>
<line x1="733.5" y1="666.5" x2="733.5" y2="671.36" stroke="#000" stroke-width="1.11"/>
<text x="715.97" y="686.7" font-size="14.72" textLength="34.71" lengthAdjust="spacingAndGlyphs">4000</text>
<line x1="1018.5" y1="666.5" x2="1018.5" y2="671.36" stroke="#000" stroke-width="1.11"/>
<text x="1001.38" y="686.7" font-size="14.72" textLength="34.86" lengthAdjust="spacingAndGlyphs">6000</text>
<line x1="1304.5" y1="666.5" x2="1304.5" y2="671.36" stroke="#000" stroke-width="1.11"/>
<text x="1286.38" y="686.7" font-size="14.72" textLength="34.77" lengthAdjust="spacingAndGlyphs">8000</text>
<line x1="100.64" y1="643.3" x2="105.5" y2="643.3" stroke="#000" stroke-width="1.11"/>
<text x="64.37" y="648.8" font-size="14.72" textLength="30.31" lengthAdjust="spacingAndGlyphs">7.08</text>
<line x1="100.64" y1="609.19" x2="105.5" y2="609.19" stroke="#000" stroke-width="1.11"/>
<text x="64.39" y="614.69" font-size="14.72" textLength="30.35" lengthAdjust="spacingAndGlyphs">7.09</text>
<line x1="100.64" y1="575.08" x2="105.5" y2="575.08" stroke="#000" stroke-width="1.11"/>
<text x="64.34" y="580.58" font-size="14.72" textLength="30.27" lengthAdjust="spacingAndGlyphs">7.10</text>
<line x1="100.64" y1="540.97" x2="105.5" y2="540.97" stroke="#000" stroke-width="1.11"/>
<text x="64.7" y="546.47" font-size="14.72" textLength="30.05" lengthAdjust="spacingAndGlyphs">7.11</text>
<line x1="100.64" y1="506.86" x2="105.5" y2="506.86" stroke="#000" stroke-width="1.11"/>
<text x="64.82" y="512.36" font-size="14.72" textLength="29.96" lengthAdjust="spacingAndGlyphs">7.12</text>
<line x1="100.64" y1="472.75" x2="105.5" y2="472.75" stroke="#000" stroke-width="1.11"/>
<text x="64.53" y="478.25" font-size="14.72" textLength="30.15" lengthAdjust="spacingAndGlyphs">7.13</text>
<line x1="100.64" y1="438.64" x2="105.5" y2="438.64" stroke="#000" stroke-width="1.11"/>
<text x="64.2" y="444.14" font-size="14.72" textLength="30.26" lengthAdjust="spacingAndGlyphs">7.14</text>
<line x1="100.64" y1="404.53" x2="105.5" y2="404.53" stroke="#000" stroke-width="1.11"/>
<text x="64.64" y="410.03" font-size="14.72" textLength="30.01" lengthAdjust="spacingAndGlyphs">7.15</text>
<rect x="1365.4" y="387.6" width="113.2" height="47.6" rx="4" ry="4" fill="#fff" fill-opacity="0.8" stroke="#d6d6d6" stroke-width="1.1"/>
<line x1="1369.1" y1="399.5" x2="1399.9" y2="399.5" stroke="#ffa500" stroke-width="2.78"/>
<line x1="1369.1" y1="422" x2="1399.9" y2="422" stroke="#ff0000" stroke-width="2.08"/>
<text x="1409.96" y="403.4" font-size="14.72" textLength="30.38" lengthAdjust="spacingAndGlyphs">mag</text>
<text x="1439.96" y="405.5" font-size="10.31" textLength="30.85" lengthAdjust="spacingAndGlyphs" font-style="italic">OBSID</text>
<text x="1408.66" y="427" font-size="14.72" textLength="30.38" lengthAdjust="spacingAndGlyphs">mag</text>
<rect x="1348.5" y="613.5" width="130" height="46" rx="4" ry="4" fill="#fff" fill-opacity="0.8" stroke="#d6d6d6" stroke-width="1.1"/>
<path clip-path="url(#cm)" d="M1367.5 626.5h0" stroke="#ffa500" stroke-width="3.6" stroke-linecap="round" fill="none"/>
<path clip-path="url(#cm)" d="M1367.5 647.5h0" stroke="#000" stroke-width="4.2" stroke-linecap="round" fill="none"/>
<text x="1392.79" y="629.9" font-size="14.72" textLength="79.78" lengthAdjust="spacingAndGlyphs">Highlighted</text>
<text x="1393.43" y="650.8" font-size="14.72" textLength="20.38" lengthAdjust="spacingAndGlyphs">OK</text>
<line x1="105.5" y1="758.5" x2="1485.5" y2="758.5" stroke="#b0b0b0" stroke-width="1.11" stroke-dasharray="1.11 1.83"/>
<line x1="105.5" y1="791.4" x2="1485.5" y2="791.4" stroke="#b0b0b0" stroke-width="1.11" stroke-dasharray="1.11 1.83"/>
<line x1="105.5" y1="823.2" x2="1485.5" y2="823.2" stroke="#b0b0b0" stroke-width="1.11" stroke-dasharray="1.11 1.83"/>
<line x1="105.5" y1="856.2" x2="1485.5" y2="856.2" stroke="#b0b0b0" stroke-width="1.11" stroke-dasharray="1.11 1.83"/>
<line x1="105.5" y1="889.1" x2="1485.5" y2="889.1" stroke="#b0b0b0" stroke-width="1.11" stroke-dasharray="1.11 1.83"/>
<line x1="105.5" y1="921.3" x2="1485.5" y2="921.3" stroke="#b0b0b0" stroke-width="1.11" stroke-dasharray="1.11 1.83"/>
<line x1="105.5" y1="957.4" x2="1485.5" y2="957.4" stroke="#b0b0b0" stroke-width="1.11" stroke-dasharray="1.11 1.83"/>
<line x1="105.5" y1="983.4" x2="1485.5" y2="983.4" stroke="#b0b0b0" stroke-width="1.11" stroke-dasharray="1.11 1.83"/>
<line x1="105.5" y1="1009.5" x2="1485.5" y2="1009.5" stroke="#b0b0b0" stroke-width="1.11" stroke-dasharray="1.11 1.83"/>
<path d="M405 758.5h0M626.2 856.2h0M973.3 856.2h0M1113.3 856.2h0M626.2 889.1h0M973.3 889.1h0M1113.3 889.1h0" stroke="#222" stroke-width="2.8" stroke-linecap="round"/>
<path d="M402.7 959.5L407.3 959.5L405 955.5Z" fill="#ff0000"/>
<path d="M623.9 959.5L628.5 959.5L626.2 955.5Z" fill="#ff0000"/>
<path d="M971 959.5L975.6 959.5L973.3 955.5Z" fill="#ff0000"/>
<path d="M1111 959.5L1115.6 959.5L1113.3 955.5Z" fill="#ff0000"/>
<path clip-path="url(#cb)" d="M162 1007.5h0M162.5 1008.5h0M162.5 1008h0M163 1008h0M163.5 1007.5h0M163.5 1008.5h0M163.5 1008h0M163.5 1008.5h0M163.5 1008.5h0M164 1008.5h0M164 1007.5h0M164.5 1008h0M165 1009h0M165 1009h0M165.5 1008.5h0M166 1008.5h0M166.5 1008h0M166.5 1009h0M166.5 1009h0M167 1008.5h0M167 1008.5h0M167 1008h0M167 1008h0M167.5 1008h0M167.5 1008.5h0M167.5 1008h0M167.5 1007.5h0M167.5 1008h0M168 1008.5h0M168 1008h0M168.5 1009h0M168.5 1008.5h0M169 1008.5h0M169 1006.5h0M170 1008.5h0M170 1008h0M170 1008h0M170.5 1008.5h0M171 1008h0M171 1007.5h0M171 1008.5h0M172 1009h0M172 1008.5h0M172 1008.5h0M172 1008.5h0M172 1008.5h0M172 1007.5h0M172 1007.5h0M172 1008h0M172.5 1007h0M172.5 1008h0M172.5 1007.5h0M173 1008h0M173.5 1008h0M174 1008h0M174.5 1007.5h0M174.5 1008h0M175 1009h0M175.5 1007.5h0M175.5 1007.5h0M176 1008.5h0M176 1008.5h0M176 1008h0M176 1006.5h0M176 1008h0M176 1008h0M176.5 1008.5h0M176.5 1008h0M177 1008h0M177.5 1008.5h0M177.5 1007.5h0M177.5 1008.5h0M177.5 1007.5h0M177.5 1008h0M178 1008h0M178.5 1008h0M178.5 1008.5h0M178.5 1008h0M178.5 1008h0M178.5 1007h0M179 1008.5h0M179 1008h0M179 1007h0M179 1008h0M179.5 1008h0M179.5 1008h0M179.5 1007.5h0M179.5 1007.5h0M180 1008h0M180 1008h0M180 1008h0M180.5 1009h0M180.5 1008h0M181 1008h0M181 1007.5h0M181.5 1008h0M181.5 1008.5h0M182 1007.5h0M182 1009h0M182.5 1008h0M183 1008h0M183 1008h0M183 1008h0M183.5 1007h0M183.5 1008.5h0M184 1007h0M184 1008.5h0M184 1007.5h0M184 1008h0M184 1009h0M184.5 1007.5h0M184.5 1008h0M185 1007.5h0M185.5 1008h0M185.5 1008.5h0M185.5 1009h0M185.5 1007h0M185.5 1008h0M186 1008.5h0M186.5 1008.5h0M187 1007.5h0M187 1008h0M187 1009h0M187.5 1008.5h0M187.5 1009h0M187.5 1007.5h0M187.5 1008h0M187.5 1008h0M188 1007.5h0M188 1008.5h0M188.5 1007.5h0M188.5 1008h0M188.5 1007.5h0M188.5 1007.5h0M189 1008h0M189 1008.5h0M189 1007.5h0M189.5 1007.5h0M189.5 1008.5h0M190 1007.5h0M190 1007h0M190 1008.5h0M190 1008.5h0M190 1007.5h0M190 1008.5h0M190 1008.5h0M190.5 1008h0M190.5 1008h0M190.5 1008.5h0M191 1008h0M191 1008.5h0M191 1008.5h0M191.5 1008.5h0M191.5 1009.5h0M192 1008.5h0M192 1008h0M192.5 1008h0M192.5 1008h0M192.5 1008.5h0M193 1007.5h0M193 1008.5h0M193 1008h0M193.5 1007.5h0M193.5 1008.5h0M193.5 1008.5h0M193.5 1007.5h0M194 1008h0M194 1008h0M194 1008h0M195 1008.5h0M195 1008.5h0M195.5 1008h0M195.5 1008h0M195.5 1008h0M195.5 1008.5h0M196 1008h0M196.5 1008h0M196.5 1008h0M196.5 1008h0M196.5 1008h0M197 1008h0M197 1008.5h0M197 1008.5h0M197 1008.5h0M197.5 1007.5h0M198 1008.5h0M198.5 1008h0M199 1008h0M199 1008h0M199 1008h0M199 1008h0M199 1008h0M199 1006.5h0M199.5 1009h0M199.5 1008.5h0M199.5 1008h0M199.5 1008h0M200 1008h0M200 1007.5h0M200 1008.5h0M200 1007.5h0M200 1009h0M200.5 1009h0M201 1007.5h0M201 1008.5h0M201 1008.5h0M201.5 1008.5h0M201.5 1008.5h0M201.5 1009h0M202.5 1008h0M203 1008h0M203 1008.5h0M203 1008h0M203 1007.5h0M203 1008.5h0M203.5 1007.5h0M203.5 1008h0M203.5 1008.5h0M204 1008.5h0M204 1007h0M204 1008h0M204 1007.5h0M205 1008h0M205 1007.5h0M205.5 1007.5h0M205.5 1008h0M206 1009h0M206.5 1007.5h0M207 1009h0M207 1008.5h0M207 1008.5h0M207.5 1008.5h0M208 1008h0M208 1007h0M208 1007.5h0M208 1008h0M208.5 1008.5h0M208.5 1008.5h0M208.5 1007.5h0M209.5 1007.5h0M209.5 1008.5h0M209.5 1008.5h0M209.5 1008.5h0M210 1008h0M210 1007.5h0M210 1008.5h0M210 1008.5h0M210 1008h0M210 1009h0M210.5 1008h0M210.5 1009h0M211 1008h0M211 1007h0M211.5 1007.5h0M212 1007h0M212 1008h0M212.5 1008.5h0M213 1007.5h0M213 1008.5h0M213 1008h0M213 1008.5h0M213 1008.5h0M213.5 1007.5h0M213.5 1008.5h0M213.5 1008h0M214 1008.5h0M214 1009h0M214.5 1008h0M214.5 1009h0M215 1008h0M215.5 1008.5h0M216 1008h0M216 1007h0M216 1008h0M216.5 1008h0M216.5 1008.5h0M216.5 1007.5h0M216.5 1007.5h0M216.5 1008.5h0M216.5 1008.5h0M217 1008.5h0M217.5 1008.5h0M217.5 1008.5h0M218 1008.5h0M218 1008.5h0M218 1008h0M218 1008.5h0M218 1008h0M218 1007.5h0M218.5 1008h0M219 1008.5h0M219 1008h0M219 1009h0M219 1008.5h0M219 1008.5h0M219.5 1008h0M219.5 1007.5h0M219.5 1008h0M219.5 1008h0M219.5 1009h0M221 1008h0M221 1008h0M221.5 1008h0M221.5 1008h0M221.5 1007.5h0M221.5 1008.5h0M222 1008h0M222 1008h0M222 1009.5h0M222.5 1008h0M222.5 1008.5h0M223 1008h0M223 1008.5h0M223 1009h0M223 1009h0M223 1008.5h0M223.5 1007.5h0M224 1008.5h0M224 1007.5h0M224 1007.5h0M224 1008h0M224.5 1007.5h0M224.5 1008h0M224.5 1008h0M224.5 1008h0M224.5 1008.5h0M225 1008h0M225 1008.5h0M225 1008.5h0M225.5 1008h0M225.5 1008.5h0M225.5 1008h0M226 1008h0M226 1008.5h0M226.5 1006.5h0M226.5 1008.5h0M226.5 1009h0M226.5 1007h0M226.5 1009h0M226.5 1007h0M227.5 1007h0M228 1007h0M228 1007.5h0M228.5 1008h0M228.5 1007.5h0M228.5 1008h0M228.5 1008.5h0M229 1008h0M229 1008h0M229 1008.5h0M229.5 1009h0M229.5 1008h0M229.5 1008.5h0M229.5 1008.5h0M230 1008h0M230 1008h0M230.5 1008.5h0M230.5 1008.5h0M230.5 1007.5h0M230.5 1008h0M231 1008.5h0M231 1008.5h0M231 1008.5h0M231 1009h0M231 1008.5h0M231.5 1007.5h0M231.5 1009h0M232 1008h0M232 1007.5h0M232 1008.5h0M232 1008h0M232 1007.5h0M232 1008.5h0M232.5 1008.5h0M232.5 1008.5h0M232.5 1007.5h0M232.5 1008.5h0M233.5 1008h0M233.5 1008.5h0M234 1007.5h0M234 1007.5h0M234.5 1007h0M235 1008h0M235 1008.5h0M235 1008h0M235.5 1008h0M236 1008.5h0M236.5 1008h0M236.5 1008.5h0M236.5 1008.5h0M237 1008h0M237 1008h0M237.5 1008.5h0M237.5 1008.5h0M237.5 1008.5h0M238 1008.5h0M238 1007.5h0M238 1007h0M238.5 1008.5h0M238.5 1008h0M238.5 1008.5h0M238.5 1007.5h0M238.5 1008h0M239 1007.5h0M239 1008h0M239.5 1008h0M239.5 1008h0M240 1008.5h0M240 1008h0M240 1008h0M240.5 1008.5h0M240.5 1009h0M241 1008.5h0M241.5 1008.5h0M241.5 1008.5h0M241.5 1009h0M241.5 1009h0M242 1008h0M242 1008.5h0M242.5 1008h0M242.5 1009h0M242.5 1007h0M242.5 1008h0M243 1007.5h0M243.5 1008.5h0M243.5 1008h0M244 1008.5h0M244 1008.5h0M244 1008h0M244 1008.5h0M244.5 1008h0M244.5 1007h0M244.5 1008.5h0M244.5 1008h0M245 1008h0M245 1008h0M245.5 1008.5h0M245.5 1008h0M245.5 1007.5h0M246 1008.5h0M246 1009h0M246.5 1007.5h0M247 1007.5h0M247 1007.5h0M247 1008.5h0M247 1008.5h0M247.5 1009h0M247.5 1008h0M248 1008h0M248 1008h0M249 1008.5h0M249 1008h0M249 1007.5h0M249 1008h0M249.5 1008h0M249.5 1008.5h0M250 1008h0M250 1009h0M250 1009h0M250 1007.5h0M250 1008h0M250.5 1007.5h0M250.5 1008h0M250.5 1007.5h0M251 1008h0M251 1008h0M251 1008h0M251 1007.5h0M251 1007h0M251.5 1007.5h0M251.5 1008.5h0M252 1008h0M252.5 1008h0M252.5 1009h0M252.5 1007.5h0M253 1008.5h0M253.5 1008h0M253.5 1008h0M254 1007h0M254 1008h0M254 1008h0M254.5 1008h0M254.5 1007.5h0M254.5 1008h0M254.5 1008.5h0M255 1008h0M255 1008.5h0M255.5 1008.5h0M256 1008h0M256 1008h0M256 1008h0M256 1007.5h0M256.5 1008.5h0M256.5 1008.5h0M256.5 1008.5h0M257 1009h0M257 1008.5h0M257 1008.5h0M257 1008h0M257 1008.5h0M257 1008.5h0M257.5 1008h0M257.5 1007.5h0M258 1007.5h0M258.5 1008.5h0M259 1008.5h0M259.5 1008.5h0M260 1007.5h0M260 1008h0M260.5 1007.5h0M260.5 1007.5h0M261 1008h0M261 1008h0M261.5 1009h0M261.5 1007.5h0M261.5 1008h0M261.5 1008h0M262 1008h0M262 1008.5h0M262.5 1007.5h0M262.5 1007.5h0M262.5 1008h0M262.5 1008.5h0M262.5 1007.5h0M263 1008.5h0M263 1007.5h0M263 1008h0M263 1008h0M263 1009h0M263.5 1008.5h0M264 1008.5h0M264.5 1007.5h0M264.5 1007.5h0M265 1008h0M265 1009h0M266 1008.5h0M266 1008h0M266 1008h0M266.5 1007.5h0M266.5 1008h0M266.5 1008.5h0M266.5 1008.5h0M266.5 1008.5h0M267 1008h0M267 1008.5h0M267.5 1008h0M268 1008.5h0M268 1008h0M268 1008.5h0M268.5 1008.5h0M268.5 1008h0M268.5 1008.5h0M268.5 1007.5h0M268.5 1008.5h0M269 1008h0M269 1008h0M269.5 1008h0M269.5 1008h0M270 1007.5h0M270 1007.5h0M270 1007.5h0M270 1008h0M270 1008h0M270.5 1008h0M270.5 1007.5h0M271.5 1008h0M271.5 1008.5h0M272.5 1007.5h0M272.5 1007.5h0M272.5 1007h0M273 1008h0M273.5 1008.5h0M273.5 1008h0M273.5 1007.5h0M273.5 1008h0M274 1008h0M274 1008h0M274.5 1007.5h0M274.5 1008h0M274.5 1009h0M275 1008h0M275.5 1009h0M276.5 1007.5h0M276.5 1008h0M277 1008.5h0M277.5 1008.5h0M277.5 1008h0M278 1008h0M278.5 1008h0M278.5 1007.5h0M278.5 1007h0M279 1007.5h0M279.5 1009h0M279.5 1008.5h0M279.5 1009h0M279.5 1008.5h0M279.5 1007.5h0M280 1007.5h0M280 1008h0M280 1007.5h0M280 1007.5h0M280 1007.5h0M280.5 1008h0M280.5 1007h0M281 1008.5h0M281 1008h0M281.5 1008.5h0M281.5 1009h0M281.5 1008h0M282 1008.5h0M282.5 1008.5h0M282.5 1008h0M282.5 1008h0M283 1008.5h0M283 1008.5h0M283.5 1008h0M284 1008h0M284 1008h0M284 1008.5h0M284.5 1008.5h0M285 1008h0M285 1008h0M285.5 1008h0M286 1008h0M286 1008h0M286 1007.5h0M286.5 1007.5h0M286.5 1008h0M286.5 1008h0M287 1008h0M287 1009h0M287 1008h0M287 1008.5h0M287 1008h0M287 1008h0M287.5 1008.5h0M287.5 1008.5h0M288 1008h0M288 1008.5h0M288 1009.5h0M288 1007.5h0M288.5 1008h0M288.5 1008.5h0M289 1008h0M289 1007.5h0M289 1008h0M289 1008h0M289 1008h0M289 1008h0M289 1009h0M289 1008h0M289.5 1008h0M289.5 1008.5h0M289.5 1008.5h0M290 1007.5h0M290 1008h0M290 1007.5h0M290 1008.5h0M290 1008.5h0M290.5 1008h0M290.5 1008.5h0M291 1008h0M291.5 1008h0M291.5 1008h0M292.5 1008h0M292.5 1009h0M292.5 1007.5h0M292.5 1008.5h0M292.5 1008h0M293 1008.5h0M293 1007.5h0M293.5 1007.5h0M293.5 1009h0M293.5 1008.5h0M293.5 1008.5h0M293.5 1008h0M293.5 1008.5h0M293.5 1008h0M293.5 1007.5h0M294 1008h0M294 1008h0M294.5 1007.5h0M294.5 1008h0M294.5 1008h0M295 1008.5h0M295 1008.5h0M295 1008.5h0M295 1008.5h0M295 1007.5h0M295 1008.5h0M295.5 1008.5h0M295.5 1008.5h0M295.5 1007.5h0M296 1007h0M296 1008h0M296 1007.5h0M296.5 1008.5h0M296.5 1007.5h0M297 1008.5h0M297 1008h0M297 1007.5h0M297.5 1008h0M297.5 1008h0M297.5 1008.5h0M298 1008.5h0M299 1008.5h0M299 1008.5h0M299.5 1008h0M299.5 1008h0M299.5 1008h0M300 1008h0M300.5 1007.5h0M300.5 1007h0M301 1008.5h0M301.5 1008h0M301.5 1009h0M302 1008h0M302 1008.5h0M302.5 1008h0M302.5 1008.5h0M303 1008h0M303 1008.5h0M303.5 1008.5h0M303.5 1008h0M303.5 1008h0M303.5 1008h0M304 1008h0M304 1008h0M304 1008h0M304 1008h0M304 1008h0M304 1007.5h0M304 1008.5h0M304 1008.5h0M304.5 1007h0M304.5 1007.5h0M305.5 1008h0M305.5 1007h0M305.5 1008.5h0M306 1008h0M306 1008.5h0M306.5 1008.5h0M307 1008h0M307 1008.5h0M307 1008.5h0M307.5 1008h0M307.5 1008h0M307.5 1007.5h0M307.5 1007.5h0M307.5 1008.5h0M307.5 1008.5h0M307.5 1007.5h0M308 1007.5h0M308 1007h0M308.5 1008.5h0M308.5 1008.5h0M309 1009h0M309 1008.5h0M309 1009h0M309.5 1008.5h0M309.5 1008h0M310 1008h0M310.5 1008.5h0M310.5 1006.5h0M310.5 1008.5h0M310.5 1008h0M311 1008.5h0M311 1008h0M311 1008h0M311 1008.5h0M311 1007h0M311 1008.5h0M311.5 1008h0M312 1008h0M312 1008.5h0M312.5 1008h0M312.5 1008.5h0M312.5 1008h0M312.5 1008.5h0M312.5 1007.5h0M312.5 1008h0M312.5 1009h0M312.5 1008h0M313 1008h0M313.5 1007.5h0M313.5 1008h0M313.5 1008h0M313.5 1007.5h0M314 1008h0M314 1008h0M314 1007h0M314.5 1008h0M314.5 1008.5h0M315 1008h0M316 1008h0M316 1008h0M316 1008h0M316 1007.5h0M316.5 1008h0M316.5 1008h0M317 1008h0M317.5 1008.5h0M317.5 1008h0M317.5 1008h0M317.5 1008h0M317.5 1009h0M317.5 1008.5h0M318 1007.5h0M318 1008.5h0M318.5 1008h0M318.5 1008h0M319 1008.5h0M319 1008.5h0M319 1007.5h0M319.5 1008h0M319.5 1008.5h0M319.5 1008h0M320 1008.5h0M320 1008h0M320.5 1008.5h0M320.5 1009h0M320.5 1008h0M320.5 1007.5h0M320.5 1008h0M320.5 1008.5h0M320.5 1008h0M321 1008h0M321 1008h0M321 1007.5h0M321.5 1008h0M322 1008h0M322 1008h0M322.5 1008.5h0M322.5 1008h0M322.5 1008h0M322.5 1008.5h0M322.5 1008.5h0M323.5 1008h0M323.5 1008h0M323.5 1008.5h0M324 1008.5h0M324 1007.5h0M324 1008.5h0M324 1009h0M324 1008.5h0M324.5 1008h0M324.5 1008.5h0M324.5 1008.5h0M324.5 1008h0M325 1008h0M325 1008h0M325.5 1008.5h0M325.5 1007.5h0M325.5 1008.5h0M326 1008h0M326 1008h0M326 1008h0M326 1008.5h0M326.5 1008.5h0M326.5 1008.5h0M326.5 1007.5h0M326.5 1008h0M326.5 1008h0M326.5 1009h0M327 1008h0M327.5 1008h0M328 1007.5h0M328 1008h0M328.5 1008.5h0M328.5 1007.5h0M328.5 1008.5h0M328.5 1008.5h0M329 1008.5h0M329 1008.5h0M329 1009h0M329 1007.5h0M329 1008h0M329 1009h0M329 1007.5h0M329.5 1008h0M329.5 1008h0M330 1007.5h0M330 1007.5h0M331 1008h0M331 1008h0M331.5 1008.5h0M331.5 1008.5h0M331.5 1008h0M331.5 1008h0M332 1008.5h0M332 1008h0M332 1007.5h0M332.5 1008.5h0M333 1007h0M333 1008.5h0M333 1008.5h0M333 1007.5h0M333.5 1007h0M333.5 1007.5h0M333.5 1008h0M333.5 1007.5h0M334 1008.5h0M334 1008.5h0M334 1007.5h0M334.5 1008.5h0M334.5 1007.5h0M335 1008h0M335 1008h0M335 1008.5h0M335.5 1008.5h0M336 1009h0M336 1007.5h0M336 1009.5h0M336.5 1007.5h0M337 1008h0M337.5 1009h0M337.5 1008.5h0M338 1008.5h0M338 1007.5h0M338.5 1007.5h0M338.5 1008h0M338.5 1008h0M338.5 1008h0M339 1008h0M339.5 1007.5h0M339.5 1008h0M340 1007.5h0M340 1008h0M340 1008h0M340 1007.5h0M340 1008h0M340.5 1008.5h0M340.5 1009h0M341.5 1008.5h0M341.5 1008.5h0M342 1008.5h0M342 1007.5h0M342.5 1007.5h0M342.5 1007.5h0M342.5 1008h0M342.5 1008h0M343 1007.5h0M343 1008h0M343 1008.5h0M343.5 1008h0M343.5 1007h0M344 1008h0M344 1008h0M344 1008h0M344 1009h0M344 1008.5h0M344.5 1009h0M344.5 1008h0M344.5 1008.5h0M345 1008h0M345 1008h0M345 1007.5h0M345.5 1008h0M345.5 1007h0M345.5 1008.5h0M345.5 1009.5h0M346 1009h0M346 1007h0M346 1008h0M346.5 1008h0M346.5 1008h0M347 1008h0M347 1008.5h0M347 1008.5h0M347.5 1007.5h0M348 1008.5h0M348 1008h0M349 1009h0M349 1007.5h0M349 1008h0M349.5 1007.5h0M349.5 1008h0M350 1007h0M350 1007.5h0M350 1008h0M350 1008h0M350.5 1007.5h0M350.5 1008h0M350.5 1008h0M351 1007.5h0M351 1008h0M351 1008h0M351 1008h0M351.5 1007.5h0M352 1008h0M352 1008.5h0M352.5 1007.5h0M352.5 1008h0M353 1008h0M353 1008.5h0M353 1008.5h0M353 1008h0M353 1008h0M353.5 1006.5h0M354.5 1008h0M354.5 1007.5h0M354.5 1008h0M354.5 1009h0M355 1009h0M355 1008h0M355 1008h0M355 1008h0M355.5 1008h0M356 1008h0M356 1009h0M356 1007.5h0M356 1008h0M356 1008h0M356 1008.5h0M356.5 1009h0M357 1008.5h0M357 1008h0M357 1008h0M357 1008.5h0M357 1008h0M357.5 1009h0M357.5 1009h0M358 1008.5h0M358 1008.5h0M358 1008h0M358 1009h0M358 1007.5h0M358.5 1008h0M358.5 1009h0M359 1008h0M359 1007.5h0M359.5 1007.5h0M359.5 1008.5h0M360 1008.5h0M360 1008h0M361 1007.5h0M361 1008h0M361 1008h0M361 1008.5h0M361 1009h0M361 1008.5h0M361.5 1008.5h0M361.5 1009h0M362 1009h0M362.5 1007.5h0M362.5 1008.5h0M363 1007.5h0M363 1008h0M363 1008.5h0M363 1007.5h0M363 1008h0M363 1008.5h0M363.5 1008.5h0M363.5 1007.5h0M363.5 1008h0M364 1008h0M364 1007.5h0M364.5 1009h0M364.5 1008h0M364.5 1008h0M365 1008.5h0M365.5 1008h0M365.5 1007.5h0M366 1008h0M366.5 1008.5h0M366.5 1008h0M366.5 1008.5h0M366.5 1008.5h0M366.5 1008.5h0M367 1008h0M367 1008h0M367 1009h0M367 1007.5h0M367.5 1008.5h0M367.5 1008.5h0M368 1008h0M368 1008h0M368 1008.5h0M368 1007.5h0M368 1008h0M369 1008.5h0M369 1006.5h0M369 1008h0M369.5 1009h0M369.5 1008h0M370.5 1008h0M371.5 1007.5h0M371.5 1007.5h0M371.5 1008.5h0M372.5 1008h0M372.5 1008h0M372.5 1008h0M373 1008h0M373 1009h0M373 1008.5h0M373 1009h0M373.5 1007.5h0M373.5 1008.5h0M373.5 1008.5h0M374 1007.5h0M374 1007.5h0M374 1008h0M374 1008.5h0M374.5 1008h0M375 1008h0M375 1008.5h0M375.5 1008h0M375.5 1008h0M375.5 1008h0M376 1008h0M376.5 1008.5h0M376.5 1008h0M376.5 1007h0M377 1008h0M377 1009h0M377 1007h0M377 1008.5h0M377.5 1008h0M377.5 1007.5h0M377.5 1008h0M378 1007.5h0M378 1007.5h0M378 1008.5h0M378.5 1008.5h0M378.5 1007.5h0M379 1008h0M379 1008h0M379 1007.5h0M380 1008.5h0M380 1008h0M380 1008.5h0M380.5 1008.5h0M380.5 1007.5h0M381 1008.5h0M381 1008h0M381 1008.5h0M381.5 1008h0M381.5 1008.5h0M381.5 1008.5h0M381.5 1009h0M381.5 1008.5h0M381.5 1007.5h0M382 1008h0M382 1008.5h0M382.5 1008.5h0M383 1008h0M383 1008h0M384 1008.5h0M384 1008h0M384 1008.5h0M384.5 1007.5h0M384.5 1008.5h0M384.5 1008h0M385.5 1007h0M385.5 1007.5h0M385.5 1008h0M386 1008.5h0M386 1007.5h0M386 1008h0M386 1008.5h0M386.5 1008h0M386.5 1008h0M386.5 1008h0M387 1007.5h0M387.5 1008.5h0M387.5 1008.5h0M387.5 1009h0M387.5 1008.5h0M388 1008.5h0M388 1008h0M388 1008.5h0M388 1007.5h0M388 1008h0M388 1008h0M388.5 1008.5h0M388.5 1007h0M388.5 1008h0M388.5 1008h0M389 1008.5h0M389.5 1008h0M389.5 1008h0M390 1008.5h0M390 1008h0M390 1008h0M390.5 1008.5h0M390.5 1007h0M390.5 1008.5h0M391.5 1008.5h0M391.5 1008h0M391.5 1007.5h0M392 1007.5h0M392 1008h0M392 1008h0M392.5 1008.5h0M392.5 1008h0M393 1009h0M393 1008h0M393 1008.5h0M393 1008h0M393 1008h0M393 1008.5h0M393 1008.5h0M393 1008h0M393 1008.5h0M393.5 1008h0M393.5 1009h0M393.5 1007.5h0M393.5 1008h0M393.5 1008.5h0M394 1008h0M394.5 1008h0M395 1008.5h0M395 1008.5h0M395.5 1008h0M395.5 1008.5h0M396.5 1008h0M396.5 1008h0M396.5 1008.5h0M396.5 1008h0M396.5 1008h0M397 1008.5h0M397 1007.5h0M397.5 1007.5h0M397.5 1008h0M398 1008h0M398.5 1008.5h0M398.5 1008h0M398.5 1007.5h0M398.5 1007.5h0M399 1008h0M399 1008h0M399 1008.5h0M399.5 1007.5h0M399.5 1007.5h0M399.5 1007.5h0M399.5 1008h0M399.5 1008.5h0M400 1007.5h0M400.5 1007.5h0M400.5 1008h0M400.5 1008h0M400.5 1009h0M400.5 1008.5h0M401 1009h0M401 1008h0M401 1008.5h0M401.5 1008.5h0M401.5 1008h0M401.5 1008.5h0M402 1008h0M402 1007h0M402 1008h0M402 1007.5h0M402.5 1008.5h0M402.5 1009h0M403 1008.5h0M403.5 1008.5h0M403.5 1007.5h0M403.5 1008h0M403.5 1008h0M403.5 1009h0M403.5 1008h0M403.5 1008h0M404 1007.5h0M404 1008h0M404.5 1008h0M404.5 1008h0M404.5 1008h0M405 1008.5h0M405.5 1008.5h0M405.5 1007.5h0M406 1007.5h0M406 1008.5h0M406 1008.5h0M406 1007.5h0M406 1008.5h0M406.5 1007.5h0M406.5 1008h0M407 1008.5h0M407 1007.5h0M407.5 1008h0M407.5 1008h0M407.5 1007.5h0M407.5 1008.5h0M407.5 1007.5h0M407.5 1008h0M408 1007.5h0M408 1008.5h0M409 1008.5h0M409 1008.5h0M409 1008h0M409 1008h0M409.5 1009h0M409.5 1008h0M409.5 1008.5h0M410 1009h0M410 1008.5h0M410 1007.5h0M410 1007.5h0M410 1008h0M411 1008.5h0M411 1008h0M411.5 1008.5h0M412 1008h0M412 1008h0M412 1008h0M412 1008h0M412 1008.5h0M412 1008h0M412.5 1009h0M412.5 1007.5h0M413 1007.5h0M413 1008.5h0M413 1007.5h0M413 1008h0M413.5 1008h0M414 1008h0M414 1008h0M414.5 1007.5h0M414.5 1007.5h0M414.5 1008h0M414.5 1008h0M414.5 1009h0M414.5 1008h0M414.5 1008.5h0M415 1008h0M415.5 1008.5h0M416 1008h0M416.5 1007.5h0M416.5 1008h0M416.5 1008h0M417 1009.5h0M417 1007.5h0M417.5 1008h0M419 1008.5h0M419.5 1008h0M419.5 1008h0M420 1008.5h0M420 1008h0M420 1008h0M420 1007.5h0M420.5 1008h0M420.5 1008.5h0M420.5 1008h0M421 1008.5h0M421 1008h0M421 1008h0M421 1007.5h0M421.5 1007h0M421.5 1008.5h0M421.5 1008h0M422.5 1008.5h0M422.5 1008h0M422.5 1007.5h0M423.5 1007.5h0M423.5 1008h0M423.5 1008h0M424 1008h0M424 1008.5h0M424 1008h0M424 1008.5h0M424.5 1008h0M425 1008h0M425 1007.5h0M425.5 1007h0M425.5 1008.5h0M425.5 1008.5h0M426 1007.5h0M426.5 1007.5h0M426.5 1007.5h0M426.5 1008h0M427 1008h0M427 1008h0M427 1008h0M427.5 1007.5h0M427.5 1008h0M428 1008h0M428.5 1008.5h0M429 1008h0M429.5 1008h0M430 1008h0M430 1009.5h0M430 1008h0M430 1009h0M430.5 1007.5h0M430.5 1008h0M430.5 1007.5h0M430.5 1008.5h0M430.5 1008h0M430.5 1008h0M431 1008.5h0M431 1008.5h0M431 1008h0M431 1008h0M431 1008h0M431 1008.5h0M431.5 1007h0M431.5 1009h0M432 1008h0M432 1007h0M432 1008h0M432.5 1007.5h0M432.5 1008h0M433 1008h0M433 1008.5h0M433 1007.5h0M433 1008.5h0M433.5 1008.5h0M434 1007.5h0M434 1008.5h0M434.5 1008.5h0M434.5 1008h0M434.5 1007h0M434.5 1008h0M436 1008h0M436 1009h0M436.5 1008h0M436.5 1008.5h0M437 1008.5h0M437 1008h0M437 1007.5h0M437 1008h0M437 1008h0M437.5 1008h0M437.5 1008h0M438 1008.5h0M438 1008h0M439 1008.5h0M439 1008h0M439 1008.5h0M439 1008h0M439.5 1007.5h0M439.5 1008.5h0M440 1008.5h0M440 1008.5h0M440 1007.5h0M440 1008.5h0M440.5 1008h0M440.5 1008h0M441.5 1008h0M442 1008h0M442 1008h0M442 1008.5h0M443 1006.5h0M443 1008h0M443.5 1008h0M443.5 1007.5h0M443.5 1008h0M443.5 1008h0M444 1008h0M444 1007h0M444 1008.5h0M444.5 1008h0M444.5 1007.5h0M444.5 1009h0M445 1008h0M445.5 1008.5h0M445.5 1008h0M446 1007h0M446 1008.5h0M446 1007.5h0M446 1008.5h0M447 1008h0M447.5 1007.5h0M447.5 1007h0M447.5 1008h0M448 1007.5h0M448 1008h0M448 1007.5h0M448 1008.5h0M448 1008h0M448.5 1008h0M448.5 1009h0M449 1008.5h0M449 1008h0M449.5 1008.5h0M450 1007.5h0M450 1008h0M450 1008h0M450 1008h0M450 1007.5h0M450.5 1007h0M450.5 1008h0M451 1007.5h0M451 1007h0M451 1008h0M451 1008.5h0M451 1008h0M451.5 1007.5h0M452 1008.5h0M452 1008.5h0M452 1008h0M452.5 1007.5h0M452.5 1008h0M453.5 1008h0M454 1008.5h0M454 1008h0M454 1008.5h0M454 1007.5h0M454 1008h0M454.5 1008h0M454.5 1008h0M455 1008h0M455 1007.5h0M455 1009h0M455 1008h0M456 1008.5h0M456 1007.5h0M456 1008h0M456.5 1008h0M456.5 1009h0M456.5 1008.5h0M457 1009h0M457 1009h0M457.5 1008.5h0M457.5 1008h0M458 1008h0M458.5 1008.5h0M458.5 1008h0M458.5 1008.5h0M459 1008h0M459.5 1007.5h0M459.5 1008h0M460 1007.5h0M460 1008h0M460.5 1008.5h0M460.5 1008h0M460.5 1008.5h0M461 1008h0M461 1008h0M461 1007.5h0M461 1008.5h0M461 1007h0M461 1008h0M461 1008.5h0M461 1007h0M461.5 1007.5h0M462 1007.5h0M462 1008h0M462 1008h0M462.5 1008h0M462.5 1008.5h0M462.5 1009h0M462.5 1007.5h0M462.5 1008h0M463 1008h0M463 1008.5h0M463 1007h0M463 1007.5h0M463 1007.5h0M463.5 1007.5h0M463.5 1008h0M463.5 1008h0M463.5 1007h0M464 1008h0M464 1007.5h0M464 1007.5h0M464.5 1008h0M464.5 1007.5h0M464.5 1008.5h0M464.5 1009h0M465 1008.5h0M465 1007.5h0M465 1008.5h0M465.5 1009h0M466 1008h0M466 1008.5h0M466 1008.5h0M466 1008h0M466.5 1008.5h0M466.5 1008.5h0M466.5 1008h0M466.5 1008h0M467.5 1008h0M467.5 1008h0M467.5 1008.5h0M467.5 1008h0M467.5 1008h0M467.5 1008.5h0M468 1008h0M468 1008.5h0M468.5 1009h0M469 1008h0M469 1008h0M469 1007.5h0M469.5 1009h0M469.5 1008.5h0M470 1008h0M470 1008h0M470 1007.5h0M470 1008.5h0M470.5 1008h0M470.5 1008h0M470.5 1007.5h0M470.5 1009h0M471 1008h0M471 1007h0M471.5 1008h0M471.5 1008h0M472 1008h0M472.5 1007.5h0M473 1008.5h0M473 1008.5h0M473 1008h0M473 1008h0M473.5 1007.5h0M473.5 1008h0M473.5 1008h0M474 1007.5h0M474.5 1008h0M475 1008.5h0M475 1008h0M475.5 1008h0M475.5 1008h0M475.5 1009h0M476 1008.5h0M476 1007.5h0M476.5 1008h0M476.5 1009h0M477 1008h0M477 1009h0M477 1008.5h0M477 1008.5h0M477.5 1008h0M477.5 1008h0M477.5 1008.5h0M478 1008h0M478.5 1008h0M478.5 1008.5h0M478.5 1008h0M479 1008.5h0M479 1008h0M479 1008h0M479 1008.5h0M479 1008.5h0M479.5 1008.5h0M479.5 1008h0M480 1008h0M480.5 1008h0M480.5 1007.5h0M480.5 1008h0M480.5 1008.5h0M481 1008h0M481 1008h0M481 1008.5h0M481.5 1007.5h0M481.5 1008h0M481.5 1008h0M482 1008.5h0M482.5 1007.5h0M482.5 1008h0M482.5 1008h0M482.5 1008h0M482.5 1008h0M483 1009h0M483 1008h0M483 1008h0M483 1007.5h0M483 1007.5h0M483.5 1008h0M483.5 1007.5h0M483.5 1008.5h0M484 1008h0M484 1008h0M484.5 1008h0M485 1007.5h0M485.5 1007.5h0M486 1008h0M486 1008h0M486 1008h0M487 1007.5h0M487 1009h0M487.5 1008h0M487.5 1008.5h0M487.5 1009h0M487.5 1007.5h0M487.5 1008.5h0M488 1008h0M488 1008h0M488 1007.5h0M488 1007.5h0M488.5 1008h0M489 1008h0M489.5 1009h0M489.5 1008h0M490 1008h0M490 1008h0M490.5 1007.5h0M490.5 1008h0M490.5 1008h0M490.5 1009h0M491 1008.5h0M491 1006.5h0M491 1007.5h0M491.5 1008h0M492 1008h0M492 1009h0M492 1008.5h0M492 1008h0M492 1008h0M492 1007.5h0M492.5 1008h0M493 1007h0M493.5 1008h0M494 1008h0M494 1009h0M494 1007.5h0M494 1008.5h0M494 1008h0M494.5 1008.5h0M494.5 1008h0M494.5 1008.5h0M494.5 1008.5h0M495.5 1008.5h0M495.5 1007.5h0M495.5 1008h0M496 1008h0M496 1008h0M496 1008h0M496.5 1008h0M496.5 1008h0M496.5 1007.5h0M496.5 1008h0M497 1007.5h0M497 1008h0M497.5 1008.5h0M497.5 1007.5h0M497.5 1008h0M497.5 1008h0M497.5 1008h0M498 1008h0M498 1008h0M498.5 1008.5h0M498.5 1007.5h0M499 1008h0M499 1008.5h0M499.5 1008h0M500 1007.5h0M500 1008.5h0M500.5 1008.5h0M500.5 1008.5h0M501 1008h0M501.5 1008h0M501.5 1009h0M501.5 1008.5h0M502 1008.5h0M502 1008h0M502 1008h0M502 1007.5h0M502.5 1007.5h0M503 1008h0M503 1008h0M503.5 1008.5h0M503.5 1008h0M503.5 1009h0M504 1007.5h0M504 1008.5h0M504 1008h0M504 1008.5h0M504.5 1007.5h0M504.5 1009h0M504.5 1008.5h0M505 1007.5h0M505.5 1008.5h0M505.5 1008h0M505.5 1007h0M506 1008h0M506 1008h0M506 1007.5h0M506.5 1008h0M506.5 1008h0M506.5 1007.5h0M507.5 1007.5h0M507.5 1008h0M507.5 1008.5h0M508 1008h0M508 1008.5h0M508 1008h0M508 1008.5h0M508 1008.5h0M508 1008h0M508 1008.5h0M508.5 1008h0M508.5 1007.5h0M509 1009h0M509 1009h0M509 1008h0M509 1008.5h0M509.5 1008.5h0M510 1008h0M510 1009h0M510.5 1008h0M510.5 1008h0M510.5 1008h0M510.5 1008h0M510.5 1008h0M510.5 1008h0M511 1007.5h0M511 1008.5h0M511 1007.5h0M511 1008.5h0M511.5 1008.5h0M511.5 1008h0M511.5 1008h0M511.5 1008h0M512 1008h0M512 1009h0M512 1008.5h0M512 1008h0M512 1009h0M512 1008h0M512 1008h0M513 1009h0M513 1008.5h0M513.5 1008.5h0M513.5 1008.5h0M514 1008.5h0M514 1008.5h0M514 1008.5h0M514 1009h0M514.5 1007.5h0M514.5 1007h0M515 1008h0M515 1007.5h0M516 1008h0M516 1007.5h0M516 1008h0M516.5 1008.5h0M516.5 1008h0M516.5 1008h0M517 1008.5h0M517 1008h0M517 1008h0M517.5 1008h0M518 1007.5h0M518 1008.5h0M518 1007h0M518 1008.5h0M518.5 1008.5h0M518.5 1007.5h0M519 1008h0M519 1008.5h0M519 1008h0M519.5 1009h0M519.5 1007.5h0M519.5 1008.5h0M520 1007.5h0M520 1008h0M520 1008.5h0M520 1007.5h0M520.5 1008h0M520.5 1007.5h0M520.5 1006.5h0M520.5 1008h0M521 1008h0M521.5 1008h0M522.5 1008h0M522.5 1007.5h0M523.5 1007h0M523.5 1008.5h0M523.5 1009h0M524 1008.5h0M524 1008h0M524 1007.5h0M524.5 1008h0M524.5 1008h0M525 1007.5h0M525 1008h0M525 1008.5h0M525 1008h0M525 1008h0M525.5 1008h0M526 1008h0M526 1008h0M526 1008h0M526 1008h0M526 1008h0M526.5 1008.5h0M526.5 1008.5h0M526.5 1007h0M526.5 1007.5h0M527 1008.5h0M527 1008.5h0M528 1008.5h0M528 1007.5h0M528 1008h0M528.5 1008.5h0M528.5 1008.5h0M528.5 1008h0M528.5 1008h0M528.5 1008.5h0M529 1008h0M529 1008.5h0M530 1007h0M530.5 1008h0M531 1008h0M531 1007.5h0M531 1008h0M531.5 1008.5h0M531.5 1007.5h0M532 1008.5h0M532 1009h0M532.5 1007.5h0M532.5 1007h0M532.5 1008.5h0M532.5 1008h0M533 1008h0M533 1008h0M533 1008.5h0M533.5 1008h0M533.5 1008.5h0M533.5 1008.5h0M534 1008h0M534 1008.5h0M534 1008h0M534 1008h0M534 1009.5h0M534 1007h0M534.5 1007.5h0M534.5 1007.5h0M535.5 1008h0M535.5 1008h0M535.5 1008h0M535.5 1009h0M535.5 1008h0M535.5 1007.5h0M536 1008h0M536.5 1008h0M536.5 1008h0M536.5 1008.5h0M536.5 1008h0M537 1008.5h0M537.5 1007.5h0M537.5 1008.5h0M538 1008h0M538 1008h0M538 1007.5h0M538 1008h0M538.5 1007h0M539 1008.5h0M539.5 1008.5h0M539.5 1008.5h0M539.5 1009.5h0M540 1008.5h0M540 1007h0M540 1008.5h0M540 1008h0M540 1008h0M540.5 1008h0M540.5 1008.5h0M541 1007h0M541 1007.5h0M541 1008.5h0M541.5 1008h0M541.5 1008.5h0M542 1008h0M542 1008h0M542 1008.5h0M542.5 1008h0M543 1007.5h0M543 1008.5h0M543 1007.5h0M543.5 1008.5h0M543.5 1008h0M543.5 1008.5h0M543.5 1008.5h0M543.5 1007.5h0M544 1008.5h0M544 1008h0M544.5 1008h0M544.5 1008h0M544.5 1008h0M544.5 1008h0M544.5 1008h0M544.5 1008h0M545 1008.5h0M545 1008h0M545 1007.5h0M545.5 1008.5h0M545.5 1008.5h0M545.5 1007.5h0M546 1008h0M546 1008h0M546.5 1008h0M546.5 1008h0M546.5 1008.5h0M546.5 1008h0M547 1007h0M547 1008h0M547 1008.5h0M547 1008.5h0M547.5 1008.5h0M547.5 1008.5h0M547.5 1008.5h0M548 1008.5h0M548 1008h0M548 1008h0M548.5 1008.5h0M548.5 1008.5h0M548.5 1007.5h0M548.5 1007.5h0M548.5 1008.5h0M549 1008h0M549 1007.5h0M549 1008.5h0M549 1008.5h0M549.5 1008.5h0M549.5 1008h0M549.5 1008h0M550 1008h0M550.5 1008h0M551 1008h0M551 1009h0M551.5 1009.5h0M551.5 1008h0M552 1007.5h0M552.5 1008h0M552.5 1008h0M552.5 1008h0M552.5 1007.5h0M552.5 1008h0M553 1008h0M553 1008h0M553 1007.5h0M553 1008h0M553.5 1007.5h0M553.5 1007.5h0M553.5 1008h0M553.5 1008h0M554 1008h0M554 1008h0M554 1008h0M554 1008h0M554.5 1008h0M554.5 1008h0M555 1009h0M555 1008.5h0M555 1008h0M555 1007.5h0M555.5 1008.5h0M555.5 1008h0M556.5 1008.5h0M557 1008.5h0M557 1007.5h0M557.5 1008h0M557.5 1008h0M557.5 1008.5h0M558 1008h0M558 1008h0M558.5 1008h0M558.5 1008h0M558.5 1008h0M558.5 1008h0M559 1008h0M559 1008h0M559 1008.5h0M559.5 1008.5h0M559.5 1008h0M559.5 1008h0M559.5 1008.5h0M560 1008.5h0M560.5 1008.5h0M560.5 1008h0M561 1008h0M561 1008.5h0M561.5 1008h0M561.5 1008.5h0M561.5 1007.5h0M561.5 1008.5h0M561.5 1008h0M562 1007.5h0M562.5 1008h0M563 1007.5h0M563 1008h0M563 1008h0M564 1009.5h0M564 1007.5h0M564 1008.5h0M564 1008h0M564 1008.5h0M564.5 1008h0M564.5 1007.5h0M565 1008.5h0M565 1008.5h0M565.5 1007.5h0M565.5 1008h0M565.5 1008h0M566 1007.5h0M566.5 1008h0M566.5 1008.5h0M566.5 1008h0M566.5 1008.5h0M566.5 1009h0M567 1008h0M567 1008.5h0M567 1009h0M567.5 1007h0M567.5 1008h0M568 1008.5h0M568 1008.5h0M568 1008h0M568.5 1008.5h0M568.5 1008.5h0M568.5 1007.5h0M568.5 1008.5h0M568.5 1008h0M569 1008h0M569 1007.5h0M569.5 1008.5h0M569.5 1008h0M570 1007.5h0M570 1008h0M570 1008.5h0M570 1009h0M571 1007.5h0M571 1008.5h0M572 1008h0M572.5 1008h0M572.5 1008h0M573 1009h0M573.5 1008.5h0M573.5 1007.5h0M573.5 1008h0M573.5 1008.5h0M574 1008.5h0M574 1008h0M574 1008h0M574 1008h0M574 1008.5h0M574 1007.5h0M575 1008.5h0M575 1008.5h0M575 1008h0M575 1007.5h0M576 1008h0M576 1009h0M576.5 1008h0M577 1007.5h0M577 1008.5h0M577.5 1008h0M577.5 1008h0M578 1007.5h0M578.5 1008.5h0M579 1008.5h0M579 1007h0M579 1008h0M579.5 1008.5h0M579.5 1007.5h0M579.5 1007h0M580.5 1008h0M580.5 1009h0M581 1008.5h0M581 1009h0M581.5 1008.5h0M581.5 1008h0M582 1008h0M582 1008.5h0M582.5 1007.5h0M582.5 1007h0M582.5 1008h0M583 1008h0M583 1008h0M583 1007.5h0M583.5 1007.5h0M583.5 1009h0M583.5 1008h0M583.5 1008h0M583.5 1008h0M584 1008h0M584 1008h0M584 1008.5h0M584.5 1008.5h0M584.5 1008h0M584.5 1008.5h0M584.5 1008h0M584.5 1008h0M585 1008.5h0M585 1008h0M585.5 1008h0M585.5 1009h0M586 1008h0M586 1008.5h0M586 1009h0M586 1007.5h0M586.5 1008h0M586.5 1008.5h0M586.5 1008h0M587 1008h0M587 1008h0M587 1008h0M587 1008h0M587 1008.5h0M587 1008h0M587 1009h0M587.5 1008.5h0M587.5 1009h0M588 1008h0M588 1009h0M588 1008h0M588.5 1008.5h0M588.5 1008h0M588.5 1009h0M589 1008h0M589 1008h0M589.5 1008.5h0M589.5 1007.5h0M589.5 1009h0M590 1008h0M590 1008.5h0M590 1008.5h0M590 1008.5h0M590.5 1008h0M590.5 1007.5h0M590.5 1007.5h0M590.5 1007.5h0M590.5 1008h0M590.5 1008h0M591 1008.5h0M591 1007.5h0M591 1007.5h0M591 1008h0M591 1009h0M591 1007.5h0M591.5 1008h0M591.5 1008h0M591.5 1008.5h0M592 1008.5h0M592 1008h0M592 1008.5h0M592 1008h0M592 1008.5h0M592.5 1009h0M592.5 1007h0M592.5 1007.5h0M592.5 1007.5h0M592.5 1007.5h0M592.5 1008h0M592.5 1008h0M593.5 1009h0M593.5 1008.5h0M593.5 1008h0M593.5 1008h0M593.5 1008.5h0M594 1008.5h0M594 1008h0M594 1008.5h0M594 1008h0M594.5 1008h0M595 1008h0M595 1008h0M595 1008h0M595.5 1008h0M595.5 1008h0M595.5 1007.5h0M596 1009h0M596 1009h0M596 1009h0M596 1008.5h0M596.5 1008h0M596.5 1007.5h0M596.5 1007.5h0M597 1007.5h0M597 1008h0M597 1007.5h0M597.5 1008h0M598 1008h0M598 1008h0M598 1008h0M598.5 1008h0M599 1008.5h0M599 1008h0M599 1009h0M599 1007.5h0M599 1008h0M599 1008h0M599 1008h0M599.5 1008h0M599.5 1008.5h0M600 1008h0M600 1009h0M600.5 1007.5h0M600.5 1008h0M601 1008h0M601 1007.5h0M601.5 1007.5h0M601.5 1008h0M602 1008.5h0M602 1008.5h0M602.5 1008h0M602.5 1008h0M603 1008h0M603 1008h0M603 1008.5h0M603.5 1008.5h0M603.5 1008.5h0M603.5 1008h0M604 1008.5h0M604 1008.5h0M604 1007.5h0M604 1008h0M604.5 1008h0M604.5 1008h0M604.5 1007.5h0M605 1007.5h0M605 1008h0M605 1008h0M606 1008h0M606.5 1007.5h0M606.5 1008.5h0M606.5 1008.5h0M607 1007.5h0M607 1008h0M607 1008h0M607.5 1008h0M607.5 1008.5h0M608 1008h0M608 1008h0M608 1007.5h0M608 1008.5h0M608 1009h0M608.5 1007h0M608.5 1008.5h0M608.5 1008h0M608.5 1007.5h0M608.5 1009h0M609 1008.5h0M609.5 1007.5h0M609.5 1007.5h0M609.5 1008h0M610 1007.5h0M610.5 1008h0M610.5 1007.5h0M610.5 1008h0M611 1008.5h0M611 1008.5h0M611.5 1008.5h0M612 1008h0M612 1008.5h0M612 1008h0M612.5 1007.5h0M612.5 1008.5h0M613 1008h0M613 1007.5h0M613 1007.5h0M613 1008.5h0M613 1007.5h0M613.5 1007.5h0M613.5 1008h0M614 1008.5h0M614 1008h0M614.5 1007.5h0M614.5 1008.5h0M614.5 1008h0M615 1007.5h0M615 1008.5h0M615 1008h0M615.5 1007.5h0M615.5 1007h0M616 1008h0M616 1008h0M616 1008h0M616.5 1008h0M616.5 1007.5h0M616.5 1008.5h0M616.5 1008h0M616.5 1007.5h0M617 1008.5h0M617.5 1008h0M617.5 1008h0M617.5 1008h0M617.5 1007.5h0M618 1007.5h0M618 1008h0M618.5 1007.5h0M619 1008.5h0M619 1008h0M619 1008.5h0M619.5 1009h0M619.5 1008.5h0M620 1009h0M620 1007.5h0M620 1009h0M620 1008h0M620.5 1008h0M620.5 1008h0M621 1008h0M621.5 1008h0M621.5 1008h0M621.5 1009h0M622 1007h0M622 1007.5h0M622 1007.5h0M622.5 1008h0M622.5 1008h0M623 1008.5h0M623 1009h0M623 1008h0M623 1007.5h0M623.5 1008.5h0M623.5 1009h0M623.5 1009h0M624 1008h0M624 1008h0M624 1008h0M624.5 1008.5h0M624.5 1008h0M625 1008h0M625 1009h0M625.5 1009h0M625.5 1008h0M625.5 1008h0M625.5 1008h0M626 1007.5h0M626 1007.5h0M626 1008h0M626.5 1008h0M626.5 1008h0M626.5 1008h0M627.5 1007.5h0M627.5 1008h0M627.5 1007h0M628 1008.5h0M628 1008h0M628.5 1008.5h0M628.5 1008h0M628.5 1008h0M628.5 1007.5h0M628.5 1009h0M629 1008h0M629 1008.5h0M629 1008h0M629 1008.5h0M629.5 1007.5h0M629.5 1008h0M629.5 1008h0M629.5 1007.5h0M629.5 1008.5h0M630 1008.5h0M630 1008.5h0M630 1007.5h0M630.5 1008h0M630.5 1008h0M630.5 1008.5h0M630.5 1007.5h0M631 1008h0M631 1008.5h0M631.5 1008h0M632 1008h0M632 1007.5h0M632.5 1008h0M632.5 1008.5h0M632.5 1008.5h0M632.5 1007.5h0M633 1008.5h0M633 1008h0M634 1007.5h0M634 1009h0M634.5 1008.5h0M634.5 1007.5h0M635 1007.5h0M636 1008h0M636 1007.5h0M636 1008h0M636 1008.5h0M636 1007.5h0M636 1008h0M636.5 1008.5h0M637 1008h0M637 1008h0M637 1008.5h0M637 1008.5h0M637 1008h0M637 1008.5h0M637.5 1008h0M637.5 1008h0M637.5 1008h0M638 1008h0M638 1007h0M638 1008.5h0M638 1008.5h0M638 1008h0M638.5 1008.5h0M638.5 1008h0M638.5 1008h0M638.5 1008.5h0M639 1007h0M639 1008h0M639 1008h0M639.5 1008h0M639.5 1008h0M639.5 1007.5h0M640 1008h0M640 1008.5h0M640.5 1008.5h0M641 1008.5h0M641 1008.5h0M641.5 1008.5h0M641.5 1009h0M641.5 1008h0M641.5 1007.5h0M642 1008h0M643 1008h0M643 1008.5h0M643 1008.5h0M643.5 1008h0M643.5 1008h0M643.5 1008h0M643.5 1008h0M643.5 1008h0M644 1007h0M644 1008h0M644 1008.5h0M644 1008h0M644 1008.5h0M645 1008.5h0M645 1008.5h0M645 1007.5h0M645.5 1008.5h0M645.5 1008h0M645.5 1008h0M646 1007h0M646.5 1007.5h0M647 1008h0M647 1007.5h0M647 1008.5h0M647 1007.5h0M647.5 1008.5h0M647.5 1008h0M647.5 1009.5h0M648 1008h0M648.5 1008.5h0M648.5 1008h0M648.5 1007.5h0M649 1008h0M649 1008.5h0M649.5 1008h0M649.5 1008.5h0M649.5 1008.5h0M650 1008h0M650 1008h0M650 1008h0M650.5 1008h0M650.5 1008h0M650.5 1008.5h0M651 1008h0M651 1007h0M651 1008.5h0M651.5 1008h0M651.5 1008.5h0M651.5 1007.5h0M651.5 1008.5h0M652 1008h0M652 1008h0M653 1008h0M653 1008h0M653 1007.5h0M653 1008.5h0M653.5 1008.5h0M653.5 1008h0M654 1007.5h0M654.5 1008.5h0M655 1008h0M655.5 1009h0M655.5 1008h0M655.5 1008h0M655.5 1008.5h0M655.5 1007h0M655.5 1008h0M655.5 1008h0M656 1007h0M656.5 1007.5h0M656.5 1008h0M657 1008h0M657 1009h0M657 1008.5h0M657.5 1007.5h0M657.5 1008.5h0M657.5 1008.5h0M657.5 1008h0M658 1007.5h0M658 1009h0M658 1009h0M658 1008h0M658 1007.5h0M658 1005.5h0M658.5 1007.5h0M658.5 1008.5h0M659 1007.5h0M659 1008.5h0M659 1008h0M659 1008h0M659.5 1008.5h0M659.5 1009h0M659.5 1008.5h0M660 1008h0M660 1008.5h0M660 1008h0M660 1008h0M660 1008h0M660.5 1007.5h0M661 1008h0M661 1007.5h0M661 1008.5h0M661 1008h0M661.5 1007.5h0M661.5 1008.5h0M661.5 1008.5h0M662 1008h0M662 1007.5h0M662 1007.5h0M662.5 1006.5h0M662.5 1009h0M662.5 1008h0M662.5 1008h0M663 1008.5h0M663.5 1007.5h0M663.5 1008.5h0M663.5 1008h0M664 1008h0M664 1007.5h0M664.5 1007.5h0M665 1008h0M665 1007.5h0M665.5 1008h0M665.5 1009h0M665.5 1008h0M665.5 1008h0M666 1008.5h0M666 1008h0M666 1008.5h0M666.5 1008.5h0M666.5 1008h0M667 1008h0M667 1008h0M667.5 1007.5h0M667.5 1007.5h0M667.5 1008h0M668 1007.5h0M668 1008h0M668.5 1008.5h0M668.5 1008h0M668.5 1008.5h0M669 1009h0M669 1008h0M669 1008.5h0M669.5 1007.5h0M670 1007.5h0M670 1008h0M670 1008h0M670 1007.5h0M670.5 1008.5h0M670.5 1008.5h0M671 1007.5h0M671 1008h0M671 1008h0M671 1007.5h0M671 1008h0M671 1007.5h0M671.5 1007.5h0M671.5 1008.5h0M671.5 1008h0M671.5 1008h0M672 1008h0M672 1008h0M672 1009h0M672 1008.5h0M672 1008.5h0M672 1008.5h0M672.5 1009h0M673 1007h0M673 1008.5h0M673 1008h0M673 1008h0M673.5 1008.5h0M674 1008.5h0M674 1006h0M674 1008h0M674.5 1008h0M674.5 1008.5h0M674.5 1007h0M674.5 1008.5h0M675 1008h0M675 1008.5h0M675.5 1008.5h0M675.5 1006h0M675.5 1008.5h0M675.5 1008h0M676 1008h0M676 1008.5h0M676 1008h0M676.5 1009h0M677 1008.5h0M677 1007.5h0M677.5 1008.5h0M678 1008h0M678 1008h0M678.5 1008h0M678.5 1008.5h0M678.5 1007.5h0M678.5 1008.5h0M679.5 1007.5h0M679.5 1008h0M679.5 1007.5h0M680 1007.5h0M680 1008h0M680 1007.5h0M680.5 1008.5h0M680.5 1007.5h0M681 1009h0M681 1008.5h0M681 1008h0M681 1008.5h0M681 1008h0M681.5 1009h0M682 1008.5h0M682 1008h0M682 1008.5h0M682.5 1008h0M683 1008h0M683.5 1008h0M684 1008h0M684 1008.5h0M684 1008h0M684 1008.5h0M685.5 1008h0M685.5 1008h0M686 1008h0M686 1008.5h0M686.5 1009h0M687 1008h0M687.5 1008.5h0M687.5 1007.5h0M687.5 1007.5h0M687.5 1008.5h0M688.5 1007.5h0M689 1009.5h0M689 1008.5h0M689 1009h0M689 1008h0M689 1007.5h0M689.5 1007.5h0M689.5 1007.5h0M689.5 1008.5h0M689.5 1007.5h0M689.5 1007.5h0M690 1009h0M690.5 1007.5h0M690.5 1008h0M690.5 1008.5h0M691 1009h0M691 1007.5h0M691 1007h0M691 1008h0M691.5 1008h0M691.5 1008h0M691.5 1008h0M692 1007.5h0M692 1008.5h0M692 1008h0M692 1008h0M693 1008h0M693 1009h0M693.5 1008h0M693.5 1009.5h0M694 1008h0M694.5 1008.5h0M694.5 1007h0M695 1008h0M695 1008h0M695 1008h0M695 1008h0M695 1008h0M695.5 1007.5h0M695.5 1008h0M695.5 1008h0M695.5 1008.5h0M696 1007.5h0M696.5 1008h0M697 1008h0M697.5 1008.5h0M697.5 1009h0M698 1008h0M698 1008.5h0M698 1008h0M698 1008.5h0M698.5 1008h0M699 1007.5h0M699 1008.5h0M699 1009h0M699 1008.5h0M699.5 1008h0M699.5 1008.5h0M699.5 1009h0M699.5 1008h0M699.5 1008.5h0M699.5 1008h0M700 1007h0M700 1008h0M700 1008.5h0M700.5 1008.5h0M700.5 1008h0M701 1007.5h0M701 1008h0M701 1008h0M701 1008.5h0M701 1009h0M701.5 1008h0M701.5 1008.5h0M701.5 1008.5h0M702.5 1009.5h0M702.5 1008.5h0M703 1009.5h0M703 1007.5h0M703 1007.5h0M703.5 1008.5h0M703.5 1008h0M703.5 1008.5h0M703.5 1008.5h0M704 1008.5h0M704 1008h0M704 1008h0M704.5 1008.5h0M704.5 1008h0M704.5 1008h0M705.5 1008.5h0M705.5 1008h0M705.5 1008h0M705.5 1008.5h0M706.5 1008.5h0M706.5 1007.5h0M706.5 1008h0M706.5 1008h0M706.5 1008.5h0M707 1009h0M707.5 1008.5h0M707.5 1008h0M707.5 1008h0M708 1008.5h0M708 1008h0M708 1008.5h0M708 1008.5h0M708.5 1008.5h0M708.5 1008h0M708.5 1008h0M708.5 1008h0M709 1008h0M709.5 1008.5h0M709.5 1008h0M710 1008h0M710.5 1008h0M710.5 1007.5h0M710.5 1007.5h0M710.5 1008.5h0M711 1008.5h0M711.5 1008.5h0M711.5 1008.5h0M711.5 1008.5h0M711.5 1008h0M712 1008.5h0M712.5 1008h0M712.5 1008h0M713 1007h0M713 1008h0M713 1008h0M713 1008.5h0M713.5 1008.5h0M713.5 1008.5h0M714 1008h0M714 1008h0M714 1008h0M714 1008h0M714 1008h0M714.5 1008h0M714.5 1007h0M714.5 1007.5h0M714.5 1008.5h0M714.5 1008h0M715 1008.5h0M715 1008h0M715 1007.5h0M715 1008.5h0M715 1008h0M715 1008.5h0M715.5 1008h0M716 1008h0M716.5 1008h0M716.5 1008h0M716.5 1008h0M716.5 1007.5h0M717 1008.5h0M717 1008.5h0M717 1008.5h0M717.5 1007.5h0M717.5 1008.5h0M717.5 1007.5h0M718 1008h0M718 1008h0M718.5 1008.5h0M718.5 1008h0M719 1008h0M719 1008.5h0M719 1008.5h0M719 1007.5h0M719 1008h0M719.5 1008h0M719.5 1007h0M720 1008.5h0M720.5 1008h0M720.5 1008h0M721 1008h0M721 1007.5h0M721 1008.5h0M721 1008h0M721.5 1007.5h0M721.5 1008.5h0M722 1008h0M722 1008h0M722 1008h0M722.5 1009h0M722.5 1008.5h0M722.5 1008h0M722.5 1008h0M723 1009h0M723 1008h0M724 1007h0M724 1008.5h0M724.5 1008h0M725 1007h0M726 1007.5h0M726 1007.5h0M726 1007h0M726.5 1008h0M726.5 1008h0M727 1009h0M727 1008h0M727 1008h0M727 1008h0M727.5 1008h0M727.5 1008.5h0M728 1008.5h0M728 1007h0M728 1007.5h0M728.5 1008h0M728.5 1009h0M728.5 1008h0M728.5 1008.5h0M728.5 1008h0M728.5 1008h0M728.5 1008h0M729 1008.5h0M729 1008h0M729 1008h0M729 1008.5h0M729.5 1008.5h0M729.5 1008h0M730 1008.5h0M730 1009h0M730.5 1008.5h0M730.5 1008h0M730.5 1008h0M730.5 1008h0M730.5 1008h0M731 1007.5h0M731 1007.5h0M731 1008h0M731.5 1007h0M731.5 1009.5h0M731.5 1008.5h0M732 1008h0M732 1008h0M732.5 1008.5h0M732.5 1007.5h0M733 1007.5h0M733 1008.5h0M733 1008h0M733.5 1008.5h0M733.5 1008h0M733.5 1008h0M733.5 1008h0M733.5 1008.5h0M733.5 1008h0M734 1008h0M734 1008h0M735 1008.5h0M735 1008h0M735.5 1008.5h0M736 1007.5h0M736 1007.5h0M736 1008.5h0M736.5 1008h0M737 1007.5h0M737 1008.5h0M737.5 1008.5h0M737.5 1008h0M737.5 1008h0M738 1008.5h0M738 1008.5h0M738 1008h0M738.5 1007.5h0M738.5 1008.5h0M739 1008h0M739 1009h0M739.5 1008h0M739.5 1008h0M740 1008h0M740 1008h0M740.5 1009h0M740.5 1008h0M740.5 1008.5h0M741 1008h0M741.5 1008h0M741.5 1008.5h0M741.5 1008.5h0M741.5 1008h0M741.5 1007.5h0M742 1008.5h0M742 1009.5h0M742 1008h0M742 1008.5h0M742 1008h0M742.5 1009.5h0M742.5 1007.5h0M743 1008h0M743 1007.5h0M743 1008.5h0M743 1008h0M743 1008.5h0M743 1008h0M743 1009h0M743.5 1008.5h0M743.5 1008.5h0M743.5 1007h0M744 1007.5h0M744.5 1008h0M744.5 1008.5h0M745 1007h0M746 1009h0M746 1008.5h0M746.5 1009h0M746.5 1007.5h0M747 1008h0M747 1007.5h0M747 1008h0M747.5 1008h0M747.5 1007.5h0M748 1008.5h0M748.5 1008.5h0M748.5 1007.5h0M749 1007h0M749 1008.5h0M749 1007h0M749 1007.5h0M749.5 1007.5h0M749.5 1008h0M749.5 1008.5h0M750 1008.5h0M750 1008.5h0M750 1007.5h0M750 1008.5h0M750.5 1008.5h0M750.5 1008.5h0M750.5 1009h0M750.5 1007.5h0M750.5 1008h0M751 1006h0M751 1008h0M751.5 1008.5h0M751.5 1008h0M751.5 1008h0M752 1007.5h0M752 1008h0M752 1008h0M752 1008h0M752 1007.5h0M752.5 1008h0M752.5 1007.5h0M752.5 1008h0M752.5 1008.5h0M753 1008.5h0M753.5 1008h0M753.5 1009h0M753.5 1007.5h0M753.5 1008.5h0M754 1008h0M754.5 1008h0M754.5 1008h0M755 1007.5h0M755 1008.5h0M755.5 1007.5h0M755.5 1008h0M755.5 1007.5h0M756 1007.5h0M756 1008h0M756.5 1008h0M756.5 1009h0M757 1007.5h0M757 1008h0M757.5 1008h0M757.5 1008h0M757.5 1008h0M758 1007.5h0M758 1008.5h0M758 1008.5h0M758.5 1008.5h0M759.5 1008h0M759.5 1008.5h0M759.5 1008.5h0M759.5 1008.5h0M760 1006.5h0M760 1008.5h0M760 1007.5h0M760 1008.5h0M760.5 1007.5h0M760.5 1008h0M760.5 1008.5h0M760.5 1008h0M761 1008.5h0M761 1008h0M761.5 1009h0M762 1008h0M762 1009.5h0M762.5 1008.5h0M762.5 1008h0M762.5 1007.5h0M763 1008h0M763 1009h0M763.5 1007.5h0M763.5 1007.5h0M763.5 1008h0M763.5 1008.5h0M764 1008h0M764 1007.5h0M764 1008h0M764 1008h0M764.5 1008.5h0M765 1009h0M765 1008h0M765 1007.5h0M765 1007.5h0M765 1007.5h0M765 1008h0M765.5 1007.5h0M766 1008.5h0M766 1008h0M766 1008h0M766.5 1008.5h0M766.5 1007.5h0M766.5 1008.5h0M767 1008h0M767 1008h0M767 1008h0M767.5 1007.5h0M767.5 1008.5h0M767.5 1008.5h0M767.5 1007h0M768 1008h0M768 1008h0M768 1008h0M768.5 1008.5h0M768.5 1008h0M768.5 1008h0M769 1008.5h0M769 1007.5h0M769.5 1008h0M770 1008h0M770.5 1007.5h0M771 1008h0M771 1008.5h0M771 1007.5h0M771 1009h0M771 1006h0M771.5 1007h0M772 1008h0M772.5 1007.5h0M772.5 1008.5h0M772.5 1008.5h0M773.5 1007.5h0M773.5 1008h0M773.5 1008h0M774 1009.5h0M774 1008h0M774 1008h0M774.5 1008.5h0M774.5 1008h0M774.5 1008h0M775 1007.5h0M775 1008h0M775.5 1008h0M775.5 1007.5h0M775.5 1008h0M775.5 1007.5h0M776 1007.5h0M776 1008h0M776 1008.5h0M776.5 1008.5h0M776.5 1008h0M776.5 1007.5h0M776.5 1007.5h0M777 1008h0M777 1008h0M777.5 1008.5h0M777.5 1008h0M778 1008.5h0M778 1008h0M778.5 1008.5h0M778.5 1008.5h0M778.5 1008.5h0M779 1008.5h0M779.5 1007.5h0M779.5 1008.5h0M781 1008h0M781 1008h0M781 1007.5h0M781 1008.5h0M781 1008h0M781.5 1008h0M782 1008.5h0M783 1007.5h0M783.5 1008.5h0M783.5 1008h0M783.5 1008.5h0M783.5 1008h0M784 1007.5h0M784 1008h0M784 1008.5h0M784 1009h0M784 1009h0M784 1008.5h0M784 1008.5h0M784.5 1007h0M784.5 1008h0M785 1007.5h0M785 1008.5h0M785 1008.5h0M785 1008.5h0M785 1008.5h0M785 1008.5h0M785 1008h0M785 1008h0M785 1008.5h0M785.5 1008h0M786 1008.5h0M786 1008h0M786 1008h0M786 1007.5h0M786.5 1008.5h0M786.5 1007.5h0M786.5 1007h0M786.5 1007.5h0M786.5 1008h0M787 1008h0M787 1008h0M787 1008.5h0M787.5 1008h0M788 1008.5h0M788 1008.5h0M788 1008.5h0M788 1008.5h0M788.5 1008h0M788.5 1008.5h0M788.5 1008h0M788.5 1008.5h0M789 1008h0M789 1008.5h0M789.5 1008h0M789.5 1008.5h0M789.5 1008.5h0M789.5 1008.5h0M789.5 1007h0M789.5 1008.5h0M789.5 1007.5h0M790 1008h0M790 1007.5h0M790 1008h0M790 1007.5h0M790 1008h0M790.5 1008h0M790.5 1008.5h0M791 1009h0M791.5 1008.5h0M791.5 1008.5h0M791.5 1008.5h0M791.5 1008h0M792 1008h0M792 1007.5h0M792.5 1008h0M792.5 1008.5h0M792.5 1008h0M793.5 1008.5h0M793.5 1007.5h0M793.5 1009h0M793.5 1008.5h0M793.5 1008h0M794 1009h0M794 1008.5h0M794.5 1008.5h0M794.5 1008h0M794.5 1008h0M794.5 1009h0M795 1008.5h0M795 1008.5h0M795 1008.5h0M795.5 1008h0M795.5 1008h0M795.5 1008.5h0M795.5 1006h0M796 1008h0M796 1008.5h0M796.5 1008h0M796.5 1009h0M797 1008h0M797 1007.5h0M797.5 1008.5h0M797.5 1008h0M798 1008.5h0M798 1008h0M798 1008.5h0M798 1008h0M798.5 1008h0M798.5 1008.5h0M799 1008h0M799 1008h0M799 1008.5h0M799.5 1008.5h0M799.5 1008.5h0M799.5 1007.5h0M799.5 1008h0M799.5 1008h0M800 1008h0M800.5 1007.5h0M801 1007h0M801.5 1008.5h0M801.5 1008.5h0M801.5 1007.5h0M801.5 1008h0M801.5 1008h0M802 1008h0M802 1008.5h0M802 1008h0M802.5 1007.5h0M802.5 1008h0M802.5 1008.5h0M803 1007.5h0M803 1008.5h0M803.5 1008.5h0M803.5 1008.5h0M803.5 1008.5h0M803.5 1008h0M803.5 1008.5h0M803.5 1008h0M804 1007h0M804.5 1008h0M804.5 1009h0M804.5 1008.5h0M804.5 1007.5h0M804.5 1008h0M805 1008h0M805 1007.5h0M805 1008h0M805.5 1008.5h0M805.5 1008h0M805.5 1008h0M806 1007h0M806.5 1009h0M806.5 1007.5h0M807 1008h0M808 1008.5h0M808 1008h0M808 1008.5h0M808 1007h0M808.5 1007.5h0M808.5 1008h0M808.5 1007.5h0M808.5 1007.5h0M809 1008.5h0M809.5 1007.5h0M809.5 1008.5h0M809.5 1008.5h0M809.5 1008h0M809.5 1007.5h0M810 1008h0M810.5 1008h0M810.5 1008h0M810.5 1007.5h0M810.5 1008h0M810.5 1008h0M811 1008h0M811 1008h0M811 1008.5h0M811.5 1009h0M811.5 1008h0M811.5 1008h0M813 1008h0M813.5 1008.5h0M814 1008.5h0M814 1008h0M814 1008h0M814.5 1008.5h0M814.5 1008.5h0M814.5 1008h0M814.5 1008.5h0M815.5 1007.5h0M815.5 1008h0M815.5 1008.5h0M815.5 1007.5h0M816 1007.5h0M816.5 1008h0M816.5 1007h0M817 1008h0M817 1009h0M817 1008.5h0M817 1009h0M817.5 1009h0M817.5 1008h0M817.5 1008h0M818 1008.5h0M818 1008.5h0M818 1008.5h0M818 1008.5h0M818 1008.5h0M818 1007.5h0M818 1008.5h0M818.5 1008h0M819 1008.5h0M819 1008.5h0M819 1007.5h0M819 1009h0M819 1008h0M819.5 1008.5h0M819.5 1008.5h0M820 1008h0M820 1008.5h0M820.5 1009h0M821 1008.5h0M821 1008h0M821.5 1008h0M821.5 1008.5h0M822 1008.5h0M822 1008h0M822.5 1008h0M822.5 1007.5h0M822.5 1008h0M822.5 1009.5h0M822.5 1008h0M822.5 1008h0M823 1008.5h0M823 1008.5h0M823.5 1008h0M823.5 1007h0M824 1008h0M824.5 1008h0M825 1008.5h0M825.5 1008h0M825.5 1008h0M826 1007.5h0M826 1008h0M826 1009h0M826.5 1008.5h0M826.5 1008.5h0M826.5 1007.5h0M827.5 1007.5h0M827.5 1008.5h0M827.5 1008h0M827.5 1008.5h0M827.5 1008h0M828 1008h0M828 1007h0M828.5 1008.5h0M829 1008h0M829 1008h0M829.5 1008h0M829.5 1008h0M830 1008h0M830 1007.5h0M831 1008h0M831 1008h0M831.5 1008.5h0M831.5 1007.5h0M832 1008h0M832 1008h0M832 1008.5h0M832 1009h0M832 1008.5h0M832.5 1008.5h0M832.5 1007.5h0M832.5 1009h0M832.5 1007.5h0M833 1008.5h0M833.5 1008.5h0M833.5 1008h0M834.5 1007.5h0M834.5 1008.5h0M834.5 1006.5h0M834.5 1008.5h0M834.5 1007h0M835 1008h0M835 1007h0M835 1008h0M835.5 1008h0M835.5 1008.5h0M835.5 1007.5h0M836 1007.5h0M836 1007h0M836 1008h0M836.5 1008h0M837 1008h0M837 1007.5h0M838 1008h0M838 1008.5h0M838.5 1008h0M839 1007h0M839 1008h0M839.5 1007.5h0M839.5 1007h0M839.5 1008.5h0M840 1008.5h0M840 1007.5h0M840 1008.5h0M840.5 1008h0M840.5 1008h0M841 1008h0M841 1008h0M841 1008h0M841.5 1008.5h0M841.5 1007.5h0M841.5 1009h0M841.5 1008h0M842 1008h0M842 1008.5h0M842 1007.5h0M843 1008h0M843 1009h0M843.5 1008.5h0M843.5 1008h0M843.5 1008h0M844 1008.5h0M844 1008.5h0M844 1008h0M844.5 1008.5h0M845 1008h0M845 1008h0M845 1008.5h0M845.5 1008h0M845.5 1007.5h0M845.5 1008h0M846.5 1008.5h0M846.5 1008h0M847 1008.5h0M847 1008.5h0M847 1008h0M847 1008h0M847 1008h0M847.5 1008.5h0M847.5 1008.5h0M848 1008h0M848 1008.5h0M848.5 1008.5h0M848.5 1008h0M848.5 1008h0M848.5 1008h0M849 1008.5h0M849 1008.5h0M849.5 1008h0M849.5 1006.5h0M850 1007.5h0M850 1008h0M851 1008.5h0M851 1008h0M851 1008h0M851 1008.5h0M851.5 1008h0M851.5 1008h0M851.5 1009h0M852 1008.5h0M852.5 1007.5h0M852.5 1008h0M852.5 1008h0M852.5 1008h0M853 1008h0M853 1007.5h0M853 1008h0M853.5 1009h0M853.5 1008h0M853.5 1008h0M854 1008.5h0M854.5 1007.5h0M855 1008h0M855 1008.5h0M855.5 1008h0M855.5 1008.5h0M856 1008h0M856 1008.5h0M856.5 1008.5h0M856.5 1008h0M856.5 1008h0M857 1008h0M857 1007.5h0M857 1008.5h0M857.5 1009h0M857.5 1008.5h0M857.5 1008h0M857.5 1008h0M858 1008.5h0M858 1009h0M858 1009h0M858.5 1008h0M858.5 1009h0M858.5 1008h0M859 1008h0M859 1008h0M859 1008.5h0M859.5 1008h0M859.5 1008.5h0M859.5 1008.5h0M859.5 1009h0M859.5 1007.5h0M860.5 1008h0M861 1008.5h0M861 1009h0M861.5 1007h0M862 1008h0M862.5 1007.5h0M862.5 1008.5h0M862.5 1008h0M862.5 1007.5h0M862.5 1008.5h0M863 1008.5h0M863 1008h0M863 1008.5h0M863.5 1009.5h0M863.5 1008h0M864 1008.5h0M864 1008h0M864.5 1008.5h0M865 1008h0M865.5 1008.5h0M865.5 1007.5h0M865.5 1008h0M865.5 1009.5h0M865.5 1007.5h0M866 1008h0M866 1008.5h0M866 1007.5h0M866 1007h0M866 1007.5h0M866.5 1008h0M866.5 1008.5h0M866.5 1008h0M866.5 1008h0M867 1008.5h0M867 1008h0M867 1008.5h0M867 1009h0M867 1008h0M867 1008.5h0M867 1008.5h0M867 1008h0M867.5 1008h0M867.5 1008.5h0M867.5 1007.5h0M867.5 1007.5h0M868 1008.5h0M868 1009h0M868 1008.5h0M868.5 1008.5h0M868.5 1007.5h0M868.5 1007.5h0M868.5 1008h0M869 1008h0M869 1008h0M869 1008h0M869 1008h0M870 1008h0M870 1008.5h0M870 1008.5h0M870 1008.5h0M870 1009h0M870.5 1008h0M870.5 1008h0M870.5 1007.5h0M871 1007.5h0M871.5 1008.5h0M871.5 1008.5h0M871.5 1008h0M872 1008h0M872 1007.5h0M872 1007h0M872 1008h0M872 1008h0M872.5 1007h0M873 1008.5h0M873 1008h0M873.5 1008.5h0M873.5 1008.5h0M873.5 1009h0M873.5 1008h0M873.5 1008.5h0M874 1008.5h0M874.5 1008h0M874.5 1008.5h0M875 1007.5h0M875 1008h0M875 1008h0M875 1008h0M876 1008h0M876.5 1008.5h0M876.5 1008h0M877 1008h0M877 1008h0M877 1009.5h0M877 1008h0M877 1008.5h0M877 1007.5h0M877 1008h0M877.5 1007.5h0M877.5 1008h0M878 1008.5h0M878.5 1009h0M878.5 1008h0M879.5 1008.5h0M879.5 1008h0M880 1008h0M880.5 1008h0M880.5 1008.5h0M880.5 1008h0M880.5 1008h0M880.5 1008h0M881 1008.5h0M881 1008h0M881 1008.5h0M881 1007.5h0M881 1008.5h0M881.5 1008h0M882 1008h0M882.5 1009h0M882.5 1008.5h0M882.5 1008h0M883 1008h0M883 1008.5h0M883 1008.5h0M883.5 1008h0M883.5 1008.5h0M883.5 1008h0M883.5 1007h0M884 1008.5h0M884 1008h0M884 1008.5h0M884.5 1008h0M884.5 1008h0M884.5 1007.5h0M885 1008.5h0M885 1008.5h0M885.5 1008.5h0M885.5 1008.5h0M886 1008.5h0M886 1008h0M886.5 1008h0M886.5 1008.5h0M886.5 1007h0M887 1007.5h0M887 1008h0M887.5 1008.5h0M888 1009h0M888.5 1009h0M888.5 1008h0M889 1008h0M889 1008h0M889 1008h0M889 1006.5h0M890 1008h0M890 1008.5h0M890.5 1007.5h0M890.5 1008h0M891 1007.5h0M891 1009h0M891.5 1009h0M891.5 1008h0M891.5 1008h0M891.5 1008.5h0M893.5 1008.5h0M893.5 1007.5h0M893.5 1008h0M893.5 1008h0M894 1007.5h0M894 1009h0M894.5 1008h0M894.5 1008h0M894.5 1007.5h0M895 1008.5h0M895 1007.5h0M895.5 1008h0M896 1008h0M896 1008h0M896 1007.5h0M896.5 1008h0M896.5 1008.5h0M896.5 1008h0M897 1008h0M897 1008.5h0M897 1008.5h0M897.5 1008.5h0M898 1008h0M898 1007.5h0M898 1009h0M898 1007.5h0M898.5 1007.5h0M898.5 1007.5h0M898.5 1009h0M899 1008h0M899 1008.5h0M899 1007.5h0M899 1007.5h0M899.5 1008.5h0M899.5 1008h0M899.5 1008h0M899.5 1008.5h0M899.5 1008h0M899.5 1008h0M900 1008h0M900 1008h0M900.5 1008.5h0M901 1008.5h0M901 1007.5h0M901.5 1008h0M901.5 1008.5h0M901.5 1008h0M901.5 1008h0M902 1009h0M902 1008.5h0M902 1009h0M902 1009h0M902 1008h0M902 1008h0M902 1008h0M902.5 1008.5h0M902.5 1007h0M903 1008h0M903 1008.5h0M903 1008h0M903 1008.5h0M903.5 1008h0M903.5 1007.5h0M903.5 1008.5h0M903.5 1008h0M904 1008.5h0M904 1008h0M904 1009h0M904.5 1008.5h0M904.5 1008.5h0M905 1008h0M905 1008h0M905 1008.5h0M905 1008.5h0M905 1008h0M905 1007h0M905.5 1008h0M905.5 1009h0M906 1008h0M906 1008h0M906 1007.5h0M906 1008h0M907.5 1007.5h0M908 1008.5h0M908 1008.5h0M908 1008.5h0M908 1008.5h0M908.5 1008h0M908.5 1009h0M908.5 1008h0M908.5 1008.5h0M909 1009h0M909.5 1008h0M909.5 1008.5h0M909.5 1008h0M909.5 1008h0M910 1008.5h0M910 1008h0M910.5 1008h0M910.5 1008.5h0M910.5 1007.5h0M910.5 1008h0M910.5 1008h0M911 1007.5h0M912 1008.5h0M912 1008h0M912 1007.5h0M912.5 1007.5h0M912.5 1007.5h0M912.5 1008.5h0M913 1007h0M913 1008.5h0M913 1008.5h0M913.5 1008.5h0M914 1007.5h0M914 1008h0M914 1008.5h0M914.5 1008h0M914.5 1008h0M914.5 1008h0M914.5 1008.5h0M914.5 1007.5h0M915 1008.5h0M915 1008h0M915 1007.5h0M915 1008.5h0M915.5 1007h0M915.5 1007.5h0M916.5 1008.5h0M916.5 1009h0M916.5 1007.5h0M916.5 1007.5h0M917 1006h0M917 1008h0M917 1008h0M917 1008h0M917 1009h0M917 1007.5h0M917 1007.5h0M917.5 1008h0M917.5 1008.5h0M917.5 1008.5h0M918 1008h0M918 1007.5h0M918.5 1008h0M918.5 1009.5h0M918.5 1008.5h0M919 1008.5h0M919.5 1007.5h0M919.5 1008h0M919.5 1008h0M920 1009h0M920.5 1008h0M920.5 1008h0M920.5 1008h0M921 1007h0M921 1008.5h0M921 1007.5h0M921.5 1008h0M921.5 1007.5h0M922 1008h0M922.5 1008h0M922.5 1008h0M922.5 1009h0M922.5 1007.5h0M922.5 1008h0M923 1008.5h0M923 1008h0M923.5 1008h0M923.5 1009h0M923.5 1008.5h0M923.5 1007.5h0M924 1008h0M924.5 1007.5h0M924.5 1008.5h0M924.5 1007.5h0M924.5 1008.5h0M925 1008.5h0M925 1008.5h0M925 1008h0M925 1008h0M925 1007.5h0M925 1008h0M925.5 1008.5h0M925.5 1008.5h0M925.5 1007.5h0M925.5 1008.5h0M926 1007.5h0M926 1008h0M926 1007.5h0M926.5 1008h0M926.5 1008h0M927 1008.5h0M927 1008.5h0M927 1008.5h0M927.5 1008h0M927.5 1008.5h0M928.5 1008.5h0M928.5 1008h0M929 1007.5h0M929 1008h0M929.5 1009h0M929.5 1008h0M930 1008h0M930 1008.5h0M930 1007.5h0M930 1007.5h0M930 1008h0M930.5 1008.5h0M930.5 1008h0M930.5 1008h0M930.5 1007.5h0M930.5 1009h0M930.5 1007.5h0M931 1008.5h0M931 1008h0M931 1008.5h0M931.5 1009h0M932 1007.5h0M932 1008.5h0M932 1008.5h0M932 1008.5h0M932.5 1008h0M932.5 1008.5h0M932.5 1008h0M932.5 1007.5h0M933 1008.5h0M933 1008.5h0M933.5 1008h0M933.5 1008h0M933.5 1008.5h0M933.5 1009h0M934 1007.5h0M934 1008.5h0M934 1009h0M934.5 1007.5h0M934.5 1008.5h0M934.5 1008h0M935 1008.5h0M935 1008.5h0M935.5 1007.5h0M935.5 1008h0M936 1007.5h0M936 1008h0M936 1009h0M936.5 1007.5h0M936.5 1008h0M936.5 1008h0M937 1008.5h0M937 1008h0M937.5 1007.5h0M937.5 1008h0M937.5 1008h0M937.5 1007.5h0M937.5 1007h0M938 1008.5h0M938 1008h0M938 1008h0M938.5 1008h0M938.5 1008.5h0M938.5 1007.5h0M939 1008h0M939 1008h0M939 1008.5h0M939.5 1007h0M939.5 1007.5h0M940 1008.5h0M940 1007.5h0M940 1007.5h0M940 1007.5h0M940.5 1007h0M940.5 1006.5h0M940.5 1008.5h0M940.5 1008h0M940.5 1007.5h0M941 1008h0M941.5 1009h0M942.5 1008h0M942.5 1007.5h0M942.5 1008.5h0M942.5 1008h0M942.5 1007h0M942.5 1007.5h0M942.5 1008.5h0M942.5 1008h0M942.5 1008h0M943 1008.5h0M943 1007.5h0M943.5 1007.5h0M944 1008h0M944 1008h0M944 1008h0M944.5 1008h0M945 1008h0M945 1007.5h0M946 1008h0M946 1009h0M946 1007.5h0M946 1008.5h0M946.5 1008.5h0M947 1008h0M947 1007.5h0M947.5 1008.5h0M947.5 1008h0M947.5 1008h0M947.5 1008h0M948 1009h0M948 1007.5h0M948 1008.5h0M948.5 1009h0M949 1008h0M949 1009h0M950 1008h0M950 1008h0M950.5 1008.5h0M950.5 1008h0M951 1008h0M951 1008.5h0M951 1008h0M951.5 1008.5h0M952 1008.5h0M952 1007.5h0M952 1008h0M952 1008.5h0M952.5 1008h0M952.5 1008.5h0M952.5 1008.5h0M953 1008h0M953.5 1008h0M953.5 1008h0M954 1008h0M954 1008.5h0M954 1008h0M954 1008h0M954.5 1008h0M954.5 1008.5h0M954.5 1008.5h0M954.5 1008h0M954.5 1008.5h0M955 1009.5h0M955 1008h0M955 1008.5h0M955.5 1009.5h0M955.5 1008h0M955.5 1008.5h0M956 1007h0M956 1008.5h0M956 1008.5h0M957 1008.5h0M957 1008h0M957 1008.5h0M957.5 1008.5h0M957.5 1008.5h0M957.5 1008h0M957.5 1008h0M958.5 1008h0M959 1008h0M959 1007.5h0M959 1007.5h0M959 1008h0M959.5 1007.5h0M959.5 1008h0M959.5 1007.5h0M960 1007.5h0M960.5 1008h0M960.5 1008h0M960.5 1009h0M960.5 1008h0M960.5 1008.5h0M961 1008.5h0M961 1008.5h0M961 1008h0M961 1008.5h0M961 1007.5h0M961.5 1007.5h0M961.5 1008.5h0M962 1008h0M962 1007.5h0M962 1008h0M962 1008.5h0M962.5 1008.5h0M962.5 1008h0M963 1008.5h0M963 1008.5h0M963 1007.5h0M963 1007.5h0M963 1008.5h0M963.5 1007.5h0M964 1008h0M964 1008.5h0M964.5 1008h0M964.5 1008h0M964.5 1007.5h0M965 1009h0M965.5 1007.5h0M965.5 1008h0M965.5 1008.5h0M966 1008h0M966 1007.5h0M966 1007.5h0M966 1008.5h0M966 1008.5h0M966.5 1007h0M966.5 1007.5h0M967 1008.5h0M968 1009h0M968 1008h0M968 1008.5h0M968.5 1007.5h0M968.5 1007.5h0M968.5 1007.5h0M968.5 1008.5h0M969 1008h0M969 1008.5h0M969 1007.5h0M969.5 1009h0M970 1008h0M970 1009.5h0M970 1008h0M970.5 1007.5h0M970.5 1008h0M971 1007.5h0M971.5 1009h0M972.5 1008h0M972.5 1008.5h0M973.5 1007.5h0M973.5 1008h0M973.5 1008h0M974 1008h0M974 1007.5h0M974.5 1008.5h0M974.5 1008.5h0M974.5 1008h0M975 1008h0M975 1008h0M975 1008.5h0M975 1008h0M975.5 1008.5h0M975.5 1008.5h0M976.5 1008h0M976.5 1008h0M977 1008h0M977 1009h0M977 1008h0M977 1008h0M977.5 1008h0M977.5 1008.5h0M978 1008.5h0M978 1007.5h0M978.5 1008.5h0M978.5 1008.5h0M978.5 1008.5h0M978.5 1008.5h0M978.5 1008h0M979 1007.5h0M979 1008.5h0M979 1008.5h0M979 1007.5h0M979 1008h0M979.5 1008.5h0M979.5 1008h0M979.5 1008.5h0M980 1008h0M980 1008h0M980 1008.5h0M980.5 1007.5h0M980.5 1008.5h0M980.5 1007.5h0M981 1008h0M981.5 1008h0M981.5 1008h0M981.5 1006h0M981.5 1008h0M982.5 1007.5h0M982.5 1007.5h0M983 1008h0M983 1008.5h0M984.5 1007.5h0M984.5 1009h0M984.5 1008h0M985 1008.5h0M985.5 1007.5h0M986 1007.5h0M986 1007.5h0M986.5 1007.5h0M986.5 1007.5h0M986.5 1008h0M986.5 1007.5h0M987 1009h0M987.5 1008h0M987.5 1008h0M988 1007h0M988.5 1009h0M989 1009h0M989 1007.5h0M989.5 1007.5h0M989.5 1007.5h0M990 1008.5h0M990 1007.5h0M990.5 1007.5h0M990.5 1007.5h0M990.5 1008h0M990.5 1008.5h0M991 1007.5h0M991 1008.5h0M991.5 1008h0M991.5 1007.5h0M992 1008.5h0M992 1008.5h0M992 1008.5h0M992 1008.5h0M992.5 1008.5h0M992.5 1008h0M992.5 1008h0M992.5 1009h0M992.5 1008h0M993.5 1007.5h0M993.5 1007.5h0M993.5 1008h0M994 1007h0M994.5 1007.5h0M994.5 1007.5h0M994.5 1008h0M994.5 1007.5h0M995 1008h0M995 1008h0M995.5 1008.5h0M995.5 1008.5h0M995.5 1009h0M996 1008h0M996.5 1007.5h0M996.5 1008.5h0M996.5 1008.5h0M996.5 1008h0M997.5 1008.5h0M997.5 1009h0M997.5 1008.5h0M998 1008h0M998.5 1007.5h0M998.5 1007.5h0M999.5 1009h0M999.5 1007.5h0M1000 1007.5h0M1000.5 1008.5h0M1001 1008h0M1001.5 1007.5h0M1001.5 1008.5h0M1001.5 1008.5h0M1001.5 1007.5h0M1002 1008.5h0M1002 1008.5h0M1002 1009h0M1002.5 1008.5h0M1003 1008.5h0M1003 1008h0M1003 1008.5h0M1003.5 1009h0M1003.5 1008.5h0M1003.5 1008h0M1003.5 1008h0M1004 1009h0M1004 1007.5h0M1004.5 1008h0M1004.5 1008h0M1004.5 1008.5h0M1004.5 1007.5h0M1005 1008h0M1005 1008h0M1005 1008.5h0M1005 1008.5h0M1005.5 1007.5h0M1006 1007.5h0M1006 1007.5h0M1006 1008.5h0M1006.5 1008h0M1006.5 1008h0M1007 1008h0M1007.5 1007.5h0M1007.5 1007.5h0M1008 1006h0M1008 1009h0M1008.5 1008h0M1008.5 1008.5h0M1009 1007.5h0M1009 1009.5h0M1009.5 1008h0M1010 1007.5h0M1010.5 1008h0M1010.5 1008.5h0M1010.5 1008.5h0M1010.5 1008h0M1011 1008.5h0M1011 1008h0M1011 1008h0M1011 1008h0M1011 1008.5h0M1011 1008.5h0M1011.5 1008h0M1012 1008h0M1012 1009.5h0M1012 1008.5h0M1012 1008.5h0M1012 1007.5h0M1012 1008.5h0M1012 1007.5h0M1012.5 1008.5h0M1012.5 1008.5h0M1013 1008h0M1013 1008h0M1013 1008h0M1013 1008h0M1013 1007.5h0M1014 1008.5h0M1014 1007.5h0M1014.5 1008h0M1014.5 1008h0M1015 1009h0M1015 1007.5h0M1015 1008.5h0M1015.5 1008.5h0M1015.5 1007h0M1015.5 1007.5h0M1016 1008h0M1016 1007.5h0M1016.5 1008h0M1017 1008.5h0M1017 1008.5h0M1017.5 1008h0M1018 1008.5h0M1018 1008h0M1018 1007h0M1018 1008h0M1019 1008h0M1019 1008h0M1019 1008.5h0M1019.5 1008h0M1019.5 1007.5h0M1019.5 1007h0M1020 1008.5h0M1020.5 1008.5h0M1020.5 1008h0M1020.5 1008.5h0M1021 1008h0M1021 1008h0M1021 1008h0M1021.5 1008.5h0M1021.5 1009h0M1021.5 1008h0M1021.5 1008h0M1022 1007.5h0M1022.5 1008.5h0M1022.5 1008.5h0M1022.5 1007.5h0M1022.5 1008h0M1023 1008h0M1023 1008h0M1023 1008.5h0M1023.5 1008h0M1024 1008.5h0M1024 1008h0M1024 1008h0M1024 1009h0M1024.5 1008h0M1024.5 1008.5h0M1024.5 1008.5h0M1024.5 1007.5h0M1025 1008h0M1025 1007.5h0M1025 1008h0M1025.5 1007.5h0M1025.5 1008.5h0M1026 1008h0M1026 1007.5h0M1026 1008.5h0M1026 1007.5h0M1026.5 1007.5h0M1026.5 1008.5h0M1026.5 1008h0M1027 1008h0M1027 1008.5h0M1027 1008.5h0M1027 1008h0M1027 1008.5h0M1027 1008h0M1027 1008.5h0M1027 1008.5h0M1027.5 1008.5h0M1027.5 1007h0M1027.5 1008h0M1028 1009h0M1028 1008h0M1028 1008h0M1028 1008h0M1028.5 1007.5h0M1029 1008.5h0M1029 1009h0M1029 1009h0M1029 1008h0M1029.5 1007.5h0M1030 1008h0M1030.5 1008.5h0M1031 1008h0M1031 1008.5h0M1031 1008h0M1031 1007.5h0M1031.5 1007.5h0M1031.5 1008.5h0M1031.5 1008.5h0M1032 1008h0M1032 1009h0M1032 1008h0M1032 1008h0M1032 1008h0M1032.5 1008.5h0M1032.5 1007h0M1032.5 1008h0M1032.5 1008h0M1032.5 1007.5h0M1033 1007.5h0M1033 1008.5h0M1033 1008h0M1033 1008h0M1033 1008.5h0M1033.5 1007.5h0M1033.5 1009h0M1034 1008h0M1034 1008h0M1034 1007.5h0M1034.5 1008h0M1034.5 1007.5h0M1034.5 1008h0M1035 1007.5h0M1035 1007h0M1035 1008.5h0M1035 1008.5h0M1036 1008.5h0M1036 1008.5h0M1036.5 1008.5h0M1036.5 1008h0M1036.5 1009.5h0M1036.5 1008h0M1037 1007.5h0M1037 1009h0M1037.5 1008h0M1037.5 1008h0M1037.5 1007.5h0M1037.5 1008h0M1037.5 1008.5h0M1037.5 1008.5h0M1037.5 1007.5h0M1038 1008.5h0M1038 1008h0M1038.5 1007.5h0M1038.5 1008.5h0M1038.5 1008.5h0M1039 1008h0M1039 1008h0M1039 1008.5h0M1039 1008h0M1039.5 1008h0M1040.5 1008.5h0M1040.5 1008h0M1041 1007.5h0M1041 1008.5h0M1041 1007.5h0M1041 1007.5h0M1041.5 1008.5h0M1041.5 1008h0M1041.5 1008.5h0M1042 1008.5h0M1042 1007h0M1042 1008.5h0M1042 1008h0M1042 1008h0M1042.5 1008h0M1042.5 1007.5h0M1042.5 1008.5h0M1043 1008.5h0M1043 1008h0M1043 1008h0M1043.5 1009h0M1043.5 1008.5h0M1043.5 1008.5h0M1043.5 1008h0M1043.5 1008h0M1043.5 1008.5h0M1044 1008.5h0M1044.5 1008.5h0M1044.5 1008h0M1045 1008h0M1045.5 1007.5h0M1045.5 1008h0M1045.5 1008h0M1046 1007.5h0M1046 1008h0M1046 1008h0M1046.5 1008h0M1046.5 1007.5h0M1046.5 1008h0M1047 1008h0M1047 1008.5h0M1047.5 1007.5h0M1047.5 1007.5h0M1047.5 1007.5h0M1047.5 1008h0M1048 1008h0M1048 1008.5h0M1048 1007.5h0M1048 1008.5h0M1048.5 1008h0M1049 1008h0M1049 1008h0M1049 1008.5h0M1049 1008.5h0M1049 1007.5h0M1049.5 1008h0M1049.5 1008.5h0M1049.5 1008.5h0M1049.5 1008h0M1049.5 1007.5h0M1050 1008.5h0M1050.5 1008h0M1050.5 1008h0M1050.5 1008.5h0M1050.5 1008h0M1050.5 1008.5h0M1051 1009h0M1051.5 1008.5h0M1051.5 1007.5h0M1051.5 1007.5h0M1051.5 1007h0M1051.5 1008.5h0M1052 1008h0M1052 1008h0M1052 1008h0M1052.5 1005.5h0M1052.5 1008.5h0M1052.5 1007.5h0M1052.5 1008.5h0M1052.5 1008h0M1052.5 1008h0M1053 1008.5h0M1053 1008h0M1053.5 1008h0M1053.5 1008.5h0M1054 1009h0M1054 1008.5h0M1054.5 1008.5h0M1054.5 1007.5h0M1055 1008h0M1055 1008h0M1055 1008h0M1055 1008.5h0M1055 1009h0M1055.5 1008.5h0M1055.5 1008.5h0M1056 1008.5h0M1056.5 1008h0M1056.5 1008h0M1056.5 1008h0M1057.5 1008.5h0M1057.5 1008.5h0M1058 1008h0M1058 1009h0M1058 1007.5h0M1058.5 1007.5h0M1058.5 1008h0M1059 1007.5h0M1059 1008h0M1059 1008h0M1059.5 1008h0M1060 1008h0M1060 1007.5h0M1060.5 1007h0M1060.5 1008.5h0M1060.5 1008.5h0M1061 1008.5h0M1061.5 1008h0M1062 1008.5h0M1062 1008h0M1062 1008.5h0M1062 1007.5h0M1062 1008h0M1062 1008h0M1062.5 1008.5h0M1062.5 1008h0M1062.5 1007.5h0M1062.5 1008h0M1062.5 1007.5h0M1062.5 1008.5h0M1063 1008.5h0M1063 1007.5h0M1063 1008.5h0M1063 1007.5h0M1063.5 1008h0M1064 1008h0M1064 1008.5h0M1064 1008.5h0M1064 1008.5h0M1064.5 1008h0M1064.5 1008h0M1064.5 1008.5h0M1065 1008h0M1065 1008h0M1065 1008.5h0M1065.5 1009h0M1065.5 1008.5h0M1065.5 1009h0M1065.5 1008.5h0M1065.5 1008h0M1065.5 1007.5h0M1066 1008h0M1066 1007.5h0M1066 1007.5h0M1066.5 1008h0M1066.5 1009h0M1066.5 1008h0M1066.5 1008h0M1066.5 1008h0M1067 1008h0M1067 1007.5h0M1067 1008h0M1067 1008.5h0M1067 1008h0M1067 1008.5h0M1067.5 1008h0M1067.5 1008.5h0M1067.5 1007.5h0M1068 1007.5h0M1068 1008h0M1068 1008h0M1068.5 1008.5h0M1068.5 1008h0M1068.5 1008h0M1068.5 1008h0M1069 1008.5h0M1069 1008h0M1069.5 1008.5h0M1069.5 1008.5h0M1069.5 1008h0M1070.5 1008h0M1070.5 1008h0M1071 1008h0M1071 1008h0M1071.5 1007.5h0M1071.5 1008.5h0M1071.5 1008.5h0M1071.5 1008h0M1072 1008h0M1072 1008h0M1072.5 1009h0M1072.5 1008.5h0M1073 1008h0M1073 1008.5h0M1073.5 1007.5h0M1073.5 1008h0M1073.5 1008h0M1074 1008.5h0M1074 1008h0M1074.5 1008h0M1074.5 1008h0M1074.5 1007.5h0M1074.5 1007.5h0M1074.5 1007.5h0M1074.5 1008.5h0M1075 1008h0M1075 1008.5h0M1075 1009h0M1075 1008.5h0M1075 1007.5h0M1075.5 1008h0M1075.5 1009h0M1076 1008h0M1076 1008.5h0M1076 1008h0M1077 1007.5h0M1077.5 1007.5h0M1077.5 1008h0M1077.5 1007.5h0M1077.5 1008.5h0M1078 1009h0M1078 1008h0M1078.5 1007.5h0M1078.5 1008h0M1078.5 1007.5h0M1078.5 1007h0M1078.5 1008h0M1079 1008.5h0M1079.5 1007.5h0M1080 1008h0M1080.5 1008h0M1080.5 1008h0M1081 1008h0M1081 1008h0M1081 1008h0M1081.5 1008h0M1081.5 1008.5h0M1081.5 1008h0M1081.5 1007.5h0M1082 1008.5h0M1082 1008h0M1082 1009h0M1082 1008h0M1082 1009h0M1082.5 1008h0M1083 1008h0M1083 1008.5h0M1083 1008.5h0M1083.5 1008h0M1084 1008h0M1084 1007.5h0M1084 1007.5h0M1084 1008.5h0M1084.5 1007h0M1084.5 1009h0M1084.5 1008.5h0M1084.5 1008h0M1084.5 1009h0M1084.5 1009h0M1085 1008.5h0M1085 1007h0M1085 1007h0M1085 1008.5h0M1085.5 1007.5h0M1085.5 1008.5h0M1086 1008h0M1086 1008.5h0M1086 1008h0M1086 1008h0M1086 1007.5h0M1086.5 1008h0M1086.5 1007.5h0M1087 1008.5h0M1087 1008h0M1087 1008.5h0M1087 1008.5h0M1087 1008h0M1087.5 1007.5h0M1087.5 1008h0M1088 1008h0M1088 1008.5h0M1088 1007.5h0M1088 1007.5h0M1088.5 1008.5h0M1088.5 1008h0M1088.5 1008.5h0M1088.5 1008.5h0M1088.5 1007.5h0M1089 1008h0M1089 1008h0M1089 1008h0M1089 1008.5h0M1089 1009h0M1089 1008h0M1089 1008h0M1089.5 1008.5h0M1089.5 1008.5h0M1090 1008h0M1090 1008.5h0M1090.5 1008.5h0M1090.5 1008h0M1090.5 1008.5h0M1091 1007.5h0M1091 1008.5h0M1091 1007.5h0M1091.5 1007.5h0M1092 1007.5h0M1092 1008h0M1092 1008h0M1092 1008h0M1092 1008h0M1092 1008h0M1092.5 1008h0M1092.5 1008h0M1092.5 1008h0M1093 1008h0M1093 1008h0M1093 1007.5h0M1094 1007.5h0M1094 1008.5h0M1094 1007.5h0M1094 1008h0M1094 1007.5h0M1094.5 1007.5h0M1094.5 1007.5h0M1095 1007.5h0M1095 1008.5h0M1095 1007.5h0M1095 1008h0M1095.5 1008h0M1095.5 1008h0M1096.5 1007.5h0M1096.5 1008.5h0M1096.5 1008h0M1096.5 1008h0M1096.5 1008.5h0M1097.5 1007.5h0M1097.5 1007.5h0M1097.5 1008h0M1098 1008.5h0M1098 1008h0M1098 1009h0M1098.5 1008.5h0M1098.5 1007.5h0M1099 1008.5h0M1099 1008.5h0M1099.5 1007.5h0M1099.5 1008.5h0M1099.5 1007.5h0M1100 1008.5h0M1100 1008.5h0M1100 1009h0M1100.5 1008.5h0M1100.5 1008h0M1100.5 1007.5h0M1100.5 1009h0M1101 1008.5h0M1101 1008.5h0M1101 1008h0M1101.5 1007h0M1101.5 1008.5h0M1101.5 1007.5h0M1101.5 1007h0M1102 1008.5h0M1102.5 1007.5h0M1102.5 1008.5h0M1102.5 1007.5h0M1102.5 1008h0M1103 1008.5h0M1103 1007.5h0M1103 1008h0M1103.5 1008h0M1103.5 1008.5h0M1103.5 1008h0M1104 1008.5h0M1104 1007.5h0M1104.5 1007.5h0M1104.5 1008h0M1104.5 1008.5h0M1104.5 1008.5h0M1104.5 1008h0M1104.5 1008h0M1105 1008.5h0M1105 1008.5h0M1105 1007.5h0M1105 1005.5h0M1105.5 1009h0M1105.5 1008h0M1105.5 1008h0M1105.5 1008h0M1106 1008h0M1106.5 1008h0M1106.5 1008h0M1106.5 1007h0M1106.5 1008h0M1106.5 1008h0M1107 1008.5h0M1107.5 1008.5h0M1107.5 1008h0M1107.5 1008h0M1107.5 1008h0M1107.5 1009h0M1108 1008.5h0M1108 1008h0M1108 1008.5h0M1108.5 1007.5h0M1108.5 1008.5h0M1109.5 1008h0M1110 1007.5h0M1110 1008h0M1111 1008h0M1111 1008.5h0M1111 1008.5h0M1111.5 1007.5h0M1111.5 1008h0M1111.5 1008.5h0M1111.5 1008.5h0M1111.5 1008.5h0M1112 1008.5h0M1112 1008.5h0M1112.5 1008.5h0M1113 1008h0M1113 1007h0M1113 1008.5h0M1113 1008h0M1113.5 1007.5h0M1113.5 1008h0M1113.5 1007.5h0M1113.5 1008h0M1114 1007h0M1114 1008.5h0M1114 1008h0M1114.5 1008h0M1114.5 1007.5h0M1114.5 1007.5h0M1114.5 1008.5h0M1114.5 1008.5h0M1115 1008h0M1115.5 1007.5h0M1115.5 1008.5h0M1116 1008h0M1116 1008.5h0M1116 1007.5h0M1116.5 1008h0M1116.5 1008h0M1117 1008h0M1117 1008.5h0M1117 1007.5h0M1117 1008.5h0M1117.5 1008h0M1118 1008h0M1118 1008h0M1118 1008h0M1118.5 1007.5h0M1119 1008h0M1119 1008h0M1119 1008h0M1119.5 1008h0M1119.5 1008h0M1120 1007.5h0M1120 1008.5h0M1120.5 1009h0M1120.5 1008h0M1121 1008.5h0M1121.5 1007.5h0M1121.5 1008h0M1121.5 1007.5h0M1122 1008h0M1122.5 1007.5h0M1122.5 1008h0M1122.5 1008h0M1122.5 1008h0M1123.5 1007.5h0M1124 1008.5h0M1124 1008.5h0M1124 1007.5h0M1124.5 1007.5h0M1124.5 1008.5h0M1125 1007.5h0M1125 1008h0M1125.5 1007h0M1125.5 1007.5h0M1125.5 1008h0M1126 1008.5h0M1126 1009h0M1126.5 1008h0M1126.5 1008.5h0M1126.5 1008h0M1126.5 1008h0M1127 1008h0M1127 1008h0M1127 1007.5h0M1127.5 1008h0M1128 1007.5h0M1128 1008h0M1128 1009.5h0M1128 1007.5h0M1128.5 1009h0M1129 1007.5h0M1129 1008h0M1129.5 1008.5h0M1129.5 1008.5h0M1129.5 1008.5h0M1129.5 1008.5h0M1130 1008h0M1130 1008h0M1130 1008.5h0M1130.5 1008.5h0M1130.5 1009h0M1130.5 1007h0M1130.5 1008.5h0M1130.5 1008.5h0M1131 1008h0M1131 1007.5h0M1131 1007.5h0M1131.5 1007.5h0M1131.5 1009h0M1131.5 1008h0M1132 1008h0M1132 1008h0M1132 1008.5h0M1132 1008.5h0M1132.5 1008h0M1132.5 1008h0M1132.5 1007.5h0M1132.5 1008h0M1132.5 1008h0M1133 1008h0M1133 1008h0M1133 1008.5h0M1133 1008.5h0M1133 1008h0M1133.5 1008.5h0M1134 1008h0M1134 1008.5h0M1134 1008h0M1134.5 1008.5h0M1134.5 1008.5h0M1134.5 1008h0M1135 1007.5h0M1135 1008h0M1135 1008h0M1135.5 1007.5h0M1136 1008h0M1136 1008h0M1136 1008h0M1136.5 1007.5h0M1136.5 1008h0M1137 1009h0M1137 1008.5h0M1137.5 1008h0M1138 1009h0M1138 1008h0M1138 1008.5h0M1138.5 1008h0M1138.5 1008h0M1139 1008.5h0M1139 1009h0M1139.5 1007.5h0M1139.5 1007.5h0M1140 1009h0M1140 1008h0M1140.5 1008h0M1140.5 1008h0M1140.5 1008h0M1141 1008.5h0M1141 1007.5h0M1141 1007.5h0M1141.5 1008h0M1141.5 1008.5h0M1141.5 1008.5h0M1141.5 1008h0M1142 1008.5h0M1142 1008.5h0M1142 1008.5h0M1142 1008.5h0M1142 1008h0M1142 1007.5h0M1142.5 1008.5h0M1142.5 1007.5h0M1142.5 1008.5h0M1143 1007.5h0M1143 1007.5h0M1143 1008h0M1143 1007.5h0M1143 1008h0M1143.5 1008h0M1143.5 1008h0M1143.5 1009h0M1143.5 1008.5h0M1143.5 1008h0M1143.5 1008.5h0M1144 1008.5h0M1145 1008h0M1145 1007.5h0M1145.5 1008h0M1145.5 1009h0M1146 1008h0M1146 1008.5h0M1146.5 1009h0M1146.5 1008h0M1146.5 1008.5h0M1147 1007h0M1147 1007.5h0M1147 1007h0M1147 1008h0M1147 1008h0M1147 1008h0M1147 1008h0M1147.5 1009.5h0M1147.5 1008.5h0M1147.5 1008.5h0M1148 1007.5h0M1148 1007.5h0M1148 1008h0M1148 1008h0M1148.5 1008h0M1148.5 1008h0M1149 1007.5h0M1149 1008h0M1149.5 1008h0M1149.5 1008.5h0M1149.5 1008.5h0M1150 1009h0M1150.5 1008h0M1150.5 1008h0M1150.5 1008.5h0M1150.5 1008h0M1151 1008.5h0M1151 1008h0M1151 1008h0M1151.5 1007.5h0M1151.5 1008h0M1151.5 1009h0M1151.5 1009h0M1152 1008h0M1152 1008.5h0M1152.5 1008.5h0M1152.5 1007.5h0M1152.5 1008h0M1152.5 1008h0M1153 1007.5h0M1153 1007.5h0M1153 1008h0M1153 1007h0M1153.5 1007h0M1153.5 1006.5h0M1153.5 1007.5h0M1153.5 1007h0M1153.5 1007.5h0M1154 1007.5h0M1154 1007h0M1154 1008h0M1154 1006.5h0M1154.5 1007.5h0M1154.5 1007.5h0M1154.5 1008h0M1154.5 1007h0M1154.5 1007.5h0M1154.5 1007.5h0M1155 1008h0M1155.5 1007h0M1155.5 1007h0M1155.5 1007h0M1155.5 1007.5h0M1155.5 1008h0M1155.5 1006h0M1156 1006.5h0M1156 1008h0M1156.5 1007h0M1156.5 1007h0M1157 1007h0M1157 1007h0M1157 1007h0M1157.5 1007.5h0M1157.5 1007h0M1157.5 1008h0M1158 1006h0M1158 1007.5h0M1158.5 1007h0M1159 1008h0M1159 1007h0M1159 1007.5h0M1159.5 1008h0M1159.5 1007.5h0M1160 1007h0M1160 1007h0M1160 1007.5h0M1160.5 1008h0M1160.5 1007.5h0M1160.5 1007.5h0M1160.5 1007h0M1161 1007.5h0M1161.5 1008h0M1161.5 1007h0M1161.5 1007h0M1162.5 1007h0M1163 1008h0M1163 1007.5h0M1163 1007.5h0M1163 1007h0M1163.5 1006.5h0M1163.5 1007.5h0M1163.5 1007h0M1163.5 1007.5h0M1163.5 1007.5h0M1163.5 1007h0M1163.5 1007h0M1164 1007.5h0M1164 1006.5h0M1164 1006h0M1164 1008h0M1164.5 1007h0M1164.5 1007.5h0M1164.5 1007.5h0M1165 1008h0M1165 1007h0M1165.5 1007h0M1165.5 1007.5h0M1165.5 1007.5h0M1165.5 1007h0M1166 1007.5h0M1166.5 1006.5h0M1166.5 1007.5h0M1166.5 1007h0M1167 1007.5h0M1167 1007h0M1167 1007h0M1167.5 1007.5h0M1167.5 1007.5h0M1167.5 1008h0M1167.5 1007.5h0M1167.5 1007h0M1168 1007h0M1168 1007.5h0M1168 1007h0M1168.5 1008h0M1168.5 1006.5h0M1168.5 1008h0M1169 1007h0M1169 1007h0M1169 1007h0M1169 1006.5h0M1169.5 1008h0M1169.5 1008h0M1169.5 1008h0M1169.5 1008h0M1170 1008h0M1170 1006.5h0M1170.5 1007.5h0M1170.5 1007h0M1170.5 1007.5h0M1171 1007h0M1171 1007h0M1171.5 1007h0M1171.5 1007.5h0M1171.5 1008h0M1172 1007h0M1172 1007.5h0M1172.5 1007.5h0M1173 1007h0M1173 1007h0M1173 1008h0M1173.5 1008h0M1173.5 1007.5h0M1174 1007.5h0M1174 1007.5h0M1174.5 1007h0M1174.5 1007h0M1175 1007.5h0M1175 1007h0M1175.5 1007.5h0M1176 1008h0M1176 1008h0M1176 1007h0M1176 1007h0M1176.5 1007h0M1176.5 1007.5h0M1176.5 1007h0M1176.5 1008h0M1176.5 1007h0M1176.5 1007.5h0M1177 1007h0M1177 1007.5h0M1177 1007h0M1177 1006.5h0M1178 1007.5h0M1178 1007.5h0M1178.5 1007.5h0M1178.5 1007h0M1178.5 1007h0M1178.5 1007.5h0M1178.5 1007.5h0M1179 1008h0M1179 1007.5h0M1179 1007h0M1179 1008h0M1179.5 1007h0M1179.5 1007h0M1179.5 1007.5h0M1179.5 1007.5h0M1179.5 1006.5h0M1179.5 1007.5h0M1180 1007h0M1180 1007h0M1180 1008h0M1180.5 1006.5h0M1181 1007.5h0M1181 1007.5h0M1181 1007.5h0M1181.5 1008h0M1181.5 1006.5h0M1181.5 1007h0M1181.5 1007h0M1181.5 1006.5h0M1182 1007h0M1182 1007.5h0M1182.5 1007h0M1183 1008h0M1183 1006.5h0M1183 1007.5h0M1183 1007.5h0M1183.5 1007.5h0M1183.5 1007.5h0M1183.5 1007h0M1184 1007.5h0M1184 1007h0M1184.5 1007h0M1184.5 1007h0M1185 1007h0M1185.5 1007.5h0M1185.5 1007h0M1185.5 1007.5h0M1185.5 1007h0M1186 1007.5h0M1186.5 1008h0M1186.5 1007h0M1186.5 1007h0M1186.5 1007.5h0M1187 1007.5h0M1187.5 1007.5h0M1187.5 1008h0M1187.5 1007h0M1187.5 1007.5h0M1188 1008h0M1188 1007h0M1188.5 1007.5h0M1188.5 1007.5h0M1189 1007.5h0M1189 1007.5h0M1190 1007h0M1190 1007.5h0M1190 1007.5h0M1190.5 1007.5h0M1190.5 1007.5h0M1190.5 1008h0M1190.5 1007.5h0M1190.5 1008h0M1190.5 1008h0M1191 1007.5h0M1191 1007.5h0M1191 1008h0M1191 1007h0M1191.5 1006.5h0M1191.5 1006.5h0M1192 1007.5h0M1192 1007h0M1192 1007h0M1192 1007.5h0M1192 1007.5h0M1192 1007h0M1192.5 1007h0M1192.5 1007h0M1192.5 1007.5h0M1193 1007h0M1193.5 1007.5h0M1195 1008h0M1195 1007h0M1195.5 1007h0M1195.5 1007h0M1196 1007h0M1196 1007h0M1197 1007.5h0M1197 1006.5h0M1197 1007.5h0M1197 1007h0M1197.5 1007.5h0M1197.5 1007h0M1197.5 1006h0M1198 1007.5h0M1198 1006.5h0M1198.5 1007.5h0M1198.5 1007h0M1198.5 1007h0M1199 1006.5h0M1199.5 1007.5h0M1199.5 1007h0M1199.5 1007h0M1199.5 1007.5h0M1199.5 1006h0M1199.5 1007.5h0M1199.5 1008.5h0M1200 1007.5h0M1200.5 1007h0M1200.5 1007h0M1201 1007.5h0M1201 1008.5h0M1201 1007h0M1201 1006h0M1201 1007.5h0M1201.5 1007h0M1201.5 1007h0M1201.5 1007h0M1202 1006.5h0M1202 1007.5h0M1202 1007h0M1202 1007.5h0M1202 1007h0M1202 1007h0M1202 1006.5h0M1202.5 1008h0M1202.5 1007h0M1202.5 1007.5h0M1202.5 1008h0M1203 1007.5h0M1203 1007.5h0M1203.5 1006.5h0M1204 1008h0M1204 1007.5h0M1205 1007h0M1205.5 1006.5h0M1205.5 1007.5h0M1205.5 1007h0M1206 1008h0M1206 1006.5h0M1206 1007h0M1206.5 1007.5h0M1206.5 1007.5h0M1207 1006.5h0M1207 1006.5h0M1207 1007h0M1207 1008h0M1207 1007h0M1207.5 1007h0M1207.5 1007.5h0M1208 1007.5h0M1208 1008h0M1208 1007h0M1208.5 1007h0M1208.5 1007.5h0M1209 1007h0M1209 1007.5h0M1209.5 1007h0M1209.5 1007h0M1209.5 1007h0M1210 1007h0M1210 1007h0M1210 1007h0M1210 1007h0M1210.5 1007.5h0M1210.5 1006h0M1210.5 1007h0M1211 1008h0M1212 1007.5h0M1212 1006.5h0M1212 1007.5h0M1212 1006.5h0M1212 1008h0M1212 1007h0M1212 1008h0M1212.5 1008h0M1212.5 1007h0M1213 1007h0M1213 1007.5h0M1213.5 1007h0M1213.5 1007h0M1214 1007.5h0M1214 1007h0M1214.5 1007.5h0M1215 1008h0M1215 1007.5h0M1215 1007.5h0M1215.5 1006h0M1215.5 1006h0M1215.5 1007.5h0M1216 1007.5h0M1216 1007.5h0M1216 1007.5h0M1216.5 1007h0M1216.5 1007h0M1216.5 1007.5h0M1217 1007h0M1217 1006.5h0M1217.5 1007.5h0M1217.5 1007.5h0M1217.5 1007.5h0M1217.5 1007h0M1217.5 1007h0M1217.5 1007h0M1217.5 1007h0M1218 1007.5h0M1218 1008h0M1218 1007h0M1218.5 1007.5h0M1218.5 1007h0M1218.5 1006.5h0M1218.5 1007h0M1219 1007h0M1219 1007h0M1219 1007h0M1219.5 1007.5h0M1219.5 1008h0M1219.5 1007h0M1219.5 1007.5h0M1219.5 1007.5h0M1219.5 1007.5h0M1219.5 1007.5h0M1220 1007.5h0M1220 1007.5h0M1220.5 1006.5h0M1220.5 1007h0M1220.5 1007h0M1220.5 1007h0M1221 1007h0M1221 1007h0M1221.5 1007.5h0M1221.5 1007h0M1222 1007.5h0M1222 1008h0M1222.5 1007h0M1223 1007h0M1223 1007h0M1223 1008h0M1223.5 1007.5h0M1223.5 1006.5h0M1223.5 1007.5h0M1223.5 1006.5h0M1224 1007.5h0M1224 1007.5h0M1224 1007.5h0M1224.5 1006.5h0M1224.5 1007.5h0M1225 1007.5h0M1225.5 1008h0M1225.5 1007.5h0M1225.5 1007.5h0M1225.5 1007h0M1225.5 1007.5h0M1225.5 1007.5h0M1226 1007.5h0M1226 1007.5h0M1226 1007h0M1226 1006.5h0M1226 1007.5h0M1226.5 1008h0M1226.5 1008h0M1226.5 1007h0M1227 1008h0M1227 1008h0M1227 1007.5h0M1227 1007h0M1227.5 1007.5h0M1228 1007.5h0M1228 1008.5h0M1228.5 1007h0M1228.5 1007h0M1228.5 1008h0M1228.5 1008h0M1229 1007.5h0M1229 1007h0M1229 1007h0M1229 1007.5h0M1229 1007.5h0M1229.5 1007.5h0M1229.5 1007h0M1229.5 1006.5h0M1229.5 1008h0M1230 1007.5h0M1230.5 1007h0M1230.5 1007.5h0M1230.5 1006.5h0M1231 1007.5h0M1231 1007h0M1232 1007.5h0M1232 1007.5h0M1232 1007.5h0M1232.5 1006.5h0M1232.5 1007h0M1232.5 1007h0M1233 1008h0M1233 1008h0M1233.5 1007.5h0M1234 1007.5h0M1234.5 1007h0M1234.5 1007h0M1234.5 1008h0M1234.5 1007.5h0M1235 1008h0M1235.5 1008.5h0M1235.5 1007h0M1236 1007.5h0M1236 1007h0M1236.5 1007.5h0M1236.5 1006.5h0M1236.5 1007.5h0M1236.5 1007h0M1237 1007.5h0M1237.5 1007.5h0M1237.5 1007.5h0M1237.5 1007.5h0M1237.5 1007.5h0M1238 1007h0M1238 1006.5h0M1238 1007h0M1238.5 1007h0M1238.5 1007h0M1239.5 1007.5h0M1239.5 1007.5h0M1239.5 1008h0M1240 1008h0M1240 1007h0M1240.5 1007.5h0M1241 1007.5h0M1241.5 1007h0M1241.5 1007.5h0M1242 1006.5h0M1242 1007.5h0M1242 1007h0M1242.5 1006.5h0M1242.5 1007h0M1242.5 1008h0M1242.5 1007.5h0M1243 1008h0M1243 1008.5h0M1243 1007.5h0M1243.5 1007h0M1243.5 1007.5h0M1243.5 1008h0M1243.5 1008h0M1244 1007.5h0M1244 1007h0M1244 1008h0M1244 1006.5h0M1244.5 1007h0M1244.5 1007.5h0M1244.5 1007.5h0M1244.5 1007h0M1245 1007.5h0M1245.5 1007.5h0M1245.5 1007.5h0M1245.5 1007h0M1246 1007.5h0M1246 1007.5h0M1246 1007h0M1246 1007h0M1246 1008h0M1246 1007.5h0M1246.5 1007.5h0M1247 1007h0M1247 1006h0M1247 1007.5h0M1247.5 1007h0M1247.5 1007.5h0M1247.5 1008h0M1247.5 1007.5h0M1247.5 1007h0M1248 1007h0M1248.5 1006.5h0M1249 1008h0M1249 1007h0M1249.5 1007h0M1249.5 1007h0M1249.5 1007.5h0M1249.5 1007h0M1249.5 1007.5h0M1250 1007.5h0M1250 1007.5h0M1250.5 1007.5h0M1251 1006h0M1251.5 1008h0M1251.5 1007h0M1251.5 1008h0M1251.5 1007.5h0M1251.5 1007h0M1251.5 1007h0M1251.5 1007h0M1252 1007.5h0M1252 1007.5h0M1252.5 1006.5h0M1252.5 1006.5h0M1253 1008h0M1253 1007.5h0M1253 1006.5h0M1253 1008h0M1253.5 1008h0M1253.5 1007.5h0M1254 1007.5h0M1254 1007h0M1254 1006h0M1254.5 1007.5h0M1255 1007h0M1255 1008h0M1255 1007h0M1255.5 1007.5h0M1257 1007h0M1257 1006.5h0M1257.5 1007h0M1258 1008.5h0M1258 1007.5h0M1258 1006.5h0M1258.5 1008h0M1258.5 1008h0M1258.5 1007h0M1259 1007.5h0M1259 1007.5h0M1259.5 1007h0M1259.5 1007.5h0M1259.5 1006.5h0M1260 1007.5h0M1260 1008h0M1260.5 1007h0M1260.5 1007.5h0M1260.5 1007.5h0M1260.5 1007.5h0M1261 1008h0M1261 1007.5h0M1261 1007h0M1261 1007.5h0M1261 1007.5h0M1261 1006.5h0M1261.5 1007.5h0M1261.5 1007h0M1261.5 1007h0M1261.5 1007.5h0M1261.5 1008h0M1262 1007.5h0M1262 1007h0M1262.5 1007h0M1262.5 1007.5h0M1263 1007.5h0M1263.5 1008.5h0M1263.5 1007h0M1264 1007h0M1264.5 1008h0M1264.5 1007h0M1264.5 1007.5h0M1265 1006.5h0M1265 1006.5h0M1265.5 1007.5h0M1266.5 1007h0M1266.5 1007.5h0M1266.5 1007h0M1266.5 1007.5h0M1267 1006.5h0M1267 1007h0M1267 1007h0M1267 1008h0M1267.5 1007.5h0M1267.5 1007h0M1268 1007.5h0M1268 1007h0M1268.5 1007.5h0M1268.5 1007h0M1268.5 1006.5h0M1268.5 1007.5h0M1269 1008h0M1269 1007.5h0M1269 1006.5h0M1269 1007.5h0M1269.5 1007.5h0M1269.5 1007.5h0M1270 1008h0M1270 1007h0M1270.5 1007.5h0M1270.5 1007h0M1270.5 1007.5h0M1270.5 1007h0M1270.5 1007.5h0M1270.5 1007h0M1270.5 1007h0M1271 1007.5h0M1271 1007.5h0M1271 1008h0M1271 1007.5h0M1271.5 1008h0M1271.5 1008h0M1272 1007.5h0M1272.5 1008h0M1272.5 1008h0M1272.5 1007h0M1273 1007.5h0M1273 1007h0M1273 1007.5h0M1273 1007.5h0M1273.5 1007.5h0M1273.5 1007h0M1274 1007.5h0M1274 1008h0M1274 1007.5h0M1274.5 1007.5h0M1274.5 1007h0M1275 1007h0M1275 1008h0M1275 1007.5h0M1275 1007h0M1275.5 1007.5h0M1275.5 1008h0M1275.5 1006.5h0M1275.5 1008h0M1276 1007h0M1276 1007.5h0M1276 1007.5h0M1276 1007h0M1276 1007h0M1276 1007h0M1276.5 1007h0M1276.5 1007h0M1276.5 1008h0M1276.5 1007h0M1277 1008h0M1277.5 1007h0M1278 1007h0M1278 1007.5h0M1278 1008h0M1278.5 1007h0M1279 1007.5h0M1279 1008h0M1279.5 1007h0M1279.5 1007.5h0M1279.5 1007h0M1280 1007h0M1280 1007h0M1280.5 1007h0M1280.5 1007.5h0M1281 1006.5h0M1281 1006.5h0M1281 1007h0M1281 1006.5h0M1281 1007h0M1281.5 1007h0M1281.5 1007h0M1282 1006.5h0M1282 1007h0M1282 1007h0M1282 1007.5h0M1282 1006.5h0M1282.5 1006.5h0M1282.5 1006.5h0M1283 1007h0M1283 1007h0M1283.5 1007.5h0M1283.5 1007h0M1283.5 1007h0M1283.5 1007h0M1284.5 1007.5h0M1284.5 1006.5h0M1285 1007h0M1285 1007.5h0M1285 1008h0M1285.5 1007h0M1285.5 1007h0M1286 1007.5h0M1286 1007.5h0M1286.5 1007.5h0M1286.5 1008h0M1287 1007h0M1287 1007.5h0M1287.5 1008h0M1287.5 1007h0M1287.5 1008.5h0M1288 1007.5h0M1288 1007.5h0M1288.5 1008h0M1288.5 1007.5h0M1288.5 1006h0M1288.5 1007.5h0M1289 1007h0M1289.5 1006.5h0M1290 1007.5h0M1290 1007h0M1290 1007h0M1290 1008.5h0M1290 1008h0M1290.5 1008h0M1290.5 1008h0M1290.5 1006.5h0M1290.5 1008h0M1290.5 1007h0M1290.5 1007h0M1291 1007.5h0M1291 1007h0M1291 1008h0M1291 1007h0M1291 1007.5h0M1291 1007.5h0M1291 1007h0M1292 1007h0M1292.5 1007h0M1292.5 1007.5h0M1293 1007h0M1293 1007.5h0M1293 1007h0M1293.5 1007.5h0M1293.5 1008h0M1294 1007.5h0M1294 1008.5h0M1294 1007.5h0M1294.5 1007.5h0M1294.5 1007.5h0M1295 1008h0M1295 1007.5h0M1295.5 1007.5h0M1295.5 1007h0M1295.5 1007h0M1295.5 1007.5h0M1296 1006.5h0M1296.5 1007h0M1296.5 1007h0M1296.5 1008h0M1296.5 1007.5h0M1296.5 1008h0M1297 1007h0M1297 1007.5h0M1297 1007h0M1297 1006.5h0M1297 1007h0M1297.5 1007h0M1298 1007h0M1298 1006.5h0M1298.5 1007.5h0M1298.5 1007.5h0M1299 1007.5h0M1299 1008h0M1299 1007h0M1299 1007.5h0M1299.5 1007.5h0M1299.5 1007h0M1299.5 1007.5h0M1300 1007h0M1300 1007h0M1300 1007.5h0M1300 1006.5h0M1300 1008h0M1300 1007.5h0M1300.5 1007.5h0M1300.5 1008h0M1300.5 1007.5h0M1301 1007.5h0M1301 1008h0M1301.5 1007h0M1301.5 1006.5h0M1301.5 1007.5h0M1301.5 1007h0M1301.5 1008h0M1302 1007.5h0M1302.5 1007h0M1302.5 1007.5h0M1302.5 1007h0M1302.5 1007.5h0M1302.5 1007h0M1303 1007.5h0" stroke="#000" stroke-width="3.8" stroke-linecap="round" fill="none"/>
<path clip-path="url(#cb)" d="M1153 1001.5h0" stroke="#000" stroke-width="2.6" stroke-linecap="round" fill="none"/>
<line x1="105.5" y1="954.5" x2="1485.5" y2="954.5" stroke="#000" stroke-width="1.11"/>
<line x1="162" y1="1011.3" x2="162" y2="725.6" stroke="#800080" stroke-width="2.08" stroke-dasharray="2.08 3.44" stroke-dashoffset="5.06"/>
<line x1="169" y1="1011.3" x2="169" y2="725.6" stroke="#800080" stroke-width="2.08" stroke-dasharray="2.08 3.44" stroke-dashoffset="5.06"/>
<line x1="405" y1="1011.3" x2="405" y2="725.6" stroke="#800080" stroke-width="2.08" stroke-dasharray="2.08 3.44" stroke-dashoffset="5.06"/>
<line x1="445" y1="1011.3" x2="445" y2="725.6" stroke="#800080" stroke-width="2.08" stroke-dasharray="2.08 3.44" stroke-dashoffset="5.06"/>
<line x1="1152.9" y1="1011.3" x2="1152.9" y2="725.6" stroke="#800080" stroke-width="2.08" stroke-dasharray="2.08 3.44" stroke-dashoffset="5.06"/>
<line x1="1303" y1="1011.3" x2="1303" y2="725.6" stroke="#800080" stroke-width="2.08" stroke-dasharray="2.08 3.44" stroke-dashoffset="5.06"/>
<rect x="105.5" y="725.6" width="1380" height="285.7" fill="none" stroke="#000" stroke-width="1.11"/>
<line x1="162.5" y1="1011.3" x2="162.5" y2="1016.16" stroke="#000" stroke-width="1.11"/>
<text x="159.33" y="1031.5" font-size="14.72" textLength="8.14" lengthAdjust="spacingAndGlyphs">0</text>
<line x1="448.5" y1="1011.3" x2="448.5" y2="1016.16" stroke="#000" stroke-width="1.11"/>
<text x="430.31" y="1031.5" font-size="14.72" textLength="34.8" lengthAdjust="spacingAndGlyphs">2000</text>
<line x1="733.5" y1="1011.3" x2="733.5" y2="1016.16" stroke="#000" stroke-width="1.11"/>
<text x="715.97" y="1031.5" font-size="14.72" textLength="34.71" lengthAdjust="spacingAndGlyphs">4000</text>
<line x1="1018.5" y1="1011.3" x2="1018.5" y2="1016.16" stroke="#000" stroke-width="1.11"/>
<text x="1001.38" y="1031.5" font-size="14.72" textLength="34.86" lengthAdjust="spacingAndGlyphs">6000</text>
<line x1="1304.5" y1="1011.3" x2="1304.5" y2="1016.16" stroke="#000" stroke-width="1.11"/>
<text x="1286.38" y="1031.5" font-size="14.72" textLength="34.77" lengthAdjust="spacingAndGlyphs">8000</text>
<line x1="100.64" y1="758.5" x2="105.5" y2="758.5" stroke="#000" stroke-width="1.11"/>
<text x="15.89" y="763.6" font-size="14.72" textLength="22.34" lengthAdjust="spacingAndGlyphs">not</text>
<text x="42.96" y="763.6" font-size="14.72" textLength="52.03" lengthAdjust="spacingAndGlyphs">Kalman</text>
<line x1="100.64" y1="791.4" x2="105.5" y2="791.4" stroke="#000" stroke-width="1.11"/>
<text x="31.73" y="796.5" font-size="14.72" textLength="22.34" lengthAdjust="spacingAndGlyphs">not</text>
<text x="58.82" y="796.5" font-size="14.72" textLength="35.15" lengthAdjust="spacingAndGlyphs">track</text>
<line x1="100.64" y1="823.2" x2="105.5" y2="823.2" stroke="#000" stroke-width="1.11"/>
<text x="26.41" y="828.3" font-size="14.72" textLength="26.84" lengthAdjust="spacingAndGlyphs">Sat.</text>
<text x="58.01" y="828.3" font-size="14.72" textLength="37.45" lengthAdjust="spacingAndGlyphs">pixel.</text>
<line x1="100.64" y1="856.2" x2="105.5" y2="856.2" stroke="#000" stroke-width="1.11"/>
<text x="37.76" y="861.3" font-size="14.72" textLength="25.79" lengthAdjust="spacingAndGlyphs">Ion.</text>
<text x="68.26" y="861.3" font-size="14.72" textLength="27.18" lengthAdjust="spacingAndGlyphs">rad.</text>
<line x1="100.64" y1="889.1" x2="105.5" y2="889.1" stroke="#000" stroke-width="1.11"/>
<text x="51.45" y="894.2" font-size="14.72" textLength="14.73" lengthAdjust="spacingAndGlyphs">dr</text>
<text x="70.91" y="894.2" font-size="14.72" textLength="10.45" lengthAdjust="spacingAndGlyphs">&gt;</text>
<text x="86.9" y="894.2" font-size="14.72" textLength="7.68" lengthAdjust="spacingAndGlyphs">5</text>
<line x1="100.64" y1="921.3" x2="105.5" y2="921.3" stroke="#000" stroke-width="1.11"/>
<text x="12.95" y="926.4" font-size="14.72" textLength="29" lengthAdjust="spacingAndGlyphs">OBS</text>
<text x="46.7" y="926.4" font-size="14.72" textLength="22.34" lengthAdjust="spacingAndGlyphs">not</text>
<text x="73.78" y="926.4" font-size="14.72" textLength="20.38" lengthAdjust="spacingAndGlyphs">OK</text>
<line x1="100.64" y1="957.4" x2="105.5" y2="957.4" stroke="#000" stroke-width="1.11"/>
<text x="77.61" y="962.4" font-size="14.72" textLength="16.98" lengthAdjust="spacingAndGlyphs">10</text>
<line x1="100.64" y1="983.4" x2="105.5" y2="983.4" stroke="#000" stroke-width="1.11"/>
<text x="86.9" y="988.4" font-size="14.72" textLength="7.68" lengthAdjust="spacingAndGlyphs">5</text>
<line x1="100.64" y1="1009.5" x2="105.5" y2="1009.5" stroke="#000" stroke-width="1.11"/>
<text x="88.23" y="1013.9" font-size="14.72" textLength="8.14" lengthAdjust="spacingAndGlyphs">0</text>
<line x1="102.72" y1="970.5" x2="105.5" y2="970.5" stroke="#000" stroke-width="0.83"/>
<line x1="102.72" y1="996.4" x2="105.5" y2="996.4" stroke="#000" stroke-width="0.83"/>
<g transform="translate(68.9 983.5) rotate(-90)">
<text x="-7.58" y="0" font-size="14.72" textLength="14.73" lengthAdjust="spacingAndGlyphs">dr</text>
</g>
</svg></body></html>
